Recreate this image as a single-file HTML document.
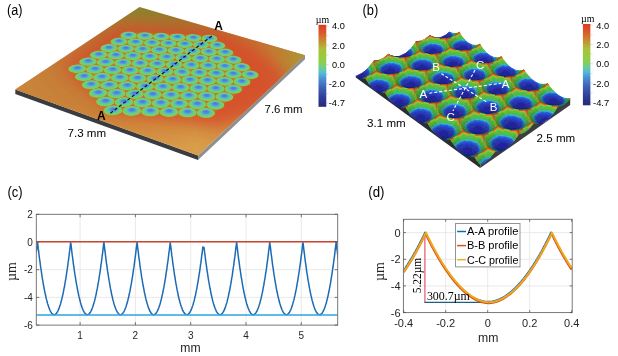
<!DOCTYPE html>
<html><head><meta charset="utf-8"><title>Figure</title>
<style>html,body{margin:0;padding:0;background:#fff;overflow:hidden}svg{display:block}</style></head>
<body><svg width="618" height="356" viewBox="0 0 618 356">
<rect width="618" height="356" fill="#fff"/>
<defs>
<radialGradient id="lensA" cx="0.5" cy="0.5" r="0.5" fx="0.5" fy="0.66">
<stop offset="0" stop-color="#4876dc"/><stop offset="0.3" stop-color="#528ee0"/><stop offset="0.5" stop-color="#5abcc4"/>
<stop offset="0.66" stop-color="#68ce80"/><stop offset="0.9" stop-color="#7ad05e"/><stop offset="0.97" stop-color="#98c44a"/><stop offset="1" stop-color="#b0a040"/>
</radialGradient>
<linearGradient id="plateA" gradientUnits="userSpaceOnUse" x1="139" y1="7" x2="150" y2="150">
<stop offset="0" stop-color="#7f862c"/><stop offset="0.12" stop-color="#a6742e"/><stop offset="0.3" stop-color="#c0622e"/>
<stop offset="0.7" stop-color="#ca7e36"/><stop offset="1" stop-color="#d99e4a"/>
</linearGradient>
<linearGradient id="plateA2" gradientUnits="userSpaceOnUse" x1="15" y1="90" x2="305" y2="60">
<stop offset="0" stop-color="#c98a3c" stop-opacity="0.9"/><stop offset="0.25" stop-color="#c98a3c" stop-opacity="0.3"/>
<stop offset="0.6" stop-color="#d0602c" stop-opacity="0"/><stop offset="0.85" stop-color="#c98436" stop-opacity="0.5"/><stop offset="1" stop-color="#a89a34" stop-opacity="0.9"/>
</linearGradient>
<filter id="blurA" x="-20%" y="-20%" width="140%" height="140%"><feGaussianBlur stdDeviation="7"/></filter>
<filter id="blurS2" x="-20%" y="-20%" width="140%" height="140%"><feGaussianBlur stdDeviation="1"/></filter>
<filter id="blurS" x="-20%" y="-20%" width="140%" height="140%"><feGaussianBlur stdDeviation="0.45"/></filter>
<clipPath id="clipA"><polygon points="15.3,89.4 139.5,7.0 305.0,55.2 198.0,155.5"/></clipPath>
</defs>
<polygon points="15.3,89.4 198.0,155.5 198.0,160.1 15.3,94.0" fill="#3a3d40"/>
<polygon points="198.0,155.5 305.0,55.2 305.0,59.2 198.0,160.1" fill="#8d8f92"/>
<polygon points="15.3,89.4 139.5,7.0 305.0,55.2 198.0,155.5" fill="url(#plateA)"/>
<polygon points="15.3,89.4 139.5,7.0 305.0,55.2 198.0,155.5" fill="url(#plateA2)"/>
<g clip-path="url(#clipA)"><polygon points="288.8,76.0 256.8,49.4 216.9,33.0 119.8,26.5 64.7,68.3 111.8,111.2 218.4,125.6 270.1,106.8" fill="#d84a2c" opacity="0.8" filter="url(#blurA)"/></g>
<polygon points="257.0,74.9 212.8,36.1 125.9,32.6 70.1,68.5 108.4,113.8 209.4,116.6" fill="#b87832" filter="url(#blurS2)"/>
<g filter="url(#blurS)">
<circle r="0.5" fill="url(#lensA)" transform="matrix(16.381 0.651 1.572 -7.547 128.57 35.32)"/>
<circle r="0.5" fill="url(#lensA)" transform="matrix(16.301 0.647 1.325 -7.538 144.91 35.97)"/>
<circle r="0.5" fill="url(#lensA)" transform="matrix(16.221 0.644 1.080 -7.529 161.17 36.61)"/>
<circle r="0.5" fill="url(#lensA)" transform="matrix(16.141 0.641 0.838 -7.521 177.35 37.26)"/>
<circle r="0.5" fill="url(#lensA)" transform="matrix(16.063 0.638 0.597 -7.512 193.46 37.89)"/>
<circle r="0.5" fill="url(#lensA)" transform="matrix(15.985 0.635 0.360 -7.503 209.48 38.53)"/>
<circle r="0.5" fill="url(#lensA)" transform="matrix(16.641 0.644 1.742 -7.751 118.88 41.62)"/>
<circle r="0.5" fill="url(#lensA)" transform="matrix(16.558 0.641 1.487 -7.742 135.48 42.26)"/>
<circle r="0.5" fill="url(#lensA)" transform="matrix(16.476 0.638 1.234 -7.732 152.00 42.90)"/>
<circle r="0.5" fill="url(#lensA)" transform="matrix(16.394 0.635 0.984 -7.722 168.43 43.54)"/>
<circle r="0.5" fill="url(#lensA)" transform="matrix(16.313 0.631 0.736 -7.713 184.79 44.17)"/>
<circle r="0.5" fill="url(#lensA)" transform="matrix(16.232 0.628 0.491 -7.703 201.06 44.80)"/>
<circle r="0.5" fill="url(#lensA)" transform="matrix(16.152 0.625 0.248 -7.693 217.25 45.43)"/>
<circle r="0.5" fill="url(#lensA)" transform="matrix(16.909 0.637 1.920 -7.964 108.91 48.10)"/>
<circle r="0.5" fill="url(#lensA)" transform="matrix(16.823 0.634 1.657 -7.953 125.78 48.74)"/>
<circle r="0.5" fill="url(#lensA)" transform="matrix(16.738 0.631 1.396 -7.943 142.56 49.37)"/>
<circle r="0.5" fill="url(#lensA)" transform="matrix(16.654 0.628 1.138 -7.933 159.25 50.00)"/>
<circle r="0.5" fill="url(#lensA)" transform="matrix(16.571 0.624 0.882 -7.922 175.87 50.62)"/>
<circle r="0.5" fill="url(#lensA)" transform="matrix(16.488 0.621 0.629 -7.912 192.39 51.25)"/>
<circle r="0.5" fill="url(#lensA)" transform="matrix(16.405 0.618 0.379 -7.901 208.84 51.87)"/>
<circle r="0.5" fill="url(#lensA)" transform="matrix(16.324 0.615 0.131 -7.891 225.21 52.48)"/>
<circle r="0.5" fill="url(#lensA)" transform="matrix(17.185 0.629 2.109 -8.186 98.64 54.78)"/>
<circle r="0.5" fill="url(#lensA)" transform="matrix(17.097 0.626 1.837 -8.175 115.78 55.41)"/>
<circle r="0.5" fill="url(#lensA)" transform="matrix(17.010 0.623 1.568 -8.163 132.84 56.03)"/>
<circle r="0.5" fill="url(#lensA)" transform="matrix(16.923 0.620 1.301 -8.152 149.80 56.65)"/>
<circle r="0.5" fill="url(#lensA)" transform="matrix(16.837 0.617 1.037 -8.141 166.68 57.27)"/>
<circle r="0.5" fill="url(#lensA)" transform="matrix(16.751 0.613 0.776 -8.130 183.48 57.88)"/>
<circle r="0.5" fill="url(#lensA)" transform="matrix(16.666 0.610 0.517 -8.118 200.19 58.50)"/>
<circle r="0.5" fill="url(#lensA)" transform="matrix(16.582 0.607 0.261 -8.107 216.81 59.10)"/>
<circle r="0.5" fill="url(#lensA)" transform="matrix(16.499 0.604 0.008 -8.096 233.35 59.71)"/>
<circle r="0.5" fill="url(#lensA)" transform="matrix(17.471 0.621 2.308 -8.418 88.07 61.65)"/>
<circle r="0.5" fill="url(#lensA)" transform="matrix(17.380 0.618 2.027 -8.405 105.49 62.27)"/>
<circle r="0.5" fill="url(#lensA)" transform="matrix(17.290 0.614 1.749 -8.393 122.83 62.89)"/>
<circle r="0.5" fill="url(#lensA)" transform="matrix(17.200 0.611 1.473 -8.381 140.07 63.50)"/>
<circle r="0.5" fill="url(#lensA)" transform="matrix(17.111 0.608 1.201 -8.369 157.23 64.11)"/>
<circle r="0.5" fill="url(#lensA)" transform="matrix(17.023 0.605 0.931 -8.357 174.30 64.72)"/>
<circle r="0.5" fill="url(#lensA)" transform="matrix(16.936 0.602 0.664 -8.345 191.28 65.32)"/>
<circle r="0.5" fill="url(#lensA)" transform="matrix(16.849 0.599 0.399 -8.333 208.17 65.92)"/>
<circle r="0.5" fill="url(#lensA)" transform="matrix(16.763 0.596 0.138 -8.321 224.97 66.52)"/>
<circle r="0.5" fill="url(#lensA)" transform="matrix(16.677 0.593 -0.121 -8.309 241.69 67.11)"/>
<circle r="0.5" fill="url(#lensA)" transform="matrix(17.766 0.612 2.519 -8.660 77.17 68.74)"/>
<circle r="0.5" fill="url(#lensA)" transform="matrix(17.672 0.608 2.228 -8.647 94.89 69.35)"/>
<circle r="0.5" fill="url(#lensA)" transform="matrix(17.579 0.605 1.940 -8.634 112.51 69.96)"/>
<circle r="0.5" fill="url(#lensA)" transform="matrix(17.487 0.602 1.655 -8.621 130.05 70.56)"/>
<circle r="0.5" fill="url(#lensA)" transform="matrix(17.395 0.599 1.374 -8.607 147.49 71.16)"/>
<circle r="0.5" fill="url(#lensA)" transform="matrix(17.304 0.596 1.095 -8.594 164.84 71.76)"/>
<circle r="0.5" fill="url(#lensA)" transform="matrix(17.214 0.592 0.819 -8.581 182.10 72.35)"/>
<circle r="0.5" fill="url(#lensA)" transform="matrix(17.124 0.589 0.546 -8.568 199.27 72.94)"/>
<circle r="0.5" fill="url(#lensA)" transform="matrix(17.036 0.586 0.276 -8.555 216.35 73.53)"/>
<circle r="0.5" fill="url(#lensA)" transform="matrix(16.947 0.583 0.008 -8.542 233.34 74.11)"/>
<circle r="0.5" fill="url(#lensA)" transform="matrix(16.860 0.580 -0.257 -8.529 250.24 74.70)"/>
<circle r="0.5" fill="url(#lensA)" transform="matrix(17.975 0.598 2.440 -8.899 83.96 76.64)"/>
<circle r="0.5" fill="url(#lensA)" transform="matrix(17.878 0.595 2.143 -8.885 101.88 77.24)"/>
<circle r="0.5" fill="url(#lensA)" transform="matrix(17.783 0.592 1.848 -8.871 119.71 77.83)"/>
<circle r="0.5" fill="url(#lensA)" transform="matrix(17.688 0.589 1.557 -8.857 137.45 78.42)"/>
<circle r="0.5" fill="url(#lensA)" transform="matrix(17.594 0.585 1.269 -8.843 155.09 79.01)"/>
<circle r="0.5" fill="url(#lensA)" transform="matrix(17.501 0.582 0.983 -8.828 172.64 79.60)"/>
<circle r="0.5" fill="url(#lensA)" transform="matrix(17.409 0.579 0.701 -8.814 190.09 80.18)"/>
<circle r="0.5" fill="url(#lensA)" transform="matrix(17.317 0.576 0.422 -8.800 207.46 80.75)"/>
<circle r="0.5" fill="url(#lensA)" transform="matrix(17.226 0.573 0.145 -8.786 224.73 81.33)"/>
<circle r="0.5" fill="url(#lensA)" transform="matrix(17.136 0.570 -0.128 -8.772 241.91 81.90)"/>
<circle r="0.5" fill="url(#lensA)" transform="matrix(18.188 0.584 2.357 -9.148 90.92 84.75)"/>
<circle r="0.5" fill="url(#lensA)" transform="matrix(18.089 0.581 2.052 -9.132 109.06 85.34)"/>
<circle r="0.5" fill="url(#lensA)" transform="matrix(17.992 0.577 1.751 -9.117 127.10 85.91)"/>
<circle r="0.5" fill="url(#lensA)" transform="matrix(17.895 0.574 1.453 -9.102 145.04 86.49)"/>
<circle r="0.5" fill="url(#lensA)" transform="matrix(17.798 0.571 1.158 -9.087 162.89 87.06)"/>
<circle r="0.5" fill="url(#lensA)" transform="matrix(17.703 0.568 0.866 -9.072 180.64 87.63)"/>
<circle r="0.5" fill="url(#lensA)" transform="matrix(17.608 0.565 0.577 -9.057 198.29 88.20)"/>
<circle r="0.5" fill="url(#lensA)" transform="matrix(17.514 0.562 0.291 -9.042 215.86 88.76)"/>
<circle r="0.5" fill="url(#lensA)" transform="matrix(17.421 0.559 0.008 -9.027 233.32 89.32)"/>
<circle r="0.5" fill="url(#lensA)" transform="matrix(18.406 0.568 2.268 -9.406 98.06 93.08)"/>
<circle r="0.5" fill="url(#lensA)" transform="matrix(18.305 0.565 1.956 -9.390 116.42 93.64)"/>
<circle r="0.5" fill="url(#lensA)" transform="matrix(18.205 0.562 1.648 -9.374 134.68 94.21)"/>
<circle r="0.5" fill="url(#lensA)" transform="matrix(18.106 0.559 1.342 -9.357 152.83 94.77)"/>
<circle r="0.5" fill="url(#lensA)" transform="matrix(18.007 0.556 1.040 -9.341 170.89 95.32)"/>
<circle r="0.5" fill="url(#lensA)" transform="matrix(17.909 0.553 0.742 -9.325 188.84 95.88)"/>
<circle r="0.5" fill="url(#lensA)" transform="matrix(17.812 0.550 0.446 -9.309 206.71 96.43)"/>
<circle r="0.5" fill="url(#lensA)" transform="matrix(17.716 0.547 0.154 -9.292 224.47 96.98)"/>
<circle r="0.5" fill="url(#lensA)" transform="matrix(18.630 0.552 2.174 -9.676 105.40 101.62)"/>
<circle r="0.5" fill="url(#lensA)" transform="matrix(18.526 0.549 1.855 -9.658 123.98 102.17)"/>
<circle r="0.5" fill="url(#lensA)" transform="matrix(18.423 0.546 1.539 -9.641 142.45 102.72)"/>
<circle r="0.5" fill="url(#lensA)" transform="matrix(18.322 0.543 1.226 -9.623 160.82 103.26)"/>
<circle r="0.5" fill="url(#lensA)" transform="matrix(18.220 0.540 0.917 -9.605 179.10 103.80)"/>
<circle r="0.5" fill="url(#lensA)" transform="matrix(18.120 0.537 0.611 -9.588 197.27 104.34)"/>
<circle r="0.5" fill="url(#lensA)" transform="matrix(18.021 0.534 0.308 -9.571 215.34 104.88)"/>
<circle r="0.5" fill="url(#lensA)" transform="matrix(18.859 0.535 2.074 -9.956 112.93 110.39)"/>
<circle r="0.5" fill="url(#lensA)" transform="matrix(18.753 0.532 1.747 -9.937 131.74 110.92)"/>
<circle r="0.5" fill="url(#lensA)" transform="matrix(18.647 0.529 1.423 -9.918 150.44 111.45)"/>
<circle r="0.5" fill="url(#lensA)" transform="matrix(18.543 0.526 1.103 -9.900 169.03 111.98)"/>
<circle r="0.5" fill="url(#lensA)" transform="matrix(18.439 0.523 0.786 -9.881 187.52 112.50)"/>
<circle r="0.5" fill="url(#lensA)" transform="matrix(18.336 0.520 0.473 -9.862 205.91 113.03)"/>
</g>
<line x1="110.4" y1="113.2" x2="212.6" y2="35.3" stroke="#111" stroke-width="1.2" stroke-dasharray="3.2 2.2"/>
<text x="97.0" y="120.3" font-size="12" font-family='"Liberation Sans", sans-serif' fill="#000" font-weight="bold">A</text>
<text x="214.3" y="30.1" font-size="12" font-family='"Liberation Sans", sans-serif' fill="#000" font-weight="bold">A</text>
<text x="67.5" y="137.1" font-size="11" font-family='"Liberation Sans", sans-serif' fill="#000" textLength="38.6" lengthAdjust="spacingAndGlyphs">7.3 mm</text>
<text x="264.6" y="112.8" font-size="11" font-family='"Liberation Sans", sans-serif' fill="#000" textLength="38" lengthAdjust="spacingAndGlyphs">7.6 mm</text>
<polygon fill="#2c2e31" points="355.8,76.2 357.0,77.0 358.2,77.6 359.4,78.0 360.6,78.3 361.8,78.3 363.0,78.2 364.2,77.9 365.5,77.9 366.7,80.1 367.9,82.1 369.1,83.9 370.4,85.5 371.6,87.0 372.8,88.3 374.1,89.4 375.3,90.3 376.6,91.1 377.8,91.7 379.1,92.1 380.4,92.3 381.6,92.4 382.9,92.3 384.2,92.0 385.5,92.8 386.7,94.9 388.0,96.9 389.3,98.7 390.6,100.4 391.9,101.8 393.2,103.1 394.5,104.2 395.8,105.2 397.2,105.9 398.5,106.5 399.8,106.9 401.1,107.2 402.5,107.2 403.8,107.1 405.2,106.8 406.5,108.4 407.9,110.6 409.2,112.5 410.6,114.3 412.0,116.0 413.3,117.4 414.7,118.7 416.1,119.8 417.5,120.8 418.9,121.5 420.3,122.1 421.7,122.5 423.1,122.8 424.5,122.8 425.9,122.7 427.3,122.5 428.7,124.8 430.1,127.0 431.6,129.0 433.0,130.8 434.5,132.4 435.9,133.9 437.4,135.2 438.8,136.3 440.3,137.2 441.7,138.0 443.2,138.6 444.7,139.0 446.2,139.2 447.7,139.3 449.2,139.2 450.7,139.8 452.2,142.1 453.7,144.3 455.2,146.3 456.7,148.1 458.2,149.7 459.8,151.2 461.3,152.5 462.8,153.6 464.4,154.6 465.9,155.3 467.5,155.9 469.1,156.4 470.6,156.6 472.2,156.7 473.8,156.6 475.4,158.0 477.0,160.4 478.6,162.6 480.2,164.6 480.2,168.1 355.8,77.5"/>
<polygon fill="#3b3d40" points="480.2,164.6 481.3,164.1 482.4,163.6 483.5,162.9 484.6,162.2 485.7,161.4 486.8,160.6 487.9,159.6 489.0,158.6 490.0,157.4 491.1,156.2 492.2,154.9 493.3,153.5 494.4,152.1 495.4,151.1 496.5,151.2 497.6,151.3 498.7,151.2 499.7,151.1 500.8,150.9 501.8,150.6 502.9,150.2 504.0,149.7 505.0,149.2 506.1,148.5 507.1,147.8 508.1,147.0 509.2,146.1 510.2,145.1 511.3,144.1 512.3,142.9 513.3,141.7 514.4,140.4 515.4,139.0 516.4,137.5 517.4,136.0 518.5,134.3 519.5,134.0 520.5,133.7 521.5,133.4 522.5,133.1 523.5,132.6 524.5,132.0 525.5,131.4 526.5,130.7 527.5,129.9 528.5,129.0 529.5,128.0 530.5,126.9 531.5,125.8 532.5,124.6 533.5,123.3 534.5,123.2 535.5,123.5 536.4,123.7 537.4,123.8 538.4,123.8 539.4,123.8 540.3,123.6 541.3,123.4 542.3,123.1 543.2,122.7 544.2,122.2 545.1,121.6 546.1,121.0 547.0,120.2 548.0,119.4 549.0,118.5 549.9,117.5 550.8,116.4 551.8,115.3 552.7,114.1 553.7,112.7 554.6,111.3 555.5,109.8 556.5,108.2 557.4,106.6 558.3,106.1 559.3,106.1 560.2,105.9 561.1,105.6 562.0,105.3 562.9,104.9 563.9,104.4 564.8,103.8 565.7,103.1 566.6,102.4 567.5,101.5 568.4,100.6 569.3,99.6 570.2,98.5 570.2,105.1 480.2,168.1"/>
<filter id="blurB" x="-5%" y="-5%" width="110%" height="110%"><feGaussianBlur stdDeviation="0.5"/></filter>
<g fill="currentColor" stroke="currentColor" stroke-width="0.7" stroke-linejoin="round" filter="url(#blurB)">
<path d="M449.2 32.3l.2-.3z" color="#26d"/>
<path d="M447.9 33.5l1.3-1.2z" color="#24b"/>
<path d="M449.2 32.3l1.3 1.4l1-.7l-2.1-1z" color="#25c"/>
<path d="M449 34.6l1.5-.9l-1.3-1.4l-1.3 1.2z" color="#24b"/>
<path d="M446.2 34.8l1.7-1.3z" color="#23b"/>
<path d="M447 35.5l2-.9l-1.1-1.1l-1.7 1.3z" color="#23a"/>
<path d="M450.5 33.7l.6 1.4l1.4-.6l-.6-1.4l-.4-.1z" color="#25b"/>
<path d="M449.4 35.7l1.7-.6l-.6-1.4l-1.5 .9z" color="#23a"/>
<path d="M452.5 34.5l1.2-.6l-.2-.5l-1.6-.3z" color="#39b"/>
<path d="M447.3 36.3l2.1-.6l-.4-1.1l-2 .9z" color="#23a"/>
<path d="M453.7 33.9l.6-.4l-.8-.1z" color="#3a5"/>
<path d="M447.1 37.1l2.1-.2l.2-1.2l-2.1 .6z" color="#239"/>
<path d="M449.2 36.9l1.7-.4l.2-1.4l-1.7 .6z" color="#23a"/>
<path d="M450.9 36.5l1.4-.4l.2-1.6l-1.4 .6z" color="#24a"/>
<path d="M453.7 33.9l0 1.7l1.2-.6l-.1-1.5l-.5 0z" color="#395"/>
<path d="M452.3 36.1l1.4-.5l0-1.7l-1.2 .6z" color="#27b"/>
<path d="M446.2 34.8l-6.7 3.1l1.2 .5l1.5 .3l1.5 0l1.5-.3l1.2-.6l.7-.7l.2-.8l-.3-.8z" color="#229"/>
<path d="M454.9 35l1.2-.6l-.3-1l-1 .1z" color="#493"/>
<path d="M446.4 37.8l1.6 .1l1.2-1l-2.1 .2z" color="#229"/>
<path d="M456.1 34.4l1-.6l-.3-.5l-1 .1z" color="#493"/>
<path d="M448 37.9l1.3 0l1.6-1.4l-1.7 .4z" color="#229"/>
<path d="M439.5 37.9l-1.7 .2l1.7-.2z" color="#228"/>
<path d="M457.1 33.8l.8-.5l-.2-.3l-.9 .3z" color="#593"/>
<path d="M445.2 38.4l1.1 .3l1.7-.8l-1.6-.1z" color="#228"/>
<path d="M449.3 37.9l1.1-.2l1.9-1.6l-1.4 .4z" color="#239"/>
<path d="M439.5 37.9l-1.7 .2l1.9 .7l1-.4z" color="#128"/>
<path d="M457.9 33.3l.8-.5l-.2-.1l-.8 .3z" color="#7a3"/>
<path d="M450.4 37.7l.9-.2l2.4-1.9l-1.4 .5z" color="#25a"/>
<path d="M437.8 38.1l-1.3-.1l1.3 .1z" color="#228"/>
<path d="M458.7 32.8l.6-.4l-.1 0l-.7 .3z" color="#a82"/>
<path d="M443.7 38.7l.4 .5l2.2-.5l-1.1-.3z" color="#128"/>
<path d="M440.7 38.4l-1 .4l2.1 .4l.4-.5z" color="#128"/>
<path d="M459.2 32.4l.1 0l.1 .1z" color="#582"/>
<path d="M451.3 37.5l.9-.2l2.7-2.3l-1.2 .6z" color="#289"/>
<path d="M459.3 32.4l.2 .2l-.1-.1z" color="#472"/>
<path d="M446.3 38.7l.8 .2l2.2-1l-1.3 0z" color="#228"/>
<path d="M442.2 38.7l-.4 .5l2.3 0l-.4-.5z" color="#128"/>
<path d="M437.8 38.1l-1.3-.1l2.3 1l.9-.2z" color="#128"/>
<path d="M460.2 33.6l-.7-1l-.2-.2l.1 .8z" color="#d42"/>
<path d="M452.2 37.3l.7-.3l3.2-2.6l-1.2 .6z" color="#384"/>
<path d="M436.5 38l-1.2-.1l1.2 .1z" color="#239"/>
<path d="M452.9 37l.6-.3l3.6-2.9l-1 .6z" color="#383"/>
<path d="M447.1 38.9l.8 0l2.5-1.2l-1.1 .2z" color="#238"/>
<path d="M461 35l-.8-1.4l-.8-.4l.2 1.1z" color="#d72"/>
<path d="M453.5 36.7l.5-.2l3.9-3.2l-.8 .5z" color="#483"/>
<path d="M444.1 39.2l.4 .2l2.6-.5l-.8-.2z" color="#128"/>
<path d="M439.7 38.8l-.9 .2l2.8 .5l.2-.3z" color="#127"/>
<path d="M436.5 38l-1.2-.1l2.9 1.1l.6 0z" color="#138"/>
<path d="M454 36.5l.5-.2l4.2-3.5l-.8 .5z" color="#482"/>
<path d="M435.3 37.9l-1.1-.3l1.1 .3z" color="#259"/>
<path d="M454.5 36.3l.3-.2l4.5-3.7l-.6 .4z" color="#582"/>
<path d="M441.8 39.2l-.2 .3l2.9-.1l-.4-.2z" color="#127"/>
<path d="M461.9 36.2l-.9-1.2l-1.4-.7l.1 1.1z" color="#9c3"/>
<path d="M447.9 38.9l.6-.1l2.8-1.3l-.9 .2z" color="#239"/>
<path d="M459.4 33.2l-.1-.8l-4.5 3.7l.2 .5z" color="#d42"/>
<path d="M434.2 37.6l-1-.3l1 .3z" color="#277"/>
<path d="M435.3 37.9l-1.1-.3l3.4 1.4l.6 0z" color="#238"/>
<path d="M459.6 34.3l-.2-1.1l-4.4 3.4l.3 .7z" color="#d72"/>
<path d="M444.5 39.4l.3 .1l3.1-.6l-.8 0z" color="#128"/>
<path d="M438.8 39l-.6 0l3.2 .6l.2-.1z" color="#127"/>
<path d="M448.5 38.8l.6-.1l3.1-1.4l-.9 .2z" color="#249"/>
<path d="M462.9 37.6l-1-1.4l-2.2-.8l.3 1.3z" color="#6b3"/>
<path d="M433.2 37.3l-.9-.3l.9 .3z" color="#373"/>
<path d="M459.7 35.4l-.1-1.1l-4.3 3l.3 .7z" color="#8c3"/>
<path d="M441.6 39.5l-.2 .1l3.4-.1l-.3-.1z" color="#127"/>
<path d="M434.2 37.6l-1-.3l3.8 1.6l.6 .1z" color="#258"/>
<path d="M449.1 38.7l.4-.1l3.4-1.6l-.7 .3z" color="#278"/>
<path d="M438.2 39l-.6 0l3.6 .6l.2 0z" color="#138"/>
<path d="M444.8 39.5l.3 0l3.4-.7l-.6 .1z" color="#238"/>
<path d="M432.3 37l-.8-.4l.8 .4z" color="#372"/>
<path d="M464 38.9l-1.1-1.3l-2.9-.9l.2 1.4z" color="#5b4"/>
<path d="M460 36.7l-.3-1.3l-4.1 2.6l.4 .8z" color="#6b3"/>
<path d="M449.5 38.6l.5-.2l3.5-1.7l-.6 .3z" color="#275"/>
<path d="M433.2 37.3l-.9-.3l4.3 1.7l.4 .2z" color="#275"/>
<path d="M431.5 36.6l-.7-.4l.7 .4z" color="#372"/>
<path d="M450 38.4l.3-.1l3.7-1.8l-.5 .2z" color="#273"/>
<path d="M441.4 39.6l-.2 0l3.9-.1l-.3 0z" color="#138"/>
<path d="M460.2 38.1l-.2-1.4l-4 2.1l.5 1z" color="#5b4"/>
<path d="M432.3 37l-.8-.4l4.7 2l.4 .1z" color="#273"/>
<path d="M437.6 39l-.6-.1l4 .7l.2 0z" color="#238"/>
<path d="M450.3 38.3l.3-.2l3.9-1.8l-.5 .2z" color="#373"/>
<path d="M445.1 39.5l.2-.1l3.8-.7l-.6 .1z" color="#248"/>
<path d="M430.8 36.2l-.6-.3l.6 .3z" color="#472"/>
<path d="M464.4 40.1l.1-.7l-.5-.5l-3.8-.8l.3 1.5z" color="#4b4"/>
<path d="M450.6 38.1l.2-.1l4-1.9l-.3 .2z" color="#372"/>
<path d="M431.5 36.6l-.7-.4l5.1 2.3l.3 .1z" color="#372"/>
<path d="M430.2 35.9l-.5-.3l.5 .3z" color="#582"/>
<path d="M455 36.6l-.2-.5l-4 1.9l.3 .4z" color="#ab3"/>
<path d="M429.7 35.6z" color="#a82"/>
<path d="M441.2 39.6l-.2 0l4.3-.2l-.2 .1z" color="#238"/>
<path d="M464.4 40.1l.9 .2l-.8-.9z" color="#4b5"/>
<path d="M437 38.9l-.4-.2l4.2 .8l.2 .1z" color="#258"/>
<path d="M460.5 39.6l-.3-1.5l-3.7 1.7l.6 1.1z" color="#4b4"/>
<path d="M455.3 37.3l-.3-.7l-3.9 1.8l.4 .6z" color="#8b3"/>
<path d="M430.8 36.2l-.6-.3l5.4 2.4l.3 .2z" color="#372"/>
<path d="M445.3 39.4l.3-.1l3.9-.7l-.4 .1z" color="#268"/>
<path d="M464.2 41.3l.2-1.2l-3.9-.5l.3 1.4z" color="#3bb"/>
<path d="M455.6 38l-.3-.7l-3.8 1.7l.5 .6z" color="#6b3"/>
<path d="M430.2 35.9l-.5-.3l5.7 2.6l.2 .1z" color="#472"/>
<path d="M436.6 38.7l-.4-.1l4.5 .8l.1 .1z" color="#277"/>
<path d="M467 41.9l-1.7-1.6l-.9-.2l-.2 1.2z" color="#3ad"/>
<path d="M456 38.8l-.4-.8l-3.6 1.6l.7 .8z" color="#5a3"/>
<path d="M441 39.6l-.2-.1l4.8-.2l-.3 .1z" color="#258"/>
<path d="M435.4 38.7l0-.5l-5.7-2.6l.1 .8z" color="#d42"/>
<path d="M445.6 39.3l.2-.2l4.2-.7l-.5 .2z" color="#275"/>
<path d="M460.8 41l-.3-1.4l-3.4 1.3l.6 1.1z" color="#3ab"/>
<path d="M436.2 38.6l-.3-.1l4.7 .8l.1 .1z" color="#274"/>
<path d="M435.3 39.4l.1-.7l-5.6-2.3l.2 1z" color="#d72"/>
<path d="M456.5 39.8l-.5-1l-3.3 1.6l.7 .9z" color="#4a3"/>
<path d="M464.1 42.7l.1-1.4l-3.4-.3l.3 1.5z" color="#26d"/>
<path d="M425.1 39.3l4.6-3.7z" color="#582"/>
<path d="M445.8 39.1l.2-.2l4.3-.6l-.3 .1z" color="#273"/>
<path d="M435.9 38.5l-.3-.2l4.9 .9l.1 .1z" color="#273"/>
<path d="M440.8 39.5l-.1-.1l5.1-.3l-.2 .2z" color="#276"/>
<path d="M429.8 36.4l-.1-.8l-4.6 3.7l.2 .5z" color="#d42"/>
<path d="M435.2 40.2l.1-.8l-5.3-2l.1 1.2z" color="#9c3"/>
<path d="M457.1 40.9l-.6-1.1l-3.1 1.5l.9 .9z" color="#3a5"/>
<path d="M435.6 38.3l-.2-.1l5.1 .9l0 .1z" color="#372"/>
<path d="M466.8 43.1l.5-.9l-.3-.3l-2.8-.6l-.1 1.4z" color="#25d"/>
<path d="M461.1 42.5l-.3-1.5l-3.1 1l.8 1.3z" color="#25d"/>
<path d="M446 38.9l.1-.3l4.5-.5l-.3 .2z" color="#372"/>
<path d="M430 37.4l-.2-1l-4.5 3.4l.2 .7z" color="#d72"/>
<path d="M440.3 39.6l.2-.5l-5.1-.9l0 .5z" color="#bc3"/>
<path d="M440.7 39.4l-.1-.1l5.4-.4l-.2 .2z" color="#274"/>
<path d="M446.1 38.6l.1-.1l4.6-.5l-.2 .1z" color="#372"/>
<path d="M435 41.1l.2-.9l-5.1-1.6l.2 1.3z" color="#6b3"/>
<path d="M440 40.2l.3-.6l-4.9-.9l-.1 .7z" color="#8c3"/>
<path d="M457.7 42l-.6-1.1l-2.8 1.3l.9 1z" color="#39c"/>
<path d="M430.1 38.6l-.1-1.2l-4.5 3.1l.4 .7z" color="#8c3"/>
<path d="M463.8 44.1l.3-1.4l-3-.2l.4 1.6z" color="#24c"/>
<path d="M451.1 38.4l-.3-.4l-4.6 .5l.6 .6z" color="#b31"/>
<path d="M440.6 39.3l-.1-.1l5.6-.6l-.1 .3z" color="#372"/>
<path d="M451.5 39l-.4-.6l-4.3 .7l.8 .7z" color="#b62"/>
<path d="M439.7 41l.3-.8l-4.7-.8l-.1 .8z" color="#6b3"/>
<path d="M466.1 44.5l.7-1.4l-2.7-.4l-.3 1.4z" color="#24c"/>
<path d="M461.5 44.1l-.4-1.6l-2.6 .8l.9 1.3z" color="#24b"/>
<path d="M452 39.6l-.5-.6l-3.9 .8l.8 .9z" color="#7a3"/>
<path d="M466.8 43.1l2.5 .8l.2-.2l-2.2-1.5z" color="#26d"/>
<path d="M430.3 39.9l-.2-1.3l-4.2 2.6l.4 .8z" color="#6b3"/>
<path d="M440.5 39.2l0-.1l5.7-.6l-.1 .1z" color="#372"/>
<path d="M434.9 42.1l.1-1l-4.7-1.2l.2 1.4z" color="#5b4"/>
<path d="M458.5 43.3l-.8-1.3l-2.5 1.2l1.1 1.1z" color="#25c"/>
<path d="M452.7 40.4l-.7-.8l-3.6 1.1l1.1 .9z" color="#5a3"/>
<path d="M439.3 41.8l.4-.8l-4.5-.8l-.2 .9z" color="#5b4"/>
<path d="M445.8 39.2l.4-.7l-5.7 .6l-.2 .5z" color="#d42"/>
<path d="M453.4 41.3l-.7-.9l-3.2 1.2l1.1 1z" color="#4a3"/>
<path d="M430.5 41.3l-.2-1.4l-4 2.1l.4 1z" color="#5b4"/>
<path d="M468 45.2l1.3-1.3l-2.5-.8l-.7 1.4z" color="#24b"/>
<path d="M445.2 40.1l.6-.9l-5.5 .4l-.3 .6z" color="#d72"/>
<path d="M438.8 42.8l.5-1l-4.3-.7l-.1 1z" color="#5b4"/>
<path d="M434.7 43.3l.2-1.2l-4.4-.8l.3 1.5z" color="#4b4"/>
<path d="M463.6 45.8l.2-1.7l-2.3 0l.5 1.7z" color="#23b"/>
<path d="M459.4 44.6l-.9-1.3l-2.2 1l1.3 1.1z" color="#23b"/>
<path d="M454.3 42.2l-.9-.9l-2.8 1.3l1.3 1z" color="#393"/>
<path d="M444.5 41.1l.7-1l-5.2 .1l-.3 .8z" color="#9c3"/>
<path d="M465.1 46.1l1-1.6l-2.3-.4l-.2 1.7z" color="#23b"/>
<path d="M420.9 41.2l4.2-1.9z" color="#372"/>
<path d="M462 45.8l-.5-1.7l-2.1 .5l1.1 1.5z" color="#23a"/>
<path d="M425.3 39.8l-.2-.5l-4.2 1.9l.4 .4z" color="#ab3"/>
<path d="M455.2 43.2l-.9-1l-2.4 1.4l1.4 1z" color="#39a"/>
<path d="M430.8 42.8l-.3-1.5l-3.8 1.7l.6 1.1z" color="#4b4"/>
<path d="M425.5 40.5l-.2-.7l-4 1.8l.4 .6z" color="#8b3"/>
<path d="M438.3 43.9l.5-1.1l-3.9-.7l-.2 1.2z" color="#4b5"/>
<path d="M443.7 42.2l.8-1.1l-4.8-.1l-.4 .8z" color="#6b3"/>
<path d="M469.3 43.9l1.4 1.5l1-.7l-2.2-1z" color="#25c"/>
<path d="M466.3 46.6l1.7-1.4l-1.9-.7l-1 1.6z" color="#23b"/>
<path d="M434.5 44.6l.2-1.3l-3.9-.5l.2 1.5z" color="#3bb"/>
<path d="M425.9 41.2l-.4-.7l-3.8 1.7l.5 .6z" color="#6b3"/>
<path d="M456.3 44.3l-1.1-1.1l-1.9 1.4l1.5 .9z" color="#25b"/>
<path d="M460.5 46.1l-1.1-1.5l-1.8 .8l1.7 1.3z" color="#23a"/>
<path d="M469.1 46.3l1.6-.9l-1.4-1.5l-1.3 1.3z" color="#24b"/>
<path d="M442.7 43.4l1-1.2l-4.4-.4l-.5 1z" color="#5b4"/>
<path d="M426.3 42l-.4-.8l-3.7 1.6l.6 .8z" color="#5a3"/>
<path d="M431 44.3l-.2-1.5l-3.5 1.3l.6 1.2z" color="#3ab"/>
<path d="M437.7 45.1l.6-1.2l-3.6-.6l-.2 1.3z" color="#3ad"/>
<path d="M457.6 45.4l-1.3-1.1l-1.5 1.2l1.7 1z" color="#23a"/>
<path d="M426.7 43l-.4-1l-3.5 1.6l.7 .9z" color="#4a3"/>
<path d="M441.7 44.7l1-1.3l-3.9-.6l-.5 1.1z" color="#4b4"/>
<path d="M434.3 45.9l.2-1.3l-3.5-.3l.3 1.4z" color="#26d"/>
<path d="M467.2 47.3l1.9-1l-1.1-1.1l-1.7 1.4z" color="#23a"/>
<path d="M459.3 46.7l-1.7-1.3l-1.1 1.1l2.1 .9z" color="#23a"/>
<path d="M446.8 39.1l-.6-.6l1.2 4.8l.4 .3z" color="#a31"/>
<path d="M447 43.6l.4-.3l-1.2-4.8l-.4 .7z" color="#c32"/>
<path d="M447.6 39.8l-.8-.7l1 4.5l.6 .3z" color="#a62"/>
<path d="M427.3 44.1l-.6-1.1l-3.2 1.5l.8 .9z" color="#3a5"/>
<path d="M437 46.4l.7-1.3l-3.2-.5l-.2 1.3z" color="#25d"/>
<path d="M431.3 45.7l-.3-1.4l-3.1 1l.7 1.2z" color="#25d"/>
<path d="M448.4 40.7l-.8-.9l.8 4.1l.6 .5z" color="#793"/>
<path d="M449.5 41.6l-1.1-.9l.6 3.7l.8 .5z" color="#593"/>
<path d="M446.5 44.2l.5-.6l-1.2-4.4l-.6 .9z" color="#c72"/>
<path d="M440.6 45.9l1.1-1.2l-3.4-.8l-.6 1.2z" color="#3bb"/>
<path d="M470.7 45.4l.6 1.5l1.4-.6l-.6-1.5l-.4-.1z" color="#25b"/>
<path d="M450.6 42.6l-1.1-1l.3 3.3l1 .5z" color="#493"/>
<path d="M451.9 43.6l-1.3-1l.2 2.8l1.1 .6z" color="#393"/>
<path d="M445.9 44.7l.6-.5l-1.3-4.1l-.7 1z" color="#8b3"/>
<path d="M453.3 44.6l-1.4-1l0 2.4l1.2 .6z" color="#299"/>
<path d="M427.9 45.3l-.6-1.2l-3 1.3l1 1.1z" color="#39c"/>
<path d="M469.7 47.5l1.6-.6l-.6-1.5l-1.6 .9z" color="#23a"/>
<path d="M416.2 41.7l4.7-.5z" color="#372"/>
<path d="M434 47.4l.3-1.5l-3-.2l.3 1.6z" color="#24c"/>
<path d="M454.8 45.5l-1.5-.9l-.2 2l1.4 .6z" color="#25b"/>
<path d="M421.3 41.6l-.4-.4l-4.7 .5l.6 .6z" color="#b31"/>
<path d="M445.2 45.4l.7-.7l-1.4-3.6l-.8 1.1z" color="#6b3"/>
<path d="M472.7 46.3l1.3-.6l-.2-.5l-1.7-.4z" color="#39b"/>
<path d="M467.5 48.1l2.2-.6l-.6-1.2l-1.9 1z" color="#23a"/>
<path d="M456.5 46.5l-1.7-1l-.3 1.7l1.7 .5z" color="#23a"/>
<path d="M421.7 42.2l-.4-.6l-4.5 .7l.8 .8z" color="#b62"/>
<path d="M439.4 47.2l1.2-1.3l-2.9-.8l-.7 1.3z" color="#26d"/>
<path d="M436.2 47.8l.8-1.4l-2.7-.5l-.3 1.5z" color="#24c"/>
<path d="M431.6 47.3l-.3-1.6l-2.7 .8l.9 1.4z" color="#24b"/>
<path d="M458.6 47.4l-2.1-.9l-.3 1.2l2.2 .6z" color="#239"/>
<path d="M422.2 42.8l-.5-.6l-4.1 .9l.8 .8z" color="#7a3"/>
<path d="M444.3 46.1l.9-.7l-1.5-3.2l-1 1.2z" color="#5a3"/>
<path d="M474 45.7l.6-.4l-.8-.1z" color="#3a5"/>
<path d="M428.6 46.5l-.7-1.2l-2.6 1.2l1.1 1z" color="#25c"/>
<path d="M422.8 43.6l-.6-.8l-3.8 1.1l1 .9z" color="#5a3"/>
<path d="M443.3 46.9l1-.8l-1.6-2.7l-1 1.3z" color="#4a4"/>
<path d="M466.3 46.6l-1.2-.5l-1.5-.3l-1.6 0l-1.5 .3l-1.2 .6l-.7 .7l-.2 .9l.3 .8l.8 .7l1.3 .5l1.5 .3l1.6 0l1.5-.3l1.2-.6l.7-.7l.2-.9l-.3-.8z" color="#229"/>
<path d="M423.5 44.5l-.7-.9l-3.4 1.2l1.2 1z" color="#4a3"/>
<path d="M438.1 48.5l1.3-1.3l-2.4-.8l-.8 1.4z" color="#24b"/>
<path d="M433.6 49.1l.4-1.7l-2.4-.1l.4 1.8z" color="#23b"/>
<path d="M429.5 47.9l-.9-1.4l-2.2 1l1.3 1.2z" color="#23b"/>
<path d="M416.2 41.7z" color="#372"/>
<path d="M424.3 45.4l-.8-.9l-2.9 1.3l1.3 1z" color="#393"/>
<path d="M442.1 47.8l1.2-.9l-1.6-2.2l-1.1 1.2z" color="#3ab"/>
<path d="M415.8 42.4l.4-.7z" color="#d42"/>
<path d="M467.3 49l2.1-.3l.3-1.2l-2.2 .6z" color="#239"/>
<path d="M435.1 49.3l1.1-1.5l-2.2-.4l-.4 1.7z" color="#23b"/>
<path d="M432 49.1l-.4-1.8l-2.1 .6l1 1.5z" color="#23a"/>
<path d="M469.4 48.7l1.8-.3l.1-1.5l-1.6 .6z" color="#23a"/>
<path d="M458.4 48.3l-2.2-.6l.5 1.3l2 .1z" color="#229"/>
<path d="M425.3 46.5l-1-1.1l-2.4 1.4l1.4 1z" color="#39a"/>
<path d="M415.1 43.3l.7-.9z" color="#d72"/>
<path d="M440.8 48.7l1.3-.9l-1.5-1.9l-1.2 1.3z" color="#25c"/>
<path d="M471.2 48.4l1.5-.4l0-1.7l-1.4 .6z" color="#24a"/>
<path d="M474 45.7l.1 1.8l1.3-.6l-.3-1.6l-.5 0z" color="#395"/>
<path d="M456.2 47.7l-1.7-.5l.6 1.5l1.6 .3z" color="#239"/>
<path d="M472.7 48l1.4-.5l-.1-1.8l-1.3 .6z" color="#27b"/>
<path d="M436.4 49.8l1.7-1.3l-1.9-.7l-1.1 1.5z" color="#23b"/>
<path d="M454.5 47.2l-1.4-.6l.7 1.8l1.3 .3z" color="#24a"/>
<path d="M426.4 47.5l-1.1-1l-2 1.3l1.4 1z" color="#25b"/>
<path d="M414.4 44.3l.7-1z" color="#9c3"/>
<path d="M430.5 49.4l-1-1.5l-1.8 .8l1.6 1.3z" color="#23a"/>
<path d="M453.1 46.6l-1.2-.6l.8 2l1.1 .4z" color="#26a"/>
<path d="M439.2 49.6l1.6-.9l-1.4-1.5l-1.3 1.3z" color="#24b"/>
<path d="M451.9 46l-1.1-.6l.8 2.2l1.1 .4z" color="#385"/>
<path d="M413.6 45.5l.8-1.2z" color="#6b3"/>
<path d="M450.8 45.4l-1-.5l.9 2.3l.9 .4z" color="#383"/>
<path d="M475.4 46.9l1.1-.6l-.3-1l-1.1 0z" color="#493"/>
<path d="M427.7 48.7l-1.3-1.2l-1.7 1.3l1.7 .9z" color="#23a"/>
<path d="M466.6 49.7l1.7 .2l1.1-1.2l-2.1 .3z" color="#229"/>
<path d="M449.8 44.9l-.8-.5l1 2.5l.7 .3z" color="#483"/>
<path d="M449 44.4l-.6-.5l1 2.7l.6 .3z" color="#482"/>
<path d="M458.7 49.1l-2-.1l1.2 1l1.6-.2z" color="#228"/>
<path d="M448.4 43.9l-.6-.3l1.1 2.7l.5 .3z" color="#582"/>
<path d="M447.8 43.6l-.4-.3l1.1 2.8l.4 .2z" color="#682"/>
<path d="M448.1 46.4l.4-.3l-1.1-2.8l-.4 .3z" color="#9a3"/>
<path d="M447.5 46.8l.6-.4l-1.1-2.8l-.5 .6z" color="#7a3"/>
<path d="M437.2 50.6l2-1l-1.1-1.1l-1.7 1.3z" color="#23a"/>
<path d="M412.6 46.7l1-1.2z" color="#5b4"/>
<path d="M476.5 46.3l1.1-.5l-.4-.7l-1 .2z" color="#493"/>
<path d="M446.9 47.2l.6-.4l-1-2.6l-.6 .5z" color="#5a3"/>
<path d="M446.1 47.7l.8-.5l-1-2.5l-.7 .7z" color="#5a3"/>
<path d="M429.3 50l-1.6-1.3l-1.3 1l2.1 1z" color="#23a"/>
<path d="M468.3 49.9l1.3-.1l1.6-1.4l-1.8 .3z" color="#229"/>
<path d="M416.8 42.3l-.6-.6l1 4.9l.5 .2z" color="#a31"/>
<path d="M445.1 48.3l1-.6l-.9-2.3l-.9 .7z" color="#4a3"/>
<path d="M416.9 46.9l.3-.3l-1-4.9l-.4 .7z" color="#c32"/>
<path d="M417.6 43.1l-.8-.8l.9 4.5l.5 .4z" color="#a62"/>
<path d="M444 48.9l1.1-.6l-.8-2.2l-1 .8z" color="#3a5"/>
<path d="M418.4 43.9l-.8-.8l.6 4.1l.7 .4z" color="#793"/>
<path d="M456.7 49l-1.6-.3l1.4 1.3l1.4 0z" color="#228"/>
<path d="M419.4 44.8l-1-.9l.5 3.7l.8 .5z" color="#593"/>
<path d="M477.6 45.8l.8-.5l-.2-.4l-1 .2z" color="#593"/>
<path d="M416.3 47.4l.6-.5l-1.1-4.5l-.7 .9z" color="#c72"/>
<path d="M442.8 49.6l1.2-.7l-.7-2l-1.2 .9z" color="#39b"/>
<path d="M411.6 48l1-1.3z" color="#4b4"/>
<path d="M465.4 50.3l1.1 .4l1.8-.8l-1.7-.2z" color="#228"/>
<path d="M420.6 45.8l-1.2-1l.3 3.3l.9 .6z" color="#493"/>
<path d="M469.6 49.8l1.1-.1l2-1.7l-1.5 .4z" color="#239"/>
<path d="M441.4 50.2l1.4-.6l-.7-1.8l-1.3 .9z" color="#25b"/>
<path d="M421.9 46.8l-1.3-1l0 2.9l1.1 .6z" color="#393"/>
<path d="M459.5 49.8l-1.6 .2l1.9 .8l1-.5z" color="#128"/>
<path d="M415.7 48l.6-.6l-1.2-4.1l-.7 1z" color="#8b3"/>
<path d="M423.3 47.8l-1.4-1l-.2 2.5l1.3 .6z" color="#299"/>
<path d="M478.4 45.3l.8-.6l-.1-.1l-.9 .3z" color="#7a3"/>
<path d="M439.7 50.8l1.7-.6l-.6-1.5l-1.6 .9z" color="#23a"/>
<path d="M424.7 48.8l-1.4-1l-.3 2.1l1.4 .5z" color="#25b"/>
<path d="M455.1 48.7l-1.3-.3l1.6 1.5l1.1 .1z" color="#239"/>
<path d="M415 48.7l.7-.7l-1.3-3.7l-.8 1.2z" color="#6b3"/>
<path d="M470.7 49.7l1-.2l2.4-2l-1.4 .5z" color="#25a"/>
<path d="M437.5 51.4l2.2-.6l-.5-1.2l-2 1z" color="#23a"/>
<path d="M426.4 49.7l-1.7-.9l-.3 1.6l1.7 .6z" color="#23a"/>
<path d="M410.4 49.2l1.2-1.2z" color="#3bb"/>
<path d="M479.2 44.7l.6-.3l0-.1l-.7 .3z" color="#a82"/>
<path d="M463.9 50.6l.5 .6l2.1-.5l-1.1-.4z" color="#128"/>
<path d="M460.8 50.3l-1 .5l2.2 .4l.3-.6z" color="#128"/>
<path d="M428.5 50.7l-2.1-1l-.3 1.3l2.2 .6z" color="#239"/>
<path d="M479.8 44.3l0 .1l.1 0z" color="#582"/>
<path d="M414.1 49.4l.9-.7l-1.4-3.2l-1 1.2z" color="#5a3"/>
<path d="M453.8 48.4l-1.1-.4l1.6 1.6l1.1 .3z" color="#259"/>
<path d="M471.7 49.5l.9-.2l2.8-2.4l-1.3 .6z" color="#289"/>
<path d="M479.8 44.4l.3 .1l-.2-.1z" color="#472"/>
<path d="M466.5 50.7l1 .2l2.1-1.1l-1.3 .1z" color="#228"/>
<path d="M462.3 50.6l-.3 .6l2.4 0l-.5-.6z" color="#128"/>
<path d="M457.9 50l-1.4 0l2.5 1l.8-.2z" color="#128"/>
<path d="M480.8 45.6l-.7-1.1l-.3-.1l.2 .8z" color="#d42"/>
<path d="M409.2 50.5l1.2-1.3z" color="#26d"/>
<path d="M472.6 49.3l.8-.3l3.1-2.7l-1.1 .6z" color="#384"/>
<path d="M413 50.2l1.1-.8l-1.5-2.7l-1 1.3z" color="#4a4"/>
<path d="M436.4 49.8l-1.3-.5l-1.5-.2l-1.6 0l-1.5 .3l-1.2 .6l-.8 .7l-.2 .9l.2 .8l.8 .7l1.3 .6l1.5 .2l1.6 0l1.5-.3l1.3-.6l.8-.7l.2-.9l-.3-.8z" color="#229"/>
<path d="M452.7 48l-1.1-.4l1.6 1.7l1.1 .3z" color="#277"/>
<path d="M473.4 49l.6-.2l3.6-3l-1.1 .5z" color="#383"/>
<path d="M467.5 50.9l.7 0l2.5-1.2l-1.1 .1z" color="#238"/>
<path d="M481.7 47l-.9-1.4l-.8-.4l.2 1z" color="#d72"/>
<path d="M411.8 51.1l1.2-.9l-1.4-2.2l-1.2 1.2z" color="#3ab"/>
<path d="M451.6 47.6l-.9-.4l1.6 1.8l.9 .3z" color="#373"/>
<path d="M474 48.8l.5-.2l3.9-3.3l-.8 .5z" color="#483"/>
<path d="M437.3 52.3l2.1-.3l.3-1.2l-2.2 .6z" color="#239"/>
<path d="M464.4 51.2l.4 .3l2.7-.6l-1-.2z" color="#128"/>
<path d="M459.8 50.8l-.8 .2l2.8 .5l.2-.3z" color="#127"/>
<path d="M456.5 50l-1.1-.1l2.9 1.1l.7 0z" color="#138"/>
<path d="M407.8 51.8l1.4-1.3z" color="#24b"/>
<path d="M474.5 48.6l.5-.2l4.2-3.7l-.8 .6z" color="#482"/>
<path d="M439.4 52l1.7-.3l.3-1.5l-1.7 .6z" color="#23a"/>
<path d="M428.3 51.6l-2.2-.6l.4 1.2l2 .2z" color="#229"/>
<path d="M450.7 47.2l-.7-.3l1.5 1.7l.8 .4z" color="#372"/>
<path d="M475 48.4l.3-.2l4.5-3.8l-.6 .3z" color="#582"/>
<path d="M441.1 51.7l1.5-.4l.2-1.7l-1.4 .6z" color="#24a"/>
<path d="M410.5 52l1.3-.9l-1.4-1.9l-1.2 1.3z" color="#25c"/>
<path d="M462 51.2l-.2 .3l3 0l-.4-.3z" color="#127"/>
<path d="M482.6 48.3l-.9-1.3l-1.5-.8l.2 1.2z" color="#9c3"/>
<path d="M426.1 51l-1.7-.6l.5 1.6l1.6 .2z" color="#239"/>
<path d="M468.2 50.9l.7 0l2.8-1.4l-1 .2z" color="#239"/>
<path d="M442.6 51.3l1.4-.5l0-1.9l-1.2 .7z" color="#27b"/>
<path d="M480 45.2l-.2-.8l-4.5 3.8l.2 .5z" color="#d42"/>
<path d="M450 46.9l-.6-.3l1.4 1.7l.7 .3z" color="#372"/>
<path d="M444 50.8l1.3-.6l-.2-1.9l-1.1 .6z" color="#395"/>
<path d="M424.4 50.4l-1.4-.5l.6 1.8l1.3 .3z" color="#24a"/>
<path d="M445.3 50.2l1.1-.6l-.3-1.9l-1 .6z" color="#493"/>
<path d="M455.4 49.9l-1.1-.3l3.4 1.4l.6 0z" color="#238"/>
<path d="M423 49.9l-1.3-.6l.7 2l1.2 .4z" color="#26a"/>
<path d="M449.4 46.6l-.5-.3l1.3 1.6l.6 .4z" color="#472"/>
<path d="M446.4 49.6l1.1-.5l-.6-1.9l-.8 .5z" color="#493"/>
<path d="M408.9 52.9l1.6-.9l-1.3-1.5l-1.4 1.3z" color="#24b"/>
<path d="M480.2 46.2l-.2-1l-4.5 3.5l.3 .6z" color="#d72"/>
<path d="M447.5 49.1l.8-.5l-.8-1.8l-.6 .4z" color="#593"/>
<path d="M421.7 49.3l-1.1-.6l.8 2.2l1 .4z" color="#385"/>
<path d="M464.8 51.5l.3 .1l3.1-.7l-.7 0z" color="#128"/>
<path d="M406.1 53.1l1.7-1.3z" color="#23b"/>
<path d="M459 51l-.7 0l3.3 .6l.2-.1z" color="#127"/>
<path d="M468.9 50.9l.6-.1l3.1-1.5l-.9 .2z" color="#249"/>
<path d="M448.3 48.6l.8-.5l-1-1.7l-.6 .4z" color="#7a3"/>
<path d="M448.9 46.3l-.4-.2l1.2 1.6l.5 .2z" color="#582"/>
<path d="M420.6 48.7l-.9-.6l.8 2.4l.9 .4z" color="#383"/>
<path d="M483.7 49.6l-1.1-1.3l-2.2-.9l.2 1.3z" color="#6b3"/>
<path d="M449.1 48.1l.6-.4l-1.2-1.6l-.4 .3z" color="#a82"/>
<path d="M436.5 53l1.6 .2l1.3-1.2l-2.1 .3z" color="#229"/>
<path d="M419.7 48.1l-.8-.5l.8 2.6l.8 .3z" color="#483"/>
<path d="M418.9 47.6l-.7-.4l.9 2.7l.6 .3z" color="#482"/>
<path d="M480.4 47.4l-.2-1.2l-4.4 3.1l.4 .7z" color="#8c3"/>
<path d="M428.5 52.4l-2-.2l1.1 1.1l1.7-.2z" color="#228"/>
<path d="M418.2 47.2l-.5-.4l.8 2.8l.6 .3z" color="#582"/>
<path d="M461.8 51.5l-.2 .1l3.5 0l-.3-.1z" color="#127"/>
<path d="M417.7 46.8l-.5-.2l1 2.8l.3 .2z" color="#682"/>
<path d="M454.3 49.6l-1.1-.3l4 1.7l.5 0z" color="#258"/>
<path d="M417.7 49.7l.5-.3l-1-2.8l-.3 .3z" color="#9a3"/>
<path d="M469.5 50.8l.5-.2l3.4-1.6l-.8 .3z" color="#278"/>
<path d="M417.2 50.1l.5-.4l-.8-2.8l-.6 .5z" color="#7a3"/>
<path d="M406.8 53.9l2.1-1l-1.1-1.1l-1.7 1.3z" color="#23a"/>
<path d="M416.5 50.5l.7-.4l-.9-2.7l-.6 .6z" color="#5a3"/>
<path d="M415.7 51.1l.8-.6l-.8-2.5l-.7 .7z" color="#5a3"/>
<path d="M438.1 53.2l1.4-.1l1.6-1.4l-1.7 .3z" color="#229"/>
<path d="M458.3 51l-.6 0l3.7 .7l.2-.1z" color="#138"/>
<path d="M465.1 51.6l.3 0l3.5-.7l-.7 0z" color="#238"/>
<path d="M414.8 51.6l.9-.5l-.7-2.4l-.9 .7z" color="#4a3"/>
<path d="M484.8 51l-1.1-1.4l-3.1-.9l.3 1.4z" color="#5b4"/>
<path d="M480.6 48.7l-.2-1.3l-4.2 2.6l.4 .9z" color="#6b3"/>
<path d="M470 50.6l.4-.1l3.6-1.7l-.6 .2z" color="#275"/>
<path d="M413.6 52.3l1.2-.7l-.7-2.2l-1.1 .8z" color="#3a5"/>
<path d="M453.2 49.3l-.9-.3l4.5 1.8l.4 .2z" color="#275"/>
<path d="M426.5 52.2l-1.6-.2l1.3 1.3l1.4 0z" color="#228"/>
<path d="M412.4 52.9l1.2-.6l-.6-2.1l-1.2 .9z" color="#39b"/>
<path d="M435.2 53.6l1.1 .4l1.8-.8l-1.6-.2z" color="#228"/>
<path d="M439.5 53.1l1.1-.1l2-1.7l-1.5 .4z" color="#239"/>
<path d="M470.4 50.5l.4-.1l3.7-1.8l-.5 .2z" color="#273"/>
<path d="M411 53.5l1.4-.6l-.6-1.8l-1.3 .9z" color="#25b"/>
<path d="M461.6 51.6l-.2 .1l4-.1l-.3 0z" color="#138"/>
<path d="M429.3 53.1l-1.7 .2l1.9 .8l1.1-.4z" color="#128"/>
<path d="M480.9 50.1l-.3-1.4l-4 2.2l.6 1z" color="#5b4"/>
<path d="M409.3 54.1l1.7-.6l-.5-1.5l-1.6 .9z" color="#23a"/>
<path d="M452.3 49l-.8-.4l4.9 2.1l.4 .1z" color="#273"/>
<path d="M457.7 51l-.5 0l4.1 .7l.1 0z" color="#238"/>
<path d="M470.8 50.4l.3-.2l3.9-1.8l-.5 .2z" color="#373"/>
<path d="M424.9 52l-1.3-.3l1.4 1.5l1.2 .1z" color="#239"/>
<path d="M465.4 51.6l.3 0l3.8-.8l-.6 .1z" color="#248"/>
<path d="M485.2 52.2l.1-.7l-.5-.5l-3.9-.9l.3 1.5z" color="#4b4"/>
<path d="M440.6 53l.9-.2l2.5-2l-1.4 .5z" color="#25a"/>
<path d="M407.1 54.7l2.2-.6l-.4-1.2l-2.1 1z" color="#23a"/>
<path d="M471.1 50.2l.2-.1l4-1.9l-.3 .2z" color="#372"/>
<path d="M433.7 53.9l.4 .6l2.2-.5l-1.1-.4z" color="#128"/>
<path d="M430.6 53.7l-1.1 .4l2.3 .4l.3-.6z" color="#128"/>
<path d="M451.5 48.6l-.7-.3l5.3 2.3l.3 .1z" color="#372"/>
<path d="M475.5 48.7l-.2-.5l-4 1.9l.3 .5z" color="#ab3"/>
<path d="M423.6 51.7l-1.2-.4l1.5 1.7l1.1 .2z" color="#259"/>
<path d="M441.5 52.8l.9-.2l2.9-2.4l-1.3 .6z" color="#289"/>
<path d="M436.3 54l.9 .2l2.3-1.1l-1.4 .1z" color="#228"/>
<path d="M432.1 53.9l-.3 .6l2.3 0l-.4-.6z" color="#128"/>
<path d="M461.4 51.7l-.1 0l4.4-.1l-.3 0z" color="#238"/>
<path d="M485.2 52.2l.9 .2l-.8-.9z" color="#4b5"/>
<path d="M457.2 51l-.4-.2l4.3 .8l.2 .1z" color="#258"/>
<path d="M481.2 51.6l-.3-1.5l-3.7 1.8l.6 1.1z" color="#4b4"/>
<path d="M475.8 49.3l-.3-.6l-3.9 1.9l.5 .5z" color="#8b3"/>
<path d="M450.8 48.3l-.6-.4l5.6 2.6l.3 .1z" color="#372"/>
<path d="M465.7 51.6l.3-.2l4-.8l-.5 .2z" color="#268"/>
<path d="M427.6 53.3l-1.4 0l2.5 1l.8-.2z" color="#128"/>
<path d="M442.4 52.6l.7-.3l3.3-2.7l-1.1 .6z" color="#384"/>
<path d="M485.1 53.5l.1-1.3l-4-.6l.3 1.6z" color="#3bb"/>
<path d="M476.2 50l-.4-.7l-3.7 1.8l.5 .7z" color="#6b3"/>
<path d="M422.4 51.3l-1-.4l1.4 1.8l1.1 .3z" color="#277"/>
<path d="M450.2 47.9l-.5-.2l5.9 2.7l.2 .1z" color="#472"/>
<path d="M456.8 50.8l-.4-.1l4.6 .8l.1 .1z" color="#277"/>
<path d="M443.1 52.3l.7-.2l3.7-3l-1.1 .5z" color="#383"/>
<path d="M487.9 54l-1.8-1.6l-.9-.2l-.1 1.3z" color="#3ad"/>
<path d="M437.2 54.2l.7 0l2.7-1.2l-1.1 .1z" color="#238"/>
<path d="M476.6 50.9l-.4-.9l-3.6 1.8l.7 .8z" color="#5a3"/>
<path d="M461.3 51.7l-.2-.1l4.9-.2l-.3 .2z" color="#258"/>
<path d="M455.5 50.9l.1-.5l-5.9-2.7l.1 .8z" color="#d42"/>
<path d="M466 51.4l.2-.1l4.2-.8l-.4 .1z" color="#275"/>
<path d="M421.4 50.9l-.9-.4l1.4 1.8l.9 .4z" color="#373"/>
<path d="M481.5 53.2l-.3-1.6l-3.4 1.4l.7 1.2z" color="#3ab"/>
<path d="M443.8 52.1l.5-.2l4-3.3l-.8 .5z" color="#483"/>
<path d="M406.8 55.6l2.1-.2l.4-1.3l-2.2 .6z" color="#239"/>
<path d="M434.1 54.5l.4 .3l2.7-.6l-.9-.2z" color="#128"/>
<path d="M429.5 54.1l-.8 .2l2.8 .5l.3-.3z" color="#127"/>
<path d="M426.2 53.3l-1.2-.1l3 1.2l.7-.1z" color="#138"/>
<path d="M456.4 50.7l-.3-.1l4.8 .9l.1 0z" color="#274"/>
<path d="M444.3 51.9l.4-.2l4.4-3.6l-.8 .5z" color="#482"/>
<path d="M408.9 55.4l1.7-.4l.4-1.5l-1.7 .6z" color="#23a"/>
<path d="M455.5 51.6l0-.7l-5.7-2.4l.2 1.1z" color="#d72"/>
<path d="M477.2 51.9l-.6-1l-3.3 1.7l.7 .8z" color="#4a3"/>
<path d="M420.5 50.5l-.8-.3l1.3 1.8l.9 .3z" color="#372"/>
<path d="M444.7 51.7l.3-.2l4.7-3.8l-.6 .4z" color="#582"/>
<path d="M410.6 55l1.5-.4l.3-1.7l-1.4 .6z" color="#24a"/>
<path d="M431.8 54.5l-.3 .3l3 0l-.4-.3z" color="#127"/>
<path d="M484.9 54.8l.2-1.3l-3.6-.3l.4 1.5z" color="#26d"/>
<path d="M466.2 51.3l.2-.2l4.4-.7l-.4 .1z" color="#273"/>
<path d="M437.9 54.2l.7 0l2.9-1.4l-.9 .2z" color="#239"/>
<path d="M456.1 50.6l-.3-.1l5.1 .9l0 .1z" color="#273"/>
<path d="M412.1 54.6l1.4-.5l.1-1.8l-1.2 .6z" color="#27b"/>
<path d="M461.1 51.6l-.1-.1l5.2-.2l-.2 .1z" color="#276"/>
<path d="M406.1 53.1l-7.3 3.4l1.2 .5l1.5 .3l1.6 0l1.6-.4l1.2-.5l.9-.8l.3-.9l-.3-.8z" color="#229"/>
<path d="M449.8 48.5l-.1-.8l-4.7 3.8l.3 .5z" color="#d42"/>
<path d="M419.7 50.2l-.6-.3l1.2 1.7l.7 .4z" color="#372"/>
<path d="M413.5 54.1l1.3-.5l0-2l-1.2 .7z" color="#395"/>
<path d="M455.4 52.4l.1-.8l-5.5-2l.2 1.1z" color="#9c3"/>
<path d="M414.8 53.6l1.1-.6l-.2-1.9l-.9 .5z" color="#493"/>
<path d="M477.8 53l-.6-1.1l-3.2 1.5l.9 1z" color="#3a5"/>
<path d="M455.8 50.5l-.2-.1l5.2 .9l.1 .1z" color="#372"/>
<path d="M487.8 55.3l.5-1l-.4-.3l-2.8-.5l-.2 1.3z" color="#25d"/>
<path d="M481.9 54.7l-.4-1.5l-3 1l.7 1.3z" color="#25d"/>
<path d="M425 53.2l-1.1-.2l3.4 1.4l.7 0z" color="#238"/>
<path d="M419.1 49.9l-.6-.3l1.2 1.7l.6 .3z" color="#472"/>
<path d="M415.9 53l1.1-.6l-.5-1.9l-.8 .6z" color="#493"/>
<path d="M466.4 51.1l.2-.2l4.5-.7l-.3 .2z" color="#372"/>
<path d="M450 49.6l-.2-1.1l-4.5 3.5l.3 .7z" color="#d72"/>
<path d="M417 52.4l.8-.5l-.6-1.8l-.7 .4z" color="#593"/>
<path d="M434.5 54.8l.3 .1l3.1-.7l-.7 0z" color="#128"/>
<path d="M428.7 54.3l-.7 .1l3.2 .6l.3-.2z" color="#127"/>
<path d="M460.6 51.8l.2-.5l-5.2-.9l-.1 .5z" color="#bc3"/>
<path d="M438.6 54.2l.6-.1l3.2-1.5l-.9 .2z" color="#249"/>
<path d="M417.8 51.9l.8-.5l-.9-1.7l-.5 .4z" color="#7a3"/>
<path d="M418.5 49.6l-.3-.2l1 1.6l.5 .3z" color="#582"/>
<path d="M461 51.5l-.1 0l5.5-.4l-.2 .2z" color="#274"/>
<path d="M418.6 51.4l.6-.4l-1-1.6l-.5 .3z" color="#a82"/>
<path d="M405.9 56.4l1.7 .1l1.3-1.1l-2.1 .2z" color="#229"/>
<path d="M466.6 50.9l.1-.2l4.6-.6l-.2 .1z" color="#372"/>
<path d="M455.3 53.3l.1-.9l-5.2-1.7l.2 1.3z" color="#6b3"/>
<path d="M460.3 52.4l.3-.6l-5.1-.9l0 .7z" color="#8c3"/>
<path d="M478.5 54.2l-.7-1.2l-2.9 1.4l1 1.1z" color="#39c"/>
<path d="M450.2 50.7l-.2-1.1l-4.4 3.1l.3 .7z" color="#8c3"/>
<path d="M431.5 54.8l-.3 .2l3.6-.1l-.3-.1z" color="#127"/>
<path d="M484.7 56.3l.2-1.5l-3-.1l.4 1.6z" color="#24c"/>
<path d="M471.6 50.6l-.3-.5l-4.6 .6l.6 .6z" color="#b31"/>
<path d="M423.9 53l-1.1-.3l4 1.6l.5 .1z" color="#258"/>
<path d="M439.2 54.1l.5-.1l3.4-1.7l-.7 .3z" color="#278"/>
<path d="M460.9 51.5l0-.1l5.7-.5l-.2 .2z" color="#372"/>
<path d="M472.1 51.1l-.5-.5l-4.3 .7l.8 .8z" color="#b62"/>
<path d="M460 53.2l.3-.8l-4.8-.8l-.1 .8z" color="#6b3"/>
<path d="M487 56.7l.8-1.4l-2.9-.5l-.2 1.5z" color="#24c"/>
<path d="M482.3 56.3l-.4-1.6l-2.7 .8l1 1.3z" color="#24b"/>
<path d="M407.6 56.5l1.3 0l1.7-1.5l-1.7 .4z" color="#229"/>
<path d="M428 54.4l-.7 0l3.7 .6l.2 0z" color="#138"/>
<path d="M472.6 51.8l-.5-.7l-4 1l.9 .8z" color="#7a3"/>
<path d="M434.8 54.9l.2 .1l3.6-.8l-.7 0z" color="#238"/>
<path d="M487.8 55.3l2.5 .9l.3-.3l-2.3-1.6z" color="#26d"/>
<path d="M450.4 52l-.2-1.3l-4.3 2.7l.4 .9z" color="#6b3"/>
<path d="M460.9 51.4l-.1-.1l5.9-.6l-.1 .2z" color="#372"/>
<path d="M455.1 54.4l.2-1.1l-4.9-1.3l.3 1.5z" color="#5b4"/>
<path d="M439.7 54l.4-.1l3.7-1.8l-.7 .2z" color="#275"/>
<path d="M398.8 56.5l-1.8 .2l1.8-.2z" color="#228"/>
<path d="M479.2 55.5l-.7-1.3l-2.6 1.3l1.2 1z" color="#25c"/>
<path d="M422.8 52.7l-.9-.4l4.4 1.9l.5 .1z" color="#275"/>
<path d="M473.3 52.6l-.7-.8l-3.6 1.1l1.1 .9z" color="#5a3"/>
<path d="M459.7 54.1l.3-.9l-4.6-.8l-.1 .9z" color="#5b4"/>
<path d="M404.7 56.9l1 .5l1.9-.9l-1.7-.1z" color="#228"/>
<path d="M466.3 51.4l.4-.7l-5.9 .6l-.2 .5z" color="#d42"/>
<path d="M408.9 56.5l1.1-.1l2.1-1.8l-1.5 .4z" color="#239"/>
<path d="M440.1 53.9l.3-.2l3.9-1.8l-.5 .2z" color="#273"/>
<path d="M431.2 55l-.2 0l4 0l-.2-.1z" color="#138"/>
<path d="M398.8 56.5l-1.8 .2l1.9 .8l1.1-.5z" color="#128"/>
<path d="M474 53.4l-.7-.8l-3.2 1.2l1.2 1z" color="#4a3"/>
<path d="M489 57.5l1.3-1.3l-2.5-.9l-.8 1.4z" color="#24b"/>
<path d="M465.7 52.4l.6-1l-5.7 .4l-.3 .6z" color="#d72"/>
<path d="M450.7 53.5l-.3-1.5l-4.1 2.3l.5 1z" color="#5b4"/>
<path d="M421.9 52.3l-.9-.3l4.9 2.1l.4 .1z" color="#273"/>
<path d="M427.3 54.4l-.5-.1l4 .7l.2 0z" color="#238"/>
<path d="M440.4 53.7l.3-.1l4-1.9l-.4 .2z" color="#373"/>
<path d="M435 55l.3-.1l3.9-.8l-.6 .1z" color="#248"/>
<path d="M459.2 55.1l.5-1l-4.4-.8l-.2 1.1z" color="#5b4"/>
<path d="M455 55.6l.1-1.2l-4.4-.9l.2 1.5z" color="#4b4"/>
<path d="M484.5 58.1l.2-1.8l-2.4 0l.6 1.8z" color="#23b"/>
<path d="M480.2 56.8l-1-1.3l-2.1 1l1.3 1.2z" color="#23b"/>
<path d="M410 56.4l.9-.2l2.6-2.1l-1.4 .5z" color="#25a"/>
<path d="M474.9 54.4l-.9-1l-2.7 1.4l1.3 1.1z" color="#393"/>
<path d="M440.7 53.6l.2-.1l4.1-2l-.3 .2z" color="#372"/>
<path d="M397 56.7l-1.4 0l1.4 0z" color="#228"/>
<path d="M465 53.4l.7-1l-5.4 0l-.3 .8z" color="#9c3"/>
<path d="M403.1 57.3l.4 .6l2.2-.5l-1-.5z" color="#128"/>
<path d="M486 58.3l1-1.6l-2.3-.4l-.2 1.8z" color="#23b"/>
<path d="M400 57l-1.1 .5l2.2 .4l.4-.6z" color="#128"/>
<path d="M482.9 58.1l-.6-1.8l-2.1 .5l1.2 1.6z" color="#23a"/>
<path d="M421 52l-.7-.4l5.3 2.4l.3 .1z" color="#372"/>
<path d="M445.3 52l-.3-.5l-4.1 2l.3 .4z" color="#ab3"/>
<path d="M410.9 56.2l.9-.2l3-2.4l-1.3 .5z" color="#289"/>
<path d="M475.9 55.5l-1-1.1l-2.3 1.5l1.4 1z" color="#39a"/>
<path d="M405.7 57.4l.9 .2l2.3-1.1l-1.3 0z" color="#228"/>
<path d="M401.5 57.3l-.4 .6l2.4 0l-.4-.6z" color="#128"/>
<path d="M431 55l-.2 0l4.5-.1l-.3 .1z" color="#238"/>
<path d="M426.8 54.3l-.5-.1l4.4 .8l.1 0z" color="#258"/>
<path d="M450.9 55l-.2-1.5l-3.9 1.8l.6 1.1z" color="#4b4"/>
<path d="M445.6 52.7l-.3-.7l-4.1 1.9l.5 .6z" color="#8b3"/>
<path d="M458.7 56.2l.5-1.1l-4.1-.7l-.1 1.2z" color="#4b5"/>
<path d="M464.2 54.5l.8-1.1l-5-.2l-.3 .9z" color="#6b3"/>
<path d="M435.3 54.9l.2-.1l4.2-.8l-.5 .1z" color="#268"/>
<path d="M420.3 51.6l-.6-.3l5.6 2.5l.3 .2z" color="#372"/>
<path d="M397 56.7l-1.4 0l2.3 1l1-.2z" color="#128"/>
<path d="M490.3 56.2l1.5 1.5l1.1-.7l-2.3-1.1z" color="#25c"/>
<path d="M411.8 56l.7-.3l3.4-2.7l-1.1 .6z" color="#384"/>
<path d="M487.4 58.9l1.6-1.4l-2-.8l-1 1.6z" color="#23b"/>
<path d="M454.8 56.8l.2-1.2l-4.1-.6l.3 1.5z" color="#3bb"/>
<path d="M445.9 53.4l-.3-.7l-3.9 1.8l.5 .7z" color="#6b3"/>
<path d="M477.1 56.5l-1.2-1l-1.9 1.4l1.5 .9z" color="#25b"/>
<path d="M395.6 56.7l-1.3-.1l1.3 .1z" color="#239"/>
<path d="M419.7 51.3l-.5-.3l5.9 2.7l.2 .1z" color="#472"/>
<path d="M481.4 58.4l-1.2-1.6l-1.8 .9l1.8 1.3z" color="#23a"/>
<path d="M426.3 54.2l-.4-.1l4.6 .8l.2 .1z" color="#277"/>
<path d="M412.5 55.7l.6-.2l3.9-3.1l-1.1 .6z" color="#383"/>
<path d="M490.2 58.6l1.6-.9l-1.5-1.5l-1.3 1.3z" color="#24b"/>
<path d="M463.2 55.7l1-1.2l-4.5-.4l-.5 1z" color="#5b4"/>
<path d="M406.6 57.6l.7 0l2.7-1.2l-1.1 .1z" color="#238"/>
<path d="M446.3 54.3l-.4-.9l-3.7 1.8l.6 .7z" color="#5a3"/>
<path d="M430.8 55l-.1 0l4.8-.2l-.2 .1z" color="#258"/>
<path d="M425 54.3l.1-.6l-5.9-2.7l.1 .9z" color="#d42"/>
<path d="M435.5 54.8l.2-.2l4.4-.7l-.4 .1z" color="#275"/>
<path d="M451.2 56.5l-.3-1.5l-3.5 1.4l.7 1.2z" color="#3ab"/>
<path d="M413.1 55.5l.5-.2l4.2-3.4l-.8 .5z" color="#483"/>
<path d="M458.1 57.4l.6-1.2l-3.7-.6l-.2 1.2z" color="#3ad"/>
<path d="M478.4 57.7l-1.3-1.2l-1.6 1.3l1.8 1z" color="#23a"/>
<path d="M403.5 57.9l.3 .3l2.8-.6l-.9-.2z" color="#128"/>
<path d="M398.9 57.5l-1 .2l2.8 .5l.4-.3z" color="#127"/>
<path d="M395.6 56.7l-1.3-.1l2.9 1.2l.7-.1z" color="#138"/>
<path d="M425.9 54.1l-.3-.1l4.8 .8l.1 .1z" color="#274"/>
<path d="M413.6 55.3l.5-.2l4.5-3.7l-.8 .5z" color="#482"/>
<path d="M394.3 56.6l-1.2-.3l1.2 .3z" color="#259"/>
<path d="M424.9 55l.1-.7l-5.7-2.4l.2 1z" color="#d72"/>
<path d="M446.8 55.3l-.5-1l-3.5 1.6l.8 .9z" color="#4a3"/>
<path d="M462.2 57l1-1.3l-4-.6l-.5 1.1z" color="#4b4"/>
<path d="M414.1 55.1l.3-.2l4.8-3.9l-.6 .4z" color="#582"/>
<path d="M401.1 57.9l-.4 .3l3.1 0l-.3-.3z" color="#127"/>
<path d="M454.6 58.2l.2-1.4l-3.6-.3l.3 1.6z" color="#26d"/>
<path d="M488.2 59.6l2-1l-1.2-1.1l-1.6 1.4z" color="#23a"/>
<path d="M435.7 54.6l.2-.1l4.5-.8l-.3 .2z" color="#273"/>
<path d="M407.3 57.6l.6 0l3-1.4l-.9 .2z" color="#239"/>
<path d="M425.6 54l-.3-.2l5 1l.1 0z" color="#273"/>
<path d="M430.7 55l-.2-.1l5.2-.3l-.2 .2z" color="#276"/>
<path d="M419.3 51.9l-.1-.9l-4.8 3.9l.2 .5z" color="#d42"/>
<path d="M480.2 59l-1.8-1.3l-1.1 1.1l2.1 1z" color="#23a"/>
<path d="M467.3 51.3l-.6-.6l1.4 5l.4 .2z" color="#a31"/>
<path d="M424.8 55.7l.1-.7l-5.4-2.1l.1 1.2z" color="#9c3"/>
<path d="M467.7 56l.4-.3l-1.4-5l-.4 .7z" color="#c32"/>
<path d="M468.1 52.1l-.8-.8l1.2 4.6l.6 .4z" color="#a62"/>
<path d="M447.4 56.4l-.6-1.1l-3.2 1.5l.8 1z" color="#3a5"/>
<path d="M425.3 53.8l-.2-.1l5.2 1l0 .1z" color="#372"/>
<path d="M457.4 58.7l.7-1.3l-3.3-.6l-.2 1.4z" color="#25d"/>
<path d="M393.1 56.3l-1.1-.2l1.1 .2z" color="#277"/>
<path d="M451.5 58.1l-.3-1.6l-3.1 1.1l.7 1.2z" color="#25d"/>
<path d="M394.3 56.6l-1.2-.3l3.4 1.5l.7 0z" color="#238"/>
<path d="M469 52.9l-.9-.8l1 4.2l.6 .4z" color="#793"/>
<path d="M435.9 54.5l.2-.2l4.6-.7l-.3 .1z" color="#372"/>
<path d="M470.1 53.8l-1.1-.9l.7 3.8l.8 .5z" color="#593"/>
<path d="M419.5 52.9l-.2-1l-4.7 3.5l.3 .7z" color="#d72"/>
<path d="M467.2 56.5l.5-.5l-1.4-4.6l-.6 1z" color="#c72"/>
<path d="M461.1 58.3l1.1-1.3l-3.5-.8l-.6 1.2z" color="#3bb"/>
<path d="M491.8 57.7l.7 1.6l1.5-.6l-.7-1.6l-.4-.1z" color="#25b"/>
<path d="M403.8 58.2l.2 .1l3.3-.7l-.7 0z" color="#128"/>
<path d="M397.9 57.7l-.7 .1l3.3 .6l.2-.2z" color="#127"/>
<path d="M430.1 55.2l.2-.5l-5.2-1l-.1 .6z" color="#bc3"/>
<path d="M407.9 57.6l.5-.1l3.4-1.5l-.9 .2z" color="#249"/>
<path d="M471.3 54.8l-1.2-1l.4 3.4l1 .6z" color="#493"/>
<path d="M430.5 54.9l-.1-.1l5.5-.3l-.2 .1z" color="#274"/>
<path d="M472.6 55.9l-1.3-1.1l.2 3l1.1 .6z" color="#393"/>
<path d="M466.6 57.1l.6-.6l-1.5-4.1l-.7 1z" color="#8b3"/>
<path d="M436.1 54.3l.1-.2l4.7-.6l-.2 .1z" color="#372"/>
<path d="M424.6 56.7l.2-1l-5.2-1.6l.2 1.3z" color="#6b3"/>
<path d="M474 56.9l-1.4-1l0 2.5l1.3 .6z" color="#299"/>
<path d="M429.8 55.8l.3-.6l-5.1-.9l-.1 .7z" color="#8c3"/>
<path d="M448.1 57.6l-.7-1.2l-3 1.4l1 1z" color="#39c"/>
<path d="M490.8 59.9l1.7-.6l-.7-1.6l-1.6 .9z" color="#23a"/>
<path d="M392 56.1l-1-.4l1 .4z" color="#373"/>
<path d="M419.6 54.1l-.1-1.2l-4.6 3.2l.3 .7z" color="#8c3"/>
<path d="M400.7 58.2l-.2 .2l3.5-.1l-.2-.1z" color="#127"/>
<path d="M454.3 59.7l.3-1.5l-3.1-.1l.4 1.6z" color="#24c"/>
<path d="M475.5 57.8l-1.5-.9l-.1 2.1l1.4 .5z" color="#25b"/>
<path d="M441.2 53.9l-.3-.4l-4.7 .6l.6 .6z" color="#b31"/>
<path d="M393.1 56.3l-1.1-.2l3.9 1.6l.6 .1z" color="#258"/>
<path d="M465.8 57.8l.8-.7l-1.6-3.7l-.8 1.1z" color="#6b3"/>
<path d="M494 58.7l1.2-.7l-.2-.4l-1.7-.5z" color="#39b"/>
<path d="M408.4 57.5l.5-.1l3.6-1.7l-.7 .3z" color="#278"/>
<path d="M430.4 54.8l-.1 0l5.8-.5l-.2 .2z" color="#372"/>
<path d="M488.6 60.5l2.2-.6l-.6-1.3l-2 1z" color="#23a"/>
<path d="M477.3 58.8l-1.8-1l-.2 1.7l1.8 .6z" color="#23a"/>
<path d="M441.7 54.5l-.5-.6l-4.4 .8l.8 .8z" color="#b62"/>
<path d="M429.4 56.6l.4-.8l-4.9-.8l-.1 .7z" color="#6b3"/>
<path d="M459.9 59.6l1.2-1.3l-3-.9l-.7 1.3z" color="#26d"/>
<path d="M456.6 60.1l.8-1.4l-2.8-.5l-.3 1.5z" color="#24c"/>
<path d="M451.9 59.7l-.4-1.6l-2.7 .7l.9 1.4z" color="#24b"/>
<path d="M479.4 59.8l-2.1-1l-.2 1.3l2.2 .5z" color="#239"/>
<path d="M397.2 57.8l-.7 0l3.7 .6l.3 0z" color="#138"/>
<path d="M442.2 55.2l-.5-.7l-4.1 1l.8 .8z" color="#7a3"/>
<path d="M404 58.3l.2 .1l3.7-.8l-.6 0z" color="#238"/>
<path d="M391 55.7l-.8-.3l.8 .3z" color="#372"/>
<path d="M464.9 58.5l.9-.7l-1.6-3.3l-1 1.2z" color="#5a3"/>
<path d="M419.8 55.4l-.2-1.3l-4.4 2.7l.4 .9z" color="#6b3"/>
<path d="M495.2 58l.7-.3l-.9-.1z" color="#3a5"/>
<path d="M430.3 54.8l0-.1l5.9-.6l-.1 .2z" color="#372"/>
<path d="M424.5 57.8l.1-1.1l-4.8-1.3l.2 1.5z" color="#5b4"/>
<path d="M408.9 57.4l.4-.1l3.8-1.8l-.6 .2z" color="#275"/>
<path d="M448.8 58.8l-.7-1.2l-2.7 1.2l1.2 1.1z" color="#25c"/>
<path d="M392 56.1l-1-.4l4.4 1.9l.5 .1z" color="#275"/>
<path d="M442.8 55.9l-.6-.7l-3.8 1.1l1.1 1z" color="#5a3"/>
<path d="M429 57.5l.4-.9l-4.6-.9l-.2 1z" color="#5b4"/>
<path d="M435.7 54.8l.5-.7l-5.9 .6l-.2 .5z" color="#d42"/>
<path d="M463.9 59.4l1-.9l-1.7-2.8l-1 1.3z" color="#4a4"/>
<path d="M390.2 55.4l-.8-.4l.8 .4z" color="#372"/>
<path d="M409.3 57.3l.3-.2l4-1.8l-.5 .2z" color="#273"/>
<path d="M400.5 58.4l-.3 0l4 0l-.2-.1z" color="#138"/>
<path d="M487.4 58.9l-1.4-.6l-1.5-.2l-1.6 0l-1.5 .3l-1.2 .6l-.8 .8l-.1 .8l.3 .9l.9 .8l1.3 .5l1.6 .3l1.6 0l1.5-.4l1.2-.5l.8-.8l.1-.9l-.4-.9z" color="#229"/>
<path d="M443.6 56.8l-.8-.9l-3.3 1.4l1.2 1z" color="#4a3"/>
<path d="M458.5 60.9l1.4-1.3l-2.5-.9l-.8 1.4z" color="#24b"/>
<path d="M435.1 55.8l.6-1l-5.6 .4l-.3 .6z" color="#d72"/>
<path d="M420 56.9l-.2-1.5l-4.2 2.3l.5 1z" color="#5b4"/>
<path d="M391 55.7l-.8-.3l4.8 2.1l.4 .1z" color="#273"/>
<path d="M396.5 57.8l-.6-.1l4.1 .7l.2 0z" color="#238"/>
<path d="M409.6 57.1l.3-.1l4.2-1.9l-.5 .2z" color="#373"/>
<path d="M404.2 58.4l.2-.1l4-.8l-.5 .1z" color="#248"/>
<path d="M428.6 58.5l.4-1l-4.4-.8l-.1 1.1z" color="#5b4"/>
<path d="M389.4 55l-.6-.3l.6 .3z" color="#472"/>
<path d="M424.3 59l.2-1.2l-4.5-.9l.2 1.5z" color="#4b4"/>
<path d="M454 61.5l.3-1.8l-2.4 0l.5 1.8z" color="#23b"/>
<path d="M449.7 60.2l-.9-1.4l-2.2 1.1l1.3 1.2z" color="#23b"/>
<path d="M462.7 60.2l1.2-.8l-1.7-2.4l-1.1 1.3z" color="#3ab"/>
<path d="M444.4 57.8l-.8-1l-2.9 1.5l1.3 1z" color="#393"/>
<path d="M409.9 57l.2-.1l4.3-2l-.3 .2z" color="#372"/>
<path d="M488.5 61.4l2.1-.2l.2-1.3l-2.2 .6z" color="#239"/>
<path d="M434.3 56.8l.8-1l-5.3 0l-.4 .8z" color="#9c3"/>
<path d="M455.6 61.8l1-1.7l-2.3-.4l-.3 1.8z" color="#23b"/>
<path d="M452.4 61.5l-.5-1.8l-2.2 .5l1.2 1.6z" color="#23a"/>
<path d="M390.2 55.4l-.8-.4l5.3 2.4l.3 .1z" color="#372"/>
<path d="M388.8 54.7l-.5-.3l.5 .3z" color="#582"/>
<path d="M414.6 55.4l-.2-.5l-4.3 2l.3 .4z" color="#ab3"/>
<path d="M490.6 61.2l1.8-.4l.1-1.5l-1.7 .6z" color="#23a"/>
<path d="M479.3 60.6l-2.2-.5l.5 1.3l2 .1z" color="#229"/>
<path d="M445.4 58.8l-1-1l-2.4 1.5l1.4 1z" color="#39a"/>
<path d="M388.3 54.4z" color="#a82"/>
<path d="M400.2 58.4l-.2 0l4.4-.1l-.2 .1z" color="#238"/>
<path d="M395.9 57.7l-.5-.1l4.4 .8l.2 0z" color="#258"/>
<path d="M420.2 58.4l-.2-1.5l-3.9 1.8l.5 1.1z" color="#4b4"/>
<path d="M492.4 60.8l1.6-.4l0-1.7l-1.5 .6z" color="#24a"/>
<path d="M461.4 61.1l1.3-.9l-1.6-1.9l-1.2 1.3z" color="#25c"/>
<path d="M414.9 56.1l-.3-.7l-4.2 1.9l.4 .6z" color="#8b3"/>
<path d="M495.2 58l.2 1.9l1.3-.5l-.3-1.7l-.5 0z" color="#395"/>
<path d="M428 59.6l.6-1.1l-4.1-.7l-.2 1.2z" color="#4b5"/>
<path d="M433.5 57.9l.8-1.1l-4.9-.2l-.4 .9z" color="#6b3"/>
<path d="M477.1 60.1l-1.8-.6l.7 1.6l1.6 .3z" color="#239"/>
<path d="M404.4 58.3l.2-.1l4.3-.8l-.5 .1z" color="#268"/>
<path d="M389.4 55l-.6-.3l5.5 2.6l.4 .1z" color="#372"/>
<path d="M494 60.4l1.4-.5l-.2-1.9l-1.2 .7z" color="#27b"/>
<path d="M456.9 62.3l1.6-1.4l-1.9-.8l-1 1.7z" color="#23b"/>
<path d="M475.3 59.5l-1.4-.5l.8 1.8l1.3 .3z" color="#24a"/>
<path d="M424.1 60.3l.2-1.3l-4.1-.6l.3 1.6z" color="#3bb"/>
<path d="M446.6 59.9l-1.2-1.1l-2 1.5l1.5 .9z" color="#25b"/>
<path d="M415.2 56.8l-.3-.7l-4.1 1.8l.5 .7z" color="#6b3"/>
<path d="M388.8 54.7l-.5-.3l5.8 2.8l.2 .1z" color="#472"/>
<path d="M450.9 61.8l-1.2-1.6l-1.8 .9l1.7 1.3z" color="#23a"/>
<path d="M473.9 59l-1.3-.6l.9 2.1l1.2 .3z" color="#26a"/>
<path d="M395.4 57.6l-.4-.1l4.6 .8l.2 .1z" color="#277"/>
<path d="M459.8 62.1l1.6-1l-1.5-1.5l-1.4 1.3z" color="#24b"/>
<path d="M432.5 59.2l1-1.3l-4.5-.4l-.4 1z" color="#5b4"/>
<path d="M472.6 58.4l-1.1-.6l1 2.3l1 .4z" color="#385"/>
<path d="M415.6 57.7l-.4-.9l-3.9 1.8l.7 .8z" color="#5a3"/>
<path d="M400 58.4l-.2 0l4.8-.2l-.2 .1z" color="#258"/>
<path d="M394 57.7l.1-.5l-5.8-2.8l.1 .9z" color="#d42"/>
<path d="M404.6 58.2l.2-.1l4.5-.8l-.4 .1z" color="#275"/>
<path d="M471.5 57.8l-1-.6l1.1 2.5l.9 .4z" color="#383"/>
<path d="M420.5 60l-.3-1.6l-3.6 1.4l.7 1.2z" color="#3ab"/>
<path d="M496.7 59.4l1.3-.6l-.4-1.1l-1.2 0z" color="#493"/>
<path d="M427.4 60.9l.6-1.3l-3.7-.6l-.2 1.3z" color="#3ad"/>
<path d="M447.9 61.1l-1.3-1.2l-1.7 1.3l1.8 1z" color="#23a"/>
<path d="M487.7 62.2l1.8 .1l1.1-1.1l-2.1 .2z" color="#229"/>
<path d="M470.5 57.2l-.8-.5l1.1 2.7l.8 .3z" color="#483"/>
<path d="M395 57.5l-.3-.1l4.8 .9l.1 0z" color="#274"/>
<path d="M469.7 56.7l-.6-.4l1.1 2.8l.6 .3z" color="#482"/>
<path d="M479.6 61.5l-2-.1l1.3 1.1l1.6-.2z" color="#228"/>
<path d="M469.1 56.3l-.6-.4l1.2 2.9l.5 .3z" color="#582"/>
<path d="M393.9 58.4l.1-.7l-5.6-2.4l.1 1.1z" color="#d72"/>
<path d="M416.1 58.7l-.5-1l-3.6 1.7l.7 .9z" color="#4a3"/>
<path d="M468.5 55.9l-.4-.2l1.2 2.9l.4 .2z" color="#682"/>
<path d="M468.9 58.9l.4-.3l-1.2-2.9l-.4 .3z" color="#9a3"/>
<path d="M431.5 60.5l1-1.3l-3.9-.7l-.6 1.1z" color="#4b4"/>
<path d="M423.8 61.6l.3-1.3l-3.6-.3l.3 1.5z" color="#26d"/>
<path d="M468.3 59.3l.6-.4l-1.2-2.9l-.5 .5z" color="#7a3"/>
<path d="M457.7 63.1l2.1-1l-1.3-1.2l-1.6 1.4z" color="#23a"/>
<path d="M383.3 58.4l5-4z" color="#582"/>
<path d="M404.8 58.1l.2-.2l4.6-.8l-.3 .2z" color="#273"/>
<path d="M498 58.8l1-.5l-.4-.7l-1 .1z" color="#493"/>
<path d="M467.6 59.7l.7-.4l-1.1-2.8l-.6 .6z" color="#5a3"/>
<path d="M394.7 57.4l-.4-.1l5.1 .9l.1 .1z" color="#273"/>
<path d="M399.8 58.4l-.2-.1l5.2-.2l-.2 .1z" color="#276"/>
<path d="M388.4 55.3l-.1-.9l-5 4l.2 .4z" color="#d42"/>
<path d="M466.8 60.3l.8-.6l-1-2.6l-.8 .7z" color="#5a3"/>
<path d="M449.6 62.4l-1.7-1.3l-1.2 1.1l2.1 1z" color="#23a"/>
<path d="M489.5 62.3l1.4 0l1.5-1.5l-1.8 .4z" color="#229"/>
<path d="M436.8 54.7l-.6-.6l1.1 5l.5 .3z" color="#a31"/>
<path d="M465.8 60.8l1-.5l-1-2.5l-.9 .7z" color="#4a3"/>
<path d="M393.8 59.2l.1-.8l-5.4-2l.1 1.1z" color="#9c3"/>
<path d="M437 59.5l.3-.4l-1.1-5l-.5 .7z" color="#c32"/>
<path d="M437.6 55.5l-.8-.8l1 4.7l.5 .4z" color="#a62"/>
<path d="M416.6 59.8l-.5-1.1l-3.4 1.6l.9 .9z" color="#3a5"/>
<path d="M394.3 57.3l-.2-.1l5.2 .9l.1 .1z" color="#372"/>
<path d="M426.6 62.1l.8-1.2l-3.3-.6l-.3 1.3z" color="#25d"/>
<path d="M420.8 61.5l-.3-1.5l-3.2 1l.7 1.3z" color="#25d"/>
<path d="M464.7 61.5l1.1-.7l-.9-2.3l-1 .9z" color="#3a5"/>
<path d="M438.4 56.3l-.8-.8l.7 4.3l.7 .4z" color="#793"/>
<path d="M405 57.9l.1-.2l4.8-.7l-.3 .1z" color="#372"/>
<path d="M477.6 61.4l-1.6-.3l1.5 1.4l1.4 0z" color="#228"/>
<path d="M499 58.3l.9-.6l-.3-.3l-1 .2z" color="#593"/>
<path d="M439.5 57.3l-1.1-1l.6 3.9l.8 .5z" color="#593"/>
<path d="M388.5 56.4l-.1-1.1l-4.9 3.5l.2 .7z" color="#d72"/>
<path d="M436.4 60l.6-.5l-1.3-4.7l-.6 1z" color="#c72"/>
<path d="M463.4 62.1l1.3-.6l-.8-2.1l-1.2 .8z" color="#39b"/>
<path d="M430.3 61.7l1.2-1.2l-3.5-.9l-.6 1.3z" color="#3bb"/>
<path d="M486.5 62.7l1.3 .5l1.7-.9l-1.8-.1z" color="#228"/>
<path d="M399.1 58.6l.2-.5l-5.2-.9l-.1 .5z" color="#bc3"/>
<path d="M440.7 58.3l-1.2-1l.3 3.4l1 .5z" color="#493"/>
<path d="M399.6 58.3l-.1 0l5.5-.4l-.2 .2z" color="#274"/>
<path d="M490.9 62.3l1.2-.1l1.9-1.8l-1.6 .4z" color="#239"/>
<path d="M462 62.7l1.4-.6l-.7-1.9l-1.3 .9z" color="#25b"/>
<path d="M480.5 62.3l-1.6 .2l1.9 .8l1-.5z" color="#128"/>
<path d="M442 59.3l-1.3-1l.1 2.9l1.1 .6z" color="#393"/>
<path d="M435.8 60.6l.6-.6l-1.3-4.2l-.8 1z" color="#8b3"/>
<path d="M405.1 57.7l.1-.2l4.9-.6l-.2 .1z" color="#372"/>
<path d="M393.6 60.1l.2-.9l-5.2-1.7l.2 1.4z" color="#6b3"/>
<path d="M443.4 60.3l-1.4-1l-.1 2.5l1.3 .6z" color="#299"/>
<path d="M398.8 59.3l.3-.7l-5.1-.9l-.1 .7z" color="#8c3"/>
<path d="M417.3 61l-.7-1.2l-3 1.4l.9 1.1z" color="#39c"/>
<path d="M499.9 57.7l.8-.5l-.2-.1l-.9 .3z" color="#7a3"/>
<path d="M460.3 63.3l1.7-.6l-.6-1.6l-1.6 1z" color="#23a"/>
<path d="M388.6 57.5l-.1-1.1l-4.8 3.1l.4 .7z" color="#8c3"/>
<path d="M423.5 63.2l.3-1.6l-3-.1l.3 1.6z" color="#24c"/>
<path d="M476 61.1l-1.3-.3l1.6 1.6l1.2 .1z" color="#239"/>
<path d="M444.9 61.2l-1.5-.9l-.2 2.1l1.5 .6z" color="#25b"/>
<path d="M410.4 57.3l-.3-.4l-4.9 .6l.6 .6z" color="#b31"/>
<path d="M435 61.2l.8-.6l-1.5-3.8l-.8 1.1z" color="#6b3"/>
<path d="M492.1 62.2l1-.2l2.3-2.1l-1.4 .5z" color="#25a"/>
<path d="M399.5 58.3l-.1-.1l5.7-.5l-.1 .2z" color="#372"/>
<path d="M458 63.9l2.3-.6l-.5-1.2l-2.1 1z" color="#23a"/>
<path d="M446.7 62.2l-1.8-1l-.2 1.8l1.7 .6z" color="#23a"/>
<path d="M410.8 57.9l-.4-.6l-4.6 .8l.8 .8z" color="#b62"/>
<path d="M500.7 57.2l.6-.3l0-.1l-.8 .3z" color="#a82"/>
<path d="M429.1 63l1.2-1.3l-2.9-.8l-.8 1.2z" color="#26d"/>
<path d="M398.4 60l.4-.7l-4.9-.9l-.1 .8z" color="#6b3"/>
<path d="M485 63.1l.6 .6l2.2-.5l-1.3-.5z" color="#128"/>
<path d="M425.8 63.6l.8-1.5l-2.8-.5l-.3 1.6z" color="#24c"/>
<path d="M481.8 62.8l-1 .5l2.4 .4l.2-.6z" color="#128"/>
<path d="M421.1 63.1l-.3-1.6l-2.8 .8l.8 1.4z" color="#24b"/>
<path d="M448.8 63.2l-2.1-1l-.3 1.4l2.2 .5z" color="#239"/>
<path d="M411.3 58.6l-.5-.7l-4.2 1l.8 .9z" color="#7a3"/>
<path d="M501.3 56.8l0 .1l.1 0z" color="#582"/>
<path d="M434.1 62l.9-.8l-1.5-3.3l-1 1.3z" color="#5a3"/>
<path d="M388.8 58.9l-.2-1.4l-4.5 2.7l.3 .9z" color="#6b3"/>
<path d="M493.1 62l.9-.2l2.7-2.4l-1.3 .5z" color="#289"/>
<path d="M474.7 60.8l-1.2-.3l1.7 1.7l1.1 .2z" color="#259"/>
<path d="M399.4 58.2l-.1-.1l5.9-.6l-.1 .2z" color="#372"/>
<path d="M501.3 56.9l.3 .1l-.2-.1z" color="#472"/>
<path d="M487.8 63.2l.9 .2l2.2-1.1l-1.4 0z" color="#228"/>
<path d="M393.4 61.2l.2-1.1l-4.8-1.2l.1 1.4z" color="#5b4"/>
<path d="M483.4 63.1l-.2 .6l2.4 0l-.6-.6z" color="#128"/>
<path d="M418 62.3l-.7-1.3l-2.8 1.3l1.1 1.1z" color="#25c"/>
<path d="M412 59.4l-.7-.8l-3.9 1.2l1.1 .9z" color="#5a3"/>
<path d="M398 60.9l.4-.9l-4.6-.8l-.2 .9z" color="#5b4"/>
<path d="M478.9 62.5l-1.4 0l2.6 1l.7-.2z" color="#128"/>
<path d="M502.3 58.1l-.7-1.1l-.3-.1l.2 .8z" color="#d42"/>
<path d="M404.7 58.3l.5-.8l-5.9 .6l-.2 .5z" color="#d42"/>
<path d="M494 61.8l.8-.2l3.2-2.8l-1.3 .6z" color="#384"/>
<path d="M433 62.8l1.1-.8l-1.6-2.8l-1 1.3z" color="#4a4"/>
<path d="M456.9 62.3l-1.3-.5l-1.6-.3l-1.6 0l-1.5 .3l-1.3 .6l-.8 .8l-.2 .9l.3 .9l.9 .7l1.3 .6l1.5 .3l1.7 0l1.5-.4l1.2-.6l.8-.8l.2-.9l-.3-.8z" color="#229"/>
<path d="M473.5 60.5l-1-.4l1.7 1.8l1 .3z" color="#277"/>
<path d="M412.7 60.3l-.7-.9l-3.5 1.3l1.2 1z" color="#4a3"/>
<path d="M427.7 64.3l1.4-1.3l-2.5-.9l-.8 1.5z" color="#24b"/>
<path d="M404 59.2l.7-.9l-5.6 .3l-.3 .7z" color="#d72"/>
<path d="M388.9 60.3l-.1-1.4l-4.4 2.2l.5 1z" color="#5b4"/>
<path d="M494.8 61.6l.7-.2l3.5-3.1l-1 .5z" color="#383"/>
<path d="M397.5 62l.5-1.1l-4.4-.8l-.2 1.1z" color="#5b4"/>
<path d="M488.7 63.4l.8 .1l2.6-1.3l-1.2 .1z" color="#238"/>
<path d="M393.2 62.4l.2-1.2l-4.5-.9l.2 1.6z" color="#4b4"/>
<path d="M503.3 59.5l-1-1.4l-.8-.4l.2 1.1z" color="#d72"/>
<path d="M423.1 64.9l.4-1.7l-2.4-.1l.4 1.8z" color="#23b"/>
<path d="M418.8 63.7l-.8-1.4l-2.4 1.1l1.4 1.2z" color="#23b"/>
<path d="M431.8 63.7l1.2-.9l-1.5-2.3l-1.2 1.2z" color="#3ab"/>
<path d="M413.6 61.2l-.9-.9l-3 1.4l1.3 1z" color="#393"/>
<path d="M472.5 60.1l-.9-.4l1.7 1.9l.9 .3z" color="#373"/>
<path d="M495.5 61.4l.5-.2l3.9-3.5l-.9 .6z" color="#483"/>
<path d="M457.8 64.8l2.2-.2l.3-1.3l-2.3 .6z" color="#239"/>
<path d="M403.3 60.2l.7-1l-5.2 .1l-.4 .7z" color="#9c3"/>
<path d="M485.6 63.7l.4 .3l2.7-.6l-.9-.2z" color="#128"/>
<path d="M424.7 65.2l1.1-1.6l-2.3-.4l-.4 1.7z" color="#23b"/>
<path d="M378.9 60.4l4.4-2z" color="#372"/>
<path d="M480.8 63.3l-.7 .2l2.9 .6l.2-.4z" color="#127"/>
<path d="M421.5 64.9l-.4-1.8l-2.3 .6l1.1 1.6z" color="#23a"/>
<path d="M477.5 62.5l-1.2-.1l3.1 1.2l.7-.1z" color="#138"/>
<path d="M496 61.2l.5-.2l4.2-3.8l-.8 .5z" color="#482"/>
<path d="M383.5 58.8l-.2-.4l-4.4 2l.3 .4z" color="#ab3"/>
<path d="M460 64.6l1.8-.3l.2-1.6l-1.7 .6z" color="#23a"/>
<path d="M448.6 64.1l-2.2-.5l.5 1.2l2 .2z" color="#229"/>
<path d="M414.5 62.3l-.9-1.1l-2.6 1.5l1.4 1z" color="#39a"/>
<path d="M471.6 59.7l-.8-.3l1.7 1.9l.8 .3z" color="#372"/>
<path d="M496.5 61l.3-.2l4.5-3.9l-.6 .3z" color="#582"/>
<path d="M461.8 64.3l1.5-.4l.1-1.8l-1.4 .6z" color="#24a"/>
<path d="M389.1 61.9l-.2-1.6l-4 1.8l.5 1.2z" color="#4b4"/>
<path d="M430.5 64.6l1.3-.9l-1.5-2l-1.2 1.3z" color="#25c"/>
<path d="M483.2 63.7l-.2 .4l3-.1l-.4-.3z" color="#127"/>
<path d="M383.7 59.5l-.2-.7l-4.3 2l.4 .6z" color="#8b3"/>
<path d="M396.9 63.1l.6-1.1l-4.1-.8l-.2 1.2z" color="#4b5"/>
<path d="M504.3 60.8l-1-1.3l-1.6-.7l.2 1.2z" color="#9c3"/>
<path d="M402.4 61.4l.9-1.2l-4.9-.2l-.4 .9z" color="#6b3"/>
<path d="M446.4 63.6l-1.7-.6l.5 1.6l1.7 .2z" color="#239"/>
<path d="M489.5 63.5l.7 0l2.9-1.5l-1 .2z" color="#239"/>
<path d="M463.3 63.9l1.4-.5l0-1.9l-1.3 .6z" color="#27b"/>
<path d="M501.5 57.7l-.2-.8l-4.5 3.9l.3 .5z" color="#d42"/>
<path d="M470.8 59.4l-.6-.3l1.6 1.8l.7 .4z" color="#372"/>
<path d="M464.7 63.4l1.4-.5l-.3-2.1l-1.1 .7z" color="#395"/>
<path d="M425.9 65.8l1.8-1.5l-1.9-.7l-1.1 1.6z" color="#23b"/>
<path d="M444.7 63l-1.5-.6l.7 1.9l1.3 .3z" color="#24a"/>
<path d="M392.9 63.7l.3-1.3l-4.1-.5l.2 1.5z" color="#3bb"/>
<path d="M415.6 63.4l-1.1-1.1l-2.1 1.4l1.5 1z" color="#25b"/>
<path d="M384.1 60.2l-.4-.7l-4.1 1.9l.5 .7z" color="#6b3"/>
<path d="M466.1 62.9l1.2-.6l-.5-2l-1 .5z" color="#493"/>
<path d="M419.9 65.3l-1.1-1.6l-1.8 .9l1.7 1.3z" color="#23a"/>
<path d="M476.3 62.4l-1.1-.2l3.6 1.4l.6 0z" color="#238"/>
<path d="M443.2 62.4l-1.3-.6l.8 2.1l1.2 .4z" color="#26a"/>
<path d="M470.2 59.1l-.5-.3l1.4 1.8l.7 .3z" color="#472"/>
<path d="M467.3 62.3l1.1-.6l-.8-2l-.8 .6z" color="#493"/>
<path d="M428.8 65.5l1.7-.9l-1.4-1.6l-1.4 1.3z" color="#24b"/>
<path d="M501.7 58.8l-.2-1.1l-4.4 3.6l.3 .7z" color="#d72"/>
<path d="M401.4 62.6l1-1.2l-4.4-.5l-.5 1.1z" color="#5b4"/>
<path d="M468.4 61.7l.9-.5l-1-1.9l-.7 .4z" color="#593"/>
<path d="M441.9 61.8l-1.1-.6l.8 2.4l1.1 .3z" color="#385"/>
<path d="M486 64l.4 .2l3.1-.7l-.8-.1z" color="#128"/>
<path d="M480.1 63.5l-.7 .1l3.4 .6l.2-.1z" color="#127"/>
<path d="M490.2 63.5l.7-.1l3.1-1.6l-.9 .2z" color="#249"/>
<path d="M384.4 61.1l-.3-.9l-4 1.9l.6 .7z" color="#5a3"/>
<path d="M469.3 61.2l.8-.5l-1.2-1.8l-.6 .4z" color="#7a3"/>
<path d="M469.7 58.8l-.4-.2l1.4 1.7l.4 .3z" color="#582"/>
<path d="M505.4 62.2l-1.1-1.4l-2.4-.8l.3 1.3z" color="#6b3"/>
<path d="M440.8 61.2l-1-.5l.9 2.5l.9 .4z" color="#383"/>
<path d="M470.1 60.7l.6-.4l-1.4-1.7l-.4 .3z" color="#a82"/>
<path d="M389.3 63.4l-.2-1.5l-3.7 1.4l.6 1.2z" color="#3ab"/>
<path d="M396.2 64.3l.7-1.2l-3.7-.7l-.3 1.3z" color="#3ad"/>
<path d="M417 64.6l-1.4-1.2l-1.7 1.3l1.8 1z" color="#23a"/>
<path d="M457 65.6l1.8 .2l1.2-1.2l-2.2 .2z" color="#229"/>
<path d="M439.8 60.7l-.8-.5l.9 2.7l.8 .3z" color="#483"/>
<path d="M439 60.2l-.7-.4l1 2.8l.6 .3z" color="#482"/>
<path d="M501.9 60l-.2-1.2l-4.3 3.2l.4 .7z" color="#8c3"/>
<path d="M448.9 65l-2-.2l1.2 1.2l1.7-.3z" color="#228"/>
<path d="M438.3 59.8l-.5-.4l1 2.9l.5 .3z" color="#582"/>
<path d="M483 64.1l-.2 .1l3.6 0l-.4-.2z" color="#127"/>
<path d="M384.9 62.1l-.5-1l-3.7 1.7l.7 .9z" color="#4a3"/>
<path d="M475.2 62.2l-1-.3l4.1 1.7l.5 0z" color="#258"/>
<path d="M437.8 59.4l-.5-.3l1.1 3l.4 .2z" color="#682"/>
<path d="M438 62.4l.4-.3l-1.1-3l-.3 .4z" color="#9a3"/>
<path d="M400.3 63.9l1.1-1.3l-3.9-.6l-.6 1.1z" color="#4b4"/>
<path d="M490.9 63.4l.5-.1l3.4-1.7l-.8 .2z" color="#278"/>
<path d="M392.6 65.1l.3-1.4l-3.6-.3l.3 1.6z" color="#26d"/>
<path d="M437.4 62.8l.6-.4l-1-2.9l-.6 .5z" color="#7a3"/>
<path d="M426.8 66.5l2-1l-1.1-1.2l-1.8 1.5z" color="#23a"/>
<path d="M436.7 63.2l.7-.4l-1-2.8l-.6 .6z" color="#5a3"/>
<path d="M435.9 63.7l.8-.5l-.9-2.6l-.8 .6z" color="#5a3"/>
<path d="M418.7 65.9l-1.7-1.3l-1.3 1.1l2.1 1z" color="#23a"/>
<path d="M458.8 65.8l1.4 0l1.6-1.5l-1.8 .3z" color="#229"/>
<path d="M479.4 63.6l-.6 0l3.8 .7l.2-.1z" color="#138"/>
<path d="M486.4 64.2l.3 .1l3.5-.8l-.7 0z" color="#238"/>
<path d="M506.5 63.6l-1.1-1.4l-3.2-.9l.3 1.5z" color="#5b4"/>
<path d="M405.8 58.1l-.6-.6l1 5.1l.4 .3z" color="#a31"/>
<path d="M434.9 64.3l1-.6l-.9-2.5l-.9 .8z" color="#4a3"/>
<path d="M502.2 61.3l-.3-1.3l-4.1 2.7l.4 .9z" color="#6b3"/>
<path d="M405.8 63l.4-.4l-1-5.1l-.5 .8z" color="#c32"/>
<path d="M406.6 58.9l-.8-.8l.8 4.8l.6 .4z" color="#a62"/>
<path d="M491.4 63.3l.5-.1l3.6-1.8l-.7 .2z" color="#275"/>
<path d="M385.4 63.3l-.5-1.2l-3.5 1.6l.9 1z" color="#3a5"/>
<path d="M395.5 65.6l.7-1.3l-3.3-.6l-.3 1.4z" color="#25d"/>
<path d="M389.6 65l-.3-1.6l-3.3 1.1l.7 1.3z" color="#25d"/>
<path d="M433.8 64.9l1.1-.6l-.8-2.3l-1.1 .8z" color="#3a5"/>
<path d="M407.4 59.8l-.8-.9l.6 4.4l.6 .4z" color="#793"/>
<path d="M474.2 61.9l-.9-.3l4.6 1.9l.4 .1z" color="#275"/>
<path d="M446.9 64.8l-1.7-.2l1.5 1.4l1.4 0z" color="#228"/>
<path d="M408.5 60.7l-1.1-.9l.4 3.9l.9 .5z" color="#593"/>
<path d="M405.2 63.5l.6-.5l-1.1-4.7l-.7 .9z" color="#c72"/>
<path d="M432.5 65.6l1.3-.7l-.8-2.1l-1.2 .9z" color="#39b"/>
<path d="M399.2 65.2l1.1-1.3l-3.4-.8l-.7 1.2z" color="#3bb"/>
<path d="M455.8 66.2l1.2 .5l1.8-.9l-1.8-.2z" color="#228"/>
<path d="M409.7 61.7l-1.2-1l.2 3.5l1 .5z" color="#493"/>
<path d="M491.9 63.2l.4-.1l3.7-1.9l-.5 .2z" color="#273"/>
<path d="M460.2 65.8l1.1-.1l2-1.8l-1.5 .4z" color="#239"/>
<path d="M482.8 64.2l-.2 .1l4.1 0l-.3-.1z" color="#138"/>
<path d="M431 66.2l1.5-.6l-.7-1.9l-1.3 .9z" color="#25b"/>
<path d="M449.8 65.7l-1.7 .3l1.9 .8l1.1-.5z" color="#128"/>
<path d="M411 62.7l-1.3-1l0 3l1.1 .6z" color="#393"/>
<path d="M404.6 64l.6-.5l-1.2-4.3l-.7 1z" color="#8b3"/>
<path d="M412.4 63.7l-1.4-1l-.2 2.6l1.3 .6z" color="#299"/>
<path d="M502.5 62.8l-.3-1.5l-4 2.3l.6 1z" color="#5b4"/>
<path d="M386 64.5l-.6-1.2l-3.1 1.4l.9 1.1z" color="#39c"/>
<path d="M429.3 66.8l1.7-.6l-.5-1.6l-1.7 .9z" color="#23a"/>
<path d="M473.3 61.6l-.8-.3l5 2.1l.4 .1z" color="#273"/>
<path d="M478.8 63.6l-.5 0l4.2 .8l.1-.1z" color="#238"/>
<path d="M373.8 61l5.1-.6z" color="#372"/>
<path d="M492.3 63.1l.3-.2l3.9-1.9l-.5 .2z" color="#373"/>
<path d="M445.2 64.6l-1.3-.3l1.5 1.6l1.3 .1z" color="#239"/>
<path d="M392.3 66.6l.3-1.5l-3-.1l.2 1.6z" color="#24c"/>
<path d="M486.7 64.3l.4 0l3.8-.9l-.7 .1z" color="#248"/>
<path d="M413.9 64.7l-1.5-1l-.3 2.2l1.4 .6z" color="#25b"/>
<path d="M379.2 60.8l-.3-.4l-5.1 .6l.6 .6z" color="#b31"/>
<path d="M507 64.9l.1-.7l-.6-.6l-4-.8l.4 1.5z" color="#4b4"/>
<path d="M403.8 64.7l.8-.7l-1.3-3.8l-.9 1.2z" color="#6b3"/>
<path d="M461.3 65.7l1-.2l2.4-2.1l-1.4 .5z" color="#25a"/>
<path d="M427 67.4l2.3-.6l-.5-1.3l-2 1z" color="#23a"/>
<path d="M415.7 65.7l-1.8-1l-.4 1.8l1.8 .5z" color="#23a"/>
<path d="M492.6 62.9l.2-.1l4-2l-.3 .2z" color="#372"/>
<path d="M379.6 61.4l-.4-.6l-4.8 .8l.8 .8z" color="#b62"/>
<path d="M397.9 66.5l1.3-1.3l-3-.9l-.7 1.3z" color="#26d"/>
<path d="M454.3 66.6l.5 .6l2.2-.5l-1.2-.5z" color="#128"/>
<path d="M394.5 67.1l1-1.5l-2.9-.5l-.3 1.5z" color="#24c"/>
<path d="M451.1 66.3l-1.1 .5l2.3 .4l.3-.6z" color="#128"/>
<path d="M472.5 61.3l-.7-.4l5.4 2.4l.3 .1z" color="#372"/>
<path d="M389.8 66.6l-.2-1.6l-2.9 .8l.8 1.4z" color="#24b"/>
<path d="M417.8 66.7l-2.1-1l-.4 1.3l2.2 .6z" color="#239"/>
<path d="M497.1 61.3l-.3-.5l-4 2l.4 .5z" color="#ab3"/>
<path d="M380.1 62.1l-.5-.7l-4.4 1l.8 .9z" color="#7a3"/>
<path d="M402.9 65.5l.9-.8l-1.4-3.3l-1 1.2z" color="#5a3"/>
<path d="M462.3 65.5l.9-.2l2.9-2.4l-1.4 .5z" color="#289"/>
<path d="M443.9 64.3l-1.2-.4l1.6 1.8l1.1 .2z" color="#259"/>
<path d="M457 66.7l.9 .2l2.3-1.1l-1.4 0z" color="#228"/>
<path d="M452.6 66.6l-.3 .6l2.5 0l-.5-.6z" color="#128"/>
<path d="M482.6 64.3l-.1 .1l4.6-.1l-.4 0z" color="#238"/>
<path d="M507 64.9l1 .2l-.9-.9z" color="#4b5"/>
<path d="M386.7 65.8l-.7-1.3l-2.8 1.3l1.1 1.1z" color="#25c"/>
<path d="M478.3 63.6l-.4-.1l4.5 .8l.1 .1z" color="#258"/>
<path d="M502.9 64.3l-.4-1.5l-3.7 1.8l.6 1.1z" color="#4b4"/>
<path d="M497.4 62l-.3-.7l-3.9 2l.4 .6z" color="#8b3"/>
<path d="M380.7 62.8l-.6-.7l-4.1 1.2l1.1 .9z" color="#5a3"/>
<path d="M487.1 64.3l.3-.1l4-.9l-.5 .1z" color="#268"/>
<path d="M471.8 60.9l-.7-.3l5.8 2.6l.3 .1z" color="#372"/>
<path d="M448.1 66l-1.4 0l2.5 1l.8-.2z" color="#128"/>
<path d="M463.2 65.3l.8-.2l3.3-2.8l-1.2 .6z" color="#384"/>
<path d="M401.8 66.3l1.1-.8l-1.5-2.9l-1.1 1.3z" color="#4a4"/>
<path d="M506.9 66.2l.1-1.3l-4.1-.6l.4 1.6z" color="#3bb"/>
<path d="M425.9 65.8l-1.2-.6l-1.6-.3l-1.6 0l-1.6 .4l-1.2 .6l-.9 .8l-.3 .9l.3 .9l.8 .7l1.3 .6l1.5 .3l1.7 0l1.6-.4l1.2-.6l.9-.8l.2-.9l-.2-.9z" color="#229"/>
<path d="M497.8 62.7l-.4-.7l-3.8 1.9l.6 .6z" color="#6b3"/>
<path d="M442.7 63.9l-1.1-.3l1.6 1.8l1.1 .3z" color="#277"/>
<path d="M381.4 63.7l-.7-.9l-3.6 1.4l1.2 1z" color="#4a3"/>
<path d="M471.1 60.6l-.4-.3l6 2.8l.2 .1z" color="#472"/>
<path d="M396.4 67.8l1.5-1.3l-2.4-.9l-1 1.5z" color="#24b"/>
<path d="M477.9 63.5l-.4-.1l4.8 .9l.1 0z" color="#277"/>
<path d="M464 65.1l.7-.2l3.7-3.2l-1.1 .6z" color="#383"/>
<path d="M509.8 66.7l-1.8-1.6l-1-.2l-.1 1.3z" color="#3ad"/>
<path d="M457.9 66.9l.8 .1l2.6-1.3l-1.1 .1z" color="#238"/>
<path d="M498.2 63.6l-.4-.9l-3.6 1.8l.6 .8z" color="#5a3"/>
<path d="M391.8 68.4l.5-1.8l-2.5 0l.3 1.8z" color="#23b"/>
<path d="M482.5 64.4l-.1-.1l5-.1l-.3 .1z" color="#258"/>
<path d="M387.5 67.2l-.8-1.4l-2.4 1.1l1.3 1.2z" color="#23b"/>
<path d="M476.7 63.6l0-.5l-6-2.8l.1 .9z" color="#d42"/>
<path d="M373.8 61z" color="#372"/>
<path d="M400.6 67.2l1.2-.9l-1.5-2.4l-1.1 1.3z" color="#3ab"/>
<path d="M382.3 64.7l-.9-1l-3.1 1.5l1.3 1z" color="#393"/>
<path d="M487.4 64.2l.2-.2l4.3-.8l-.5 .1z" color="#275"/>
<path d="M441.6 63.6l-.9-.4l1.6 1.9l.9 .3z" color="#373"/>
<path d="M503.3 65.9l-.4-1.6l-3.5 1.4l.7 1.3z" color="#3ab"/>
<path d="M464.7 64.9l.5-.2l4.1-3.5l-.9 .5z" color="#483"/>
<path d="M373.3 61.8l.5-.8z" color="#d42"/>
<path d="M426.8 68.3l2.1-.2l.4-1.3l-2.3 .6z" color="#239"/>
<path d="M454.8 67.2l.3 .3l2.8-.6l-.9-.2z" color="#128"/>
<path d="M393.4 68.7l1.1-1.6l-2.2-.5l-.5 1.8z" color="#23b"/>
<path d="M450 66.8l-.8 .2l2.9 .6l.2-.4z" color="#127"/>
<path d="M477.5 63.4l-.3-.1l5 .9l.1 .1z" color="#274"/>
<path d="M390.1 68.4l-.3-1.8l-2.3 .6l1.1 1.6z" color="#23a"/>
<path d="M446.7 66l-1.3-.1l3.1 1.2l.7-.1z" color="#138"/>
<path d="M465.2 64.7l.5-.2l4.4-3.8l-.8 .5z" color="#482"/>
<path d="M428.9 68.1l1.8-.3l.3-1.6l-1.7 .6z" color="#23a"/>
<path d="M417.5 67.6l-2.2-.6l.4 1.3l2.1 .2z" color="#229"/>
<path d="M476.6 64.3l.1-.7l-5.9-2.4l.2 1.1z" color="#d72"/>
<path d="M498.8 64.6l-.6-1l-3.4 1.7l.8 .9z" color="#4a3"/>
<path d="M383.2 65.8l-.9-1.1l-2.7 1.5l1.4 1.1z" color="#39a"/>
<path d="M440.7 63.2l-.8-.3l1.5 1.9l.9 .3z" color="#372"/>
<path d="M372.6 62.7l.7-.9z" color="#d72"/>
<path d="M465.7 64.5l.3-.2l4.7-4l-.6 .4z" color="#582"/>
<path d="M430.7 67.8l1.5-.4l.3-1.8l-1.5 .6z" color="#24a"/>
<path d="M452.3 67.2l-.2 .4l3-.1l-.3-.3z" color="#127"/>
<path d="M399.2 68.1l1.4-.9l-1.4-2l-1.3 1.3z" color="#25c"/>
<path d="M506.8 67.6l.1-1.4l-3.6-.3l.4 1.5z" color="#26d"/>
<path d="M487.6 64l.3-.2l4.4-.7l-.4 .1z" color="#273"/>
<path d="M415.3 67l-1.8-.5l.5 1.6l1.7 .2z" color="#239"/>
<path d="M458.7 67l.7 0l2.9-1.5l-1 .2z" color="#239"/>
<path d="M477.2 63.3l-.3-.1l5.3 .9l0 .1z" color="#273"/>
<path d="M432.2 67.4l1.5-.5l.1-2l-1.3 .7z" color="#27b"/>
<path d="M482.4 64.3l-.1 0l5.3-.3l-.2 .2z" color="#276"/>
<path d="M470.8 61.2l-.1-.9l-4.7 4l.2 .5z" color="#d42"/>
<path d="M439.9 62.9l-.6-.3l1.4 1.9l.7 .3z" color="#372"/>
<path d="M433.7 66.9l1.3-.5l-.1-2.1l-1.1 .6z" color="#395"/>
<path d="M394.6 69.3l1.8-1.5l-1.9-.7l-1.1 1.6z" color="#23b"/>
<path d="M413.5 66.5l-1.4-.6l.6 1.9l1.3 .3z" color="#24a"/>
<path d="M384.3 66.9l-1.1-1.1l-2.2 1.5l1.5 .9z" color="#25b"/>
<path d="M371.8 63.7l.8-1z" color="#9c3"/>
<path d="M476.5 65.1l.1-.8l-5.6-2l.2 1.2z" color="#9c3"/>
<path d="M499.4 65.7l-.6-1.1l-3.2 1.6l1 1z" color="#3a5"/>
<path d="M435 66.4l1.2-.6l-.3-2.1l-1 .6z" color="#493"/>
<path d="M509.7 68.1l.5-1l-.4-.4l-2.9-.5l-.1 1.4z" color="#25d"/>
<path d="M476.9 63.2l-.2-.1l5.4 1l.1 0z" color="#372"/>
<path d="M388.6 68.8l-1.1-1.6l-1.9 .9l1.7 1.3z" color="#23a"/>
<path d="M503.7 67.4l-.4-1.5l-3.2 1.1l.9 1.2z" color="#25d"/>
<path d="M445.4 65.9l-1.1-.2l3.6 1.5l.6-.1z" color="#238"/>
<path d="M412.1 65.9l-1.3-.6l.6 2.2l1.3 .3z" color="#26a"/>
<path d="M439.3 62.6l-.5-.3l1.3 1.8l.6 .4z" color="#472"/>
<path d="M487.9 63.8l.2-.1l4.5-.8l-.3 .2z" color="#372"/>
<path d="M436.2 65.8l1.1-.5l-.6-2.1l-.8 .5z" color="#493"/>
<path d="M397.5 69l1.7-.9l-1.3-1.6l-1.5 1.3z" color="#24b"/>
<path d="M471 62.3l-.2-1.1l-4.6 3.6l.3 .7z" color="#d72"/>
<path d="M437.3 65.3l.9-.6l-.8-1.9l-.7 .4z" color="#593"/>
<path d="M410.8 65.3l-1.1-.6l.7 2.4l1 .4z" color="#385"/>
<path d="M455.1 67.5l.4 .2l3.2-.7l-.8-.1z" color="#128"/>
<path d="M481.9 64.6l.2-.5l-5.4-1l0 .5z" color="#bc3"/>
<path d="M449.2 67l-.7 .1l3.3 .7l.3-.2z" color="#127"/>
<path d="M459.4 67l.6-.1l3.2-1.6l-.9 .2z" color="#249"/>
<path d="M438.2 64.7l.8-.4l-1-1.9l-.6 .4z" color="#7a3"/>
<path d="M438.8 62.3l-.4-.2l1.2 1.8l.5 .2z" color="#582"/>
<path d="M482.3 64.3l-.1-.1l5.7-.4l-.3 .2z" color="#274"/>
<path d="M439 64.3l.6-.4l-1.2-1.8l-.4 .3z" color="#a82"/>
<path d="M409.7 64.7l-1-.5l.7 2.5l1 .4z" color="#383"/>
<path d="M370.9 64.9l.9-1.2z" color="#6b3"/>
<path d="M385.6 68.1l-1.3-1.2l-1.8 1.3l1.7 1z" color="#23a"/>
<path d="M425.9 69.1l1.8 .2l1.2-1.2l-2.1 .2z" color="#229"/>
<path d="M488.1 63.7l.1-.2l4.6-.7l-.2 .1z" color="#372"/>
<path d="M408.7 64.2l-.9-.5l.8 2.7l.8 .3z" color="#483"/>
<path d="M476.4 66.1l.1-1l-5.3-1.6l.3 1.3z" color="#6b3"/>
<path d="M481.7 65.2l.2-.6l-5.2-1l-.1 .7z" color="#8c3"/>
<path d="M500.1 67l-.7-1.3l-2.8 1.5l1 1z" color="#39c"/>
<path d="M407.8 63.7l-.6-.4l.8 2.8l.6 .3z" color="#482"/>
<path d="M471.2 63.5l-.2-1.2l-4.5 3.2l.4 .7z" color="#8c3"/>
<path d="M417.8 68.5l-2.1-.2l1.1 1.2l1.8-.3z" color="#228"/>
<path d="M452.1 67.6l-.3 .2l3.7-.1l-.4-.2z" color="#127"/>
<path d="M407.2 63.3l-.6-.4l.8 2.9l.6 .3z" color="#582"/>
<path d="M506.6 69.1l.2-1.5l-3.1-.2l.5 1.7z" color="#24c"/>
<path d="M493.2 63.3l-.4-.5l-4.6 .7l.6 .6z" color="#b31"/>
<path d="M444.3 65.7l-1.1-.3l4.1 1.7l.6 .1z" color="#258"/>
<path d="M406.6 62.9l-.4-.3l.8 3l.4 .2z" color="#682"/>
<path d="M406.6 65.9l.4-.3l-.8-3l-.4 .4z" color="#9a3"/>
<path d="M460 66.9l.5-.1l3.5-1.7l-.8 .2z" color="#278"/>
<path d="M482.2 64.2l0-.1l5.9-.4l-.2 .1z" color="#372"/>
<path d="M406 66.3l.6-.4l-.8-2.9l-.6 .5z" color="#7a3"/>
<path d="M395.4 70.1l2.1-1.1l-1.1-1.2l-1.8 1.5z" color="#23a"/>
<path d="M493.6 63.9l-.4-.6l-4.4 .8l.9 .8z" color="#b62"/>
<path d="M369.9 66.1l1-1.2z" color="#5b4"/>
<path d="M405.4 66.8l.6-.5l-.8-2.8l-.6 .5z" color="#5a3"/>
<path d="M481.4 66l.3-.8l-5.1-.9l-.1 .8z" color="#6b3"/>
<path d="M509 69.5l.7-1.4l-2.9-.5l-.2 1.5z" color="#24c"/>
<path d="M404.5 67.3l.9-.5l-.8-2.8l-.8 .7z" color="#5a3"/>
<path d="M504.2 69.1l-.5-1.7l-2.7 .8l1 1.5z" color="#24b"/>
<path d="M387.3 69.4l-1.7-1.3l-1.4 1.1l2.2 1z" color="#23a"/>
<path d="M427.7 69.3l1.3 0l1.7-1.5l-1.8 .3z" color="#229"/>
<path d="M448.5 67.1l-.6 .1l3.8 .7l.1-.1z" color="#138"/>
<path d="M494.2 64.5l-.6-.6l-3.9 1l.9 .8z" color="#7a3"/>
<path d="M455.5 67.7l.3 .1l3.6-.8l-.7 0z" color="#238"/>
<path d="M509.7 68.1l2.6 .9l.3-.3l-2.4-1.6z" color="#26d"/>
<path d="M403.5 67.9l1-.6l-.7-2.6l-.9 .8z" color="#4a3"/>
<path d="M374.4 61.6l-.6-.6l.8 5.1l.4 .3z" color="#a31"/>
<path d="M471.5 64.8l-.3-1.3l-4.3 2.7l.4 .9z" color="#6b3"/>
<path d="M482.2 64.1l-.1 0l6.1-.6l-.1 .2z" color="#372"/>
<path d="M374.2 66.5l.4-.4l-.8-5.1l-.5 .8z" color="#c32"/>
<path d="M476.3 67.2l.1-1.1l-4.9-1.3l.2 1.5z" color="#5b4"/>
<path d="M375.2 62.4l-.8-.8l.6 4.8l.6 .4z" color="#a62"/>
<path d="M460.5 66.8l.4-.1l3.8-1.8l-.7 .2z" color="#275"/>
<path d="M501 68.2l-.9-1.2l-2.5 1.2l1.2 1.1z" color="#25c"/>
<path d="M402.4 68.5l1.1-.6l-.6-2.4l-1.1 .8z" color="#3a5"/>
<path d="M376 63.3l-.8-.9l.4 4.4l.7 .4z" color="#793"/>
<path d="M443.2 65.4l-.9-.3l4.5 1.9l.5 .1z" color="#275"/>
<path d="M415.7 68.3l-1.7-.2l1.4 1.4l1.4 0z" color="#228"/>
<path d="M494.8 65.3l-.6-.8l-3.6 1.2l1 1z" color="#5a3"/>
<path d="M377.1 64.2l-1.1-.9l.3 3.9l.8 .5z" color="#593"/>
<path d="M481 66.9l.4-.9l-4.9-.9l-.1 1z" color="#5b4"/>
<path d="M373.6 67l.6-.5l-.9-4.7l-.7 .9z" color="#c72"/>
<path d="M401.1 69.1l1.3-.6l-.6-2.2l-1.2 .9z" color="#39b"/>
<path d="M368.8 67.4l1.1-1.3z" color="#4b4"/>
<path d="M424.7 69.7l1.1 .5l1.9-.9l-1.8-.2z" color="#228"/>
<path d="M487.8 64.2l.4-.7l-6.1 .6l-.2 .5z" color="#d42"/>
<path d="M378.3 65.2l-1.2-1l0 3.5l1 .6z" color="#493"/>
<path d="M460.9 66.7l.4-.1l3.9-1.9l-.5 .2z" color="#273"/>
<path d="M429 69.3l1.1-.1l2.1-1.8l-1.5 .4z" color="#239"/>
<path d="M451.8 67.8l-.1 .1l4.1-.1l-.3-.1z" color="#138"/>
<path d="M399.6 69.7l1.5-.6l-.5-1.9l-1.4 .9z" color="#25b"/>
<path d="M418.6 69.2l-1.8 .3l2 .8l1.1-.5z" color="#128"/>
<path d="M379.6 66.2l-1.3-1l-.2 3.1l1.1 .5z" color="#393"/>
<path d="M495.6 66.2l-.8-.9l-3.2 1.4l1.3 1z" color="#4a3"/>
<path d="M373 67.6l.6-.6l-1-4.3l-.8 1z" color="#8b3"/>
<path d="M511 70.3l1.3-1.3l-2.6-.9l-.7 1.4z" color="#24b"/>
<path d="M381 67.3l-1.4-1.1l-.4 2.6l1.3 .6z" color="#299"/>
<path d="M487.1 65.2l.7-1l-5.9 .4l-.2 .6z" color="#d72"/>
<path d="M471.7 66.3l-.2-1.5l-4.2 2.3l.6 1z" color="#5b4"/>
<path d="M397.9 70.4l1.7-.7l-.4-1.6l-1.7 .9z" color="#23a"/>
<path d="M442.3 65.1l-.9-.3l5 2.1l.4 .1z" color="#273"/>
<path d="M447.9 67.2l-.6-.1l4.2 .8l.2 0z" color="#238"/>
<path d="M461.3 66.6l.3-.1l4.1-2l-.5 .2z" color="#373"/>
<path d="M455.8 67.8l.3 0l3.9-.9l-.6 .1z" color="#248"/>
<path d="M414 68.1l-1.3-.3l1.4 1.6l1.3 .1z" color="#239"/>
<path d="M382.5 68.2l-1.5-.9l-.5 2.1l1.5 .6z" color="#25b"/>
<path d="M480.5 67.9l.5-1l-4.6-.8l-.1 1.1z" color="#5b4"/>
<path d="M476.2 68.4l.1-1.2l-4.6-.9l.3 1.5z" color="#4b4"/>
<path d="M506.4 70.9l.2-1.8l-2.4 0l.5 1.8z" color="#23b"/>
<path d="M502 69.7l-1-1.5l-2.2 1.1l1.4 1.3z" color="#23b"/>
<path d="M372.2 68.3l.8-.7l-1.2-3.9l-.9 1.2z" color="#6b3"/>
<path d="M496.6 67.2l-1-1l-2.7 1.5l1.3 1z" color="#393"/>
<path d="M430.1 69.2l1-.1l2.6-2.2l-1.5 .5z" color="#25a"/>
<path d="M395.6 71l2.3-.6l-.4-1.4l-2.1 1.1z" color="#23a"/>
<path d="M384.2 69.2l-1.7-1l-.5 1.8l1.8 .6z" color="#23a"/>
<path d="M367.5 68.8l1.3-1.4z" color="#3bb"/>
<path d="M461.6 66.5l.2-.1l4.2-2.1l-.3 .2z" color="#372"/>
<path d="M486.5 66.2l.6-1l-5.4 0l-.3 .8z" color="#9c3"/>
<path d="M423.1 70.1l.4 .6l2.3-.5l-1.1-.5z" color="#128"/>
<path d="M508 71.2l1-1.7l-2.4-.4l-.2 1.8z" color="#23b"/>
<path d="M419.9 69.8l-1.1 .5l2.3 .4l.3-.6z" color="#128"/>
<path d="M504.7 70.9l-.5-1.8l-2.2 .6l1.2 1.6z" color="#23a"/>
<path d="M441.4 64.8l-.7-.3l5.4 2.3l.3 .1z" color="#372"/>
<path d="M386.4 70.2l-2.2-1l-.4 1.4l2.2 .5z" color="#239"/>
<path d="M466.2 64.8l-.2-.5l-4.2 2.1l.4 .4z" color="#ab3"/>
<path d="M371.2 69l1-.7l-1.3-3.4l-1 1.2z" color="#5a3"/>
<path d="M497.6 68.2l-1-1l-2.4 1.5l1.5 1z" color="#39a"/>
<path d="M431.1 69.1l.9-.2l3-2.5l-1.3 .5z" color="#289"/>
<path d="M412.7 67.8l-1.3-.3l1.5 1.8l1.2 .1z" color="#259"/>
<path d="M425.8 70.2l.9 .2l2.3-1.1l-1.3 0z" color="#228"/>
<path d="M421.4 70.1l-.3 .6l2.4 0l-.4-.6z" color="#128"/>
<path d="M451.7 67.9l-.2 0l4.6-.1l-.3 0z" color="#238"/>
<path d="M447.3 67.1l-.5-.1l4.5 .9l.2 0z" color="#258"/>
<path d="M472 67.8l-.3-1.5l-3.8 1.8l.6 1.2z" color="#4b4"/>
<path d="M466.5 65.5l-.3-.7l-4 2l.4 .6z" color="#8b3"/>
<path d="M480 69.1l.5-1.2l-4.2-.7l-.1 1.2z" color="#4b5"/>
<path d="M485.6 67.4l.9-1.2l-5.1-.2l-.4 .9z" color="#6b3"/>
<path d="M456.1 67.8l.2-.1l4.2-.9l-.5 .1z" color="#268"/>
<path d="M440.7 64.5l-.6-.4l5.7 2.6l.3 .1z" color="#372"/>
<path d="M416.8 69.5l-1.4 0l2.5 1.1l.9-.3z" color="#128"/>
<path d="M512.3 69l1.7 1.6l1-.7l-2.4-1.2z" color="#25c"/>
<path d="M432 68.9l.8-.3l3.4-2.8l-1.2 .6z" color="#384"/>
<path d="M366.2 70l1.3-1.2z" color="#26d"/>
<path d="M370.1 69.9l1.1-.9l-1.3-2.9l-1.1 1.3z" color="#4a4"/>
<path d="M509.4 71.8l1.6-1.5l-2-.8l-1 1.7z" color="#23b"/>
<path d="M476 69.7l.2-1.3l-4.2-.6l.4 1.6z" color="#3bb"/>
<path d="M394.6 69.3l-1.2-.6l-1.6-.3l-1.7 0l-1.5 .4l-1.3 .6l-.9 .8l-.4 .9l.2 .9l.8 .8l1.3 .6l1.5 .3l1.7-.1l1.6-.3l1.3-.6l.9-.8l.3-.9l-.2-.9z" color="#229"/>
<path d="M498.8 69.3l-1.2-1.1l-1.9 1.5l1.6 1z" color="#25b"/>
<path d="M466.9 66.2l-.4-.7l-3.9 1.9l.6 .7z" color="#6b3"/>
<path d="M411.4 67.5l-1-.4l1.4 1.9l1.1 .3z" color="#277"/>
<path d="M440.1 64.1l-.5-.2l6 2.7l.2 .1z" color="#472"/>
<path d="M503.2 71.3l-1.2-1.6l-1.8 .9l1.8 1.3z" color="#23a"/>
<path d="M446.8 67l-.4-.1l4.8 .9l.1 .1z" color="#277"/>
<path d="M432.8 68.6l.6-.2l3.9-3.1l-1.1 .5z" color="#383"/>
<path d="M512.3 71.5l1.7-.9l-1.7-1.6l-1.3 1.3z" color="#24b"/>
<path d="M484.7 68.6l.9-1.2l-4.6-.5l-.5 1z" color="#5b4"/>
<path d="M426.7 70.4l.7 .1l2.7-1.3l-1.1 .1z" color="#238"/>
<path d="M467.3 67.1l-.4-.9l-3.7 1.9l.6 .8z" color="#5a3"/>
<path d="M451.5 67.9l-.2 0l5-.2l-.2 .1z" color="#258"/>
<path d="M445.6 67.2l0-.6l-6-2.7l.1 .8z" color="#d42"/>
<path d="M368.8 70.7l1.3-.8l-1.3-2.5l-1.3 1.4z" color="#3ab"/>
<path d="M456.3 67.7l.3-.1l4.3-.9l-.4 .1z" color="#275"/>
<path d="M410.4 67.1l-1-.4l1.4 2l1 .3z" color="#373"/>
<path d="M472.4 69.4l-.4-1.6l-3.5 1.5l.7 1.2z" color="#3ab"/>
<path d="M433.4 68.4l.5-.2l4.3-3.5l-.9 .6z" color="#483"/>
<path d="M479.4 70.3l.6-1.2l-3.8-.7l-.2 1.3z" color="#3ad"/>
<path d="M500.2 70.6l-1.4-1.3l-1.5 1.4l1.8 1z" color="#23a"/>
<path d="M395.3 71.9l2.2-.2l.4-1.3l-2.3 .6z" color="#239"/>
<path d="M423.5 70.7l.3 .4l2.9-.7l-.9-.2z" color="#128"/>
<path d="M418.8 70.3l-.9 .3l2.8 .5l.4-.4z" color="#127"/>
<path d="M446.4 66.9l-.3-.1l5 .9l.1 .1z" color="#274"/>
<path d="M415.4 69.5l-1.3-.1l3 1.3l.8-.1z" color="#138"/>
<path d="M364.7 71.4l1.5-1.4z" color="#24b"/>
<path d="M433.9 68.2l.5-.2l4.6-3.7l-.8 .4z" color="#482"/>
<path d="M397.5 71.7l1.7-.3l.4-1.7l-1.7 .7z" color="#23a"/>
<path d="M386 71.1l-2.2-.5l.3 1.3l2.1 .1z" color="#229"/>
<path d="M445.5 67.9l.1-.7l-5.9-2.5l.2 1.1z" color="#d72"/>
<path d="M467.9 68.1l-.6-1l-3.5 1.8l.8 .9z" color="#4a3"/>
<path d="M409.4 66.7l-.8-.3l1.4 1.9l.8 .4z" color="#372"/>
<path d="M483.7 69.9l1-1.3l-4.2-.7l-.5 1.2z" color="#4b4"/>
<path d="M434.4 68l.3-.1l4.9-4l-.6 .4z" color="#582"/>
<path d="M399.2 71.4l1.5-.4l.4-1.9l-1.5 .6z" color="#24a"/>
<path d="M421.1 70.7l-.4 .4l3.1 0l-.3-.4z" color="#127"/>
<path d="M367.4 71.6l1.4-.9l-1.3-1.9l-1.3 1.2z" color="#25c"/>
<path d="M475.8 71.1l.2-1.4l-3.6-.3l.3 1.6z" color="#26d"/>
<path d="M510.3 72.6l2-1.1l-1.3-1.2l-1.6 1.5z" color="#23a"/>
<path d="M456.6 67.6l.2-.2l4.5-.8l-.4 .1z" color="#273"/>
<path d="M383.8 70.6l-1.8-.6l.4 1.7l1.7 .2z" color="#239"/>
<path d="M427.4 70.5l.7 0l3-1.4l-1 .1z" color="#239"/>
<path d="M446.1 66.8l-.3-.1l5.2 1l.1 0z" color="#273"/>
<path d="M400.7 71l1.5-.5l.2-2l-1.3 .6z" color="#27b"/>
<path d="M451.3 67.9l-.1-.1l5.4-.2l-.3 .1z" color="#276"/>
<path d="M439.7 64.7l-.1-.8l-4.9 4l.2 .5z" color="#d42"/>
<path d="M502 71.9l-1.8-1.3l-1.1 1.1l2.2 1z" color="#23a"/>
<path d="M408.6 66.4l-.6-.3l1.2 1.9l.8 .3z" color="#372"/>
<path d="M402.2 70.5l1.3-.6l0-2l-1.1 .6z" color="#395"/>
<path d="M488.8 64.1l-.6-.6l1.5 5.1l.5 .3z" color="#a31"/>
<path d="M382 70l-1.5-.6l.5 2l1.4 .3z" color="#24a"/>
<path d="M489.3 69l.4-.4l-1.5-5.1l-.4 .7z" color="#c32"/>
<path d="M445.4 68.7l.1-.8l-5.6-2.1l.1 1.2z" color="#9c3"/>
<path d="M489.7 64.9l-.9-.8l1.4 4.8l.6 .4z" color="#a62"/>
<path d="M468.5 69.3l-.6-1.2l-3.3 1.7l.9 1z" color="#3a5"/>
<path d="M403.5 69.9l1.2-.5l-.2-2.1l-1 .6z" color="#493"/>
<path d="M478.8 71.6l.6-1.3l-3.4-.6l-.2 1.4z" color="#25d"/>
<path d="M445.8 66.7l-.2-.1l5.4 1l0 .1z" color="#372"/>
<path d="M472.7 71l-.3-1.6l-3.2 1.1l.8 1.3z" color="#25d"/>
<path d="M490.6 65.7l-.9-.8l1.1 4.4l.6 .4z" color="#793"/>
<path d="M414.1 69.4l-1.2-.1l3.6 1.4l.6 0z" color="#238"/>
<path d="M380.5 69.4l-1.3-.6l.6 2.2l1.2 .4z" color="#26a"/>
<path d="M408 66.1l-.6-.3l1.2 1.9l.6 .3z" color="#472"/>
<path d="M456.8 67.4l.1-.2l4.7-.7l-.3 .1z" color="#372"/>
<path d="M404.7 69.4l1.1-.6l-.4-2l-.9 .5z" color="#493"/>
<path d="M491.6 66.7l-1-1l.8 4l.9 .5z" color="#593"/>
<path d="M365.7 72.6l1.7-1l-1.2-1.6l-1.5 1.4z" color="#24b"/>
<path d="M439.9 65.8l-.2-1.1l-4.8 3.7l.3 .6z" color="#d72"/>
<path d="M488.8 69.5l.5-.5l-1.5-4.8l-.7 1z" color="#c72"/>
<path d="M482.6 71.3l1.1-1.4l-3.7-.8l-.6 1.2z" color="#3bb"/>
<path d="M405.8 68.8l.8-.5l-.6-2l-.6 .5z" color="#593"/>
<path d="M514 70.6l.8 1.6l1.4-.6l-.8-1.6l-.4-.1z" color="#25b"/>
<path d="M379.2 68.8l-1.1-.5l.6 2.4l1.1 .3z" color="#385"/>
<path d="M423.8 71.1l.3 .2l3.3-.8l-.7-.1z" color="#128"/>
<path d="M450.8 68.1l.2-.5l-5.4-1l0 .6z" color="#bc3"/>
<path d="M417.9 70.6l-.8 .1l3.4 .6l.2-.2z" color="#127"/>
<path d="M492.9 67.7l-1.3-1l.7 3.5l.9 .6z" color="#493"/>
<path d="M428.1 70.5l.5 0l3.4-1.6l-.9 .2z" color="#249"/>
<path d="M362.8 72.8l1.9-1.4z" color="#23b"/>
<path d="M406.6 68.3l.9-.5l-.9-1.9l-.6 .4z" color="#7a3"/>
<path d="M451.2 67.8l-.1-.1l5.7-.3l-.2 .2z" color="#274"/>
<path d="M407.4 65.8l-.4-.2l1.1 1.8l.5 .3z" color="#582"/>
<path d="M407.5 67.8l.6-.4l-1.1-1.8l-.4 .3z" color="#a82"/>
<path d="M378.1 68.3l-1-.6l.6 2.6l1 .4z" color="#383"/>
<path d="M494.2 68.7l-1.3-1l.3 3.1l1.2 .5z" color="#393"/>
<path d="M488.2 70.1l.6-.6l-1.7-4.3l-.6 1z" color="#8b3"/>
<path d="M394.4 72.7l1.7 .2l1.4-1.2l-2.2 .2z" color="#229"/>
<path d="M456.9 67.2l.2-.1l4.7-.7l-.2 .1z" color="#372"/>
<path d="M377.1 67.7l-.8-.5l.6 2.8l.8 .3z" color="#483"/>
<path d="M445.3 69.6l.1-.9l-5.4-1.7l.3 1.4z" color="#6b3"/>
<path d="M495.7 69.7l-1.5-1l.2 2.6l1.3 .6z" color="#299"/>
<path d="M450.5 68.8l.3-.7l-5.2-.9l-.1 .7z" color="#8c3"/>
<path d="M469.2 70.5l-.7-1.2l-3 1.5l1.1 1z" color="#39c"/>
<path d="M513 72.9l1.8-.7l-.8-1.6l-1.7 .9z" color="#23a"/>
<path d="M376.3 67.2l-.7-.4l.7 2.9l.6 .3z" color="#482"/>
<path d="M440 67l-.1-1.2l-4.7 3.2l.4 .8z" color="#8c3"/>
<path d="M386.2 72l-2.1-.1l1.1 1.2l1.8-.3z" color="#228"/>
<path d="M420.7 71.1l-.2 .2l3.6 0l-.3-.2z" color="#127"/>
<path d="M375.6 66.8l-.6-.4l.7 3l.6 .3z" color="#582"/>
<path d="M475.6 72.7l.2-1.6l-3.1-.1l.5 1.7z" color="#24c"/>
<path d="M497.3 70.7l-1.6-1l0 2.2l1.5 .6z" color="#25b"/>
<path d="M462.2 66.8l-.4-.4l-4.7 .7l.6 .6z" color="#b31"/>
<path d="M412.9 69.3l-1.1-.3l4.1 1.7l.6 0z" color="#258"/>
<path d="M375 66.4l-.4-.3l.7 3.1l.4 .2z" color="#682"/>
<path d="M516.2 71.6l1.3-.6l-.3-.5l-1.8-.5z" color="#39b"/>
<path d="M487.4 70.8l.8-.7l-1.7-3.9l-.9 1.2z" color="#6b3"/>
<path d="M374.8 69.5l.5-.3l-.7-3.1l-.4 .4z" color="#9a3"/>
<path d="M428.6 70.5l.5-.1l3.7-1.8l-.8 .3z" color="#278"/>
<path d="M451.1 67.7l-.1 0l5.9-.5l-.1 .2z" color="#372"/>
<path d="M510.7 73.5l2.3-.6l-.7-1.4l-2 1.1z" color="#23a"/>
<path d="M499.1 71.7l-1.8-1l-.1 1.8l1.7 .6z" color="#23a"/>
<path d="M374.3 69.9l.5-.4l-.6-3l-.6 .5z" color="#7a3"/>
<path d="M363.6 73.6l2.1-1l-1-1.2l-1.9 1.4z" color="#23a"/>
<path d="M462.6 67.4l-.4-.6l-4.5 .9l.8 .8z" color="#b62"/>
<path d="M373.6 70.3l.7-.4l-.7-2.9l-.6 .6z" color="#5a3"/>
<path d="M481.4 72.5l1.2-1.2l-3.2-1l-.6 1.3z" color="#26d"/>
<path d="M450.2 69.6l.3-.8l-5-.9l-.1 .8z" color="#6b3"/>
<path d="M478 73.1l.8-1.5l-3-.5l-.2 1.6z" color="#24c"/>
<path d="M372.7 70.9l.9-.6l-.6-2.7l-.8 .7z" color="#5a3"/>
<path d="M473.2 72.7l-.5-1.7l-2.7 .8l.9 1.4z" color="#24b"/>
<path d="M501.3 72.7l-2.2-1l-.2 1.4l2.3 .5z" color="#239"/>
<path d="M396.1 72.9l1.3 0l1.8-1.5l-1.7 .3z" color="#229"/>
<path d="M417.1 70.7l-.6 0l3.7 .7l.3-.1z" color="#138"/>
<path d="M463.2 68.1l-.6-.7l-4.1 1.1l.9 .8z" color="#7a3"/>
<path d="M424.1 71.3l.3 .1l3.7-.9l-.7 0z" color="#238"/>
<path d="M486.5 71.5l.9-.7l-1.8-3.4l-.9 1.2z" color="#5a3"/>
<path d="M371.7 71.4l1-.5l-.5-2.6l-1 .7z" color="#4a3"/>
<path d="M440.3 68.4l-.3-1.4l-4.4 2.8l.4 .9z" color="#6b3"/>
<path d="M517.5 71l.7-.4l-1-.1z" color="#3a5"/>
<path d="M451 67.7l0-.1l6.1-.5l-.2 .1z" color="#372"/>
<path d="M445.1 70.7l.2-1.1l-5-1.2l.2 1.4z" color="#5b4"/>
<path d="M429.1 70.4l.5-.1l3.8-1.9l-.6 .2z" color="#275"/>
<path d="M470 71.8l-.8-1.3l-2.6 1.3l1.1 1.1z" color="#25c"/>
<path d="M370.6 72.1l1.1-.7l-.5-2.4l-1.1 .9z" color="#3a5"/>
<path d="M411.8 69l-1-.3l4.6 1.9l.5 .1z" color="#275"/>
<path d="M384.1 71.9l-1.7-.2l1.3 1.4l1.5 0z" color="#228"/>
<path d="M463.8 68.9l-.6-.8l-3.8 1.2l1.1 1z" color="#5a3"/>
<path d="M449.8 70.5l.4-.9l-4.8-.9l-.1 .9z" color="#5b4"/>
<path d="M369.3 72.7l1.3-.6l-.5-2.2l-1.3 .8z" color="#39b"/>
<path d="M456.6 67.8l.5-.7l-6.1 .5l-.2 .5z" color="#d42"/>
<path d="M393.1 73.3l1.1 .5l1.9-.9l-1.7-.2z" color="#228"/>
<path d="M485.5 72.4l1-.9l-1.8-2.9l-1 1.3z" color="#4a4"/>
<path d="M429.6 70.3l.3-.1l4-2l-.5 .2z" color="#273"/>
<path d="M397.4 72.9l1.1-.1l2.2-1.8l-1.5 .4z" color="#239"/>
<path d="M509.4 71.8l-1.4-.6l-1.6-.3l-1.7 0l-1.5 .4l-1.2 .6l-.7 .8l-.1 .9l.4 .9l.9 .8l1.4 .6l1.6 .3l1.7 0l1.5-.4l1.2-.6l.7-.8l.1-.9l-.4-.9z" color="#229"/>
<path d="M420.5 71.3l-.3 .1l4.2 0l-.3-.1z" color="#138"/>
<path d="M367.8 73.3l1.5-.6l-.5-2l-1.4 .9z" color="#25b"/>
<path d="M387 72.8l-1.8 .3l1.9 .8l1.2-.5z" color="#128"/>
<path d="M464.6 69.8l-.8-.9l-3.3 1.4l1.2 1z" color="#4a3"/>
<path d="M480 73.9l1.4-1.4l-2.6-.9l-.8 1.5z" color="#24b"/>
<path d="M455.9 68.8l.7-1l-5.8 .3l-.3 .7z" color="#d72"/>
<path d="M440.5 69.8l-.2-1.4l-4.3 2.3l.5 1z" color="#5b4"/>
<path d="M366 73.9l1.8-.6l-.4-1.7l-1.7 1z" color="#23a"/>
<path d="M410.8 68.7l-.8-.4l5 2.2l.4 .1z" color="#273"/>
<path d="M416.5 70.7l-.6 0l4.1 .8l.2-.1z" color="#238"/>
<path d="M429.9 70.2l.3-.1l4.2-2.1l-.5 .2z" color="#373"/>
<path d="M424.4 71.4l.2 0l4-.9l-.5 0z" color="#248"/>
<path d="M382.4 71.7l-1.4-.3l1.4 1.6l1.3 .1z" color="#239"/>
<path d="M449.3 71.5l.5-1l-4.5-.9l-.2 1.1z" color="#5b4"/>
<path d="M444.9 72l.2-1.3l-4.6-.9l.3 1.6z" color="#4b4"/>
<path d="M475.4 74.5l.2-1.8l-2.4 0l.5 1.8z" color="#23b"/>
<path d="M470.9 73.2l-.9-1.4l-2.3 1.1l1.4 1.2z" color="#23b"/>
<path d="M484.3 73.3l1.2-.9l-1.8-2.5l-1.1 1.4z" color="#3ab"/>
<path d="M465.5 70.8l-.9-1l-2.9 1.5l1.4 1z" color="#393"/>
<path d="M398.5 72.8l1-.2l2.7-2.1l-1.5 .5z" color="#25a"/>
<path d="M363.8 74.5l2.2-.6l-.3-1.3l-2.1 1z" color="#23a"/>
<path d="M430.2 70.1l.2-.1l4.3-2.1l-.3 .1z" color="#372"/>
<path d="M510.6 74.4l2.3-.2l.1-1.3l-2.3 .6z" color="#239"/>
<path d="M455.2 69.8l.7-1l-5.4 0l-.3 .8z" color="#9c3"/>
<path d="M477 74.8l1-1.7l-2.4-.4l-.2 1.8z" color="#23b"/>
<path d="M391.5 73.6l.3 .7l2.4-.5l-1.1-.5z" color="#128"/>
<path d="M473.7 74.5l-.5-1.8l-2.3 .5l1.2 1.7z" color="#23a"/>
<path d="M388.3 73.4l-1.2 .5l2.3 .4l.4-.6z" color="#128"/>
<path d="M410 68.3l-.8-.3l5.4 2.4l.4 .1z" color="#372"/>
<path d="M434.9 68.4l-.2-.5l-4.3 2.1l.4 .4z" color="#ab3"/>
<path d="M512.9 74.2l1.8-.3l.1-1.7l-1.8 .7z" color="#23a"/>
<path d="M501.2 73.6l-2.3-.5l.6 1.3l2.1 .1z" color="#229"/>
<path d="M466.6 71.8l-1.1-1l-2.4 1.5l1.4 1z" color="#39a"/>
<path d="M399.5 72.6l.9-.2l3.1-2.5l-1.3 .6z" color="#289"/>
<path d="M381 71.4l-1.2-.4l1.3 1.8l1.3 .2z" color="#259"/>
<path d="M394.2 73.8l.8 .2l2.4-1.1l-1.3 0z" color="#228"/>
<path d="M389.8 73.7l-.4 .6l2.4 0l-.3-.7z" color="#128"/>
<path d="M420.2 71.4l-.2 .1l4.6-.1l-.2 0z" color="#238"/>
<path d="M415.9 70.7l-.5-.1l4.5 .8l.1 .1z" color="#258"/>
<path d="M514.7 73.9l1.6-.4l-.1-1.9l-1.4 .6z" color="#24a"/>
<path d="M482.9 74.2l1.4-.9l-1.7-2l-1.2 1.2z" color="#25c"/>
<path d="M440.8 71.4l-.3-1.6l-4 1.9l.6 1.2z" color="#4b4"/>
<path d="M435.2 69l-.3-.6l-4.1 2l.4 .6z" color="#8b3"/>
<path d="M517.5 71l.3 2l1.3-.5l-.4-1.8l-.5-.1z" color="#395"/>
<path d="M448.7 72.7l.6-1.2l-4.2-.8l-.2 1.3z" color="#4b5"/>
<path d="M454.4 71l.8-1.2l-5-.2l-.4 .9z" color="#6b3"/>
<path d="M498.9 73.1l-1.7-.6l.7 1.7l1.6 .2z" color="#239"/>
<path d="M424.6 71.4l.3-.1l4.2-.9l-.5 .1z" color="#268"/>
<path d="M409.2 68l-.6-.3l5.7 2.6l.3 .1z" color="#372"/>
<path d="M516.3 73.5l1.5-.5l-.3-2l-1.3 .6z" color="#27b"/>
<path d="M385.2 73.1l-1.5 0l2.4 1.1l1-.3z" color="#128"/>
<path d="M400.4 72.4l.7-.2l3.6-2.8l-1.2 .5z" color="#384"/>
<path d="M478.3 75.3l1.7-1.4l-2-.8l-1 1.7z" color="#23b"/>
<path d="M497.2 72.5l-1.5-.6l.9 2l1.3 .3z" color="#24a"/>
<path d="M444.7 73.3l.2-1.3l-4.1-.6l.3 1.6z" color="#3bb"/>
<path d="M467.7 72.9l-1.1-1.1l-2.1 1.5l1.6 1z" color="#25b"/>
<path d="M435.6 69.8l-.4-.8l-4 2l.5 .7z" color="#6b3"/>
<path d="M379.8 71l-1.1-.3l1.3 1.9l1.1 .2z" color="#277"/>
<path d="M472.1 74.9l-1.2-1.7l-1.8 .9l1.8 1.4z" color="#23a"/>
<path d="M408.6 67.7l-.5-.3l6 2.8l.2 .1z" color="#472"/>
<path d="M495.7 71.9l-1.3-.6l1 2.2l1.2 .4z" color="#26a"/>
<path d="M415.4 70.6l-.4-.1l4.7 .9l.2 0z" color="#277"/>
<path d="M401.1 72.2l.7-.2l4-3.2l-1.1 .6z" color="#383"/>
<path d="M481.3 75.1l1.6-.9l-1.5-1.7l-1.4 1.4z" color="#24b"/>
<path d="M453.4 72.2l1-1.2l-4.6-.5l-.5 1z" color="#5b4"/>
<path d="M494.4 71.3l-1.2-.5l1.1 2.4l1.1 .3z" color="#385"/>
<path d="M395 74l.7 .1l2.8-1.3l-1.1 .1z" color="#238"/>
<path d="M436 70.7l-.4-.9l-3.9 1.9l.7 .8z" color="#5a3"/>
<path d="M420 71.5l-.1-.1l5-.1l-.3 .1z" color="#258"/>
<path d="M414 70.8l.1-.6l-6-2.8l.1 .9z" color="#d42"/>
<path d="M424.9 71.3l.2-.1l4.5-.9l-.5 .1z" color="#275"/>
<path d="M493.2 70.8l-.9-.6l1.1 2.6l.9 .4z" color="#383"/>
<path d="M378.7 70.7l-1-.4l1.3 2l1 .3z" color="#373"/>
<path d="M519.1 72.5l1.3-.6l-.5-1.2l-1.2 0z" color="#493"/>
<path d="M441.1 73l-.3-1.6l-3.7 1.5l.7 1.2z" color="#3ab"/>
<path d="M401.8 72l.5-.2l4.3-3.5l-.8 .5z" color="#483"/>
<path d="M448.1 73.9l.6-1.2l-3.8-.7l-.2 1.3z" color="#3ad"/>
<path d="M469.1 74.1l-1.4-1.2l-1.6 1.4l1.8 1z" color="#23a"/>
<path d="M509.9 75.2l1.8 .2l1.2-1.2l-2.3 .2z" color="#229"/>
<path d="M363.4 75.5l2.1-.2l.5-1.4l-2.2 .6z" color="#239"/>
<path d="M492.3 70.2l-.9-.5l1.2 2.8l.8 .3z" color="#483"/>
<path d="M391.8 74.3l.3 .4l2.9-.7l-.8-.2z" color="#128"/>
<path d="M387.1 73.9l-1 .3l2.9 .5l.4-.4z" color="#127"/>
<path d="M415 70.5l-.4-.1l5 .9l.1 .1z" color="#274"/>
<path d="M383.7 73.1l-1.3-.1l2.9 1.3l.8-.1z" color="#138"/>
<path d="M491.4 69.7l-.6-.4l1.2 2.9l.6 .3z" color="#482"/>
<path d="M402.3 71.8l.4-.2l4.8-3.8l-.9 .5z" color="#482"/>
<path d="M501.6 74.5l-2.1-.1l1.4 1.2l1.6-.3z" color="#228"/>
<path d="M490.8 69.3l-.6-.4l1.3 3l.5 .3z" color="#582"/>
<path d="M365.5 75.3l1.8-.3l.5-1.7l-1.8 .6z" color="#23a"/>
<path d="M413.9 71.5l.1-.7l-5.8-2.5l.1 1.1z" color="#d72"/>
<path d="M490.2 68.9l-.5-.3l1.4 3.1l.4 .2z" color="#682"/>
<path d="M436.5 71.7l-.5-1l-3.6 1.8l.7 .9z" color="#4a3"/>
<path d="M377.7 70.3l-.8-.3l1.2 2l.9 .3z" color="#372"/>
<path d="M490.7 72l.4-.3l-1.4-3.1l-.4 .4z" color="#9a3"/>
<path d="M452.4 73.5l1-1.3l-4.1-.7l-.6 1.2z" color="#4b4"/>
<path d="M402.7 71.6l.3-.1l5.1-4.1l-.6 .4z" color="#582"/>
<path d="M367.3 75l1.5-.4l.5-1.9l-1.5 .6z" color="#24a"/>
<path d="M389.4 74.3l-.4 .4l3.1 0l-.3-.4z" color="#127"/>
<path d="M490.1 72.4l.6-.4l-1.4-3l-.5 .5z" color="#7a3"/>
<path d="M444.5 74.7l.2-1.4l-3.6-.3l.3 1.6z" color="#26d"/>
<path d="M479.2 76.2l2.1-1.1l-1.3-1.2l-1.7 1.4z" color="#23a"/>
<path d="M425.1 71.2l.1-.2l4.7-.8l-.3 .1z" color="#273"/>
<path d="M520.4 71.9l1.1-.6l-.4-.7l-1.2 .1z" color="#493"/>
<path d="M362.8 72.8l-7 3.4l1.7 1l.3 .1l1.6 0l1.7-.4l1.3-.6l1-.8l.4-1l-.2-.9z" color="#229"/>
<path d="M489.4 72.9l.7-.5l-1.3-2.9l-.6 .6z" color="#5a3"/>
<path d="M395.7 74.1l.6 0l3.2-1.5l-1 .2z" color="#239"/>
<path d="M414.6 70.4l-.3-.1l5.2 1l.1 0z" color="#273"/>
<path d="M419.9 71.4l-.2 0l5.4-.2l-.2 .1z" color="#276"/>
<path d="M368.8 74.6l1.4-.5l.4-2l-1.3 .6z" color="#27b"/>
<path d="M488.6 73.4l.8-.5l-1.2-2.8l-.8 .7z" color="#5a3"/>
<path d="M408.2 68.3l-.1-.9l-5.1 4.1l.2 .5z" color="#d42"/>
<path d="M470.9 75.5l-1.8-1.4l-1.2 1.2l2.2 1z" color="#23a"/>
<path d="M376.9 70l-.6-.3l1 1.9l.8 .4z" color="#372"/>
<path d="M511.7 75.4l1.5 0l1.5-1.5l-1.8 .3z" color="#229"/>
<path d="M370.2 74.1l1.3-.5l.2-2.2l-1.1 .7z" color="#395"/>
<path d="M487.6 74l1-.6l-1.2-2.6l-.9 .7z" color="#4a3"/>
<path d="M457.7 67.7l-.6-.6l1.3 5.2l.4 .2z" color="#a31"/>
<path d="M458 72.6l.4-.3l-1.3-5.2l-.5 .7z" color="#c32"/>
<path d="M413.8 72.3l.1-.8l-5.6-2.1l.1 1.2z" color="#9c3"/>
<path d="M458.5 68.5l-.8-.8l1.1 4.8l.6 .4z" color="#a62"/>
<path d="M437.1 72.9l-.6-1.2l-3.4 1.7l.9 1z" color="#3a5"/>
<path d="M371.5 73.6l1.2-.6l0-2.1l-1 .5z" color="#493"/>
<path d="M447.4 75.2l.7-1.3l-3.4-.6l-.2 1.4z" color="#25d"/>
<path d="M414.3 70.3l-.2-.1l5.3 1l.1 .1z" color="#372"/>
<path d="M441.4 74.6l-.3-1.6l-3.3 1.1l.7 1.3z" color="#25d"/>
<path d="M486.4 74.6l1.2-.6l-1.1-2.5l-1 .9z" color="#3a5"/>
<path d="M459.4 69.3l-.9-.8l.9 4.4l.7 .4z" color="#793"/>
<path d="M382.4 73l-1.3-.2l3.5 1.5l.7 0z" color="#238"/>
<path d="M376.3 69.7l-.6-.3l.9 1.9l.7 .3z" color="#472"/>
<path d="M499.5 74.4l-1.6-.2l1.6 1.4l1.4 0z" color="#228"/>
<path d="M425.2 71l.2-.2l4.8-.7l-.3 .1z" color="#372"/>
<path d="M372.7 73l1.1-.6l-.2-2.1l-.9 .6z" color="#493"/>
<path d="M521.5 71.3l.9-.5l-.3-.4l-1 .2z" color="#593"/>
<path d="M460.5 70.3l-1.1-1l.7 4l.8 .5z" color="#593"/>
<path d="M408.3 69.4l-.1-1.1l-5 3.7l.3 .7z" color="#d72"/>
<path d="M457.5 73.2l.5-.6l-1.4-4.8l-.7 1z" color="#c72"/>
<path d="M485.1 75.2l1.3-.6l-.9-2.2l-1.2 .9z" color="#39b"/>
<path d="M451.2 74.9l1.2-1.4l-3.7-.8l-.6 1.2z" color="#3bb"/>
<path d="M373.8 72.4l.9-.5l-.4-2l-.7 .4z" color="#593"/>
<path d="M508.7 75.8l1.3 .5l1.7-.9l-1.8-.2z" color="#228"/>
<path d="M392.1 74.7l.2 .2l3.4-.8l-.7-.1z" color="#128"/>
<path d="M419.2 71.7l.2-.5l-5.3-1l-.1 .6z" color="#bc3"/>
<path d="M386.1 74.2l-.8 .1l3.4 .6l.3-.2z" color="#127"/>
<path d="M461.7 71.3l-1.2-1l.4 3.5l1 .6z" color="#493"/>
<path d="M396.3 74.1l.6 0l3.5-1.7l-.9 .2z" color="#249"/>
<path d="M374.7 71.9l.8-.4l-.7-2l-.5 .4z" color="#7a3"/>
<path d="M419.7 71.4l-.1-.1l5.6-.3l-.1 .2z" color="#274"/>
<path d="M375.7 69.4l-.4-.2l.8 1.9l.5 .2z" color="#582"/>
<path d="M513.2 75.4l1.2-.1l1.9-1.8l-1.6 .4z" color="#239"/>
<path d="M483.6 75.8l1.5-.6l-.8-1.9l-1.4 .9z" color="#25b"/>
<path d="M375.5 71.5l.6-.4l-.8-1.9l-.5 .3z" color="#a82"/>
<path d="M502.5 75.3l-1.6 .3l2 .8l1-.5z" color="#128"/>
<path d="M463.1 72.3l-1.4-1l.2 3.1l1.2 .6z" color="#393"/>
<path d="M456.8 73.7l.7-.5l-1.6-4.4l-.7 1z" color="#8b3"/>
<path d="M362.4 76.3l1.7 .2l1.4-1.2l-2.1 .2z" color="#229"/>
<path d="M425.4 70.8l.1-.1l4.9-.7l-.2 .1z" color="#372"/>
<path d="M464.5 73.3l-1.4-1l0 2.7l1.3 .5z" color="#299"/>
<path d="M413.6 73.2l.2-.9l-5.4-1.7l.2 1.4z" color="#6b3"/>
<path d="M522.4 70.8l.9-.4l-.2-.2l-1 .2z" color="#7a3"/>
<path d="M418.9 72.4l.3-.7l-5.2-.9l-.1 .7z" color="#8c3"/>
<path d="M437.8 74.1l-.7-1.2l-3.1 1.5l1.1 1z" color="#39c"/>
<path d="M481.8 76.5l1.8-.7l-.7-1.6l-1.6 .9z" color="#23a"/>
<path d="M408.4 70.6l-.1-1.2l-4.8 3.3l.3 .7z" color="#8c3"/>
<path d="M389 74.7l-.3 .2l3.6 0l-.2-.2z" color="#127"/>
<path d="M497.9 74.2l-1.3-.3l1.7 1.7l1.2 0z" color="#239"/>
<path d="M444.2 76.3l.3-1.6l-3.1-.1l.3 1.7z" color="#24c"/>
<path d="M466.1 74.3l-1.6-1l-.1 2.2l1.5 .6z" color="#25b"/>
<path d="M430.8 70.4l-.4-.4l-4.9 .7l.6 .6z" color="#b31"/>
<path d="M381.1 72.8l-1.1-.2l4 1.7l.6 0z" color="#258"/>
<path d="M456 74.4l.8-.7l-1.6-3.9l-.8 1.2z" color="#6b3"/>
<path d="M514.4 75.3l1.1-.1l2.3-2.2l-1.5 .5z" color="#25a"/>
<path d="M396.9 74.1l.5-.1l3.7-1.8l-.7 .2z" color="#278"/>
<path d="M419.6 71.3l-.1 0l5.9-.5l-.2 .2z" color="#372"/>
<path d="M479.6 77.1l2.2-.6l-.5-1.4l-2.1 1.1z" color="#23a"/>
<path d="M467.9 75.3l-1.8-1l-.2 1.8l1.8 .6z" color="#23a"/>
<path d="M431.2 71l-.4-.6l-4.7 .9l.8 .8z" color="#b62"/>
<path d="M523.3 70.4l.6-.4l-.1-.1l-.7 .3z" color="#a82"/>
<path d="M507.2 76.2l.6 .6l2.2-.5l-1.3-.5z" color="#128"/>
<path d="M450 76.2l1.2-1.3l-3.1-1l-.7 1.3z" color="#26d"/>
<path d="M418.6 73.2l.3-.8l-5-.9l-.1 .8z" color="#6b3"/>
<path d="M446.6 76.7l.8-1.5l-2.9-.5l-.3 1.6z" color="#24c"/>
<path d="M503.9 75.9l-1 .5l2.4 .5l.2-.7z" color="#128"/>
<path d="M441.7 76.3l-.3-1.7l-2.9 .8l1 1.4z" color="#24b"/>
<path d="M470.1 76.3l-2.2-1l-.2 1.4l2.2 .5z" color="#239"/>
<path d="M364.1 76.5l1.3 0l1.9-1.5l-1.8 .3z" color="#229"/>
<path d="M523.8 69.9l.1 .1l.1 0z" color="#582"/>
<path d="M385.3 74.3l-.7 0l3.8 .7l.3-.1z" color="#138"/>
<path d="M431.7 71.7l-.5-.7l-4.3 1.1l.9 .8z" color="#7a3"/>
<path d="M392.3 74.9l.3 .1l3.7-.9l-.6 0z" color="#238"/>
<path d="M455.1 75.2l.9-.8l-1.6-3.4l-1 1.2z" color="#5a3"/>
<path d="M515.5 75.2l.9-.2l2.7-2.5l-1.3 .5z" color="#289"/>
<path d="M408.6 72l-.2-1.4l-4.6 2.8l.5 .9z" color="#6b3"/>
<path d="M496.6 73.9l-1.2-.4l1.8 1.9l1.1 .2z" color="#259"/>
<path d="M523.9 70l.3 .1l-.2-.1z" color="#472"/>
<path d="M510 76.3l1 .3l2.2-1.2l-1.5 0z" color="#228"/>
<path d="M419.5 71.3l-.1-.1l6.1-.5l-.1 .1z" color="#372"/>
<path d="M505.5 76.2l-.2 .7l2.5-.1l-.6-.6z" color="#128"/>
<path d="M413.4 74.4l.2-1.2l-5-1.2l.2 1.5z" color="#5b4"/>
<path d="M397.4 74l.4-.1l4-1.9l-.7 .2z" color="#275"/>
<path d="M438.5 75.4l-.7-1.3l-2.7 1.3l1.1 1.1z" color="#25c"/>
<path d="M380 72.6l-1-.3l4.5 1.9l.5 .1z" color="#275"/>
<path d="M432.4 72.5l-.7-.8l-3.9 1.2l1.1 1z" color="#5a3"/>
<path d="M418.1 74.1l.5-.9l-4.8-.9l-.2 .9z" color="#5b4"/>
<path d="M500.9 75.6l-1.4 0l2.7 1.1l.7-.3z" color="#128"/>
<path d="M524.9 71.3l-.7-1.2l-.3-.1l.2 .8z" color="#d42"/>
<path d="M425 71.4l.5-.7l-6.1 .5l-.2 .5z" color="#d42"/>
<path d="M361.1 76.9l1 .5l2-.9l-1.7-.2z" color="#228"/>
<path d="M516.4 75l.9-.2l3.1-2.9l-1.3 .6z" color="#384"/>
<path d="M454 76l1.1-.8l-1.7-3l-1 1.3z" color="#4a4"/>
<path d="M397.8 73.9l.3-.1l4.2-2l-.5 .2z" color="#273"/>
<path d="M365.4 76.5l1.1-.1l2.3-1.8l-1.5 .4z" color="#239"/>
<path d="M478.3 75.3l-1.3-.5l-1.6-.3l-1.7 0l-1.6 .4l-1.2 .6l-.8 .8l-.2 .9l.4 .9l.9 .9l1.3 .5l1.7 .3l1.6 0l1.6-.3l1.2-.7l.8-.8l.2-.9l-.4-.9z" color="#229"/>
<path d="M388.7 74.9l-.3 .1l4.2 0l-.3-.1z" color="#138"/>
<path d="M495.4 73.5l-1.1-.3l1.9 1.9l1 .3z" color="#277"/>
<path d="M433.1 73.4l-.7-.9l-3.5 1.4l1.2 1z" color="#4a3"/>
<path d="M357.7 77.4l.1-.1l-.3-.1z" color="#128"/>
<path d="M448.5 77.5l1.5-1.3l-2.6-1l-.8 1.5z" color="#24b"/>
<path d="M424.3 72.4l.7-1l-5.8 .3l-.3 .7z" color="#d72"/>
<path d="M408.8 73.5l-.2-1.5l-4.3 2.3l.4 1z" color="#5b4"/>
<path d="M517.3 74.8l.7-.2l3.5-3.3l-1.1 .6z" color="#383"/>
<path d="M379 72.3l-.9-.3l4.9 2.1l.5 .1z" color="#273"/>
<path d="M384.6 74.3l-.6 0l4.2 .8l.2-.1z" color="#238"/>
<path d="M398.1 73.8l.3-.1l4.3-2.1l-.4 .2z" color="#373"/>
<path d="M392.6 75l.2 0l4.1-.9l-.6 0z" color="#248"/>
<path d="M417.6 75.1l.5-1l-4.5-.9l-.2 1.2z" color="#5b4"/>
<path d="M511 76.6l.9 .1l2.5-1.4l-1.2 .1z" color="#238"/>
<path d="M525.9 72.7l-1-1.4l-.8-.5l.2 1.1z" color="#d72"/>
<path d="M413.2 75.6l.2-1.2l-4.6-.9l.3 1.5z" color="#4b4"/>
<path d="M443.9 78.1l.3-1.8l-2.5 0l.5 1.8z" color="#23b"/>
<path d="M439.5 76.8l-1-1.4l-2.3 1.1l1.4 1.3z" color="#23b"/>
<path d="M452.8 76.9l1.2-.9l-1.6-2.5l-1.2 1.4z" color="#3ab"/>
<path d="M434 74.4l-.9-1l-3 1.5l1.4 1z" color="#393"/>
<path d="M366.5 76.4l.9-.1l2.8-2.2l-1.4 .5z" color="#25a"/>
<path d="M494.3 73.2l-.9-.4l1.9 2l.9 .3z" color="#373"/>
<path d="M518 74.6l.5-.2l3.9-3.6l-.9 .5z" color="#483"/>
<path d="M398.4 73.7l.2-.1l4.4-2.1l-.3 .1z" color="#372"/>
<path d="M479.4 78l2.2-.2l.2-1.3l-2.2 .6z" color="#239"/>
<path d="M507.8 76.8l.5 .4l2.7-.6l-1-.3z" color="#128"/>
<path d="M423.6 73.4l.7-1l-5.4 0l-.3 .8z" color="#9c3"/>
<path d="M445.5 78.4l1.1-1.7l-2.4-.4l-.3 1.8z" color="#23b"/>
<path d="M359.4 77.3l.3 .7l2.4-.6l-1-.5z" color="#128"/>
<path d="M502.9 76.4l-.7 .3l2.9 .6l.2-.4z" color="#127"/>
<path d="M499.5 75.6l-1.2 0l3.2 1.2l.7-.1z" color="#138"/>
<path d="M442.2 78.1l-.5-1.8l-2.2 .5l1.1 1.7z" color="#23a"/>
<path d="M378.1 72l-.8-.4l5.4 2.4l.3 .1z" color="#372"/>
<path d="M518.5 74.4l.5-.2l4.3-3.8l-.9 .4z" color="#482"/>
<path d="M403.2 72l-.2-.5l-4.4 2.1l.3 .4z" color="#ab3"/>
<path d="M481.6 77.8l1.9-.3l.1-1.7l-1.8 .7z" color="#23a"/>
<path d="M359.4 77.3l-1.6 0l-.1 .1l1.6 .6l.4 0z" color="#128"/>
<path d="M469.9 77.2l-2.2-.5l.5 1.3l2.1 .1z" color="#229"/>
<path d="M435.1 75.4l-1.1-1l-2.5 1.5l1.4 1.1z" color="#39a"/>
<path d="M493.4 72.8l-.8-.3l1.8 2l.9 .3z" color="#372"/>
<path d="M367.4 76.3l.9-.2l3.2-2.5l-1.3 .5z" color="#289"/>
<path d="M362.1 77.4l.8 .3l2.5-1.2l-1.3 0z" color="#228"/>
<path d="M388.4 75l-.2 .1l4.6-.1l-.2 0z" color="#238"/>
<path d="M519 74.2l.4-.2l4.5-4l-.6 .4z" color="#582"/>
<path d="M384 74.3l-.5-.1l4.4 .9l.3 0z" color="#258"/>
<path d="M483.5 77.5l1.6-.4l0-1.9l-1.5 .6z" color="#24a"/>
<path d="M505.3 76.9l-.2 .4l3.2-.1l-.5-.4z" color="#127"/>
<path d="M451.4 77.8l1.4-.9l-1.6-2l-1.2 1.3z" color="#25c"/>
<path d="M409.1 75l-.3-1.5l-4.1 1.8l.6 1.2z" color="#4b4"/>
<path d="M403.5 72.7l-.3-.7l-4.3 2l.4 .6z" color="#8b3"/>
<path d="M526.9 74l-1-1.3l-1.6-.8l.3 1.2z" color="#9c3"/>
<path d="M417 76.3l.6-1.2l-4.2-.7l-.2 1.2z" color="#4b5"/>
<path d="M422.7 74.6l.9-1.2l-5-.2l-.5 .9z" color="#6b3"/>
<path d="M511.9 76.7l.7 0l2.9-1.5l-1.1 .1z" color="#239"/>
<path d="M467.7 76.7l-1.8-.6l.6 1.7l1.7 .2z" color="#239"/>
<path d="M392.8 75l.1-.1l4.5-.9l-.5 .1z" color="#268"/>
<path d="M485.1 77.1l1.4-.5l-.1-2l-1.3 .6z" color="#27b"/>
<path d="M377.3 71.6l-.7-.3l5.7 2.6l.4 .1z" color="#372"/>
<path d="M524.1 70.8l-.2-.8l-4.5 4l.2 .5z" color="#d42"/>
<path d="M492.6 72.5l-.6-.3l1.7 2l.7 .3z" color="#372"/>
<path d="M368.3 76.1l.7-.2l3.7-2.9l-1.2 .6z" color="#384"/>
<path d="M486.5 76.6l1.4-.5l-.3-2.1l-1.2 .6z" color="#395"/>
<path d="M446.8 79l1.7-1.5l-1.9-.8l-1.1 1.7z" color="#23b"/>
<path d="M465.9 76.1l-1.5-.6l.8 2l1.3 .3z" color="#24a"/>
<path d="M413 76.9l.2-1.3l-4.1-.6l.2 1.6z" color="#3bb"/>
<path d="M436.2 76.5l-1.1-1.1l-2.2 1.6l1.6 .9z" color="#25b"/>
<path d="M403.8 73.4l-.3-.7l-4.2 1.9l.6 .7z" color="#6b3"/>
<path d="M487.9 76.1l1.3-.6l-.6-2.1l-1 .6z" color="#493"/>
<path d="M440.6 78.5l-1.1-1.7l-1.9 1l1.7 1.3z" color="#23a"/>
<path d="M376.6 71.3l-.5-.2l6 2.8l.2 0z" color="#472"/>
<path d="M498.3 75.6l-1.1-.2l3.8 1.5l.5-.1z" color="#238"/>
<path d="M464.4 75.5l-1.3-.5l.9 2.2l1.2 .3z" color="#26a"/>
<path d="M492 72.2l-.5-.3l1.6 2l.6 .3z" color="#472"/>
<path d="M489.2 75.5l1.1-.5l-.9-2.1l-.8 .5z" color="#493"/>
<path d="M383.5 74.2l-.5-.1l4.8 .9l.1 .1z" color="#277"/>
<path d="M524.3 71.9l-.2-1.1l-4.5 3.7l.4 .7z" color="#d72"/>
<path d="M369 75.9l.6-.2l4.2-3.3l-1.1 .6z" color="#383"/>
<path d="M449.8 78.8l1.6-1l-1.4-1.6l-1.5 1.3z" color="#24b"/>
<path d="M421.7 75.9l1-1.3l-4.6-.5l-.5 1z" color="#5b4"/>
<path d="M490.3 75l.9-.5l-1.1-2.1l-.7 .5z" color="#593"/>
<path d="M508.3 77.2l.4 .3l3.2-.8l-.9-.1z" color="#128"/>
<path d="M463.1 75l-1.2-.6l1 2.4l1.1 .4z" color="#385"/>
<path d="M502.2 76.7l-.7 .1l3.5 .7l.1-.2z" color="#127"/>
<path d="M512.6 76.7l.7-.1l3.1-1.6l-.9 .2z" color="#249"/>
<path d="M491.2 74.5l.8-.5l-1.3-2l-.6 .4z" color="#7a3"/>
<path d="M362.9 77.7l.6 .1l3-1.4l-1.1 .1z" color="#238"/>
<path d="M404.3 74.3l-.5-.9l-3.9 1.9l.6 .8z" color="#5a3"/>
<path d="M491.5 71.9l-.4-.2l1.5 1.9l.5 .3z" color="#582"/>
<path d="M388.2 75.1l-.3 0l5-.2l-.1 .1z" color="#258"/>
<path d="M382 74.4l.1-.5l-6-2.8l.1 .8z" color="#d42"/>
<path d="M528.1 75.4l-1.2-1.4l-2.3-.9l.3 1.4z" color="#6b3"/>
<path d="M392.9 74.9l.2-.1l4.7-.9l-.4 .1z" color="#275"/>
<path d="M492 74l.6-.4l-1.5-1.9l-.4 .3z" color="#a82"/>
<path d="M461.9 74.4l-1-.6l1.1 2.7l.9 .3z" color="#383"/>
<path d="M359.8 78.1l-.1-.1l-.4 0z" color="#127"/>
<path d="M409.3 76.6l-.2-1.6l-3.8 1.5l.6 1.2z" color="#3ab"/>
<path d="M369.6 75.7l.5-.2l4.6-3.6l-.9 .5z" color="#483"/>
<path d="M416.4 77.6l.6-1.3l-3.8-.7l-.2 1.3z" color="#3ad"/>
<path d="M437.6 77.8l-1.4-1.3l-1.7 1.4l1.8 1z" color="#23a"/>
<path d="M478.6 78.8l1.8 .2l1.2-1.2l-2.2 .2z" color="#229"/>
<path d="M460.9 73.8l-.8-.5l1.1 2.8l.8 .4z" color="#483"/>
<path d="M362.1 77.4l-2.4 .6l.1 .1l.7 .1l2.4-.5z" color="#128"/>
<path d="M383 74.1l-.3-.1l4.9 1l.2 0z" color="#274"/>
<path d="M460.1 73.3l-.7-.4l1.1 3l.7 .2z" color="#482"/>
<path d="M524.6 73.1l-.3-1.2l-4.3 3.3l.4 .8z" color="#8c3"/>
<path d="M370.1 75.5l.5-.2l4.9-3.8l-.8 .4z" color="#482"/>
<path d="M505.1 77.3l-.1 .2l3.7 0l-.4-.3z" color="#127"/>
<path d="M470.3 78.1l-2.1-.1l1.3 1.2l1.7-.2z" color="#228"/>
<path d="M459.4 72.9l-.6-.4l1.2 3.1l.5 .3z" color="#582"/>
<path d="M497.2 75.4l-1-.3l4.2 1.8l.6 0z" color="#258"/>
<path d="M458.8 72.5l-.4-.2l1.2 3.1l.4 .2z" color="#682"/>
<path d="M381.9 75.1l.1-.7l-5.8-2.5l.1 1.1z" color="#d72"/>
<path d="M404.7 75.3l-.4-1l-3.8 1.8l.7 .9z" color="#4a3"/>
<path d="M513.3 76.6l.6 0l3.4-1.8l-.9 .2z" color="#278"/>
<path d="M459.2 75.7l.4-.3l-1.2-3.1l-.4 .3z" color="#9a3"/>
<path d="M420.6 77.2l1.1-1.3l-4.1-.8l-.6 1.2z" color="#4b4"/>
<path d="M370.6 75.3l.3-.2l5.2-4l-.6 .4z" color="#582"/>
<path d="M458.6 76.1l.6-.4l-1.2-3.1l-.5 .6z" color="#7a3"/>
<path d="M447.7 79.8l2.1-1l-1.3-1.3l-1.7 1.5z" color="#23a"/>
<path d="M412.7 78.4l.3-1.5l-3.7-.3l.3 1.6z" color="#26d"/>
<path d="M393.1 74.8l.1-.1l4.9-.9l-.3 .1z" color="#273"/>
<path d="M457.9 76.5l.7-.4l-1.1-2.9l-.7 .5z" color="#5a3"/>
<path d="M363.5 77.8l.6 0l3.3-1.5l-.9 .1z" color="#239"/>
<path d="M382.7 74l-.4-.1l5.2 1l.1 .1z" color="#273"/>
<path d="M387.9 75.1l-.1-.1l5.3-.2l-.2 .1z" color="#276"/>
<path d="M457 77l.9-.5l-1.1-2.8l-.8 .7z" color="#5a3"/>
<path d="M376.2 71.9l-.1-.8l-5.2 4l.2 .5z" color="#d42"/>
<path d="M439.3 79.1l-1.7-1.3l-1.3 1.1l2.2 1z" color="#23a"/>
<path d="M480.4 79l1.5 .1l1.6-1.6l-1.9 .3z" color="#229"/>
<path d="M501.5 76.8l-.5 .1l3.9 .7l.1-.1z" color="#138"/>
<path d="M508.7 77.5l.4 .1l3.5-.9l-.7 0z" color="#238"/>
<path d="M529.3 76.8l-1.2-1.4l-3.2-.9l.3 1.5z" color="#5b4"/>
<path d="M456 77.6l1-.6l-1-2.6l-.9 .8z" color="#4a3"/>
<path d="M426.1 71.3l-.6-.6l1.1 5.2l.5 .3z" color="#a31"/>
<path d="M524.9 74.5l-.3-1.4l-4.2 2.9l.4 .9z" color="#6b3"/>
<path d="M513.9 76.6l.5-.1l3.6-1.9l-.7 .2z" color="#275"/>
<path d="M426.2 76.3l.4-.4l-1.1-5.2l-.5 .7z" color="#c32"/>
<path d="M381.7 75.9l.2-.8l-5.6-2.1l.1 1.2z" color="#9c3"/>
<path d="M426.9 72.1l-.8-.8l1 4.9l.6 .4z" color="#a62"/>
<path d="M405.3 76.5l-.6-1.2l-3.5 1.7l.9 1z" color="#3a5"/>
<path d="M415.6 78.9l.8-1.3l-3.4-.7l-.3 1.5z" color="#25d"/>
<path d="M382.3 73.9l-.2 0l5.3 1l.1 0z" color="#372"/>
<path d="M454.9 78.2l1.1-.6l-.9-2.4l-1.1 .8z" color="#3a5"/>
<path d="M409.6 78.2l-.3-1.6l-3.4 1.1l.8 1.3z" color="#25d"/>
<path d="M427.8 72.9l-.9-.8l.8 4.5l.6 .4z" color="#793"/>
<path d="M496.2 75.1l-.9-.3l4.7 2l.4 .1z" color="#275"/>
<path d="M360.5 78.2l1 .1l2-.5l-.6-.1z" color="#128"/>
<path d="M468.2 78l-1.7-.2l1.6 1.5l1.4-.1z" color="#228"/>
<path d="M393.2 74.7l.2-.2l5-.8l-.3 .1z" color="#372"/>
<path d="M428.9 73.9l-1.1-1l.5 4.1l.9 .5z" color="#593"/>
<path d="M376.3 73l-.1-1.1l-5.1 3.7l.3 .7z" color="#d72"/>
<path d="M425.7 76.8l.5-.5l-1.2-4.9l-.7 1z" color="#c72"/>
<path d="M453.5 78.9l1.4-.7l-.9-2.2l-1.2 .9z" color="#39b"/>
<path d="M419.4 78.5l1.2-1.3l-3.6-.9l-.6 1.3z" color="#3bb"/>
<path d="M477.4 79.5l1.2 .5l1.8-1l-1.8-.2z" color="#228"/>
<path d="M387.2 75.4l.2-.5l-5.3-1l-.1 .5z" color="#bc3"/>
<path d="M430.1 74.9l-1.2-1l.3 3.6l1 .5z" color="#493"/>
<path d="M364.1 77.8l.6 0l3.6-1.7l-.9 .2z" color="#249"/>
<path d="M387.8 75l-.2 0l5.6-.3l-.1 .1z" color="#274"/>
<path d="M514.4 76.5l.4-.1l3.7-2l-.5 .2z" color="#273"/>
<path d="M481.9 79.1l1.2-.1l2-1.9l-1.6 .4z" color="#239"/>
<path d="M505 77.5l-.1 .1l4.2 0l-.4-.1z" color="#138"/>
<path d="M452.1 79.5l1.4-.6l-.7-2l-1.4 .9z" color="#25b"/>
<path d="M471.2 79l-1.7 .2l2 .9l1-.6z" color="#128"/>
<path d="M431.5 75.9l-1.4-1l.1 3.1l1.2 .6z" color="#393"/>
<path d="M425 77.4l.7-.6l-1.4-4.4l-.7 1z" color="#8b3"/>
<path d="M393.4 74.5l.1-.1l5.1-.8l-.2 .1z" color="#372"/>
<path d="M432.9 77l-1.4-1.1l-.1 2.7l1.3 .6z" color="#299"/>
<path d="M525.2 76l-.3-1.5l-4.1 2.4l.6 1z" color="#5b4"/>
<path d="M381.5 76.9l.2-1l-5.3-1.7l.1 1.4z" color="#6b3"/>
<path d="M386.9 76.1l.3-.7l-5.2-1l-.1 .7z" color="#8c3"/>
<path d="M450.3 80.1l1.8-.6l-.7-1.7l-1.6 1z" color="#23a"/>
<path d="M405.9 77.7l-.6-1.2l-3.2 1.5l1 1.1z" color="#39c"/>
<path d="M495.3 74.8l-.9-.3l5.2 2.2l.4 .1z" color="#273"/>
<path d="M501 76.9l-.6 0l4.4 .7l.1 0z" color="#238"/>
<path d="M514.8 76.4l.3-.2l3.9-2l-.5 .2z" color="#373"/>
<path d="M376.4 74.2l-.1-1.2l-4.9 3.3l.3 .8z" color="#8c3"/>
<path d="M509.1 77.6l.4 0l3.8-1l-.7 .1z" color="#248"/>
<path d="M466.5 77.8l-1.3-.3l1.6 1.7l1.3 .1z" color="#239"/>
<path d="M412.4 80l.3-1.6l-3.1-.2l.3 1.7z" color="#24c"/>
<path d="M434.5 77.9l-1.6-.9l-.2 2.2l1.5 .6z" color="#25b"/>
<path d="M398.9 74l-.3-.4l-5.1 .8l.6 .6z" color="#b31"/>
<path d="M529.9 78.2l0-.7l-.6-.7l-4.1-.8l.4 1.6z" color="#4b4"/>
<path d="M424.2 78.1l.8-.7l-1.4-4l-.9 1.2z" color="#6b3"/>
<path d="M483.1 79l1-.2l2.4-2.2l-1.4 .5z" color="#25a"/>
<path d="M364.7 77.8l.4-.1l3.9-1.8l-.7 .2z" color="#278"/>
<path d="M387.6 75l-.1-.1l5.9-.4l-.2 .2z" color="#372"/>
<path d="M448 80.7l2.3-.6l-.5-1.3l-2.1 1z" color="#23a"/>
<path d="M361.5 78.3l.8 0l1.8-.5l-.6 0z" color="#238"/>
<path d="M436.3 78.9l-1.8-1l-.3 1.9l1.8 .6z" color="#23a"/>
<path d="M515.1 76.2l.2 0l4.1-2.2l-.4 .2z" color="#372"/>
<path d="M399.3 74.6l-.4-.6l-4.8 1l.8 .8z" color="#b62"/>
<path d="M475.8 79.8l.6 .7l2.2-.5l-1.2-.5z" color="#128"/>
<path d="M418.1 79.8l1.3-1.3l-3-.9l-.8 1.3z" color="#26d"/>
<path d="M386.5 76.8l.4-.7l-5-1l-.2 .8z" color="#6b3"/>
<path d="M414.7 80.4l.9-1.5l-2.9-.5l-.3 1.6z" color="#24c"/>
<path d="M472.5 79.5l-1 .6l2.4 .4l.3-.7z" color="#128"/>
<path d="M494.4 74.5l-.7-.3l5.7 2.4l.2 .1z" color="#372"/>
<path d="M409.9 79.9l-.3-1.7l-2.9 .8l.8 1.5z" color="#24b"/>
<path d="M438.5 79.9l-2.2-1l-.3 1.5l2.2 .5z" color="#239"/>
<path d="M519.6 74.5l-.2-.5l-4.1 2.2l.4 .4z" color="#ab3"/>
<path d="M399.9 75.3l-.6-.7l-4.4 1.2l.9 .8z" color="#7a3"/>
<path d="M423.3 78.8l.9-.7l-1.5-3.5l-1 1.3z" color="#5a3"/>
<path d="M484.1 78.8l1-.1l2.8-2.6l-1.4 .5z" color="#289"/>
<path d="M465.2 77.5l-1.2-.3l1.7 1.9l1.1 .1z" color="#259"/>
<path d="M376.5 75.6l-.1-1.4l-4.7 2.9l.3 .9z" color="#6b3"/>
<path d="M478.6 80l1 .2l2.3-1.1l-1.5-.1z" color="#228"/>
<path d="M387.5 74.9l-.1 0l6.1-.5l-.1 .1z" color="#372"/>
<path d="M474.2 79.8l-.3 .7l2.5 0l-.6-.7z" color="#128"/>
<path d="M504.9 77.6l-.1 0l4.7 0l-.4 0z" color="#238"/>
<path d="M529.9 78.2l.9 .2l-.9-.9z" color="#4b5"/>
<path d="M381.3 78l.2-1.1l-5-1.3l.2 1.5z" color="#5b4"/>
<path d="M500.4 76.9l-.4-.1l4.7 .8l.1 0z" color="#258"/>
<path d="M365.1 77.7l.4-.1l4.1-1.9l-.6 .2z" color="#275"/>
<path d="M406.7 79l-.8-1.3l-2.8 1.4l1.1 1.1z" color="#25c"/>
<path d="M525.6 77.6l-.4-1.6l-3.8 1.9l.7 1.2z" color="#4b4"/>
<path d="M520 75.2l-.4-.7l-3.9 2.1l.5 .6z" color="#8b3"/>
<path d="M400.5 76.1l-.6-.8l-4.1 1.3l1.1 1z" color="#5a3"/>
<path d="M509.5 77.6l.3-.1l4.1-.9l-.6 0z" color="#268"/>
<path d="M493.7 74.2l-.6-.3l6 2.6l.3 .1z" color="#372"/>
<path d="M469.5 79.2l-1.4 .1l2.6 1.1l.8-.3z" color="#128"/>
<path d="M386 77.8l.5-1l-4.8-.9l-.2 1z" color="#5b4"/>
<path d="M392.9 75.1l.6-.7l-6.1 .5l-.2 .5z" color="#d42"/>
<path d="M362.3 78.3l.7-.1l1.7-.4l-.6 0z" color="#248"/>
<path d="M485.1 78.7l.8-.3l3.3-2.9l-1.3 .6z" color="#384"/>
<path d="M422.2 79.7l1.1-.9l-1.6-2.9l-1.1 1.3z" color="#4a4"/>
<path d="M529.8 79.5l.1-1.3l-4.3-.6l.5 1.6z" color="#3bb"/>
<path d="M365.5 77.6l.3-.1l4.3-2l-.5 .2z" color="#273"/>
<path d="M446.8 79l-1.3-.6l-1.6-.3l-1.7 0l-1.6 .4l-1.3 .6l-.8 .8l-.3 1l.4 .9l.8 .8l1.4 .6l1.6 .3l1.7 0l1.5-.3l1.3-.7l.9-.8l.2-1l-.3-.9z" color="#229"/>
<path d="M520.4 76l-.4-.8l-3.8 2l.6 .7z" color="#6b3"/>
<path d="M464 77.2l-1.1-.4l1.7 2l1.1 .3z" color="#277"/>
<path d="M401.2 77l-.7-.9l-3.6 1.5l1.2 1z" color="#4a3"/>
<path d="M493.1 73.9l-.5-.3l6.3 2.8l.2 .1z" color="#472"/>
<path d="M500 76.8l-.4-.1l5 .9l.1 0z" color="#277"/>
<path d="M416.7 81.2l1.4-1.4l-2.5-.9l-.9 1.5z" color="#24b"/>
<path d="M392.3 76.1l.6-1l-5.7 .3l-.3 .7z" color="#d72"/>
<path d="M376.7 77.1l-.2-1.5l-4.5 2.4l.5 1z" color="#5b4"/>
<path d="M485.9 78.4l.7-.2l3.7-3.2l-1.1 .5z" color="#383"/>
<path d="M365.8 77.5l.3-.1l4.5-2.1l-.5 .2z" color="#373"/>
<path d="M532.7 80.1l-1.9-1.7l-.9-.2l-.1 1.3z" color="#3ad"/>
<path d="M479.6 80.2l.8 .1l2.7-1.3l-1.2 .1z" color="#238"/>
<path d="M520.8 76.9l-.4-.9l-3.6 1.9l.7 .8z" color="#5a3"/>
<path d="M385.5 78.8l.5-1l-4.5-.9l-.2 1.1z" color="#5b4"/>
<path d="M504.8 77.6l-.1 0l5.1-.1l-.3 .1z" color="#258"/>
<path d="M381.1 79.3l.2-1.3l-4.6-.9l.2 1.6z" color="#4b4"/>
<path d="M411.9 81.8l.5-1.8l-2.5-.1l.3 1.9z" color="#23b"/>
<path d="M498.9 77l0-.6l-6.3-2.8l.2 .9z" color="#d42"/>
<path d="M407.5 80.5l-.8-1.5l-2.5 1.2l1.4 1.2z" color="#23b"/>
<path d="M509.8 77.5l.3-.1l4.3-.9l-.5 .1z" color="#275"/>
<path d="M420.9 80.6l1.3-.9l-1.6-2.5l-1.2 1.3z" color="#3ab"/>
<path d="M402.1 78l-.9-1l-3.1 1.6l1.3 1z" color="#393"/>
<path d="M462.9 76.8l-.9-.3l1.7 2l.9 .3z" color="#373"/>
<path d="M526.1 79.2l-.5-1.6l-3.5 1.5l.8 1.2z" color="#3ab"/>
<path d="M486.6 78.2l.5-.2l4.1-3.5l-.9 .5z" color="#483"/>
<path d="M363 78.2l.7-.1l1.4-.4l-.4 .1z" color="#268"/>
<path d="M366.1 77.4l.2-.1l4.6-2.2l-.3 .2z" color="#372"/>
<path d="M447.8 81.7l2.2-.2l.3-1.4l-2.3 .6z" color="#239"/>
<path d="M476.4 80.5l.4 .4l2.8-.7l-1-.2z" color="#128"/>
<path d="M391.5 77.1l.8-1l-5.4 0l-.4 .7z" color="#9c3"/>
<path d="M413.5 82.1l1.2-1.7l-2.3-.4l-.5 1.8z" color="#23b"/>
<path d="M471.5 80.1l-.8 .3l3 .5l.2-.4z" color="#127"/>
<path d="M499.6 76.7l-.2-.1l5.1 1l.1 0z" color="#274"/>
<path d="M468.1 79.3l-1.3-.1l3.2 1.3l.7-.1z" color="#138"/>
<path d="M410.2 81.8l-.3-1.9l-2.4 .6l1.1 1.7z" color="#23a"/>
<path d="M487.1 78l.5-.1l4.4-3.9l-.8 .5z" color="#482"/>
<path d="M371.1 75.6l-.2-.5l-4.6 2.2l.3 .4z" color="#ab3"/>
<path d="M450 81.5l1.8-.3l.3-1.7l-1.8 .6z" color="#23a"/>
<path d="M438.2 80.9l-2.2-.5l.4 1.3l2.2 .1z" color="#229"/>
<path d="M498.8 77.7l.1-.7l-6.1-2.5l.2 1.1z" color="#d72"/>
<path d="M521.4 77.9l-.6-1l-3.3 1.8l.8 .9z" color="#4a3"/>
<path d="M462 76.5l-.8-.4l1.6 2.1l.9 .3z" color="#372"/>
<path d="M403.1 79.1l-1-1.1l-2.7 1.6l1.5 1.1z" color="#39a"/>
<path d="M487.6 77.9l.3-.2l4.7-4.1l-.6 .4z" color="#582"/>
<path d="M451.8 81.2l1.6-.4l.1-1.9l-1.4 .6z" color="#24a"/>
<path d="M473.9 80.5l-.2 .4l3.1 0l-.4-.4z" color="#127"/>
<path d="M529.7 80.9l.1-1.4l-3.7-.3l.4 1.6z" color="#26d"/>
<path d="M419.5 81.5l1.4-.9l-1.5-2.1l-1.3 1.3z" color="#25c"/>
<path d="M376.9 78.7l-.2-1.6l-4.2 1.9l.5 1.2z" color="#4b4"/>
<path d="M510.1 77.4l.2-.2l4.5-.8l-.4 .1z" color="#273"/>
<path d="M371.4 76.3l-.3-.7l-4.5 2.1l.4 .6z" color="#8b3"/>
<path d="M363.7 78.1l.5-.1l1.3-.4l-.4 .1z" color="#275"/>
<path d="M384.9 80l.6-1.2l-4.2-.8l-.2 1.3z" color="#4b5"/>
<path d="M390.6 78.3l.9-1.2l-5-.3l-.5 1z" color="#6b3"/>
<path d="M480.4 80.3l.8 .1l2.9-1.6l-1 .2z" color="#239"/>
<path d="M499.4 76.6l-.3-.1l5.4 1l0 .1z" color="#273"/>
<path d="M436 80.4l-1.8-.6l.5 1.7l1.7 .2z" color="#239"/>
<path d="M504.7 77.6l-.1 0l5.5-.2l-.3 .1z" color="#276"/>
<path d="M453.4 80.8l1.5-.5l0-2.1l-1.4 .7z" color="#27b"/>
<path d="M492.8 74.5l-.2-.9l-4.7 4.1l.3 .5z" color="#d42"/>
<path d="M461.2 76.1l-.7-.2l1.6 2l.7 .3z" color="#372"/>
<path d="M454.9 80.3l1.3-.5l-.2-2.2l-1.1 .6z" color="#395"/>
<path d="M414.8 82.7l1.9-1.5l-2-.8l-1.2 1.7z" color="#23b"/>
<path d="M434.2 79.8l-1.5-.6l.6 2l1.4 .3z" color="#24a"/>
<path d="M380.8 80.6l.3-1.3l-4.2-.6l.2 1.6z" color="#3bb"/>
<path d="M404.2 80.2l-1.1-1.1l-2.2 1.6l1.5 .9z" color="#25b"/>
<path d="M371.7 77.1l-.3-.8l-4.4 2l.5 .7z" color="#6b3"/>
<path d="M498.7 78.5l.1-.8l-5.8-2.1l.2 1.2z" color="#9c3"/>
<path d="M522.1 79.1l-.7-1.2l-3.1 1.7l.9 1z" color="#3a5"/>
<path d="M532.7 81.5l.5-1.1l-.5-.3l-2.9-.6l-.1 1.4z" color="#25d"/>
<path d="M456.2 79.8l1.3-.6l-.5-2.2l-1 .6z" color="#493"/>
<path d="M499.1 76.5l-.2-.1l5.5 1l.1 .1z" color="#372"/>
<path d="M526.5 80.8l-.4-1.6l-3.2 1.1l.9 1.3z" color="#25d"/>
<path d="M408.6 82.2l-1.1-1.7l-1.9 .9l1.7 1.4z" color="#23a"/>
<path d="M466.8 79.2l-1.1-.1l3.7 1.5l.6-.1z" color="#238"/>
<path d="M364.2 78l.4-.2l1.2-.3l-.3 .1z" color="#273"/>
<path d="M432.7 79.2l-1.3-.6l.7 2.3l1.2 .3z" color="#26a"/>
<path d="M460.5 75.9l-.5-.3l1.4 2l.7 .3z" color="#472"/>
<path d="M510.3 77.2l.3-.1l4.5-.9l-.3 .2z" color="#372"/>
<path d="M457.5 79.2l1.1-.5l-.7-2.2l-.9 .5z" color="#493"/>
<path d="M493 75.6l-.2-1.1l-4.6 3.7l.3 .7z" color="#d72"/>
<path d="M417.8 82.5l1.7-1l-1.4-1.7l-1.4 1.4z" color="#24b"/>
<path d="M458.6 78.7l.9-.5l-.9-2.1l-.7 .4z" color="#593"/>
<path d="M389.5 79.6l1.1-1.3l-4.6-.5l-.5 1z" color="#5b4"/>
<path d="M476.8 80.9l.4 .2l3.2-.8l-.8-.1z" color="#128"/>
<path d="M431.4 78.6l-1.2-.6l.8 2.5l1.1 .4z" color="#385"/>
<path d="M504.2 78l.2-.6l-5.5-1l0 .6z" color="#bc3"/>
<path d="M470.7 80.4l-.7 .1l3.5 .7l.2-.3z" color="#127"/>
<path d="M481.2 80.4l.6-.1l3.3-1.6l-1 .1z" color="#249"/>
<path d="M504.6 77.6l-.1 0l5.8-.4l-.2 .2z" color="#274"/>
<path d="M459.5 78.2l.8-.5l-1.1-2l-.6 .4z" color="#7a3"/>
<path d="M460 75.6l-.4-.2l1.4 1.9l.4 .3z" color="#582"/>
<path d="M372 78l-.3-.9l-4.2 1.9l.6 .8z" color="#5a3"/>
<path d="M460.3 77.7l.7-.4l-1.4-1.9l-.4 .3z" color="#a82"/>
<path d="M430.2 78l-1-.5l.9 2.7l.9 .3z" color="#383"/>
<path d="M364.6 77.8l.4-.1l1.1-.3l-.3 .1z" color="#372"/>
<path d="M377.1 80.3l-.2-1.6l-3.9 1.5l.6 1.2z" color="#3ab"/>
<path d="M384.2 81.3l.7-1.3l-3.8-.7l-.3 1.3z" color="#3ad"/>
<path d="M405.6 81.4l-1.4-1.2l-1.8 1.4l1.8 1z" color="#23a"/>
<path d="M510.6 77.1l.1-.1l4.6-.8l-.2 0z" color="#372"/>
<path d="M446.9 82.5l1.8 .2l1.3-1.2l-2.2 .2z" color="#229"/>
<path d="M429.2 77.5l-.9-.5l1 2.8l.8 .4z" color="#483"/>
<path d="M498.7 79.5l0-1l-5.5-1.7l.3 1.4z" color="#6b3"/>
<path d="M504 78.6l.2-.6l-5.3-1l-.1 .7z" color="#8c3"/>
<path d="M522.9 80.3l-.8-1.2l-2.9 1.5l1.1 1.1z" color="#39c"/>
<path d="M428.3 77l-.6-.4l.9 3l.7 .2z" color="#482"/>
<path d="M493.2 76.8l-.2-1.2l-4.5 3.3l.4 .8z" color="#8c3"/>
<path d="M473.7 80.9l-.2 .3l3.7-.1l-.4-.2z" color="#127"/>
<path d="M438.6 81.8l-2.2-.1l1.2 1.2l1.8-.3z" color="#228"/>
<path d="M529.5 82.5l.2-1.6l-3.2-.1l.5 1.7z" color="#24c"/>
<path d="M365 77.7l.3-.1l1-.3l-.2 .1z" color="#372"/>
<path d="M427.7 76.6l-.6-.4l.9 3.1l.6 .3z" color="#582"/>
<path d="M515.7 76.6l-.4-.4l-4.6 .8l.7 .6z" color="#b31"/>
<path d="M465.7 79.1l-1.1-.3l4.2 1.7l.6 .1z" color="#258"/>
<path d="M427.1 76.2l-.5-.3l1 3.2l.4 .2z" color="#682"/>
<path d="M372.5 79l-.5-1l-3.9 1.8l.8 .9z" color="#4a3"/>
<path d="M504.5 77.6l0-.1l6.1-.4l-.3 .1z" color="#372"/>
<path d="M481.8 80.3l.6 0l3.5-1.9l-.8 .3z" color="#278"/>
<path d="M427.2 79.4l.4-.3l-1-3.2l-.4 .4z" color="#9a3"/>
<path d="M388.4 80.9l1.1-1.3l-4-.8l-.6 1.2z" color="#4b4"/>
<path d="M426.6 79.8l.6-.4l-1-3.1l-.5 .5z" color="#7a3"/>
<path d="M415.7 83.5l2.1-1l-1.1-1.3l-1.9 1.5z" color="#23a"/>
<path d="M380.5 82.1l.3-1.5l-3.7-.3l.2 1.6z" color="#26d"/>
<path d="M366.6 77.7l-.3-.4l-1 .3l.2 .5z" color="#b31"/>
<path d="M516.2 77.2l-.5-.6l-4.3 1l.8 .8z" color="#b62"/>
<path d="M425.9 80.2l.7-.4l-.9-3l-.7 .6z" color="#5a3"/>
<path d="M503.7 79.4l.3-.8l-5.2-.9l-.1 .8z" color="#6b3"/>
<path d="M532 83l.7-1.5l-3-.6l-.2 1.6z" color="#24c"/>
<path d="M527 82.5l-.5-1.7l-2.7 .8l1 1.5z" color="#24b"/>
<path d="M425.1 80.8l.8-.6l-.9-2.8l-.8 .7z" color="#5a3"/>
<path d="M407.3 82.8l-1.7-1.4l-1.4 1.2l2.2 1z" color="#23a"/>
<path d="M448.7 82.7l1.4 .1l1.7-1.6l-1.8 .3z" color="#229"/>
<path d="M516.8 77.9l-.6-.7l-4 1.2l1 .8z" color="#7a3"/>
<path d="M470 80.5l-.6 .1l3.9 .7l.2-.1z" color="#138"/>
<path d="M532.7 81.5l2.7 .9l.3-.3l-2.5-1.7z" color="#26d"/>
<path d="M367 78.3l-.4-.6l-1.1 .4l.4 .6z" color="#b62"/>
<path d="M477.2 81.1l.3 .2l3.7-.9l-.8-.1z" color="#238"/>
<path d="M424.1 81.3l1-.5l-.9-2.7l-.9 .7z" color="#4a3"/>
<path d="M493.5 78.2l-.3-1.4l-4.3 2.9l.5 .9z" color="#6b3"/>
<path d="M394.1 75l-.6-.6l.9 5.2l.4 .3z" color="#a31"/>
<path d="M504.5 77.5l-.1-.1l6.3-.4l-.1 .1z" color="#372"/>
<path d="M498.6 80.6l.1-1.1l-5.2-1.3l.3 1.5z" color="#5b4"/>
<path d="M482.4 80.3l.4-.1l3.8-2l-.7 .2z" color="#275"/>
<path d="M523.8 81.6l-.9-1.3l-2.6 1.4l1.3 1.1z" color="#25c"/>
<path d="M394 80l.4-.4l-.9-5.2l-.6 .7z" color="#c32"/>
<path d="M394.9 75.8l-.8-.8l.7 4.9l.6 .4z" color="#a62"/>
<path d="M373 80.2l-.5-1.2l-3.6 1.7l.8 1z" color="#3a5"/>
<path d="M383.4 82.6l.8-1.3l-3.4-.7l-.3 1.5z" color="#25d"/>
<path d="M422.9 82l1.2-.7l-.8-2.5l-1.1 .9z" color="#3a5"/>
<path d="M377.3 81.9l-.2-1.6l-3.5 1.1l.7 1.4z" color="#25d"/>
<path d="M464.6 78.8l-.9-.3l4.7 2l.4 0z" color="#275"/>
<path d="M395.8 76.6l-.9-.8l.5 4.5l.7 .4z" color="#793"/>
<path d="M517.5 78.7l-.7-.8l-3.6 1.3l1.1 1z" color="#5a3"/>
<path d="M436.4 81.7l-1.7-.2l1.5 1.5l1.4-.1z" color="#228"/>
<path d="M503.3 80.3l.4-.9l-5-.9l0 1z" color="#5b4"/>
<path d="M367.5 79l-.5-.7l-1.1 .4l.4 .8z" color="#7a3"/>
<path d="M396.9 77.6l-1.1-1l.3 4.1l.9 .5z" color="#593"/>
<path d="M393.4 80.5l.6-.5l-1.1-4.9l-.6 1z" color="#c72"/>
<path d="M421.5 82.6l1.4-.6l-.7-2.3l-1.3 .9z" color="#39b"/>
<path d="M387.2 82.2l1.2-1.3l-3.5-.9l-.7 1.3z" color="#3bb"/>
<path d="M510.3 77.7l.4-.7l-6.3 .4l-.2 .6z" color="#d42"/>
<path d="M445.6 83.2l1.2 .5l1.9-1l-1.8-.2z" color="#228"/>
<path d="M398.1 78.6l-1.2-1l.1 3.6l1 .6z" color="#493"/>
<path d="M482.8 80.2l.4-.1l3.9-2.1l-.5 .2z" color="#273"/>
<path d="M450.1 82.8l1.2-.1l2.1-1.9l-1.6 .4z" color="#239"/>
<path d="M473.5 81.2l-.2 .1l4.2 0l-.3-.2z" color="#138"/>
<path d="M420.1 83.2l1.4-.6l-.6-2l-1.4 .9z" color="#25b"/>
<path d="M439.4 82.6l-1.8 .3l2 .9l1.2-.6z" color="#128"/>
<path d="M399.4 79.6l-1.3-1l-.1 3.2l1.2 .5z" color="#393"/>
<path d="M518.3 79.6l-.8-.9l-3.2 1.5l1.2 1z" color="#4a3"/>
<path d="M392.8 81.1l.6-.6l-1.1-4.4l-.8 1z" color="#8b3"/>
<path d="M368.1 79.8l-.6-.8l-1.2 .5l.6 .9z" color="#5a3"/>
<path d="M534.1 83.8l1.3-1.4l-2.7-.9l-.7 1.5z" color="#24b"/>
<path d="M509.7 78.7l.6-1l-6.1 .3l-.2 .6z" color="#d72"/>
<path d="M493.8 79.7l-.3-1.5l-4.1 2.4l.5 1z" color="#5b4"/>
<path d="M400.9 80.7l-1.5-1.1l-.2 2.7l1.3 .6z" color="#299"/>
<path d="M418.2 83.8l1.9-.6l-.6-1.7l-1.7 1z" color="#23a"/>
<path d="M463.7 78.5l-.9-.3l5.2 2.2l.4 .1z" color="#273"/>
<path d="M373.6 81.4l-.6-1.2l-3.3 1.5l1 1.1z" color="#39c"/>
<path d="M469.4 80.6l-.6-.1l4.4 .9l.1-.1z" color="#238"/>
<path d="M483.2 80.1l.3-.1l4.1-2.1l-.5 .1z" color="#373"/>
<path d="M477.5 81.3l.4 0l3.9-1l-.6 .1z" color="#248"/>
<path d="M434.7 81.5l-1.4-.3l1.6 1.7l1.3 .1z" color="#239"/>
<path d="M380.1 83.7l.4-1.6l-3.2-.2l.2 1.7z" color="#24c"/>
<path d="M402.4 81.6l-1.5-.9l-.4 2.2l1.5 .6z" color="#25b"/>
<path d="M502.9 81.4l.4-1.1l-4.6-.8l-.1 1.1z" color="#5b4"/>
<path d="M498.4 81.9l.2-1.3l-4.8-.9l.4 1.6z" color="#4b4"/>
<path d="M529.4 84.4l.1-1.9l-2.5 0l.7 1.9z" color="#23b"/>
<path d="M524.8 83.1l-1-1.5l-2.2 1.2l1.5 1.2z" color="#23b"/>
<path d="M519.2 80.6l-.9-1l-2.8 1.6l1.4 1z" color="#393"/>
<path d="M451.3 82.7l1-.1l2.6-2.3l-1.5 .5z" color="#25a"/>
<path d="M391.9 81.8l.9-.7l-1.3-4l-.9 1.2z" color="#6b3"/>
<path d="M415.9 84.4l2.3-.6l-.4-1.3l-2.1 1z" color="#23a"/>
<path d="M404.2 82.6l-1.8-1l-.4 1.9l1.8 .6z" color="#23a"/>
<path d="M483.5 80l.3-.1l4.1-2.2l-.3 .2z" color="#372"/>
<path d="M509 79.7l.7-1l-5.7-.1l-.3 .8z" color="#9c3"/>
<path d="M368.9 80.7l-.8-.9l-1.2 .6l.6 1.1z" color="#4a3"/>
<path d="M531 84.7l1-1.7l-2.5-.5l-.1 1.9z" color="#23b"/>
<path d="M444.1 83.5l.4 .7l2.3-.5l-1.2-.5z" color="#128"/>
<path d="M385.8 83.5l1.4-1.3l-3-.9l-.8 1.3z" color="#26d"/>
<path d="M527.7 84.4l-.7-1.9l-2.2 .6l1.4 1.7z" color="#23a"/>
<path d="M382.4 84.1l1-1.5l-2.9-.5l-.4 1.6z" color="#24c"/>
<path d="M440.8 83.2l-1.2 .6l2.4 .4l.4-.7z" color="#128"/>
<path d="M462.8 78.2l-.7-.3l5.6 2.4l.3 .1z" color="#372"/>
<path d="M377.5 83.6l-.2-1.7l-3 .9l.9 1.4z" color="#24b"/>
<path d="M406.4 83.6l-2.2-1l-.4 1.5l2.3 .5z" color="#239"/>
<path d="M488.2 78.2l-.3-.5l-4.1 2.2l.3 .4z" color="#ab3"/>
<path d="M391 82.6l.9-.8l-1.3-3.5l-1.1 1.3z" color="#5a3"/>
<path d="M520.3 81.7l-1.1-1.1l-2.3 1.6l1.6 1z" color="#39a"/>
<path d="M452.3 82.6l1-.2l2.9-2.6l-1.3 .5z" color="#289"/>
<path d="M433.3 81.2l-1.2-.3l1.6 1.9l1.2 .1z" color="#259"/>
<path d="M446.8 83.7l1 .3l2.3-1.2l-1.4-.1z" color="#228"/>
<path d="M442.4 83.5l-.4 .7l2.5 0l-.4-.7z" color="#128"/>
<path d="M473.3 81.3l-.1 .1l4.7-.1l-.4 0z" color="#238"/>
<path d="M468.8 80.5l-.4 0l4.6 .9l.2 0z" color="#258"/>
<path d="M374.3 82.8l-.7-1.4l-2.9 1.4l1.1 1.1z" color="#25c"/>
<path d="M494.2 81.3l-.4-1.6l-3.9 1.9l.7 1.2z" color="#4b4"/>
<path d="M488.5 78.9l-.3-.7l-4.1 2.1l.5 .6z" color="#8b3"/>
<path d="M502.4 82.6l.5-1.2l-4.3-.8l-.2 1.3z" color="#4b5"/>
<path d="M508.2 80.9l.8-1.2l-5.3-.3l-.4 .9z" color="#6b3"/>
<path d="M477.9 81.3l.3-.1l4.2-.9l-.6 0z" color="#268"/>
<path d="M462.1 77.9l-.7-.3l6 2.6l.3 .1z" color="#372"/>
<path d="M535.4 82.4l1.8 1.7l1-.7l-2.5-1.3z" color="#25c"/>
<path d="M437.6 82.9l-1.4 .1l2.6 1.1l.8-.3z" color="#128"/>
<path d="M369.7 81.7l-.8-1l-1.4 .8l.8 1.2z" color="#393"/>
<path d="M453.3 82.4l.8-.2l3.4-3l-1.3 .6z" color="#384"/>
<path d="M532.5 85.3l1.6-1.5l-2.1-.8l-1 1.7z" color="#23b"/>
<path d="M389.9 83.4l1.1-.8l-1.5-3l-1.1 1.3z" color="#4a4"/>
<path d="M498.3 83.2l.1-1.3l-4.2-.6l.4 1.6z" color="#3bb"/>
<path d="M521.6 82.8l-1.3-1.1l-1.8 1.5l1.6 1z" color="#25b"/>
<path d="M414.8 82.7l-1.3-.6l-1.6-.3l-1.7 0l-1.6 .4l-1.3 .6l-.9 .8l-.3 1l.3 1l.8 .8l1.3 .6l1.6 .3l1.7 0l1.6-.4l1.4-.6l.9-.9l.2-1l-.2-.9z" color="#229"/>
<path d="M488.9 79.7l-.4-.8l-3.9 2l.6 .7z" color="#6b3"/>
<path d="M432.1 80.9l-1.1-.4l1.6 2l1.1 .3z" color="#277"/>
<path d="M526.2 84.8l-1.4-1.7l-1.7 .9l1.9 1.4z" color="#23a"/>
<path d="M461.4 77.6l-.4-.3l6.2 2.9l.2 0z" color="#472"/>
<path d="M468.4 80.5l-.4-.1l4.9 .9l.1 .1z" color="#277"/>
<path d="M384.3 84.9l1.5-1.4l-2.4-.9l-1 1.5z" color="#24b"/>
<path d="M535.5 85l1.7-.9l-1.8-1.7l-1.3 1.4z" color="#24b"/>
<path d="M454.1 82.2l.6-.2l3.9-3.3l-1.1 .5z" color="#383"/>
<path d="M507.2 82.2l1-1.3l-4.9-.6l-.4 1.1z" color="#5b4"/>
<path d="M447.8 84l.8 .1l2.7-1.4l-1.2 .1z" color="#238"/>
<path d="M489.4 80.6l-.5-.9l-3.7 1.9l.6 .8z" color="#5a3"/>
<path d="M473.2 81.4l-.2 0l5.2-.2l-.3 .1z" color="#258"/>
<path d="M467.1 80.7l.1-.5l-6.2-2.9l.1 .9z" color="#d42"/>
<path d="M379.6 85.5l.5-1.8l-2.6-.1l.4 1.9z" color="#23b"/>
<path d="M370.7 82.8l-1-1.1l-1.4 1l.9 1.2z" color="#39a"/>
<path d="M375.2 84.2l-.9-1.4l-2.5 1.1l1.4 1.3z" color="#23b"/>
<path d="M478.2 81.2l.2-.1l4.4-.9l-.4 .1z" color="#275"/>
<path d="M388.6 84.3l1.3-.9l-1.5-2.5l-1.2 1.3z" color="#3ab"/>
<path d="M431 80.5l-.9-.3l1.5 2.1l1 .2z" color="#373"/>
<path d="M494.6 82.9l-.4-1.6l-3.6 1.5l.7 1.2z" color="#3ab"/>
<path d="M501.8 83.9l.6-1.3l-4-.7l-.1 1.3z" color="#3ad"/>
<path d="M454.7 82l.6-.2l4.2-3.6l-.9 .5z" color="#483"/>
<path d="M523.1 84l-1.5-1.2l-1.5 1.4l1.9 1z" color="#23a"/>
<path d="M415.7 85.4l2.2-.2l.3-1.4l-2.3 .6z" color="#239"/>
<path d="M444.5 84.2l.4 .4l2.9-.6l-1-.3z" color="#128"/>
<path d="M381.1 85.8l1.3-1.7l-2.3-.4l-.5 1.8z" color="#23b"/>
<path d="M439.6 83.8l-.8 .3l2.9 .6l.3-.5z" color="#127"/>
<path d="M468 80.4l-.3-.1l5.1 1l.1 0z" color="#274"/>
<path d="M436.2 83l-1.3-.1l3.1 1.4l.8-.2z" color="#138"/>
<path d="M377.9 85.5l-.4-1.9l-2.3 .6l1 1.7z" color="#23a"/>
<path d="M455.3 81.8l.4-.2l4.6-3.9l-.8 .5z" color="#482"/>
<path d="M417.9 85.2l1.8-.3l.4-1.7l-1.9 .6z" color="#23a"/>
<path d="M406.1 84.6l-2.3-.5l.4 1.4l2.2 .1z" color="#229"/>
<path d="M489.9 81.6l-.5-1l-3.6 1.8l.9 .9z" color="#4a3"/>
<path d="M467.1 81.4l0-.7l-6-2.5l.2 1.1z" color="#d72"/>
<path d="M430.1 80.2l-.8-.4l1.4 2.2l.9 .3z" color="#372"/>
<path d="M506.2 83.5l1-1.3l-4.3-.8l-.5 1.2z" color="#4b4"/>
<path d="M455.7 81.6l.4-.1l4.9-4.2l-.7 .4z" color="#582"/>
<path d="M419.7 84.9l1.6-.4l.2-1.9l-1.4 .6z" color="#24a"/>
<path d="M533.5 86.1l2-1.1l-1.4-1.2l-1.6 1.5z" color="#23a"/>
<path d="M442 84.2l-.3 .5l3.2-.1l-.4-.4z" color="#127"/>
<path d="M498.2 84.6l.1-1.4l-3.7-.3l.4 1.6z" color="#26d"/>
<path d="M387.2 85.2l1.4-.9l-1.4-2.1l-1.4 1.3z" color="#25c"/>
<path d="M478.4 81.1l.2-.1l4.6-.9l-.4 .1z" color="#273"/>
<path d="M448.6 84.1l.7 0l3-1.5l-1 .1z" color="#239"/>
<path d="M467.7 80.3l-.3-.1l5.4 1l0 .1z" color="#273"/>
<path d="M403.8 84.1l-1.8-.6l.5 1.7l1.7 .3z" color="#239"/>
<path d="M473 81.4l-.1-.1l5.5-.2l-.2 .1z" color="#276"/>
<path d="M371.8 83.9l-1.1-1.1l-1.5 1.1l.9 1.3z" color="#25b"/>
<path d="M421.3 84.5l1.4-.4l.2-2.1l-1.4 .6z" color="#27b"/>
<path d="M525 85.4l-1.9-1.4l-1.1 1.2l2.2 1z" color="#23a"/>
<path d="M461.1 78.2l-.1-.9l-4.9 4.2l.2 .5z" color="#d42"/>
<path d="M429.3 79.8l-.7-.2l1.4 2l.7 .4z" color="#372"/>
<path d="M422.7 84.1l1.4-.6l0-2.2l-1.2 .7z" color="#395"/>
<path d="M511.4 77.6l-.7-.6l1.7 5.3l.5 .2z" color="#a31"/>
<path d="M382.4 86.4l1.9-1.5l-1.9-.8l-1.3 1.7z" color="#23b"/>
<path d="M402 83.5l-1.5-.6l.6 2.1l1.4 .2z" color="#24a"/>
<path d="M512.1 82.6l.3-.3l-1.7-5.3l-.4 .7z" color="#c32"/>
<path d="M512.2 78.4l-.8-.8l1.5 4.9l.6 .4z" color="#a62"/>
<path d="M467 82.2l.1-.8l-5.8-2.1l.2 1.2z" color="#9c3"/>
<path d="M490.6 82.8l-.7-1.2l-3.2 1.7l.9 1z" color="#3a5"/>
<path d="M501.2 85.2l.6-1.3l-3.5-.7l-.1 1.4z" color="#25d"/>
<path d="M467.4 80.2l-.2 0l5.5 1l.1 0z" color="#372"/>
<path d="M424.1 83.5l1.2-.5l-.2-2.2l-1 .5z" color="#493"/>
<path d="M495 84.5l-.4-1.6l-3.3 1.1l.9 1.4z" color="#25d"/>
<path d="M513.2 79.2l-1-.8l1.3 4.5l.7 .4z" color="#793"/>
<path d="M376.2 85.9l-1-1.7l-2 1l1.6 1.4z" color="#23a"/>
<path d="M434.9 82.9l-1.2-.1l3.7 1.5l.6 0z" color="#238"/>
<path d="M400.5 82.9l-1.3-.6l.6 2.3l1.3 .4z" color="#26a"/>
<path d="M428.6 79.6l-.6-.3l1.3 2l.7 .3z" color="#472"/>
<path d="M478.6 81l.2-.2l4.7-.8l-.3 .1z" color="#372"/>
<path d="M425.3 83l1.1-.5l-.5-2.3l-.8 .6z" color="#493"/>
<path d="M514.3 80.2l-1.1-1l1 4.1l.8 .5z" color="#593"/>
<path d="M461.3 79.3l-.2-1.1l-4.8 3.8l.3 .6z" color="#d72"/>
<path d="M511.5 83.2l.6-.6l-1.8-4.9l-.6 1z" color="#c72"/>
<path d="M385.4 86.2l1.8-1l-1.4-1.7l-1.5 1.4z" color="#24b"/>
<path d="M537.2 84.1l.8 1.7l1.5-.6l-.8-1.7l-.5-.1z" color="#25b"/>
<path d="M505.1 84.8l1.1-1.3l-3.8-.9l-.6 1.3z" color="#3bb"/>
<path d="M426.4 82.5l1-.5l-.8-2.2l-.7 .4z" color="#593"/>
<path d="M444.9 84.6l.3 .3l3.4-.8l-.8-.1z" color="#128"/>
<path d="M399.2 82.3l-1.2-.5l.7 2.5l1.1 .3z" color="#385"/>
<path d="M515.5 81.2l-1.2-1l.7 3.6l1 .6z" color="#493"/>
<path d="M472.5 81.7l.2-.5l-5.5-1l-.1 .5z" color="#bc3"/>
<path d="M438.8 84.1l-.8 .2l3.5 .6l.2-.2z" color="#127"/>
<path d="M449.3 84.1l.6 0l3.4-1.7l-1 .2z" color="#249"/>
<path d="M472.9 81.3l-.1 0l5.8-.3l-.2 .1z" color="#274"/>
<path d="M427.4 82l.8-.5l-1-2.1l-.6 .4z" color="#7a3"/>
<path d="M428 79.3l-.4-.2l1.2 2l.5 .2z" color="#582"/>
<path d="M428.2 81.5l.6-.4l-1.2-2l-.4 .3z" color="#a82"/>
<path d="M398 81.8l-1-.6l.7 2.7l1 .4z" color="#383"/>
<path d="M516.9 82.2l-1.4-1l.5 3.2l1.2 .5z" color="#393"/>
<path d="M510.9 83.7l.6-.5l-1.8-4.5l-.7 1z" color="#8b3"/>
<path d="M478.8 80.8l.2-.1l4.8-.8l-.3 .1z" color="#372"/>
<path d="M414.8 86.3l1.7 .2l1.4-1.3l-2.2 .2z" color="#229"/>
<path d="M397 81.2l-.9-.5l.8 2.9l.8 .3z" color="#483"/>
<path d="M518.5 83.2l-1.6-1l.3 2.7l1.3 .6z" color="#299"/>
<path d="M466.9 83.2l.1-1l-5.5-1.7l.2 1.4z" color="#6b3"/>
<path d="M371.7 86.4l1.5-1.2l-1.4-1.3l-1.7 1.3l.5 .6z" color="#23a"/>
<path d="M536.2 86.4l1.8-.6l-.8-1.7l-1.7 .9z" color="#23a"/>
<path d="M472.2 82.4l.3-.7l-5.4-1l0 .7z" color="#8c3"/>
<path d="M491.3 84l-.7-1.2l-3 1.5l1.1 1.1z" color="#39c"/>
<path d="M396.1 80.7l-.7-.4l.8 3l.7 .3z" color="#482"/>
<path d="M461.5 80.5l-.2-1.2l-4.7 3.3l.4 .8z" color="#8c3"/>
<path d="M441.7 84.7l-.2 .2l3.7 0l-.3-.3z" color="#127"/>
<path d="M498 86.3l.2-1.7l-3.2-.1l.4 1.7z" color="#24c"/>
<path d="M520.1 84.2l-1.6-1l0 2.3l1.5 .6z" color="#25b"/>
<path d="M406.4 85.6l-2.2-.1l1.2 1.2l1.8-.3z" color="#228"/>
<path d="M395.4 80.3l-.6-.4l.9 3.2l.5 .2z" color="#582"/>
<path d="M484.1 80.3l-.3-.4l-4.8 .8l.6 .6z" color="#b31"/>
<path d="M433.7 82.8l-1.1-.3l4.2 1.8l.6 0z" color="#258"/>
<path d="M539.5 85.2l1.4-.6l-.3-.5l-1.9-.6z" color="#39b"/>
<path d="M394.8 79.9l-.4-.3l.8 3.3l.5 .2z" color="#682"/>
<path d="M510.1 84.4l.8-.7l-1.9-4l-.8 1.2z" color="#6b3"/>
<path d="M472.8 81.3l0-.1l6-.4l-.2 .2z" color="#372"/>
<path d="M449.9 84.1l.5-.1l3.7-1.8l-.8 .2z" color="#278"/>
<path d="M394.8 83.2l.4-.3l-.8-3.3l-.4 .4z" color="#9a3"/>
<path d="M533.9 87.1l2.3-.7l-.7-1.4l-2 1.1z" color="#23a"/>
<path d="M522 85.2l-1.9-1l-.1 1.9l1.8 .6z" color="#23a"/>
<path d="M394.2 83.6l.6-.4l-.8-3.2l-.6 .5z" color="#7a3"/>
<path d="M383.2 87.3l2.2-1.1l-1.1-1.3l-1.9 1.5z" color="#23a"/>
<path d="M484.6 80.9l-.5-.6l-4.5 1l.9 .8z" color="#b62"/>
<path d="M503.9 86.2l1.2-1.4l-3.3-.9l-.6 1.3z" color="#26d"/>
<path d="M471.9 83.2l.3-.8l-5.1-1l-.1 .8z" color="#6b3"/>
<path d="M393.5 84l.7-.4l-.8-3.1l-.6 .6z" color="#5a3"/>
<path d="M500.4 86.7l.8-1.5l-3-.6l-.2 1.7z" color="#24c"/>
<path d="M495.4 86.2l-.4-1.7l-2.8 .9l1 1.4z" color="#24b"/>
<path d="M524.2 86.2l-2.2-1l-.2 1.5l2.3 .5z" color="#239"/>
<path d="M392.6 84.5l.9-.5l-.7-2.9l-.9 .7z" color="#5a3"/>
<path d="M374.8 86.6l-1.6-1.4l-1.5 1.2l2.2 1z" color="#23a"/>
<path d="M416.5 86.5l1.4 0l1.8-1.6l-1.8 .3z" color="#229"/>
<path d="M485.2 81.6l-.6-.7l-4.1 1.2l.9 .9z" color="#7a3"/>
<path d="M438 84.3l-.6 0l3.9 .7l.2-.1z" color="#138"/>
<path d="M445.2 84.9l.3 .1l3.8-.9l-.7 0z" color="#238"/>
<path d="M509.2 85.2l.9-.8l-1.9-3.5l-1 1.3z" color="#5a3"/>
<path d="M540.9 84.6l.6-.4l-.9-.1z" color="#3a5"/>
<path d="M391.6 85.1l1-.6l-.7-2.7l-.9 .8z" color="#4a3"/>
<path d="M461.7 81.9l-.2-1.4l-4.5 2.9l.4 .9z" color="#6b3"/>
<path d="M472.8 81.2l-.1 0l6.3-.5l-.2 .1z" color="#372"/>
<path d="M466.7 84.4l.2-1.2l-5.2-1.3l.3 1.5z" color="#5b4"/>
<path d="M492.2 85.4l-.9-1.4l-2.6 1.4l1.2 1.1z" color="#25c"/>
<path d="M450.4 84l.4-.1l3.9-1.9l-.6 .2z" color="#275"/>
<path d="M390.4 85.7l1.2-.6l-.6-2.5l-1.1 .8z" color="#3a5"/>
<path d="M432.6 82.5l-1-.2l4.7 1.9l.5 .1z" color="#275"/>
<path d="M485.8 82.4l-.6-.8l-3.8 1.4l1.1 .9z" color="#5a3"/>
<path d="M404.2 85.5l-1.7-.3l1.3 1.6l1.6-.1z" color="#228"/>
<path d="M471.5 84.1l.4-.9l-4.9-1l-.1 1z" color="#5b4"/>
<path d="M389.1 86.3l1.3-.6l-.5-2.3l-1.3 .9z" color="#39b"/>
<path d="M478.5 81.4l.5-.7l-6.3 .5l-.2 .5z" color="#d42"/>
<path d="M413.4 86.9l1.2 .5l1.9-.9l-1.7-.2z" color="#228"/>
<path d="M370.6 85.8l.9 1.1l.2-.5z" color="#23a"/>
<path d="M508.1 86l1.1-.8l-2-3l-1 1.3z" color="#4a4"/>
<path d="M532.5 85.3l-1.5-.6l-1.6-.3l-1.7 0l-1.5 .4l-1.2 .6l-.8 .8l-.1 1l.5 1l1 .8l1.4 .6l1.7 .3l1.7 0l1.6-.4l1.1-.6l.8-.9l0-.9l-.4-1z" color="#229"/>
<path d="M450.8 83.9l.4-.1l4.1-2l-.6 .2z" color="#273"/>
<path d="M417.9 86.5l1.2 0l2.2-2l-1.6 .4z" color="#239"/>
<path d="M441.5 84.9l-.2 .1l4.2 0l-.3-.1z" color="#138"/>
<path d="M387.6 87l1.5-.7l-.5-2l-1.4 .9z" color="#25b"/>
<path d="M407.2 86.4l-1.8 .3l1.9 .9l1.2-.6z" color="#128"/>
<path d="M486.7 83.3l-.9-.9l-3.3 1.5l1.3 1z" color="#4a3"/>
<path d="M502.5 87.5l1.4-1.3l-2.7-1l-.8 1.5z" color="#24b"/>
<path d="M477.9 82.4l.6-1l-6 .3l-.3 .7z" color="#d72"/>
<path d="M462 83.4l-.3-1.5l-4.3 2.4l.6 1.1z" color="#5b4"/>
<path d="M431.6 82.3l-.9-.3l5.2 2.2l.4 0z" color="#273"/>
<path d="M385.8 87.6l1.8-.6l-.4-1.8l-1.8 1z" color="#23a"/>
<path d="M437.4 84.3l-.6 0l4.3 .8l.2-.1z" color="#238"/>
<path d="M451.2 83.8l.3-.1l4.2-2.1l-.4 .2z" color="#373"/>
<path d="M445.5 85l.3 0l4.1-.9l-.6 0z" color="#248"/>
<path d="M402.5 85.2l-1.4-.2l1.4 1.7l1.3 .1z" color="#239"/>
<path d="M471.1 85.2l.4-1.1l-4.6-.9l-.2 1.2z" color="#5b4"/>
<path d="M497.7 88.1l.3-1.8l-2.6-.1l.6 2z" color="#23b"/>
<path d="M466.6 85.6l.1-1.2l-4.7-1l.3 1.6z" color="#4b4"/>
<path d="M493.2 86.8l-1-1.4l-2.3 1.1l1.5 1.3z" color="#23b"/>
<path d="M506.9 86.9l1.2-.9l-1.9-2.5l-1.1 1.3z" color="#3ab"/>
<path d="M487.6 84.3l-.9-1l-2.9 1.6l1.4 1.1z" color="#393"/>
<path d="M419.1 86.5l1-.2l2.6-2.2l-1.4 .4z" color="#25a"/>
<path d="M383.4 88.2l2.4-.6l-.4-1.4l-2.2 1.1z" color="#23a"/>
<path d="M451.5 83.7l.3 0l4.3-2.2l-.4 .1z" color="#372"/>
<path d="M533.9 88l2.3-.2l0-1.4l-2.3 .7z" color="#239"/>
<path d="M477.2 83.5l.7-1.1l-5.7 0l-.3 .8z" color="#9c3"/>
<path d="M499.4 88.4l1-1.7l-2.4-.4l-.3 1.8z" color="#23b"/>
<path d="M411.8 87.3l.4 .7l2.4-.6l-1.2-.5z" color="#128"/>
<path d="M373.5 88.4l.4-1l-2.2-1l-.2 .5l1.3 1.3z" color="#239"/>
<path d="M496 88.2l-.6-2l-2.2 .6l1.3 1.7z" color="#23a"/>
<path d="M408.5 87l-1.2 .6l2.4 .4l.4-.7z" color="#128"/>
<path d="M430.7 82l-.7-.4l5.5 2.5l.4 .1z" color="#372"/>
<path d="M456.3 82l-.2-.5l-4.3 2.2l.3 .4z" color="#ab3"/>
<path d="M536.2 87.8l1.9-.3l-.1-1.7l-1.8 .6z" color="#23a"/>
<path d="M524.1 87.2l-2.3-.5l.7 1.4l2.1 .1z" color="#229"/>
<path d="M488.7 85.4l-1.1-1.1l-2.4 1.7l1.5 1z" color="#39a"/>
<path d="M420.1 86.3l.9-.1l3.1-2.7l-1.4 .6z" color="#289"/>
<path d="M401.1 85l-1.3-.4l1.5 2l1.2 .1z" color="#259"/>
<path d="M414.6 87.4l.9 .3l2.4-1.2l-1.4 0z" color="#228"/>
<path d="M441.3 85l-.2 .1l4.7-.1l-.3 0z" color="#238"/>
<path d="M410.1 87.3l-.4 .7l2.5 0l-.4-.7z" color="#128"/>
<path d="M538.1 87.5l1.6-.3l-.2-2l-1.5 .6z" color="#24a"/>
<path d="M436.8 84.3l-.5-.1l4.6 .9l.2 0z" color="#258"/>
<path d="M505.5 87.8l1.4-.9l-1.8-2.1l-1.2 1.4z" color="#25c"/>
<path d="M462.3 85l-.3-1.6l-4 2l.6 1.2z" color="#4b4"/>
<path d="M456.6 82.6l-.3-.6l-4.2 2.1l.5 .6z" color="#8b3"/>
<path d="M540.9 84.6l.3 2.1l1.5-.5l-.6-1.9l-.6-.1z" color="#395"/>
<path d="M470.5 86.4l.6-1.2l-4.4-.8l-.1 1.2z" color="#4b5"/>
<path d="M521.8 86.7l-1.8-.6l.9 1.8l1.6 .2z" color="#239"/>
<path d="M476.3 84.7l.9-1.2l-5.3-.3l-.4 .9z" color="#6b3"/>
<path d="M539.7 87.2l1.5-.5l-.3-2.1l-1.4 .6z" color="#27b"/>
<path d="M445.8 85l.3 0l4.3-1l-.5 .1z" color="#268"/>
<path d="M430 81.6l-.7-.3l5.9 2.7l.3 .1z" color="#372"/>
<path d="M405.4 86.7l-1.6 .1l2.6 1.1l.9-.3z" color="#128"/>
<path d="M382.4 86.4l-1.3-.6l-1.5-.3l-1.7 0l-1.7 .4l-1.4 .7l-.9 .8l-.4 1l.2 .6l2.5 1.9l1.2 .2l1.7 0l1.7-.4l1.3-.7l1-.8l.3-1l-.2-.9z" color="#229"/>
<path d="M421 86.2l.8-.2l3.5-3l-1.2 .5z" color="#384"/>
<path d="M500.8 89l1.7-1.5l-2.1-.8l-1 1.7z" color="#23b"/>
<path d="M520 86.1l-1.5-.6l1 2.1l1.4 .3z" color="#24a"/>
<path d="M466.4 87l.2-1.4l-4.3-.6l.3 1.7z" color="#3bb"/>
<path d="M489.9 86.5l-1.2-1.1l-2 1.6l1.6 1z" color="#25b"/>
<path d="M457 83.4l-.4-.8l-4 2.1l.5 .7z" color="#6b3"/>
<path d="M399.8 84.6l-1.1-.3l1.4 2l1.2 .3z" color="#277"/>
<path d="M494.5 88.5l-1.3-1.7l-1.8 1l1.8 1.4z" color="#23a"/>
<path d="M429.3 81.3l-.5-.2l6.2 2.8l.2 .1z" color="#472"/>
<path d="M518.5 85.5l-1.3-.6l1.1 2.4l1.2 .3z" color="#26a"/>
<path d="M436.3 84.2l-.4 0l4.9 .9l.1 0z" color="#277"/>
<path d="M503.9 88.8l1.6-1l-1.6-1.6l-1.4 1.3z" color="#24b"/>
<path d="M421.8 86l.6-.2l4-3.3l-1.1 .5z" color="#383"/>
<path d="M475.3 85.9l1-1.2l-4.8-.6l-.4 1.1z" color="#5b4"/>
<path d="M517.2 84.9l-1.2-.5l1.2 2.5l1.1 .4z" color="#385"/>
<path d="M372.8 88.2l.9 .8l-.2-.6z" color="#229"/>
<path d="M457.4 84.3l-.4-.9l-3.9 2l.7 .8z" color="#5a3"/>
<path d="M415.5 87.7l.7 .2l2.9-1.4l-1.2 0z" color="#238"/>
<path d="M441.1 85.1l-.2 0l5.2-.1l-.3 0z" color="#258"/>
<path d="M435 84.5l0-.6l-6.2-2.8l.1 .9z" color="#d42"/>
<path d="M446.1 85l.2-.1l4.5-1l-.4 .1z" color="#275"/>
<path d="M516 84.4l-1-.6l1.3 2.8l.9 .3z" color="#383"/>
<path d="M542.7 86.2l1.3-.6l-.6-1.3l-1.3 0z" color="#493"/>
<path d="M398.7 84.3l-1-.4l1.4 2.2l1 .2z" color="#373"/>
<path d="M462.6 86.7l-.3-1.7l-3.7 1.6l.7 1.2z" color="#3ab"/>
<path d="M469.9 87.6l.6-1.2l-3.9-.8l-.2 1.4z" color="#3ad"/>
<path d="M422.4 85.8l.5-.2l4.5-3.6l-1 .5z" color="#483"/>
<path d="M491.4 87.8l-1.5-1.3l-1.6 1.5l1.9 1z" color="#23a"/>
<path d="M533.1 88.9l2 .2l1.1-1.3l-2.3 .2z" color="#229"/>
<path d="M515 83.8l-.8-.5l1.3 2.9l.8 .4z" color="#483"/>
<path d="M383.1 89.2l2.2-.2l.5-1.4l-2.4 .6z" color="#239"/>
<path d="M412.2 88l.3 .4l3-.7l-.9-.3z" color="#128"/>
<path d="M407.3 87.6l-.9 .3l2.9 .5l.4-.4z" color="#127"/>
<path d="M514.2 83.3l-.7-.4l1.4 3.1l.6 .2z" color="#482"/>
<path d="M435.9 84.2l-.4-.1l5.2 1l.1 0z" color="#274"/>
<path d="M403.8 86.8l-1.3-.1l3.1 1.3l.8-.1z" color="#138"/>
<path d="M422.9 85.6l.5-.2l4.8-3.9l-.8 .5z" color="#482"/>
<path d="M524.6 88.2l-2.1-.1l1.4 1.2l1.7-.3z" color="#228"/>
<path d="M513.5 82.9l-.6-.4l1.5 3.2l.5 .3z" color="#582"/>
<path d="M385.3 89l1.8-.3l.5-1.7l-1.8 .6z" color="#23a"/>
<path d="M512.9 82.5l-.5-.2l1.6 3.2l.4 .2z" color="#682"/>
<path d="M458 85.4l-.6-1.1l-3.6 1.9l.8 .9z" color="#4a3"/>
<path d="M434.9 85.2l.1-.7l-6.1-2.5l.2 1.1z" color="#d72"/>
<path d="M397.7 83.9l-.8-.3l1.3 2.2l.9 .3z" color="#372"/>
<path d="M513.5 85.8l.5-.3l-1.6-3.2l-.3 .3z" color="#9a3"/>
<path d="M474.3 87.3l1-1.4l-4.2-.7l-.6 1.2z" color="#4b4"/>
<path d="M423.4 85.4l.4-.1l5-4.2l-.6 .4z" color="#582"/>
<path d="M512.9 86.2l.6-.4l-1.4-3.2l-.6 .6z" color="#7a3"/>
<path d="M501.8 89.9l2.1-1.1l-1.4-1.3l-1.7 1.5z" color="#23a"/>
<path d="M387.1 88.7l1.6-.4l.4-2l-1.5 .7z" color="#24a"/>
<path d="M409.7 88l-.4 .4l3.2 0l-.3-.4z" color="#127"/>
<path d="M466.2 88.4l.2-1.4l-3.8-.3l.4 1.6z" color="#26d"/>
<path d="M446.3 84.9l.2-.1l4.7-1l-.4 .1z" color="#273"/>
<path d="M544 85.6l1.1-.5l-.5-.8l-1.2 0z" color="#493"/>
<path d="M512.2 86.6l.7-.4l-1.4-3l-.6 .5z" color="#5a3"/>
<path d="M435.5 84.1l-.3-.1l5.4 1l.1 .1z" color="#273"/>
<path d="M416.2 87.9l.7 0l3.2-1.6l-1 .2z" color="#239"/>
<path d="M440.9 85.1l-.1 0l5.5-.2l-.2 .1z" color="#276"/>
<path d="M388.7 88.3l1.4-.4l.3-2.2l-1.3 .6z" color="#27b"/>
<path d="M511.4 87.2l.8-.6l-1.3-2.9l-.8 .7z" color="#5a3"/>
<path d="M493.2 89.2l-1.8-1.4l-1.2 1.2l2.3 1z" color="#23a"/>
<path d="M428.9 82l-.1-.9l-5 4.2l.2 .5z" color="#d42"/>
<path d="M535.1 89.1l1.5 .1l1.5-1.7l-1.9 .3z" color="#229"/>
<path d="M396.9 83.6l-.7-.3l1.2 2.2l.8 .3z" color="#372"/>
<path d="M510.4 87.7l1-.5l-1.3-2.8l-.9 .8z" color="#4a3"/>
<path d="M390.1 87.9l1.4-.6l.1-2.2l-1.2 .6z" color="#395"/>
<path d="M479.6 81.3l-.6-.6l1.5 5.4l.4 .2z" color="#a31"/>
<path d="M480.1 86.4l.4-.3l-1.5-5.4l-.5 .7z" color="#c32"/>
<path d="M480.5 82.1l-.9-.8l1.3 5l.6 .4z" color="#a62"/>
<path d="M434.7 86l.2-.8l-5.8-2.1l.2 1.2z" color="#9c3"/>
<path d="M458.6 86.6l-.6-1.2l-3.4 1.7l.9 1z" color="#3a5"/>
<path d="M469.2 89l.7-1.4l-3.5-.6l-.2 1.4z" color="#25d"/>
<path d="M435.2 84l-.2-.1l5.5 1.1l.1 0z" color="#372"/>
<path d="M391.5 87.3l1.2-.5l-.1-2.3l-1 .6z" color="#493"/>
<path d="M509.2 88.3l1.2-.6l-1.2-2.5l-1.1 .8z" color="#3a5"/>
<path d="M463 88.3l-.4-1.6l-3.3 1.1l.8 1.3z" color="#25d"/>
<path d="M481.4 83l-.9-.9l1 4.6l.7 .4z" color="#793"/>
<path d="M402.5 86.7l-1.2-.1l3.6 1.5l.7-.1z" color="#238"/>
<path d="M522.5 88.1l-1.6-.2l1.7 1.5l1.3-.1z" color="#228"/>
<path d="M396.2 83.3l-.5-.2l1 2.1l.7 .3z" color="#472"/>
<path d="M446.5 84.8l.2-.2l4.8-.9l-.3 .1z" color="#372"/>
<path d="M545.1 85.1l.9-.5l-.4-.5l-1 .2z" color="#593"/>
<path d="M392.7 86.8l1.1-.5l-.3-2.3l-.9 .5z" color="#493"/>
<path d="M482.5 83.9l-1.1-.9l.8 4.1l.9 .5z" color="#593"/>
<path d="M429.1 83.1l-.2-1.1l-4.9 3.8l.3 .6z" color="#d72"/>
<path d="M479.5 87l.6-.6l-1.6-5l-.6 1z" color="#c72"/>
<path d="M507.8 89l1.4-.7l-1.1-2.3l-1.2 .9z" color="#39b"/>
<path d="M473.1 88.6l1.2-1.3l-3.8-.9l-.6 1.2z" color="#3bb"/>
<path d="M532 89.5l1.3 .6l1.8-1l-2-.2z" color="#228"/>
<path d="M393.8 86.3l1-.5l-.6-2.2l-.7 .4z" color="#593"/>
<path d="M412.5 88.4l.3 .3l3.4-.8l-.7-.2z" color="#128"/>
<path d="M483.8 84.9l-1.3-1l.6 3.7l1 .6z" color="#493"/>
<path d="M440.3 85.5l.2-.5l-5.5-1.1l0 .6z" color="#bc3"/>
<path d="M406.4 87.9l-.8 .1l3.4 .7l.3-.3z" color="#127"/>
<path d="M416.9 87.9l.6 0l3.5-1.7l-.9 .1z" color="#249"/>
<path d="M440.8 85.1l-.1 0l5.8-.3l-.2 .1z" color="#274"/>
<path d="M394.8 85.8l.8-.5l-.8-2.1l-.6 .4z" color="#7a3"/>
<path d="M536.6 89.2l1.3-.1l1.8-1.9l-1.6 .3z" color="#239"/>
<path d="M395.7 83.1l-.5-.2l1 2l.5 .3z" color="#582"/>
<path d="M506.3 89.6l1.5-.6l-.9-2.1l-1.4 .9z" color="#25b"/>
<path d="M525.6 89l-1.7 .3l2.2 .9l.9-.6z" color="#128"/>
<path d="M395.6 85.3l.6-.4l-1-2l-.4 .3z" color="#a82"/>
<path d="M485.2 86l-1.4-1.1l.3 3.3l1.2 .5z" color="#393"/>
<path d="M478.9 87.5l.6-.5l-1.6-4.6l-.7 1.1z" color="#8b3"/>
<path d="M446.7 84.6l.1-.1l5-.8l-.3 0z" color="#372"/>
<path d="M382.1 90l1.8 .3l1.4-1.3l-2.2 .2z" color="#229"/>
<path d="M486.7 87l-1.5-1l.1 2.7l1.4 .6z" color="#299"/>
<path d="M546 84.6l.9-.5l-.2-.2l-1.1 .2z" color="#7a3"/>
<path d="M434.6 87l.1-1l-5.4-1.7l.2 1.4z" color="#6b3"/>
<path d="M504.5 90.2l1.8-.6l-.8-1.8l-1.6 1z" color="#23a"/>
<path d="M459.3 87.8l-.7-1.2l-3.1 1.5l1.1 1.1z" color="#39c"/>
<path d="M440 86.2l.3-.7l-5.3-1l-.1 .7z" color="#8c3"/>
<path d="M429.3 84.3l-.2-1.2l-4.8 3.3l.3 .8z" color="#8c3"/>
<path d="M520.9 87.9l-1.4-.3l1.9 1.8l1.2 0z" color="#239"/>
<path d="M409.3 88.4l-.3 .3l3.8 0l-.3-.3z" color="#127"/>
<path d="M488.3 88l-1.6-1l0 2.3l1.5 .6z" color="#25b"/>
<path d="M466 90.1l.2-1.7l-3.2-.1l.4 1.7z" color="#24c"/>
<path d="M452.1 84.1l-.3-.4l-5 .8l.6 .6z" color="#b31"/>
<path d="M401.3 86.6l-1.2-.3l4.2 1.8l.6 0z" color="#258"/>
<path d="M537.9 89.1l1.1-.1l2.2-2.3l-1.5 .5z" color="#25a"/>
<path d="M478.1 88.2l.8-.7l-1.7-4l-.9 1.2z" color="#6b3"/>
<path d="M440.7 85.1l-.1-.1l6.1-.4l-.2 .2z" color="#372"/>
<path d="M417.5 87.9l.5-.1l3.8-1.8l-.8 .2z" color="#278"/>
<path d="M502.2 90.8l2.3-.6l-.6-1.4l-2.1 1.1z" color="#23a"/>
<path d="M490.2 89l-1.9-1l-.1 1.9l1.8 .6z" color="#23a"/>
<path d="M452.6 84.7l-.5-.6l-4.7 1l.9 .8z" color="#b62"/>
<path d="M546.9 84.1l.7-.4l-.1 0l-.8 .2z" color="#a82"/>
<path d="M530.4 89.9l.7 .7l2.2-.5l-1.3-.6z" color="#128"/>
<path d="M471.9 90l1.2-1.4l-3.2-1l-.7 1.4z" color="#26d"/>
<path d="M439.7 87l.3-.8l-5.1-1l-.2 .8z" color="#6b3"/>
<path d="M468.4 90.5l.8-1.5l-3-.6l-.2 1.7z" color="#24c"/>
<path d="M527 89.6l-.9 .6l2.4 .5l.2-.8z" color="#128"/>
<path d="M463.4 90l-.4-1.7l-2.9 .8l1 1.5z" color="#24b"/>
<path d="M492.5 90l-2.3-1l-.2 1.5l2.3 .5z" color="#239"/>
<path d="M547.5 83.7l.1 0l.1 .1z" color="#582"/>
<path d="M383.9 90.3l1.3 0l1.9-1.6l-1.8 .3z" color="#229"/>
<path d="M453.1 85.4l-.5-.7l-4.3 1.2l.9 .9z" color="#7a3"/>
<path d="M405.6 88l-.7 .1l3.9 .8l.2-.2z" color="#138"/>
<path d="M412.8 88.7l.3 .1l3.8-.9l-.7 0z" color="#238"/>
<path d="M477.2 89l.9-.8l-1.8-3.5l-1 1.2z" color="#5a3"/>
<path d="M539 89l1-.2l2.7-2.6l-1.5 .5z" color="#289"/>
<path d="M547.6 83.7l.2 .2l-.1-.1z" color="#472"/>
<path d="M519.5 87.6l-1.2-.3l2 1.9l1.1 .2z" color="#259"/>
<path d="M533.3 90.1l1.1 .3l2.2-1.2l-1.5-.1z" color="#228"/>
<path d="M429.5 85.7l-.2-1.4l-4.7 2.9l.5 .9z" color="#6b3"/>
<path d="M528.7 89.9l-.2 .8l2.6-.1l-.7-.7z" color="#128"/>
<path d="M440.6 85l-.1 0l6.3-.5l-.1 .1z" color="#372"/>
<path d="M434.4 88.2l.2-1.2l-5.1-1.3l.2 1.5z" color="#5b4"/>
<path d="M460.1 89.1l-.8-1.3l-2.7 1.4l1.2 1.2z" color="#25c"/>
<path d="M418 87.8l.4-.1l4-1.9l-.6 .2z" color="#275"/>
<path d="M400.1 86.3l-1-.2l4.7 2l.5 0z" color="#275"/>
<path d="M453.8 86.2l-.7-.8l-3.9 1.4l1.1 .9z" color="#5a3"/>
<path d="M523.9 89.3l-1.3 .1l2.7 1.1l.8-.3z" color="#128"/>
<path d="M439.3 87.9l.4-.9l-5-1l-.1 1z" color="#5b4"/>
<path d="M548.6 85l-.8-1.1l-.2-.2l.2 .9z" color="#d42"/>
<path d="M446.3 85.3l.5-.8l-6.3 .5l-.2 .5z" color="#d42"/>
<path d="M540 88.8l.8-.2l3.2-3l-1.3 .6z" color="#384"/>
<path d="M380.8 90.7l1.1 .6l2-1l-1.8-.3z" color="#228"/>
<path d="M476.1 89.9l1.1-.9l-1.9-3.1l-1 1.4z" color="#4a4"/>
<path d="M500.8 89l-1.4-.6l-1.7-.3l-1.7 .1l-1.5 .3l-1.3 .7l-.7 .8l-.2 1l.4 1l1 .8l1.4 .6l1.6 .4l1.8-.1l1.5-.3l1.3-.7l.7-.9l.2-1l-.4-.9z" color="#229"/>
<path d="M418.4 87.7l.3-.1l4.2-2l-.5 .2z" color="#273"/>
<path d="M385.2 90.3l1.1 0l2.4-2l-1.6 .4z" color="#239"/>
<path d="M409 88.7l-.2 .2l4.3-.1l-.3-.1z" color="#138"/>
<path d="M518.3 87.3l-1.1-.4l2.1 2.1l1 .2z" color="#277"/>
<path d="M454.6 87.1l-.8-.9l-3.5 1.5l1.3 1.1z" color="#4a3"/>
<path d="M470.4 91.4l1.5-1.4l-2.7-1l-.8 1.5z" color="#24b"/>
<path d="M445.6 86.2l.7-.9l-6 .2l-.3 .7z" color="#d72"/>
<path d="M540.8 88.6l.8-.2l3.5-3.3l-1.1 .5z" color="#383"/>
<path d="M429.7 87.2l-.2-1.5l-4.4 2.4l.5 1.1z" color="#5b4"/>
<path d="M399.1 86.1l-.9-.3l5.1 2.2l.5 .1z" color="#273"/>
<path d="M404.9 88.1l-.6 0l4.3 .8l.2 0z" color="#238"/>
<path d="M377.2 91.4l.2-.3l-1.2-.2z" color="#128"/>
<path d="M418.7 87.6l.3 0l4.4-2.2l-.5 .2z" color="#373"/>
<path d="M413.1 88.8l.2 .1l4.2-1l-.6 0z" color="#248"/>
<path d="M534.4 90.4l.9 .1l2.6-1.4l-1.3 .1z" color="#238"/>
<path d="M549.7 86.5l-1.1-1.5l-.8-.4l.2 1.1z" color="#d72"/>
<path d="M438.8 89l.5-1.1l-4.7-.9l-.2 1.2z" color="#5b4"/>
<path d="M465.6 92l.4-1.9l-2.6-.1l.5 2z" color="#23b"/>
<path d="M434.2 89.4l.2-1.2l-4.7-1l.3 1.6z" color="#4b4"/>
<path d="M461.1 90.6l-1-1.5l-2.3 1.3l1.4 1.2z" color="#23b"/>
<path d="M474.8 90.7l1.3-.8l-1.8-2.6l-1.2 1.3z" color="#3ab"/>
<path d="M455.5 88.1l-.9-1l-3 1.7l1.4 1z" color="#393"/>
<path d="M517.2 86.9l-.9-.3l2 2.1l1 .3z" color="#373"/>
<path d="M386.3 90.3l1.1-.1l2.7-2.3l-1.4 .4z" color="#25a"/>
<path d="M541.6 88.4l.5-.2l3.9-3.6l-.9 .5z" color="#483"/>
<path d="M419 87.6l.3-.1l4.5-2.2l-.4 .1z" color="#372"/>
<path d="M502 91.8l2.3-.1l.2-1.5l-2.3 .6z" color="#239"/>
<path d="M531.1 90.6l.5 .5l2.8-.7l-1.1-.3z" color="#128"/>
<path d="M444.9 87.3l.7-1.1l-5.6 0l-.3 .8z" color="#9c3"/>
<path d="M467.3 92.3l1.1-1.8l-2.4-.4l-.4 1.9z" color="#23b"/>
<path d="M526.1 90.2l-.8 .3l3.1 .6l.1-.4z" color="#127"/>
<path d="M379.1 91.1l.3 .7l2.5-.5l-1.1-.6z" color="#128"/>
<path d="M522.6 89.4l-1.2 0l3.3 1.3l.6-.2z" color="#138"/>
<path d="M463.9 92l-.5-2l-2.3 .6l1.2 1.7z" color="#23a"/>
<path d="M542.1 88.2l.6-.2l4.2-3.9l-.9 .5z" color="#482"/>
<path d="M398.2 85.8l-.8-.3l5.5 2.4l.4 .1z" color="#372"/>
<path d="M504.3 91.7l1.9-.3l.1-1.8l-1.8 .6z" color="#23a"/>
<path d="M424 85.8l-.2-.5l-4.5 2.2l.3 .4z" color="#ab3"/>
<path d="M492.3 91l-2.3-.5l.6 1.4l2.1 .1z" color="#229"/>
<path d="M516.3 86.6l-.8-.4l2 2.2l.8 .3z" color="#372"/>
<path d="M456.6 89.2l-1.1-1.1l-2.5 1.7l1.5 1z" color="#39a"/>
<path d="M387.4 90.2l.8-.2l3.3-2.7l-1.4 .6z" color="#289"/>
<path d="M379.1 91.1l-1.7 0l-.2 .3l1.1 .5l1.1-.1z" color="#128"/>
<path d="M542.7 88l.3-.1l4.6-4.2l-.7 .4z" color="#582"/>
<path d="M381.9 91.3l.8 .3l2.5-1.3l-1.3 0z" color="#228"/>
<path d="M408.8 88.9l-.2 0l4.7 0l-.2-.1z" color="#238"/>
<path d="M528.5 90.7l-.1 .4l3.2 0l-.5-.5z" color="#127"/>
<path d="M506.2 91.4l1.7-.4l-.1-2l-1.5 .6z" color="#24a"/>
<path d="M404.3 88.1l-.5 0l4.6 .9l.2-.1z" color="#258"/>
<path d="M473.4 91.7l1.4-1l-1.7-2.1l-1.2 1.4z" color="#25c"/>
<path d="M430 88.8l-.3-1.6l-4.1 2l.6 1.2z" color="#4b4"/>
<path d="M550.8 87.9l-1.1-1.4l-1.7-.8l.3 1.3z" color="#9c3"/>
<path d="M424.3 86.4l-.3-.6l-4.4 2.1l.5 .6z" color="#8b3"/>
<path d="M535.3 90.5l.8 .1l2.9-1.6l-1.1 .1z" color="#239"/>
<path d="M490 90.5l-1.8-.6l.7 1.8l1.7 .2z" color="#239"/>
<path d="M438.2 90.2l.6-1.2l-4.4-.8l-.2 1.2z" color="#4b5"/>
<path d="M444 88.5l.9-1.2l-5.2-.3l-.4 .9z" color="#6b3"/>
<path d="M507.9 91l1.5-.5l-.2-2.2l-1.4 .7z" color="#27b"/>
<path d="M413.3 88.9l.2-.1l4.5-1l-.5 .1z" color="#268"/>
<path d="M397.4 85.5l-.7-.3l5.9 2.6l.3 .1z" color="#372"/>
<path d="M547.8 84.6l-.2-.9l-4.6 4.2l.3 .5z" color="#d42"/>
<path d="M515.5 86.2l-.6-.2l1.9 2.1l.7 .3z" color="#372"/>
<path d="M509.4 90.5l1.4-.5l-.4-2.3l-1.2 .6z" color="#395"/>
<path d="M388.2 90l.8-.2l3.7-3l-1.2 .5z" color="#384"/>
<path d="M468.7 92.9l1.7-1.5l-2-.9l-1.1 1.8z" color="#23b"/>
<path d="M488.2 89.9l-1.5-.6l.8 2.1l1.4 .3z" color="#24a"/>
<path d="M434 90.8l.2-1.4l-4.2-.6l.3 1.7z" color="#3bb"/>
<path d="M457.8 90.4l-1.2-1.2l-2.1 1.6l1.6 1z" color="#25b"/>
<path d="M424.6 87.2l-.3-.8l-4.2 2.1l.5 .7z" color="#6b3"/>
<path d="M510.8 90l1.3-.5l-.7-2.3l-1 .5z" color="#493"/>
<path d="M462.3 92.3l-1.2-1.7l-1.9 1l1.8 1.4z" color="#23a"/>
<path d="M521.4 89.4l-1.1-.2l3.9 1.6l.5-.1z" color="#238"/>
<path d="M396.7 85.2l-.5-.3l6.2 2.9l.2 0z" color="#472"/>
<path d="M514.9 86l-.5-.3l1.8 2.1l.6 .3z" color="#472"/>
<path d="M486.7 89.3l-1.4-.6l1 2.4l1.2 .3z" color="#26a"/>
<path d="M512.1 89.5l1.1-.6l-1-2.3l-.8 .6z" color="#493"/>
<path d="M403.8 88.1l-.5-.1l4.9 .9l.2 .1z" color="#277"/>
<path d="M548 85.7l-.2-1.1l-4.5 3.8l.4 .7z" color="#d72"/>
<path d="M471.7 92.7l1.7-1l-1.5-1.7l-1.5 1.4z" color="#24b"/>
<path d="M389 89.8l.7-.2l4.1-3.3l-1.1 .5z" color="#383"/>
<path d="M513.2 88.9l1-.5l-1.3-2.2l-.7 .4z" color="#593"/>
<path d="M443 89.8l1-1.3l-4.7-.6l-.5 1.1z" color="#5b4"/>
<path d="M531.6 91.1l.5 .2l3.2-.8l-.9-.1z" color="#128"/>
<path d="M485.3 88.7l-1.2-.5l1.1 2.5l1.1 .4z" color="#385"/>
<path d="M525.3 90.5l-.6 .2l3.6 .7l.1-.3z" color="#127"/>
<path d="M536.1 90.6l.7-.1l3.2-1.7l-1 .2z" color="#249"/>
<path d="M514.2 88.4l.9-.5l-1.6-2.1l-.6 .4z" color="#7a3"/>
<path d="M514.4 85.7l-.4-.2l1.7 2.1l.5 .2z" color="#582"/>
<path d="M425.1 88.1l-.5-.9l-4 2l.7 .8z" color="#5a3"/>
<path d="M382.7 91.6l.7 .1l2.9-1.4l-1.1 0z" color="#238"/>
<path d="M408.6 88.9l-.2 .1l5.1-.2l-.2 .1z" color="#258"/>
<path d="M552 89.3l-1.2-1.4l-2.5-.9l.4 1.4z" color="#6b3"/>
<path d="M402.3 88.3l.1-.5l-6.2-2.9l.1 .9z" color="#d42"/>
<path d="M515.1 87.9l.6-.3l-1.7-2.1l-.5 .3z" color="#a82"/>
<path d="M484.1 88.2l-1-.6l1.1 2.8l1 .3z" color="#383"/>
<path d="M413.5 88.8l.2-.1l4.7-1l-.4 .1z" color="#275"/>
<path d="M430.3 90.5l-.3-1.7l-3.8 1.6l.6 1.3z" color="#3ab"/>
<path d="M437.5 91.5l.7-1.3l-4-.8l-.2 1.4z" color="#3ad"/>
<path d="M389.7 89.6l.5-.2l4.6-3.6l-1 .5z" color="#483"/>
<path d="M459.2 91.6l-1.4-1.2l-1.7 1.4l1.8 1z" color="#23a"/>
<path d="M501.3 92.7l1.9 .3l1.1-1.3l-2.3 .1z" color="#229"/>
<path d="M483.1 87.6l-.9-.5l1.3 3l.7 .3z" color="#483"/>
<path d="M482.2 87.1l-.7-.4l1.3 3.1l.7 .3z" color="#482"/>
<path d="M403.3 88l-.4-.1l5.2 1l.1 0z" color="#274"/>
<path d="M548.3 87l-.3-1.3l-4.3 3.4l.4 .8z" color="#8c3"/>
<path d="M379.7 92.2l-.3-.4l-1.1 .1z" color="#127"/>
<path d="M528.4 91.1l-.1 .3l3.8-.1l-.5-.2z" color="#127"/>
<path d="M390.2 89.4l.4-.2l5-3.9l-.8 .5z" color="#482"/>
<path d="M492.7 92l-2.1-.1l1.3 1.3l1.8-.4z" color="#228"/>
<path d="M481.5 86.7l-.6-.4l1.3 3.2l.6 .3z" color="#582"/>
<path d="M381.9 91.3l-2.5 .5l.3 .4l.1 .1l2.9-.7z" color="#128"/>
<path d="M520.3 89.2l-1-.2l4.4 1.8l.5 0z" color="#258"/>
<path d="M480.9 86.3l-.4-.2l1.3 3.2l.4 .2z" color="#682"/>
<path d="M425.6 89.2l-.5-1.1l-3.8 1.9l.7 1z" color="#4a3"/>
<path d="M402.2 89l.1-.7l-6-2.5l.1 1.1z" color="#d72"/>
<path d="M536.8 90.5l.6 0l3.4-1.9l-.8 .2z" color="#278"/>
<path d="M481.4 89.6l.4-.3l-1.3-3.2l-.4 .3z" color="#9a3"/>
<path d="M441.9 91.1l1.1-1.3l-4.2-.8l-.6 1.2z" color="#4b4"/>
<path d="M390.6 89.2l.4-.1l5.2-4.2l-.6 .4z" color="#582"/>
<path d="M480.8 90l.6-.4l-1.3-3.2l-.6 .6z" color="#7a3"/>
<path d="M469.6 93.7l2.1-1l-1.3-1.3l-1.7 1.5z" color="#23a"/>
<path d="M433.8 92.3l.2-1.5l-3.7-.3l.3 1.6z" color="#26d"/>
<path d="M413.7 88.7l.2-.1l4.8-1l-.3 .1z" color="#273"/>
<path d="M480.1 90.5l.7-.5l-1.3-3l-.6 .5z" color="#5a3"/>
<path d="M402.9 87.9l-.3-.1l5.4 1.1l.1 0z" color="#273"/>
<path d="M383.4 91.7l.6 .1l3.4-1.6l-1.1 .1z" color="#239"/>
<path d="M408.4 89l-.2-.1l5.5-.2l-.2 .1z" color="#276"/>
<path d="M479.2 91l.9-.5l-1.2-3l-.8 .7z" color="#5a3"/>
<path d="M461 93l-1.8-1.4l-1.3 1.2l2.3 1.1z" color="#23a"/>
<path d="M396.3 85.8l-.1-.9l-5.2 4.2l.2 .5z" color="#d42"/>
<path d="M503.2 93l1.5 0l1.5-1.6l-1.9 .3z" color="#229"/>
<path d="M524.7 90.7l-.5 .1l4 .7l.1-.1z" color="#138"/>
<path d="M532.1 91.3l.4 .2l3.6-.9l-.8-.1z" color="#238"/>
<path d="M553.3 90.7l-1.3-1.4l-3.3-.9l.4 1.5z" color="#5b4"/>
<path d="M548.7 88.4l-.4-1.4l-4.2 2.9l.5 .9z" color="#6b3"/>
<path d="M478.2 91.6l1-.6l-1.1-2.8l-.9 .8z" color="#4a3"/>
<path d="M447.4 85.1l-.6-.6l1.3 5.4l.4 .3z" color="#a31"/>
<path d="M537.4 90.5l.6-.1l3.6-2l-.8 .2z" color="#275"/>
<path d="M447.7 90.3l.4-.4l-1.3-5.4l-.5 .8z" color="#c32"/>
<path d="M448.3 85.9l-.9-.8l1.1 5.1l.7 .4z" color="#a62"/>
<path d="M402.1 89.9l.1-.9l-5.8-2.1l.2 1.2z" color="#9c3"/>
<path d="M426.2 90.4l-.6-1.2l-3.6 1.8l1 1z" color="#3a5"/>
<path d="M436.8 92.8l.7-1.3l-3.5-.7l-.2 1.5z" color="#25d"/>
<path d="M402.6 87.8l-.2 0l5.5 1l.1 .1z" color="#372"/>
<path d="M477 92.2l1.2-.6l-1-2.6l-1.1 .9z" color="#3a5"/>
<path d="M430.6 92.1l-.3-1.6l-3.5 1.2l.8 1.3z" color="#25d"/>
<path d="M519.3 89l-1-.3l4.9 2l.5 .1z" color="#275"/>
<path d="M449.2 86.8l-.9-.9l.9 4.7l.7 .4z" color="#793"/>
<path d="M490.6 91.9l-1.7-.2l1.6 1.5l1.4 0z" color="#228"/>
<path d="M413.9 88.6l.1-.1l5-.9l-.3 0z" color="#372"/>
<path d="M450.3 87.7l-1.1-.9l.7 4.2l.8 .5z" color="#593"/>
<path d="M379.8 92.3l1 .1l2.6-.7l-.7-.1z" color="#128"/>
<path d="M475.7 92.8l1.3-.6l-.9-2.3l-1.3 .8z" color="#39b"/>
<path d="M447.1 90.8l.6-.5l-1.4-5l-.7 .9z" color="#c72"/>
<path d="M396.4 86.9l-.1-1.1l-5.1 3.8l.3 .7z" color="#d72"/>
<path d="M440.7 92.5l1.2-1.4l-3.7-.9l-.7 1.3z" color="#3bb"/>
<path d="M500 93.4l1.4 .5l1.8-.9l-1.9-.3z" color="#228"/>
<path d="M451.6 88.8l-1.3-1.1l.4 3.8l1 .5z" color="#493"/>
<path d="M407.6 89.3l.3-.5l-5.5-1l-.1 .5z" color="#bc3"/>
<path d="M384 91.8l.6-.1l3.6-1.7l-.8 .2z" color="#249"/>
<path d="M538 90.4l.4-.1l3.7-2.1l-.5 .2z" color="#273"/>
<path d="M408.2 88.9l-.1 0l5.8-.3l-.2 .1z" color="#274"/>
<path d="M504.7 93l1.2 0l2-2l-1.7 .4z" color="#239"/>
<path d="M528.3 91.4l-.1 .1l4.3 0l-.4-.2z" color="#138"/>
<path d="M474.1 93.5l1.6-.7l-.9-2.1l-1.4 1z" color="#25b"/>
<path d="M493.7 92.8l-1.8 .4l2.2 .8l1-.6z" color="#128"/>
<path d="M453 89.8l-1.4-1l.1 3.2l1.2 .6z" color="#393"/>
<path d="M446.5 91.4l.6-.6l-1.5-4.6l-.7 1.1z" color="#8b3"/>
<path d="M414 88.5l.1-.1l5.2-.9l-.3 .1z" color="#372"/>
<path d="M549.1 89.9l-.4-1.5l-4.1 2.4l.6 1.1z" color="#5b4"/>
<path d="M454.5 90.8l-1.5-1l-.1 2.8l1.4 .6z" color="#299"/>
<path d="M401.9 90.9l.2-1l-5.5-1.8l.1 1.5z" color="#6b3"/>
<path d="M518.3 88.7l-.8-.3l5.4 2.3l.3 0z" color="#273"/>
<path d="M524.2 90.8l-.5 0l4.4 .8l.1-.1z" color="#238"/>
<path d="M472.3 94.1l1.8-.6l-.7-1.8l-1.7 1z" color="#23a"/>
<path d="M426.8 91.7l-.6-1.3l-3.2 1.6l1 1.1z" color="#39c"/>
<path d="M407.3 90l.3-.7l-5.3-1l-.1 .7z" color="#8c3"/>
<path d="M538.4 90.3l.3-.1l4-2.2l-.6 .2z" color="#373"/>
<path d="M532.5 91.5l.5 0l3.8-1l-.7 .1z" color="#248"/>
<path d="M396.6 88.1l-.2-1.2l-4.9 3.4l.3 .8z" color="#8c3"/>
<path d="M488.9 91.7l-1.4-.3l1.8 1.8l1.2 0z" color="#239"/>
<path d="M456.1 91.8l-1.6-1l-.2 2.4l1.5 .6z" color="#25b"/>
<path d="M433.5 93.9l.3-1.6l-3.2-.2l.3 1.8z" color="#24c"/>
<path d="M553.8 92.1l.1-.7l-.6-.7l-4.2-.8l.4 1.6z" color="#4b4"/>
<path d="M419.6 87.9l-.3-.4l-5.2 .9l.6 .6z" color="#b31"/>
<path d="M505.9 93l1.1-.2l2.4-2.3l-1.5 .5z" color="#25a"/>
<path d="M445.7 92.1l.8-.7l-1.6-4.1l-.9 1.2z" color="#6b3"/>
<path d="M408.1 88.9l-.1 0l6-.4l-.1 .1z" color="#372"/>
<path d="M384.6 91.7l.5 0l3.9-1.9l-.8 .2z" color="#278"/>
<path d="M470 94.7l2.3-.6l-.6-1.4l-2.1 1z" color="#23a"/>
<path d="M538.7 90.2l.3-.1l4-2.2l-.3 .1z" color="#372"/>
<path d="M457.9 92.8l-1.8-1l-.3 2l1.9 .5z" color="#23a"/>
<path d="M420.1 88.5l-.5-.6l-4.9 1.1l.9 .8z" color="#b62"/>
<path d="M498.5 93.7l.6 .8l2.3-.6l-1.4-.5z" color="#128"/>
<path d="M380.8 92.4l.9 0l2.3-.6l-.6-.1z" color="#238"/>
<path d="M439.4 93.8l1.3-1.3l-3.2-1l-.7 1.3z" color="#26d"/>
<path d="M407 90.8l.3-.8l-5.1-1l-.1 .9z" color="#6b3"/>
<path d="M435.9 94.4l.9-1.6l-3-.5l-.3 1.6z" color="#24c"/>
<path d="M495.1 93.4l-1 .6l2.4 .5l.2-.7z" color="#128"/>
<path d="M517.5 88.4l-.7-.3l5.8 2.5l.3 .1z" color="#372"/>
<path d="M430.9 93.9l-.3-1.8l-3 .9l.9 1.5z" color="#24b"/>
<path d="M460.2 93.9l-2.3-1.1l-.2 1.5l2.3 .6z" color="#239"/>
<path d="M543.3 88.4l-.3-.5l-4 2.2l.4 .5z" color="#ab3"/>
<path d="M420.6 89.2l-.5-.7l-4.5 1.3l.9 .8z" color="#7a3"/>
<path d="M444.7 92.9l1-.8l-1.7-3.6l-1 1.3z" color="#5a3"/>
<path d="M507 92.8l1-.1l2.8-2.7l-1.4 .5z" color="#289"/>
<path d="M487.5 91.4l-1.2-.3l1.8 2l1.2 .1z" color="#259"/>
<path d="M501.4 93.9l1 .3l2.3-1.2l-1.5 0z" color="#228"/>
<path d="M396.7 89.6l-.1-1.5l-4.8 3l.4 .9z" color="#6b3"/>
<path d="M553.8 92.1l1 .2l-.9-.9z" color="#4b5"/>
<path d="M528.2 91.5l-.1 .1l4.9-.1l-.5 0z" color="#238"/>
<path d="M496.7 93.8l-.2 .7l2.6 0l-.6-.8z" color="#128"/>
<path d="M408 88.9l-.1-.1l6.2-.4l-.1 .1z" color="#372"/>
<path d="M523.7 90.8l-.5-.1l4.9 .9z" color="#258"/>
<path d="M401.7 92l.2-1.1l-5.2-1.3l.2 1.5z" color="#5b4"/>
<path d="M427.6 93l-.8-1.3l-2.8 1.4l1.2 1.1z" color="#25c"/>
<path d="M549.5 91.5l-.4-1.6l-3.9 2l.7 1.2z" color="#4b4"/>
<path d="M385.1 91.7l.4-.1l4.2-2l-.7 .2z" color="#275"/>
<path d="M543.7 89.1l-.4-.7l-3.9 2.2l.5 .6z" color="#8b3"/>
<path d="M533 91.5l.3 0l4.1-1l-.6 0z" color="#268"/>
<path d="M421.3 90l-.7-.8l-4.1 1.4l1.1 1z" color="#5a3"/>
<path d="M516.8 88.1l-.6-.3l6.2 2.7l.2 .1z" color="#372"/>
<path d="M491.9 93.2l-1.4 0l2.7 1.2l.9-.4z" color="#128"/>
<path d="M406.5 91.8l.5-1l-4.9-.9l-.2 1z" color="#5b4"/>
<path d="M413.6 89.1l.5-.7l-6.2 .4l-.3 .5z" color="#d42"/>
<path d="M508 92.7l.8-.2l3.3-3l-1.3 .5z" color="#384"/>
<path d="M553.8 93.5l0-1.4l-4.3-.6l.5 1.7z" color="#3bb"/>
<path d="M443.6 93.7l1.1-.8l-1.7-3.1l-1.1 1.3z" color="#4a4"/>
<path d="M544.1 89.9l-.4-.8l-3.8 2.1l.6 .7z" color="#6b3"/>
<path d="M468.7 92.9l-1.4-.6l-1.7-.3l-1.7 0l-1.6 .3l-1.3 .7l-.8 .9l-.2 1l.4 .9l.9 .9l1.4 .6l1.6 .3l1.8 0l1.6-.4l1.2-.6l.9-.9l.2-1l-.4-1z" color="#229"/>
<path d="M385.5 91.6l.3-.1l4.4-2.1l-.5 .2z" color="#273"/>
<path d="M381.7 92.4l.8-.1l2.1-.6l-.6 .1z" color="#248"/>
<path d="M486.3 91.1l-1.1-.4l1.9 2.2l1 .2z" color="#277"/>
<path d="M422 91l-.7-1l-3.7 1.6l1.3 1z" color="#4a3"/>
<path d="M516.2 87.8l-.5-.2l6.5 2.8l.2 .1z" color="#472"/>
<path d="M523.2 90.7l-.3 0l5.1 .9l.1 0z" color="#277"/>
<path d="M437.9 95.2l1.5-1.4l-2.6-1l-.9 1.6z" color="#24b"/>
<path d="M412.9 90.1l.7-1l-6 .2l-.3 .7z" color="#d72"/>
<path d="M508.8 92.5l.8-.2l3.6-3.4l-1.1 .6z" color="#383"/>
<path d="M396.9 91.1l-.2-1.5l-4.5 2.4l.5 1.1z" color="#5b4"/>
<path d="M556.8 94.1l-2-1.8l-1-.2l0 1.4z" color="#3ad"/>
<path d="M385.8 91.5l.3-.1l4.5-2.2l-.4 .2z" color="#373"/>
<path d="M544.6 90.8l-.5-.9l-3.6 2l.7 .8z" color="#5a3"/>
<path d="M502.4 94.2l.9 .2l2.6-1.4l-1.2 0z" color="#238"/>
<path d="M528.1 91.6l5.2-.1l-.3 0z" color="#258"/>
<path d="M406 92.9l.5-1.1l-4.6-.9l-.2 1.1z" color="#5b4"/>
<path d="M522.1 91l.1-.6l-6.5-2.8l.2 .8z" color="#d42"/>
<path d="M433.1 95.8l.4-1.9l-2.6 0l.4 1.9z" color="#23b"/>
<path d="M401.4 93.3l.3-1.3l-4.8-.9l.3 1.6z" color="#4b4"/>
<path d="M533.3 91.5l.4-.1l4.3-1l-.6 .1z" color="#275"/>
<path d="M428.5 94.5l-.9-1.5l-2.4 1.2l1.4 1.3z" color="#23b"/>
<path d="M442.3 94.6l1.3-.9l-1.7-2.6l-1.2 1.4z" color="#3ab"/>
<path d="M423 92l-1-1l-3.1 1.6l1.4 1.1z" color="#393"/>
<path d="M550 93.2l-.5-1.7l-3.6 1.6l.9 1.2z" color="#3ab"/>
<path d="M485.2 90.7l-1-.3l1.9 2.2l1 .3z" color="#373"/>
<path d="M509.6 92.3l.5-.2l4.1-3.7l-1 .5z" color="#483"/>
<path d="M386.1 91.4l.2 0l4.7-2.3l-.4 .1z" color="#372"/>
<path d="M469.8 95.7l2.3-.2l.2-1.4l-2.3 .6z" color="#239"/>
<path d="M499.1 94.5l.5 .5l2.8-.8l-1-.3z" color="#128"/>
<path d="M412.1 91.2l.8-1.1l-5.6-.1l-.3 .8z" color="#9c3"/>
<path d="M382.5 92.3l.7-.1l1.9-.5l-.5 0z" color="#268"/>
<path d="M434.7 96.1l1.2-1.7l-2.4-.5l-.4 1.9z" color="#23b"/>
<path d="M494.1 94l-.9 .4l3.1 .6l.2-.5z" color="#127"/>
<path d="M522.9 90.7l-.3-.1l5.4 1z" color="#274"/>
<path d="M490.5 93.2l-1.2 0l3.3 1.4l.6-.2z" color="#138"/>
<path d="M431.3 95.8l-.4-1.9l-2.4 .6l1.2 1.7z" color="#23a"/>
<path d="M510.1 92.1l.5-.2l4.5-4l-.9 .5z" color="#482"/>
<path d="M472.1 95.5l1.9-.3l.1-1.7l-1.8 .6z" color="#23a"/>
<path d="M391.2 89.6l-.2-.5l-4.7 2.3l.3 .4z" color="#ab3"/>
<path d="M460 94.9l-2.3-.6l.5 1.5l2.2 0z" color="#229"/>
<path d="M545.2 91.9l-.6-1.1l-3.4 1.9l.9 .9z" color="#4a3"/>
<path d="M522.1 91.7l0-.7l-6.2-2.6l.2 1.2z" color="#d72"/>
<path d="M484.2 90.4l-.7-.3l1.8 2.2l.8 .3z" color="#372"/>
<path d="M424 93.1l-1-1.1l-2.7 1.7l1.5 1z" color="#39a"/>
<path d="M510.6 91.9l.4-.1l4.7-4.2l-.6 .3z" color="#582"/>
<path d="M553.7 94.9l.1-1.4l-3.8-.3l.5 1.6z" color="#26d"/>
<path d="M496.5 94.5l-.2 .5l3.3 0l-.5-.5z" color="#127"/>
<path d="M474 95.2l1.6-.3l.1-2.1l-1.6 .7z" color="#24a"/>
<path d="M440.9 95.5l1.4-.9l-1.6-2.1l-1.3 1.3z" color="#25c"/>
<path d="M533.7 91.4l.2-.1l4.5-1l-.4 .1z" color="#273"/>
<path d="M397.2 92.7l-.3-1.6l-4.2 2l.6 1.2z" color="#4b4"/>
<path d="M391.5 90.3l-.3-.7l-4.6 2.2l.5 .6z" color="#8b3"/>
<path d="M522.6 90.6l-.2-.1l5.5 1l.1 .1z" color="#273"/>
<path d="M503.3 94.4l.7 0l3-1.6l-1.1 .2z" color="#239"/>
<path d="M457.7 94.3l-1.9-.5l.7 1.8l1.7 .2z" color="#239"/>
<path d="M405.4 94.1l.6-1.2l-4.3-.9l-.3 1.3z" color="#4b5"/>
<path d="M411.2 92.4l.9-1.2l-5.1-.4l-.5 1z" color="#6b3"/>
<path d="M528.1 91.6l-.1 0l5.7-.2l-.4 .1z" color="#276"/>
<path d="M475.6 94.9l1.5-.5l-.1-2.2l-1.3 .6z" color="#27b"/>
<path d="M383.2 92.2l.5-.1l1.8-.5l-.4 .1z" color="#275"/>
<path d="M515.9 88.4l-.2-.8l-4.7 4.2l.2 .5z" color="#d42"/>
<path d="M483.5 90.1l-.7-.3l1.7 2.2l.8 .3z" color="#372"/>
<path d="M477.1 94.4l1.4-.5l-.3-2.3l-1.2 .6z" color="#395"/>
<path d="M436.1 96.7l1.8-1.5l-2-.8l-1.2 1.7z" color="#23b"/>
<path d="M455.8 93.8l-1.5-.6l.8 2.1l1.4 .3z" color="#24a"/>
<path d="M401.2 94.7l.2-1.4l-4.2-.6l.2 1.7z" color="#3bb"/>
<path d="M522 92.5l.1-.8l-6-2.1l.3 1.2z" color="#9c3"/>
<path d="M425.2 94.2l-1.2-1.1l-2.2 1.6l1.6 1z" color="#25b"/>
<path d="M545.9 93.1l-.7-1.2l-3.1 1.7l1 1.1z" color="#3a5"/>
<path d="M391.8 91.1l-.3-.8l-4.4 2.1l.5 .7z" color="#6b3"/>
<path d="M556.8 95.5l.5-1.1l-.5-.3l-3-.6l-.1 1.4z" color="#25d"/>
<path d="M522.4 90.5l-.2-.1l5.7 1.1z" color="#372"/>
<path d="M478.5 93.9l1.3-.6l-.6-2.3l-1 .6z" color="#493"/>
<path d="M550.5 94.8l-.5-1.6l-3.2 1.1l.9 1.4z" color="#25d"/>
<path d="M429.7 96.2l-1.2-1.7l-1.9 1l1.8 1.4z" color="#23a"/>
<path d="M489.3 93.2l-1.2-.1l3.9 1.5l.6 0z" color="#238"/>
<path d="M533.9 91.3l.3-.1l4.5-1l-.3 .1z" color="#372"/>
<path d="M482.8 89.8l-.6-.3l1.7 2.2l.6 .3z" color="#472"/>
<path d="M454.3 93.2l-1.4-.6l.9 2.4l1.3 .3z" color="#26a"/>
<path d="M479.8 93.3l1.1-.5l-.8-2.3l-.9 .5z" color="#493"/>
<path d="M516.1 89.6l-.2-1.2l-4.7 3.9l.4 .7z" color="#d72"/>
<path d="M383.7 92.1l.5-.1l1.6-.5l-.3 .1z" color="#273"/>
<path d="M439.2 96.5l1.7-1l-1.5-1.7l-1.5 1.4z" color="#24b"/>
<path d="M480.9 92.8l1-.5l-1.1-2.3l-.7 .5z" color="#593"/>
<path d="M410.2 93.7l1-1.3l-4.7-.6l-.5 1.1z" color="#5b4"/>
<path d="M499.6 95l.4 .2l3.3-.8l-.9-.2z" color="#128"/>
<path d="M452.9 92.6l-1.2-.6l1 2.6l1.1 .4z" color="#385"/>
<path d="M527.7 92l.2-.5l-5.7-1.1l-.1 .6z" color="#bc3"/>
<path d="M493.2 94.4l-.6 .2l3.6 .6l.1-.2z" color="#127"/>
<path d="M504 94.4l.7 0l3.3-1.7l-1 .1z" color="#249"/>
<path d="M528 91.6l5.9-.3l-.2 .1z" color="#274"/>
<path d="M481.9 92.3l.9-.5l-1.4-2.2l-.6 .4z" color="#7a3"/>
<path d="M482.2 89.5l-.4-.2l1.6 2.2l.5 .2z" color="#582"/>
<path d="M392.2 92l-.4-.9l-4.2 2l.7 .8z" color="#5a3"/>
<path d="M482.8 91.8l.6-.3l-1.6-2.2l-.4 .3z" color="#a82"/>
<path d="M451.7 92l-1-.5l1 2.8l1 .3z" color="#383"/>
<path d="M397.4 94.4l-.2-1.7l-3.9 1.6l.6 1.2z" color="#3ab"/>
<path d="M404.7 95.4l.7-1.3l-4-.8l-.2 1.4z" color="#3ad"/>
<path d="M426.6 95.5l-1.4-1.3l-1.8 1.5l1.8 1z" color="#23a"/>
<path d="M534.2 91.2l.2-.1l4.6-1l-.3 .1z" color="#372"/>
<path d="M468.9 96.6l1.9 .2l1.3-1.3l-2.3 .2z" color="#229"/>
<path d="M450.7 91.5l-.8-.5l1 3l.8 .3z" color="#483"/>
<path d="M522 93.5l0-1l-5.6-1.7l.3 1.4z" color="#6b3"/>
<path d="M384.2 92l.4-.1l1.5-.5l-.3 .1z" color="#372"/>
<path d="M546.8 94.3l-.9-1.2l-2.8 1.6l1.1 1.1z" color="#39c"/>
<path d="M527.4 92.7l.3-.7l-5.6-1l0 .7z" color="#8c3"/>
<path d="M449.9 91l-.7-.4l1 3.1l.7 .3z" color="#482"/>
<path d="M516.4 90.8l-.3-1.2l-4.5 3.4l.4 .8z" color="#8c3"/>
<path d="M553.6 96.6l.1-1.7l-3.2-.1l.6 1.8z" color="#24c"/>
<path d="M496.3 95l-.1 .2l3.8 0l-.4-.2z" color="#127"/>
<path d="M460.4 95.8l-2.2 0l1.3 1.2l1.8-.3z" color="#228"/>
<path d="M449.2 90.6l-.7-.4l1.2 3.2l.5 .3z" color="#582"/>
<path d="M539.4 90.6l-.4-.5l-4.6 1l.6 .6z" color="#b31"/>
<path d="M488.1 93.1l-1-.2l4.4 1.8l.5-.1z" color="#258"/>
<path d="M448.5 90.2l-.4-.3l1.2 3.3l.4 .2z" color="#682"/>
<path d="M392.7 93.1l-.5-1.1l-3.9 1.9l.7 1z" color="#4a3"/>
<path d="M528 91.6l-.1-.1l6.3-.3l-.3 .1z" color="#372"/>
<path d="M504.7 94.4l.6 0l3.5-1.9l-.8 .2z" color="#278"/>
<path d="M384.6 91.9l.3-.1l1.4-.4l-.2 0z" color="#372"/>
<path d="M448.8 93.5l.5-.3l-1.2-3.3l-.4 .4z" color="#9a3"/>
<path d="M409 95l1.2-1.3l-4.2-.8l-.6 1.2z" color="#4b4"/>
<path d="M448.2 93.9l.6-.4l-1.1-3.2l-.6 .5z" color="#7a3"/>
<path d="M539.9 91.2l-.5-.6l-4.4 1.1l.9 .8z" color="#b62"/>
<path d="M437 97.6l2.2-1.1l-1.3-1.3l-1.8 1.5z" color="#23a"/>
<path d="M400.9 96.2l.3-1.5l-3.8-.3l.2 1.6z" color="#26d"/>
<path d="M527.2 93.5l.2-.8l-5.3-1l-.1 .8z" color="#6b3"/>
<path d="M447.5 94.4l.7-.5l-1.1-3.1l-.6 .6z" color="#5a3"/>
<path d="M556.1 97.1l.7-1.6l-3.1-.6l-.1 1.7z" color="#24c"/>
<path d="M551.1 96.6l-.6-1.8l-2.8 .9l1.1 1.5z" color="#24b"/>
<path d="M386.6 91.8l-.3-.4l-1.4 .4l.3 .5z" color="#b31"/>
<path d="M446.6 94.9l.9-.5l-1-3l-.8 .7z" color="#5a3"/>
<path d="M428.4 96.9l-1.8-1.4l-1.4 1.2l2.3 1.1z" color="#23a"/>
<path d="M540.5 91.9l-.6-.7l-4 1.3l1 .8z" color="#7a3"/>
<path d="M470.8 96.8l1.5 .1l1.7-1.7l-1.9 .3z" color="#229"/>
<path d="M492.6 94.6l-.6 0l4 .8l.2-.2z" color="#138"/>
<path d="M556.8 95.5l2.9 1l.2-.3l-2.6-1.8z" color="#26d"/>
<path d="M500 95.2l.4 .2l3.6-1l-.7 0z" color="#238"/>
<path d="M516.7 92.2l-.3-1.4l-4.4 3l.5 .9z" color="#6b3"/>
<path d="M445.6 95.5l1-.6l-.9-2.8l-1 .8z" color="#4a3"/>
<path d="M414.7 89l-.6-.6l1.1 5.4l.5 .3z" color="#a31"/>
<path d="M527.9 91.5l6.5-.4l-.2 .1z" color="#372"/>
<path d="M521.9 94.7l.1-1.2l-5.3-1.3l.3 1.6z" color="#5b4"/>
<path d="M547.7 95.7l-.9-1.4l-2.6 1.5l1.3 1.1z" color="#25c"/>
<path d="M505.3 94.4l.5-.1l3.8-2l-.8 .2z" color="#275"/>
<path d="M414.8 94.2l.4-.4l-1.1-5.4l-.5 .7z" color="#c32"/>
<path d="M387.1 92.4l-.5-.6l-1.4 .5l.4 .7z" color="#b62"/>
<path d="M415.6 89.8l-.9-.8l1 5.1l.6 .4z" color="#a62"/>
<path d="M393.3 94.3l-.6-1.2l-3.7 1.8l.9 1z" color="#3a5"/>
<path d="M403.9 96.7l.8-1.3l-3.5-.7l-.3 1.5z" color="#25d"/>
<path d="M444.4 96.1l1.2-.6l-.9-2.6l-1.1 .8z" color="#3a5"/>
<path d="M397.6 96l-.2-1.6l-3.5 1.1l.7 1.4z" color="#25d"/>
<path d="M487.1 92.9l-1-.3l4.9 2l.5 .1z" color="#275"/>
<path d="M416.5 90.6l-.9-.8l.7 4.7l.7 .4z" color="#793"/>
<path d="M541.2 92.7l-.7-.8l-3.6 1.4l1.1 1z" color="#5a3"/>
<path d="M458.2 95.8l-1.7-.2l1.5 1.6l1.5-.2z" color="#228"/>
<path d="M526.8 94.5l.4-1l-5.2-1l0 1z" color="#5b4"/>
<path d="M417.6 91.6l-1.1-1l.5 4.3l.9 .5z" color="#593"/>
<path d="M443 96.7l1.4-.6l-.8-2.4l-1.3 .9z" color="#39b"/>
<path d="M414.2 94.7l.6-.5l-1.2-5.1l-.7 1z" color="#c72"/>
<path d="M533.9 91.8l.5-.7l-6.5 .4l-.2 .5z" color="#d42"/>
<path d="M407.8 96.4l1.2-1.4l-3.6-.9l-.7 1.3z" color="#3bb"/>
<path d="M467.7 97.2l1.2 .6l1.9-1l-1.9-.2z" color="#228"/>
<path d="M387.6 93.1l-.5-.7l-1.5 .6l.4 .8z" color="#7a3"/>
<path d="M418.9 92.6l-1.3-1l.3 3.8l1 .5z" color="#493"/>
<path d="M505.8 94.3l.4-.1l3.9-2.1l-.5 .2z" color="#273"/>
<path d="M472.3 96.9l1.2 0l2.1-2l-1.6 .3z" color="#239"/>
<path d="M496.2 95.2l-.2 .2l4.4 0l-.4-.2z" color="#138"/>
<path d="M441.5 97.4l1.5-.7l-.7-2.1l-1.4 .9z" color="#25b"/>
<path d="M461.3 96.7l-1.8 .3l2.1 1l1.1-.7z" color="#128"/>
<path d="M542.1 93.6l-.9-.9l-3.2 1.6l1.4 1z" color="#4a3"/>
<path d="M420.3 93.7l-1.4-1.1l0 3.3l1.2 .6z" color="#393"/>
<path d="M413.6 95.3l.6-.6l-1.3-4.6l-.8 1.1z" color="#8b3"/>
<path d="M558.4 97.9l1.3-1.4l-2.9-1l-.7 1.6z" color="#24b"/>
<path d="M533.3 92.8l.6-1l-6.2 .2l-.3 .7z" color="#d72"/>
<path d="M517 93.8l-.3-1.6l-4.2 2.5l.6 1.1z" color="#5b4"/>
<path d="M421.8 94.7l-1.5-1l-.2 2.8l1.4 .6z" color="#299"/>
<path d="M486.1 92.6l-.8-.3l5.3 2.3l.4 0z" color="#273"/>
<path d="M492 94.6l-.5 .1l4.4 .8l.1-.1z" color="#238"/>
<path d="M439.6 98l1.9-.6l-.6-1.9l-1.7 1z" color="#23a"/>
<path d="M393.9 95.5l-.6-1.2l-3.4 1.6l1.1 1.1z" color="#39c"/>
<path d="M506.2 94.2l.4-.1l4-2.2l-.5 .2z" color="#373"/>
<path d="M388.3 93.9l-.7-.8l-1.6 .7l.6 1z" color="#5a3"/>
<path d="M500.4 95.4l.3 0l4-1l-.7 0z" color="#248"/>
<path d="M456.5 95.6l-1.4-.3l1.6 1.8l1.3 .1z" color="#239"/>
<path d="M526.4 95.5l.4-1l-4.8-1l-.1 1.2z" color="#5b4"/>
<path d="M423.4 95.7l-1.6-1l-.3 2.4l1.5 .6z" color="#25b"/>
<path d="M400.5 97.8l.4-1.6l-3.3-.2l.3 1.8z" color="#24c"/>
<path d="M553.5 98.5l.1-1.9l-2.5 0l.7 1.9z" color="#23b"/>
<path d="M521.8 96l.1-1.3l-4.9-.9l.4 1.6z" color="#4b4"/>
<path d="M548.8 97.2l-1.1-1.5l-2.2 1.2l1.6 1.3z" color="#23b"/>
<path d="M543.1 94.7l-1-1.1l-2.7 1.7l1.4 1.1z" color="#393"/>
<path d="M473.5 96.9l1.1-.2l2.5-2.3l-1.5 .5z" color="#25a"/>
<path d="M412.7 96l.9-.7l-1.5-4.1l-.9 1.2z" color="#6b3"/>
<path d="M437.3 98.6l2.3-.6l-.4-1.5l-2.2 1.1z" color="#23a"/>
<path d="M506.6 94.1l.2 0l4.2-2.3l-.4 .1z" color="#372"/>
<path d="M425.2 96.7l-1.8-1l-.4 2l1.9 .5z" color="#23a"/>
<path d="M532.6 93.9l.7-1.1l-5.9-.1l-.2 .8z" color="#9c3"/>
<path d="M555.2 98.8l.9-1.7l-2.5-.5l-.1 1.9z" color="#23b"/>
<path d="M466.1 97.6l.5 .8l2.3-.6l-1.2-.6z" color="#128"/>
<path d="M406.5 97.7l1.3-1.3l-3.1-1l-.8 1.3z" color="#26d"/>
<path d="M551.8 98.5l-.7-1.9l-2.3 .6l1.4 1.7z" color="#23a"/>
<path d="M462.7 97.3l-1.1 .7l2.4 .4l.3-.8z" color="#128"/>
<path d="M402.9 98.3l1-1.6l-3-.5l-.4 1.6z" color="#24c"/>
<path d="M485.3 92.3l-.8-.3l5.8 2.5l.3 .1z" color="#372"/>
<path d="M511.2 92.3l-.2-.5l-4.2 2.3l.4 .4z" color="#ab3"/>
<path d="M427.5 97.8l-2.3-1.1l-.3 1.5l2.3 .6z" color="#239"/>
<path d="M397.9 97.8l-.3-1.8l-3 .9l.9 1.5z" color="#24b"/>
<path d="M389 94.9l-.7-1l-1.7 .9l.7 1.1z" color="#4a3"/>
<path d="M544.2 95.8l-1.1-1.1l-2.3 1.7l1.6 1z" color="#39a"/>
<path d="M411.7 96.8l1-.8l-1.5-3.6l-1 1.3z" color="#5a3"/>
<path d="M474.6 96.7l1-.1l2.9-2.7l-1.4 .5z" color="#289"/>
<path d="M455.1 95.3l-1.3-.3l1.7 2l1.2 .1z" color="#259"/>
<path d="M468.9 97.8l1 .3l2.4-1.2l-1.5-.1z" color="#228"/>
<path d="M496 95.4l-.1 .1l4.8-.1l-.3 0z" color="#238"/>
<path d="M464.3 97.6l-.3 .8l2.6 0l-.5-.8z" color="#128"/>
<path d="M491.5 94.7l-.5-.1l4.8 .9l.1 0z" color="#258"/>
<path d="M517.4 95.4l-.4-1.6l-3.9 2l.7 1.2z" color="#4b4"/>
<path d="M394.6 96.9l-.7-1.4l-2.9 1.5l1.1 1.1z" color="#25c"/>
<path d="M511.6 93l-.4-.7l-4 2.2l.5 .6z" color="#8b3"/>
<path d="M525.9 96.8l.5-1.3l-4.5-.8l-.1 1.3z" color="#4b5"/>
<path d="M531.8 95.1l.8-1.2l-5.4-.4l-.4 1z" color="#6b3"/>
<path d="M500.7 95.4l.4 0l4.2-1l-.6 0z" color="#268"/>
<path d="M559.7 96.5l1.8 1.7l1.1-.7l-2.7-1.3z" color="#25c"/>
<path d="M484.5 92l-.6-.3l6.1 2.7l.3 .1z" color="#372"/>
<path d="M459.5 97l-1.5 .2l2.7 1.1l.9-.3z" color="#128"/>
<path d="M556.7 99.4l1.7-1.5l-2.3-.8l-.9 1.7z" color="#23b"/>
<path d="M475.6 96.6l.8-.2l3.4-3.1l-1.3 .6z" color="#384"/>
<path d="M521.7 97.4l.1-1.4l-4.4-.6l.5 1.7z" color="#3bb"/>
<path d="M389.9 95.9l-.9-1l-1.7 1l.8 1.2z" color="#393"/>
<path d="M410.6 97.7l1.1-.9l-1.5-3.1l-1.2 1.3z" color="#4a4"/>
<path d="M545.5 96.9l-1.3-1.1l-1.8 1.6l1.6 1z" color="#25b"/>
<path d="M512 93.8l-.4-.8l-3.9 2.1l.6 .7z" color="#6b3"/>
<path d="M436.1 96.7l-1.4-.6l-1.6-.3l-1.8 0l-1.6 .4l-1.3 .7l-.9 .9l-.3 1l.3 1l.9 .8l1.4 .7l1.6 .3l1.8 0l1.6-.4l1.3-.7l.9-.9l.3-1l-.3-1z" color="#229"/>
<path d="M453.8 95l-1.1-.4l1.7 2.2l1.1 .2z" color="#277"/>
<path d="M550.2 98.9l-1.4-1.7l-1.7 1l1.9 1.4z" color="#23a"/>
<path d="M483.9 91.7l-.5-.2l6.4 2.9l.2 0z" color="#472"/>
<path d="M491 94.6l-.4 0l5.1 .9l.1 0z" color="#277"/>
<path d="M559.9 99.2l1.6-1l-1.8-1.7l-1.3 1.4z" color="#24b"/>
<path d="M404.9 99.2l1.6-1.5l-2.6-1l-1 1.6z" color="#24b"/>
<path d="M476.4 96.4l.7-.2l3.8-3.4l-1.1 .5z" color="#383"/>
<path d="M530.9 96.4l.9-1.3l-5-.6l-.4 1z" color="#5b4"/>
<path d="M512.5 94.7l-.5-.9l-3.7 2l.7 .8z" color="#5a3"/>
<path d="M469.9 98.1l.9 .2l2.7-1.4l-1.2 0z" color="#238"/>
<path d="M495.9 95.5l-.1 0l5.3-.1l-.4 0z" color="#258"/>
<path d="M489.8 94.9l0-.5l-6.4-2.9l.1 .8z" color="#d42"/>
<path d="M400 99.7l.5-1.9l-2.6 0l.4 2z" color="#23b"/>
<path d="M501.1 95.4l.3 0l4.4-1.1l-.5 .1z" color="#275"/>
<path d="M395.5 98.4l-.9-1.5l-2.5 1.2l1.4 1.3z" color="#23b"/>
<path d="M409.3 98.6l1.3-.9l-1.6-2.7l-1.2 1.4z" color="#3ab"/>
<path d="M517.9 97.1l-.5-1.7l-3.6 1.6l.8 1.3z" color="#3ab"/>
<path d="M452.7 94.6l-1-.3l1.7 2.2l1 .3z" color="#373"/>
<path d="M525.3 98.1l.6-1.3l-4.1-.8l-.1 1.4z" color="#3ad"/>
<path d="M547.1 98.2l-1.6-1.3l-1.5 1.5l2 1z" color="#23a"/>
<path d="M477.1 96.2l.5-.2l4.3-3.7l-1 .5z" color="#483"/>
<path d="M391 97l-1.1-1.1l-1.8 1.2l1 1.3z" color="#39a"/>
<path d="M466.6 98.4l.4 .5l2.9-.8l-1-.3z" color="#128"/>
<path d="M437 99.6l2.3-.1l.3-1.5l-2.3 .6z" color="#239"/>
<path d="M461.6 98l-.9 .3l3.1 .6l.2-.5z" color="#127"/>
<path d="M401.7 100.1l1.2-1.8l-2.4-.5l-.5 1.9z" color="#23b"/>
<path d="M490.6 94.6l-.3-.1l5.3 1l.1 0z" color="#274"/>
<path d="M458 97.2l-1.3-.1l3.3 1.4l.7-.2z" color="#138"/>
<path d="M398.3 99.8l-.4-2l-2.4 .6l1.1 1.8z" color="#23a"/>
<path d="M477.6 96l.5-.1l4.7-4.1l-.9 .5z" color="#482"/>
<path d="M439.3 99.5l1.9-.3l.3-1.8l-1.9 .6z" color="#23a"/>
<path d="M427.2 98.8l-2.3-.6l.4 1.5l2.2 .1z" color="#229"/>
<path d="M513.1 95.8l-.6-1.1l-3.5 1.9l.8 1z" color="#4a3"/>
<path d="M489.7 95.6l.1-.7l-6.3-2.6l.3 1.2z" color="#d72"/>
<path d="M451.7 94.3l-.8-.3l1.6 2.2l.9 .3z" color="#372"/>
<path d="M529.8 97.7l1.1-1.3l-4.5-.9l-.5 1.3z" color="#4b4"/>
<path d="M478.1 95.9l.4-.2l4.9-4.2l-.6 .3z" color="#582"/>
<path d="M557.8 100.3l2.1-1.1l-1.5-1.3l-1.7 1.5z" color="#23a"/>
<path d="M521.6 98.9l.1-1.5l-3.8-.3l.4 1.6z" color="#26d"/>
<path d="M464 98.4l-.2 .5l3.2 0l-.4-.5z" color="#127"/>
<path d="M441.2 99.2l1.6-.4l.2-2.1l-1.5 .7z" color="#24a"/>
<path d="M407.9 99.5l1.4-.9l-1.5-2.2l-1.3 1.3z" color="#25c"/>
<path d="M501.4 95.4l.2-.2l4.6-1l-.4 .1z" color="#273"/>
<path d="M490.3 94.5l-.3-.1l5.6 1.1z" color="#273"/>
<path d="M470.8 98.3l.7 .1l3.1-1.7l-1.1 .2z" color="#239"/>
<path d="M424.9 98.2l-1.9-.5l.6 1.8l1.7 .2z" color="#239"/>
<path d="M495.8 95.5l-.1 0l5.7-.1l-.3 0z" color="#276"/>
<path d="M442.8 98.8l1.5-.5l.1-2.2l-1.4 .6z" color="#27b"/>
<path d="M549 99.6l-1.9-1.4l-1.1 1.2l2.3 1.1z" color="#23a"/>
<path d="M483.5 92.3l-.1-.8l-4.9 4.2l.2 .5z" color="#d42"/>
<path d="M450.9 94l-.7-.3l1.6 2.3l.7 .2z" color="#372"/>
<path d="M535 91.7l-.6-.6l1.9 5.4l.4 .3z" color="#a31"/>
<path d="M444.3 98.3l1.4-.5l-.1-2.3l-1.2 .6z" color="#395"/>
<path d="M403 100.7l1.9-1.5l-2-.9l-1.2 1.8z" color="#23b"/>
<path d="M423 97.7l-1.5-.6l.6 2.1l1.5 .3z" color="#24a"/>
<path d="M535.9 96.9l.4-.4l-1.9-5.4l-.5 .7z" color="#c32"/>
<path d="M535.9 92.5l-.9-.8l1.7 5.1l.7 .4z" color="#a62"/>
<path d="M489.6 96.5l.1-.9l-5.9-2.1l.2 1.2z" color="#9c3"/>
<path d="M513.8 97l-.7-1.2l-3.3 1.8l1 1z" color="#3a5"/>
<path d="M524.7 99.4l.6-1.3l-3.6-.7l-.1 1.5z" color="#25d"/>
<path d="M490 94.4l-.2 0l5.7 1l.1 .1z" color="#372"/>
<path d="M445.7 97.8l1.3-.5l-.4-2.4l-1 .6z" color="#493"/>
<path d="M518.3 98.7l-.4-1.6l-3.3 1.2l.9 1.3z" color="#25d"/>
<path d="M536.9 93.3l-1-.8l1.5 4.7l.7 .4z" color="#793"/>
<path d="M396.6 100.2l-1.1-1.8l-2 1l1.8 1.4z" color="#23a"/>
<path d="M456.7 97.1l-1.2-.1l3.8 1.6l.7-.1z" color="#238"/>
<path d="M501.6 95.2l.2-.1l4.8-1l-.4 .1z" color="#372"/>
<path d="M390.2 99.7l1.9-1.6l-1.1-1.1l-1.9 1.4l.8 1.1z" color="#25b"/>
<path d="M450.2 93.7l-.5-.3l1.4 2.3l.7 .3z" color="#472"/>
<path d="M421.5 97.1l-1.4-.6l.7 2.4l1.3 .3z" color="#26a"/>
<path d="M447 97.3l1.2-.5l-.7-2.4l-.9 .5z" color="#493"/>
<path d="M538 94.3l-1.1-1l1.2 4.3l.8 .5z" color="#593"/>
<path d="M535.3 97.5l.6-.6l-2-5.1l-.6 1z" color="#c72"/>
<path d="M483.8 93.5l-.3-1.2l-4.8 3.9l.4 .7z" color="#d72"/>
<path d="M561.5 98.2l1 1.9l1.5-.6l-.9-1.8l-.5-.2z" color="#25b"/>
<path d="M528.7 99.1l1.1-1.4l-3.9-.9l-.6 1.3z" color="#3bb"/>
<path d="M406.1 100.5l1.8-1l-1.4-1.8l-1.6 1.5z" color="#24b"/>
<path d="M448.2 96.8l.9-.5l-.9-2.4l-.7 .5z" color="#593"/>
<path d="M467 98.9l.4 .3l3.4-.9l-.9-.2z" color="#128"/>
<path d="M539.4 95.3l-1.4-1l.9 3.8l1.1 .6z" color="#493"/>
<path d="M495.3 96l.2-.6l-5.7-1l0 .5z" color="#bc3"/>
<path d="M420.1 96.5l-1.2-.6l.8 2.7l1.1 .3z" color="#385"/>
<path d="M460.7 98.3l-.7 .2l3.5 .7l.3-.3z" color="#127"/>
<path d="M471.5 98.4l.6 0l3.5-1.8l-1 .1z" color="#249"/>
<path d="M495.7 95.5l-.1 0l6-.3l-.2 .2z" color="#274"/>
<path d="M449.1 96.3l.9-.5l-1.2-2.3l-.6 .4z" color="#7a3"/>
<path d="M449.7 93.4l-.4-.2l1.3 2.2l.5 .3z" color="#582"/>
<path d="M540.8 96.4l-1.4-1.1l.6 3.4l1.2 .5z" color="#393"/>
<path d="M450 95.8l.6-.4l-1.3-2.2l-.5 .3z" color="#a82"/>
<path d="M418.9 95.9l-1-.5l.8 2.9l1 .3z" color="#383"/>
<path d="M534.7 98l.6-.5l-2-4.7l-.7 1.1z" color="#8b3"/>
<path d="M501.8 95.1l.2-.1l4.8-.9l-.2 0z" color="#372"/>
<path d="M393.5 99.4l-1.4-1.3l-1.9 1.6l1.8 1z" color="#23a"/>
<path d="M436.1 100.5l1.9 .3l1.3-1.3l-2.3 .1z" color="#229"/>
<path d="M542.4 97.4l-1.6-1l.4 2.8l1.3 .6z" color="#299"/>
<path d="M417.9 95.4l-.9-.5l.9 3l.8 .4z" color="#483"/>
<path d="M489.5 97.5l.1-1l-5.6-1.8l.3 1.5z" color="#6b3"/>
<path d="M560.7 100.7l1.8-.6l-1-1.9l-1.6 1z" color="#23a"/>
<path d="M514.6 98.3l-.8-1.3l-3 1.6l1.1 1.1z" color="#39c"/>
<path d="M495.1 96.7l.2-.7l-5.5-1.1l-.1 .7z" color="#8c3"/>
<path d="M417 94.9l-.7-.4l.9 3.2l.7 .2z" color="#482"/>
<path d="M484 94.7l-.2-1.2l-4.7 3.4l.4 .8z" color="#8c3"/>
<path d="M544 98.4l-1.6-1l.1 2.4l1.6 .6z" color="#25b"/>
<path d="M521.4 100.5l.2-1.6l-3.3-.2l.6 1.8z" color="#24c"/>
<path d="M463.8 98.9l-.3 .3l3.9 0l-.4-.3z" color="#127"/>
<path d="M427.5 99.8l-2.2-.1l1.2 1.3l1.9-.4z" color="#228"/>
<path d="M416.3 94.5l-.6-.4l.9 3.3l.6 .3z" color="#582"/>
<path d="M507.2 94.5l-.4-.4l-4.8 .9l.7 .6z" color="#b31"/>
<path d="M564 99.5l1.4-.7l-.3-.5l-2-.6z" color="#39b"/>
<path d="M455.5 97l-1.1-.2l4.4 1.8l.5 0z" color="#258"/>
<path d="M533.9 98.7l.8-.7l-2.1-4.1l-.8 1.2z" color="#6b3"/>
<path d="M415.7 94.1l-.5-.3l1 3.4l.4 .2z" color="#682"/>
<path d="M495.6 95.5l6.2-.4l-.2 .1z" color="#372"/>
<path d="M472.1 98.4l.6-.1l3.7-1.9l-.8 .2z" color="#278"/>
<path d="M558.3 101.3l2.4-.6l-.8-1.5l-2.1 1.1z" color="#23a"/>
<path d="M415.8 97.5l.4-.3l-1-3.4l-.4 .4z" color="#9a3"/>
<path d="M546 99.4l-2-1l.1 2l1.8 .6z" color="#23a"/>
<path d="M507.7 95.1l-.5-.6l-4.5 1.1l.8 .8z" color="#b62"/>
<path d="M415.1 97.9l.7-.4l-1-3.3l-.6 .5z" color="#7a3"/>
<path d="M403.8 101.6l2.3-1.1l-1.2-1.3l-1.9 1.5z" color="#23a"/>
<path d="M527.5 100.5l1.2-1.4l-3.4-1l-.6 1.3z" color="#26d"/>
<path d="M494.8 97.5l.3-.8l-5.4-1.1l-.1 .9z" color="#6b3"/>
<path d="M414.4 98.3l.7-.4l-.9-3.2l-.6 .6z" color="#5a3"/>
<path d="M523.9 101l.8-1.6l-3.1-.5l-.2 1.6z" color="#24c"/>
<path d="M548.3 100.5l-2.3-1.1l-.1 1.6l2.4 .5z" color="#239"/>
<path d="M518.9 100.5l-.6-1.8l-2.8 .9l1 1.5z" color="#24b"/>
<path d="M413.5 98.9l.9-.6l-.8-3l-.9 .7z" color="#5a3"/>
<path d="M389.9 99.5l.3 .3l0-.1z" color="#25b"/>
<path d="M395.3 100.8l-1.8-1.4l-1.5 1.3l2.3 1z" color="#23a"/>
<path d="M508.3 95.8l-.6-.7l-4.2 1.3l1 .9z" color="#7a3"/>
<path d="M438 100.8l1.4 .1l1.8-1.7l-1.9 .3z" color="#229"/>
<path d="M460 98.5l-.7 .1l4.1 .8l.1-.2z" color="#138"/>
<path d="M533 99.5l.9-.8l-2.1-3.6l-.9 1.3z" color="#5a3"/>
<path d="M467.4 99.2l.3 .1l3.8-.9l-.7-.1z" color="#238"/>
<path d="M565.4 98.8l.7-.3l-1-.2z" color="#3a5"/>
<path d="M484.3 96.2l-.3-1.5l-4.5 3l.4 1z" color="#6b3"/>
<path d="M412.5 99.4l1-.5l-.8-2.9l-1 .8z" color="#4a3"/>
<path d="M495.6 95.5l-.1-.1l6.5-.4l-.2 .1z" color="#372"/>
<path d="M489.4 98.7l.1-1.2l-5.2-1.3l.3 1.5z" color="#5b4"/>
<path d="M515.5 99.6l-.9-1.3l-2.7 1.4l1.3 1.2z" color="#25c"/>
<path d="M472.7 98.3l.5 0l3.9-2.1l-.7 .2z" color="#275"/>
<path d="M411.3 100.1l1.2-.7l-.8-2.6l-1.1 .9z" color="#3a5"/>
<path d="M454.4 96.8l-1-.3l4.9 2.1l.5 0z" color="#275"/>
<path d="M509 96.6l-.7-.8l-3.8 1.5l1.2 1z" color="#5a3"/>
<path d="M425.3 99.7l-1.7-.2l1.4 1.6l1.5-.1z" color="#228"/>
<path d="M494.4 98.4l.4-.9l-5.2-1l-.1 1z" color="#5b4"/>
<path d="M409.9 100.7l1.4-.6l-.7-2.4l-1.3 .9z" color="#39b"/>
<path d="M501.5 95.8l.5-.8l-6.5 .4l-.2 .6z" color="#d42"/>
<path d="M434.8 101.2l1.2 .6l2-1l-1.9-.3z" color="#228"/>
<path d="M392 100.7l-1.8-1l0 .1l1.6 1.9z" color="#23a"/>
<path d="M531.9 100.4l1.1-.9l-2.1-3.1l-1.1 1.3z" color="#4a4"/>
<path d="M556.7 99.4l-1.5-.6l-1.7-.3l-1.7 0l-1.6 .4l-1.2 .7l-.7 .9l0 1l.5 1l1 .9l1.5 .6l1.8 .3l1.7 0l1.6-.4l1.2-.7l.7-.9l0-1l-.5-1z" color="#229"/>
<path d="M473.2 98.3l.4-.1l4-2.2l-.5 .2z" color="#273"/>
<path d="M439.4 100.9l1.2-.1l2.2-2l-1.6 .4z" color="#239"/>
<path d="M463.5 99.2l-.1 .2l4.3-.1l-.3-.1z" color="#138"/>
<path d="M408.4 101.3l1.5-.6l-.6-2.1l-1.4 .9z" color="#25b"/>
<path d="M509.8 97.6l-.8-1l-3.3 1.7l1.3 1z" color="#4a3"/>
<path d="M428.4 100.6l-1.9 .4l2.1 .9l1.2-.6z" color="#128"/>
<path d="M526.1 101.9l1.4-1.4l-2.8-1.1l-.8 1.6z" color="#24b"/>
<path d="M500.9 96.8l.6-1l-6.2 .2l-.2 .7z" color="#d72"/>
<path d="M484.6 97.7l-.3-1.5l-4.4 2.5l.6 1z" color="#5b4"/>
<path d="M453.4 96.5l-.9-.3l5.4 2.3l.4 .1z" color="#273"/>
<path d="M459.3 98.6l-.5 0l4.4 .9l.2-.1z" color="#238"/>
<path d="M406.5 102l1.9-.7l-.5-1.8l-1.8 1z" color="#23a"/>
<path d="M473.6 98.2l.3-.1l4.2-2.2l-.5 .1z" color="#373"/>
<path d="M467.7 99.3l.4 .1l4-1l-.6 0z" color="#248"/>
<path d="M423.6 99.5l-1.5-.3l1.6 1.9l1.3 0z" color="#239"/>
<path d="M493.9 99.5l.5-1.1l-4.9-.9l-.1 1.2z" color="#5b4"/>
<path d="M521.3 102.5l.1-2l-2.5 0l.6 2z" color="#23b"/>
<path d="M489.3 99.9l.1-1.2l-4.8-1l.3 1.7z" color="#4b4"/>
<path d="M516.5 101.1l-1-1.5l-2.3 1.3l1.5 1.2z" color="#23b"/>
<path d="M530.7 101.3l1.2-.9l-2.1-2.7l-1.1 1.4z" color="#3ab"/>
<path d="M510.8 98.6l-1-1l-2.8 1.7l1.4 1.1z" color="#393"/>
<path d="M440.6 100.8l1.1-.1l2.6-2.4l-1.5 .5z" color="#25a"/>
<path d="M558.3 102.3l2.3-.1l.1-1.5l-2.4 .6z" color="#239"/>
<path d="M404.1 102.6l2.4-.6l-.4-1.5l-2.3 1.1z" color="#23a"/>
<path d="M473.9 98.1l.3-.1l4.3-2.3l-.4 .2z" color="#372"/>
<path d="M500.2 97.8l.7-1l-5.8-.1l-.3 .8z" color="#9c3"/>
<path d="M523 102.8l.9-1.8l-2.5-.5l-.1 2z" color="#23b"/>
<path d="M433.2 101.6l.4 .8l2.4-.6l-1.2-.6z" color="#128"/>
<path d="M519.5 102.5l-.6-2l-2.4 .6l1.4 1.8z" color="#23a"/>
<path d="M429.8 101.3l-1.2 .6l2.4 .5l.4-.8z" color="#128"/>
<path d="M452.5 96.2l-.7-.2l5.7 2.5l.4 0z" color="#372"/>
<path d="M560.6 102.2l2-.3l-.1-1.8l-1.8 .6z" color="#23a"/>
<path d="M478.7 96.2l-.2-.5l-4.3 2.3l.3 .5z" color="#ab3"/>
<path d="M548.3 101.5l-2.4-.5l.8 1.4l2.1 .1z" color="#229"/>
<path d="M394 102.7l.3-1l-2.3-1l-.2 1l.7 .8z" color="#239"/>
<path d="M511.9 99.7l-1.1-1.1l-2.4 1.8l1.6 1z" color="#39a"/>
<path d="M441.7 100.7l.9-.1l3.1-2.8l-1.4 .5z" color="#289"/>
<path d="M422.1 99.2l-1.3-.3l1.7 2.1l1.2 .1z" color="#259"/>
<path d="M436 101.8l1 .3l2.4-1.2l-1.4-.1z" color="#228"/>
<path d="M463.4 99.4l-.2 .1l4.9-.1l-.4-.1z" color="#238"/>
<path d="M562.6 101.9l1.7-.4l-.3-2l-1.5 .6z" color="#24a"/>
<path d="M431.4 101.6l-.4 .8l2.6 0l-.4-.8z" color="#128"/>
<path d="M458.8 98.6l-.5 0l4.8 .9l.1 0z" color="#258"/>
<path d="M529.3 102.2l1.4-.9l-2-2.2l-1.2 1.4z" color="#25c"/>
<path d="M484.9 99.4l-.3-1.7l-4.1 2l.7 1.2z" color="#4b4"/>
<path d="M565.4 98.8l.5 2.3l1.5-.5l-.7-2l-.6-.1z" color="#395"/>
<path d="M479.1 96.9l-.4-.7l-4.2 2.3l.5 .6z" color="#8b3"/>
<path d="M545.9 101l-1.8-.6l.9 1.8l1.7 .2z" color="#239"/>
<path d="M493.4 100.7l.5-1.2l-4.5-.8l-.1 1.2z" color="#4b5"/>
<path d="M499.3 99l.9-1.2l-5.4-.3l-.4 .9z" color="#6b3"/>
<path d="M564.3 101.5l1.6-.4l-.5-2.3l-1.4 .7z" color="#27b"/>
<path d="M468.1 99.4l.2 0l4.4-1.1l-.6 .1z" color="#268"/>
<path d="M451.8 96l-.7-.3l6.1 2.7l.3 .1z" color="#372"/>
<path d="M426.5 101l-1.5 .1l2.7 1.2l.9-.4z" color="#128"/>
<path d="M524.4 103.4l1.7-1.5l-2.2-.9l-.9 1.8z" color="#23b"/>
<path d="M442.6 100.6l.8-.2l3.6-3.1l-1.3 .5z" color="#384"/>
<path d="M544.1 100.4l-1.6-.6l1.1 2.2l1.4 .2z" color="#24a"/>
<path d="M489.2 101.4l.1-1.5l-4.4-.5l.4 1.6z" color="#3bb"/>
<path d="M513.2 100.9l-1.3-1.2l-1.9 1.7l1.6 1z" color="#25b"/>
<path d="M479.5 97.7l-.4-.8l-4.1 2.2l.6 .7z" color="#6b3"/>
<path d="M420.8 98.9l-1.1-.3l1.6 2.2l1.2 .2z" color="#277"/>
<path d="M517.9 102.9l-1.4-1.8l-1.8 1l2 1.5z" color="#23a"/>
<path d="M451.1 95.7l-.5-.3l6.4 2.9l.2 .1z" color="#472"/>
<path d="M542.5 99.8l-1.3-.6l1.2 2.5l1.2 .3z" color="#26a"/>
<path d="M403 100.7l-1.3-.6l-1.7-.4l-1.7 .1l-1.7 .4l-1.3 .6l-1 .9l-.3 1l.2 1.1l.7 .7l.3 .2l1.2 .6l1.6 .3l1.8 0l1.7-.4l1.4-.7l.9-.9l.3-1l-.3-1z" color="#229"/>
<path d="M458.3 98.6l-.4-.1l5 1l.2 0z" color="#277"/>
<path d="M527.6 103.2l1.7-1l-1.8-1.7l-1.4 1.4z" color="#24b"/>
<path d="M443.4 100.4l.7-.2l4.1-3.4l-1.2 .5z" color="#383"/>
<path d="M498.3 100.4l1-1.4l-4.9-.6l-.5 1.1z" color="#5b4"/>
<path d="M541.2 99.2l-1.2-.5l1.3 2.6l1.1 .4z" color="#385"/>
<path d="M479.9 98.7l-.4-1l-3.9 2.1l.7 .8z" color="#5a3"/>
<path d="M437 102.1l.8 .2l2.8-1.5l-1.2 .1z" color="#238"/>
<path d="M463.2 99.5l-.1 0l5.2-.1l-.2 0z" color="#258"/>
<path d="M457 98.9l0-.6l-6.4-2.9l.1 .9z" color="#d42"/>
<path d="M540 98.7l-1.1-.6l1.5 2.9l.9 .3z" color="#383"/>
<path d="M468.3 99.4l.3-.1l4.6-1l-.5 0z" color="#275"/>
<path d="M567.4 100.6l1.3-.6l-.7-1.4l-1.3 0z" color="#493"/>
<path d="M485.3 101l-.4-1.6l-3.7 1.5l.7 1.3z" color="#3ab"/>
<path d="M419.7 98.6l-1-.3l1.6 2.2l1 .3z" color="#373"/>
<path d="M492.8 102l.6-1.3l-4.1-.8l-.1 1.5z" color="#3ad"/>
<path d="M514.7 102.1l-1.5-1.2l-1.6 1.5l2 1z" color="#23a"/>
<path d="M444.1 100.2l.6-.2l4.4-3.7l-.9 .5z" color="#483"/>
<path d="M557.6 103.2l2 .3l1-1.3l-2.3 .1z" color="#229"/>
<path d="M538.9 98.1l-.8-.5l1.5 3.1l.8 .3z" color="#483"/>
<path d="M433.6 102.4l.4 .5l3-.8l-1-.3z" color="#128"/>
<path d="M403.8 103.6l2.3-.2l.4-1.4l-2.4 .6z" color="#239"/>
<path d="M538.1 97.6l-.7-.4l1.5 3.2l.7 .3z" color="#482"/>
<path d="M428.6 101.9l-.9 .4l3 .6l.3-.5z" color="#127"/>
<path d="M457.9 98.5l-.4 0l5.3 1l.1 0z" color="#274"/>
<path d="M394 102.7l-1.5-.2l1.5 1.3l.2 0z" color="#229"/>
<path d="M425 101.1l-1.3 0l3.2 1.4l.8-.2z" color="#138"/>
<path d="M548.8 102.5l-2.1-.1l1.5 1.3l1.6-.3z" color="#228"/>
<path d="M537.4 97.2l-.7-.4l1.7 3.3l.5 .3z" color="#582"/>
<path d="M444.7 100l.5-.2l4.8-4l-.9 .5z" color="#482"/>
<path d="M406.1 103.4l1.8-.2l.5-1.9l-1.9 .7z" color="#23a"/>
<path d="M536.7 96.8l-.4-.3l1.7 3.5l.4 .1z" color="#682"/>
<path d="M480.5 99.7l-.6-1l-3.6 1.9l.8 1z" color="#4a3"/>
<path d="M456.9 99.6l.1-.7l-6.3-2.6l.2 1.2z" color="#d72"/>
<path d="M537.5 100.2l.5-.2l-1.7-3.5l-.4 .4z" color="#9a3"/>
<path d="M418.7 98.3l-.8-.4l1.4 2.3l1 .3z" color="#372"/>
<path d="M497.3 101.7l1-1.3l-4.4-.9l-.5 1.2z" color="#4b4"/>
<path d="M445.2 99.8l.3-.1l5.1-4.3l-.6 .4z" color="#582"/>
<path d="M536.9 100.7l.6-.5l-1.6-3.3l-.6 .6z" color="#7a3"/>
<path d="M525.4 104.3l2.2-1.1l-1.5-1.3l-1.7 1.5z" color="#23a"/>
<path d="M489 102.8l.2-1.4l-3.9-.4l.4 1.7z" color="#26d"/>
<path d="M431 102.4l-.3 .5l3.3 0l-.4-.5z" color="#127"/>
<path d="M407.9 103.2l1.7-.4l.3-2.1l-1.5 .6z" color="#24a"/>
<path d="M569.7 99.2l.5-.7l-.9 .1z" color="#593"/>
<path d="M468.6 99.3l.2-.1l4.8-1l-.4 .1z" color="#273"/>
<path d="M536.2 101.1l.7-.4l-1.6-3.2l-.6 .5z" color="#5a3"/>
<path d="M568 98.6l.7 1.4l.4-.2l.6-.6l-.4-.6z" color="#493"/>
<path d="M457.5 98.5l-.3-.1l5.6 1.1z" color="#273"/>
<path d="M437.8 102.3l.7 .1l3.2-1.7l-1.1 .1z" color="#239"/>
<path d="M463.1 99.5l-.2 0l5.7-.2l-.3 .1z" color="#276"/>
<path d="M535.3 101.6l.9-.5l-1.5-3.1l-.8 .7z" color="#5a3"/>
<path d="M409.6 102.8l1.5-.5l.2-2.2l-1.4 .6z" color="#27b"/>
<path d="M516.7 103.6l-2-1.5l-1.1 1.3l2.3 1.1z" color="#23a"/>
<path d="M559.6 103.5l1.6 .1l1.4-1.7l-2 .3z" color="#229"/>
<path d="M450.7 96.3l-.1-.9l-5.1 4.3l.3 .5z" color="#d42"/>
<path d="M417.9 97.9l-.7-.2l1.4 2.3l.7 .2z" color="#372"/>
<path d="M534.3 102.2l1-.6l-1.4-2.9l-.9 .8z" color="#4a3"/>
<path d="M502.7 95.6l-.7-.6l1.7 5.5l.5 .3z" color="#a31"/>
<path d="M411.1 102.3l1.4-.5l0-2.4l-1.2 .7z" color="#395"/>
<path d="M503.3 100.9l.4-.4l-1.7-5.5l-.5 .8z" color="#c32"/>
<path d="M503.5 96.4l-.8-.8l1.5 5.2l.6 .4z" color="#a62"/>
<path d="M456.8 100.5l.1-.9l-6-2.1l.2 1.2z" color="#9c3"/>
<path d="M481.2 100.9l-.7-1.2l-3.4 1.9l1 1z" color="#3a5"/>
<path d="M492.1 103.4l.7-1.4l-3.6-.6l-.2 1.4z" color="#25d"/>
<path d="M533.1 102.8l1.2-.6l-1.3-2.7l-1.1 .9z" color="#3a5"/>
<path d="M457.2 98.4l-.2-.1l5.7 1.1l.1 .1z" color="#372"/>
<path d="M412.5 101.8l1.3-.5l-.3-2.4l-1 .5z" color="#493"/>
<path d="M485.7 102.7l-.4-1.7l-3.4 1.2l.9 1.4z" color="#25d"/>
<path d="M504.5 97.3l-1-.9l1.3 4.8l.7 .4z" color="#793"/>
<path d="M546.7 102.4l-1.7-.2l1.8 1.7l1.4-.2z" color="#228"/>
<path d="M423.7 101.1l-1.2-.1l3.7 1.6l.7-.1z" color="#238"/>
<path d="M468.8 99.2l.2-.1l4.9-1l-.3 .1z" color="#372"/>
<path d="M417.2 97.7l-.6-.3l1.3 2.3l.7 .3z" color="#472"/>
<path d="M394 103.8l.9 .7l-.7-.7z" color="#228"/>
<path d="M413.8 101.3l1.1-.5l-.5-2.5l-.9 .6z" color="#493"/>
<path d="M505.7 98.3l-1.2-1l1 4.3l.9 .5z" color="#593"/>
<path d="M531.7 103.4l1.4-.6l-1.2-2.4l-1.2 .9z" color="#39b"/>
<path d="M502.7 101.5l.6-.6l-1.8-5.1l-.6 1z" color="#c72"/>
<path d="M450.9 97.5l-.2-1.2l-4.9 3.9l.3 .7z" color="#d72"/>
<path d="M556.4 103.9l1.4 .6l1.8-1l-2-.3z" color="#228"/>
<path d="M496.1 103.1l1.2-1.4l-3.9-1l-.6 1.3z" color="#3bb"/>
<path d="M414.9 100.8l.9-.5l-.7-2.4l-.7 .4z" color="#593"/>
<path d="M434 102.9l.3 .3l3.5-.9l-.8-.2z" color="#128"/>
<path d="M507 99.3l-1.3-1l.7 3.8l1 .6z" color="#493"/>
<path d="M462.5 99.9l.2-.5l-5.7-1.1l0 .6z" color="#bc3"/>
<path d="M427.7 102.3l-.8 .2l3.5 .7l.3-.3z" color="#127"/>
<path d="M438.5 102.4l.6 0l3.5-1.8l-.9 .1z" color="#249"/>
<path d="M561.2 103.6l1.3 0l1.8-2.1l-1.7 .4z" color="#239"/>
<path d="M462.9 99.5l-.1 0l6-.3l-.2 .1z" color="#274"/>
<path d="M415.8 100.3l.9-.5l-.9-2.3l-.7 .4z" color="#7a3"/>
<path d="M416.6 97.4l-.4-.2l1.1 2.2l.6 .3z" color="#582"/>
<path d="M530.2 104.1l1.5-.7l-1-2.1l-1.4 .9z" color="#25b"/>
<path d="M549.8 103.4l-1.6 .3l2.2 1l.9-.7z" color="#128"/>
<path d="M508.4 100.4l-1.4-1.1l.4 3.4l1.2 .5z" color="#393"/>
<path d="M416.7 99.8l.6-.4l-1.1-2.2l-.4 .3z" color="#a82"/>
<path d="M502.1 102l.6-.5l-1.8-4.7l-.7 1z" color="#8b3"/>
<path d="M469 99.1l.2-.1l5-1l-.3 .1z" color="#372"/>
<path d="M402.9 104.5l1.8 .3l1.4-1.4l-2.3 .2z" color="#229"/>
<path d="M510 101.4l-1.6-1l.2 2.8l1.4 .6z" color="#299"/>
<path d="M456.6 101.5l.2-1l-5.7-1.8l.3 1.5z" color="#6b3"/>
<path d="M528.3 104.7l1.9-.6l-.9-1.9l-1.7 1z" color="#23a"/>
<path d="M481.9 102.2l-.7-1.3l-3.1 1.7l1.1 1.1z" color="#39c"/>
<path d="M462.2 100.7l.3-.8l-5.5-1l-.1 .7z" color="#8c3"/>
<path d="M545 102.2l-1.4-.2l2 1.8l1.2 .1z" color="#239"/>
<path d="M451.1 98.7l-.2-1.2l-4.8 3.4l.3 .8z" color="#8c3"/>
<path d="M511.6 102.4l-1.6-1l0 2.4l1.6 .6z" color="#25b"/>
<path d="M488.8 104.5l.2-1.7l-3.3-.1l.5 1.8z" color="#24c"/>
<path d="M430.7 102.9l-.3 .3l3.9 0l-.3-.3z" color="#127"/>
<path d="M474.5 98.5l-.3-.5l-5 1l.6 .6z" color="#b31"/>
<path d="M562.5 103.6l1.2-.1l2.2-2.4l-1.6 .4z" color="#25a"/>
<path d="M422.5 101l-1.2-.2l4.3 1.8l.6 0z" color="#258"/>
<path d="M501.3 102.7l.8-.7l-1.9-4.2l-.9 1.2z" color="#6b3"/>
<path d="M462.8 99.5l6.2-.4l-.2 .1z" color="#372"/>
<path d="M439.1 102.4l.5-.1l3.8-1.9l-.8 .2z" color="#278"/>
<path d="M525.9 105.3l2.4-.6l-.7-1.5l-2.2 1.1z" color="#23a"/>
<path d="M513.6 103.4l-2-1l0 2l1.8 .6z" color="#23a"/>
<path d="M475 99.1l-.5-.6l-4.7 1.1l.9 .9z" color="#b62"/>
<path d="M554.8 104.3l.8 .8l2.2-.6l-1.4-.6z" color="#128"/>
<path d="M494.9 104.5l1.2-1.4l-3.3-1.1l-.7 1.4z" color="#26d"/>
<path d="M461.9 101.5l.3-.8l-5.3-1.1l-.1 .9z" color="#6b3"/>
<path d="M551.3 104l-.9 .7l2.6 .4l.1-.8z" color="#128"/>
<path d="M491.3 105l.8-1.6l-3.1-.6l-.2 1.7z" color="#24c"/>
<path d="M515.9 104.5l-2.3-1.1l-.2 1.6l2.4 .5z" color="#239"/>
<path d="M486.2 104.5l-.5-1.8l-2.9 .9l1 1.5z" color="#24b"/>
<path d="M475.6 99.8l-.6-.7l-4.3 1.4l.9 .8z" color="#7a3"/>
<path d="M404.7 104.8l1.4 .1l1.8-1.7l-1.8 .2z" color="#229"/>
<path d="M426.9 102.5l-.7 .1l4 .8l.2-.2z" color="#138"/>
<path d="M500.3 103.5l1-.8l-2-3.7l-1 1.4z" color="#5a3"/>
<path d="M563.7 103.5l1-.2l2.7-2.7l-1.5 .5z" color="#289"/>
<path d="M434.3 103.2l.3 .1l3.9-.9l-.7-.1z" color="#238"/>
<path d="M543.6 102l-1.2-.3l2.1 2l1.1 .1z" color="#259"/>
<path d="M557.8 104.5l1.2 .4l2.2-1.3l-1.6-.1z" color="#228"/>
<path d="M553.1 104.3l-.1 .8l2.6 0l-.8-.8z" color="#128"/>
<path d="M451.4 100.2l-.3-1.5l-4.7 3l.5 1z" color="#6b3"/>
<path d="M462.8 99.5l-.1-.1l6.5-.4l-.2 .1z" color="#372"/>
<path d="M456.5 102.7l.1-1.2l-5.2-1.3l.2 1.5z" color="#5b4"/>
<path d="M482.8 103.6l-.9-1.4l-2.7 1.5l1.2 1.2z" color="#25c"/>
<path d="M439.6 102.3l.5 0l4-2.1l-.7 .2z" color="#275"/>
<path d="M396.2 105.4l.2-.1l-1.2-.6z" color="#128"/>
<path d="M421.3 100.8l-1-.3l4.8 2.1l.5 0z" color="#275"/>
<path d="M476.3 100.6l-.7-.8l-4 1.5l1.2 1z" color="#5a3"/>
<path d="M548.2 103.7l-1.4 .2l2.9 1.1l.7-.3z" color="#128"/>
<path d="M461.5 102.4l.4-.9l-5.1-1l-.2 1z" color="#5b4"/>
<path d="M564.7 103.3l.9-.2l3.1-3.1l-1.3 .6z" color="#384"/>
<path d="M468.7 99.8l.5-.8l-6.5 .4l-.2 .5z" color="#d42"/>
<path d="M401.5 105.2l1.1 .6l2.1-1l-1.8-.3z" color="#228"/>
<path d="M499.2 104.4l1.1-.9l-2-3.1l-1 1.3z" color="#4a4"/>
<path d="M524.4 103.4l-1.4-.6l-1.7-.3l-1.8 0l-1.6 .4l-1.2 .7l-.8 .9l-.1 1l.5 1l1 .9l1.5 .6l1.7 .4l1.7-.1l1.6-.3l1.3-.7l.7-1l.1-1l-.5-1z" color="#229"/>
<path d="M440.1 102.3l.4-.1l4.2-2.2l-.6 .2z" color="#273"/>
<path d="M542.4 101.7l-1.1-.4l2.2 2.2l1 .2z" color="#277"/>
<path d="M406.1 104.9l1.1-.1l2.4-2l-1.7 .4z" color="#239"/>
<path d="M430.4 103.2l-.2 .2l4.4-.1l-.3-.1z" color="#138"/>
<path d="M477.1 101.6l-.8-1l-3.5 1.7l1.3 1z" color="#4a3"/>
<path d="M565.6 103.1l.1 0l3.4-3.3l-.4 .2z" color="#383"/>
<path d="M493.4 105.9l1.5-1.4l-2.8-1.1l-.8 1.6z" color="#24b"/>
<path d="M468 100.8l.7-1l-6.2 .1l-.3 .8z" color="#d72"/>
<path d="M451.6 101.7l-.2-1.5l-4.5 2.5l.5 1.1z" color="#5b4"/>
<path d="M420.3 100.5l-1-.3l5.3 2.3l.5 .1z" color="#273"/>
<path d="M426.2 102.6l-.6 0l4.4 .9l.2-.1z" color="#238"/>
<path d="M440.5 102.2l.3-.1l4.4-2.3l-.5 .2z" color="#373"/>
<path d="M396.4 105.3l-.2 .1l1.5 .8l.3-.6z" color="#128"/>
<path d="M559 104.9l.9 .1l2.6-1.4l-1.3 0z" color="#238"/>
<path d="M434.6 103.3l.3 .1l4.2-1l-.6 0z" color="#248"/>
<path d="M461 103.5l.5-1.1l-4.9-.9l-.1 1.2z" color="#5b4"/>
<path d="M488.5 106.5l.3-2l-2.6 0l.6 2z" color="#23b"/>
<path d="M456.3 104l.2-1.3l-4.9-1l.3 1.7z" color="#4b4"/>
<path d="M483.8 105.1l-1-1.5l-2.4 1.3l1.5 1.3z" color="#23b"/>
<path d="M498 105.3l1.2-.9l-1.9-2.7l-1.2 1.4z" color="#3ab"/>
<path d="M478.1 102.6l-1-1l-3 1.7l1.4 1.1z" color="#393"/>
<path d="M541.3 101.3l-.9-.3l2.2 2.3l.9 .2z" color="#373"/>
<path d="M407.2 104.8l1.1-.1l2.8-2.4l-1.5 .5z" color="#25a"/>
<path d="M555.6 105.1l.6 .5l2.8-.7l-1.2-.4z" color="#128"/>
<path d="M525.8 106.3l2.4-.1l.1-1.5l-2.4 .6z" color="#239"/>
<path d="M440.8 102.1l.2 0l4.5-2.4l-.3 .1z" color="#372"/>
<path d="M467.3 101.8l.7-1l-5.8-.1l-.3 .8z" color="#9c3"/>
<path d="M550.4 104.7l-.7 .3l3.2 .6l.1-.5z" color="#127"/>
<path d="M490.2 106.8l1.1-1.8l-2.5-.5l-.3 2z" color="#23b"/>
<path d="M546.8 103.9l-1.2-.1l3.5 1.4l.6-.2z" color="#138"/>
<path d="M399.8 105.6l.4 .8l2.4-.6l-1.1-.6z" color="#128"/>
<path d="M486.8 106.5l-.6-2l-2.4 .6l1.3 1.8z" color="#23a"/>
<path d="M419.3 100.2l-.7-.2l5.7 2.5l.3 0z" color="#372"/>
<path d="M528.2 106.2l2-.3l0-1.8l-1.9 .6z" color="#23a"/>
<path d="M445.8 100.2l-.3-.5l-4.5 2.4l.4 .4z" color="#ab3"/>
<path d="M515.8 105.5l-2.4-.5l.7 1.5l2.2 0z" color="#229"/>
<path d="M540.4 101l-.8-.3l2.1 2.3l.9 .3z" color="#372"/>
<path d="M479.2 103.7l-1.1-1.1l-2.6 1.8l1.6 1z" color="#39a"/>
<path d="M408.3 104.7l.9-.1l3.3-2.8l-1.4 .5z" color="#289"/>
<path d="M553 105.1l-.1 .5l3.3 0l-.6-.5z" color="#127"/>
<path d="M402.6 105.8l.9 .3l2.6-1.2l-1.4-.1z" color="#228"/>
<path d="M530.2 105.9l1.6-.3l-.1-2.2l-1.5 .7z" color="#24a"/>
<path d="M430.2 103.4l-.2 .1l4.9-.1l-.3-.1z" color="#238"/>
<path d="M496.5 106.2l1.5-.9l-1.9-2.2l-1.2 1.4z" color="#25c"/>
<path d="M425.6 102.6l-.5 0l4.7 .9l.2 0z" color="#258"/>
<path d="M451.9 103.4l-.3-1.7l-4.2 2.1l.7 1.2z" color="#4b4"/>
<path d="M399.8 105.6l-1.8 0l-.3 .6l.6 .2l1.9 0z" color="#128"/>
<path d="M559.9 105l.9 .1l2.9-1.6l-1.2 .1z" color="#239"/>
<path d="M446.1 100.9l-.3-.7l-4.4 2.3l.4 .6z" color="#8b3"/>
<path d="M513.4 105l-1.8-.6l.8 1.9l1.7 .2z" color="#239"/>
<path d="M460.4 104.8l.6-1.3l-4.5-.8l-.2 1.3z" color="#4b5"/>
<path d="M466.4 103.1l.9-1.3l-5.4-.3l-.4 .9z" color="#6b3"/>
<path d="M531.8 105.6l1.6-.5l-.3-2.3l-1.4 .6z" color="#27b"/>
<path d="M434.9 103.4l.2 0l4.5-1.1l-.5 .1z" color="#268"/>
<path d="M418.6 100l-.7-.3l6.1 2.7l.3 .1z" color="#372"/>
<path d="M539.6 100.7l-.7-.3l2.1 2.3l.7 .3z" color="#372"/>
<path d="M533.4 105.1l1.5-.5l-.6-2.4l-1.2 .6z" color="#395"/>
<path d="M491.7 107.4l1.7-1.5l-2.1-.9l-1.1 1.8z" color="#23b"/>
<path d="M409.2 104.6l.8-.2l3.8-3.1l-1.3 .5z" color="#384"/>
<path d="M511.6 104.4l-1.6-.6l1 2.2l1.4 .3z" color="#24a"/>
<path d="M456.1 105.4l.2-1.4l-4.4-.6l.4 1.7z" color="#3bb"/>
<path d="M480.4 104.9l-1.2-1.2l-2.1 1.7l1.7 1z" color="#25b"/>
<path d="M446.4 101.7l-.3-.8l-4.3 2.2l.6 .7z" color="#6b3"/>
<path d="M534.9 104.6l1.3-.5l-.9-2.5l-1 .6z" color="#493"/>
<path d="M545.6 103.8l-1.1-.1l4.1 1.6l.5-.1z" color="#238"/>
<path d="M485.1 106.9l-1.3-1.8l-1.9 1.1l1.9 1.4z" color="#23a"/>
<path d="M538.9 100.4l-.5-.3l2 2.3l.6 .3z" color="#472"/>
<path d="M417.9 99.7l-.6-.3l6.4 3l.3 0z" color="#472"/>
<path d="M510 103.8l-1.4-.6l1.1 2.5l1.3 .3z" color="#26a"/>
<path d="M536.2 104.1l1.2-.6l-1.2-2.4l-.9 .5z" color="#493"/>
<path d="M425.1 102.6l-.5-.1l5.1 1l.1 0z" color="#277"/>
<path d="M494.8 107.3l1.7-1.1l-1.6-1.7l-1.5 1.4z" color="#24b"/>
<path d="M537.4 103.5l1-.4l-1.5-2.4l-.7 .4z" color="#593"/>
<path d="M410 104.4l.7-.2l4.2-3.4l-1.1 .5z" color="#383"/>
<path d="M556.2 105.6l.5 .3l3.2-.9l-.9-.1z" color="#128"/>
<path d="M465.4 104.4l1-1.3l-4.9-.7l-.5 1.1z" color="#5b4"/>
<path d="M508.6 103.2l-1.2-.5l1.2 2.7l1.1 .3z" color="#385"/>
<path d="M549.7 105l-.6 .2l3.7 .7l.1-.3z" color="#127"/>
<path d="M560.8 105.1l.7 0l3.2-1.8l-1 .2z" color="#249"/>
<path d="M538.4 103.1l.9-.5l-1.8-2.4l-.6 .5z" color="#7a3"/>
<path d="M538.4 100.1l-.4-.1l1.9 2.2l.5 .2z" color="#582"/>
<path d="M446.9 102.7l-.5-1l-4 2.1l.7 .9z" color="#5a3"/>
<path d="M403.5 106.1l.8 .2l2.9-1.5l-1.1 .1z" color="#238"/>
<path d="M430 103.5l-.2 0l5.3-.1l-.2 0z" color="#258"/>
<path d="M539.3 102.6l.6-.4l-1.9-2.2l-.5 .2z" color="#a82"/>
<path d="M423.7 102.9l0-.5l-6.4-3l.1 .9z" color="#d42"/>
<path d="M507.4 102.7l-1-.6l1.3 2.9l.9 .4z" color="#383"/>
<path d="M435.1 103.4l.3 0l4.7-1.1l-.5 0z" color="#275"/>
<path d="M452.3 105.1l-.4-1.7l-3.8 1.6l.7 1.3z" color="#3ab"/>
<path d="M459.7 106.1l.7-1.3l-4.1-.8l-.2 1.4z" color="#3ad"/>
<path d="M481.9 106.2l-1.5-1.3l-1.6 1.5l1.9 1.1z" color="#23a"/>
<path d="M410.7 104.2l.5-.1l4.6-3.8l-.9 .5z" color="#483"/>
<path d="M525.1 107.3l2 .3l1.1-1.4l-2.4 .1z" color="#229"/>
<path d="M506.4 102.1l-.9-.5l1.4 3.1l.8 .3z" color="#483"/>
<path d="M400.2 106.4l.3 .5l3-.8l-.9-.3z" color="#128"/>
<path d="M505.5 101.6l-.7-.4l1.4 3.3l.7 .2z" color="#482"/>
<path d="M424.6 102.5l-.3 0l5.3 1l.1 0z" color="#274"/>
<path d="M552.9 105.6l-.1 .3l3.9 0l-.5-.3z" color="#127"/>
<path d="M516.3 106.5l-2.2 0l1.4 1.3l1.8-.4z" color="#228"/>
<path d="M504.8 101.2l-.6-.4l1.4 3.4l.6 .3z" color="#582"/>
<path d="M411.2 104.1l.5-.2l5-4.1l-.9 .5z" color="#482"/>
<path d="M544.5 103.7l-1-.2l4.6 1.9l.5-.1z" color="#258"/>
<path d="M504.2 100.8l-.5-.3l1.5 3.5l.4 .2z" color="#682"/>
<path d="M561.5 105.1l.7 0l3.4-2l-.9 .2z" color="#278"/>
<path d="M447.4 103.8l-.5-1.1l-3.8 2l.8 .9z" color="#4a3"/>
<path d="M423.5 103.7l.2-.8l-6.3-2.6l.2 1.2z" color="#d72"/>
<path d="M504.8 104.3l.4-.3l-1.5-3.5l-.4 .4z" color="#9a3"/>
<path d="M464.2 105.8l1.2-1.4l-4.4-.9l-.6 1.3z" color="#4b4"/>
<path d="M504.2 104.7l.6-.4l-1.5-3.4l-.6 .6z" color="#7a3"/>
<path d="M411.7 103.9l.4-.1l5.2-4.4l-.6 .4z" color="#582"/>
<path d="M492.6 108.3l2.2-1l-1.4-1.4l-1.7 1.5z" color="#23a"/>
<path d="M455.9 106.9l.2-1.5l-3.8-.3l.3 1.6z" color="#26d"/>
<path d="M398.3 106.4l1.6 .5l.6 0l-.3-.5z" color="#127"/>
<path d="M435.4 103.4l.1-.1l5-1.1l-.4 .1z" color="#273"/>
<path d="M503.4 105.1l.8-.4l-1.5-3.2l-.6 .5z" color="#5a3"/>
<path d="M424.3 102.5l-.3-.1l5.5 1.1l.1 0z" color="#273"/>
<path d="M404.3 106.3l.7 .1l3.3-1.7l-1.1 .1z" color="#239"/>
<path d="M429.8 103.5l-.1 0l5.7-.1l-.3 0z" color="#276"/>
<path d="M502.6 105.7l.8-.6l-1.3-3.1l-.8 .7z" color="#5a3"/>
<path d="M483.8 107.6l-1.9-1.4l-1.2 1.3l2.3 1z" color="#23a"/>
<path d="M527.1 107.6l1.5 .1l1.6-1.8l-2 .3z" color="#229"/>
<path d="M549.1 105.2l-.5 .1l4.1 .8l.1-.2z" color="#138"/>
<path d="M417.4 100.3l-.1-.9l-5.2 4.4l.2 .5z" color="#d42"/>
<path d="M562.2 105.1l.4 0l3.1-2l-.1 0z" color="#275"/>
<path d="M556.7 105.9l.5 .2l3.6-1l-.9-.1z" color="#238"/>
<path d="M501.5 106.2l1.1-.5l-1.3-3l-1 .8z" color="#4a3"/>
<path d="M469.8 99.6l-.6-.6l1.5 5.6l.4 .3z" color="#a31"/>
<path d="M470.2 105l.5-.4l-1.5-5.6l-.5 .8z" color="#c32"/>
<path d="M470.7 100.5l-.9-.9l1.3 5.3l.6 .4z" color="#a62"/>
<path d="M423.4 104.5l.1-.8l-5.9-2.2l.2 1.3z" color="#9c3"/>
<path d="M448.1 105l-.7-1.2l-3.5 1.8l1 1z" color="#3a5"/>
<path d="M459 107.5l.7-1.4l-3.6-.7l-.2 1.5z" color="#25d"/>
<path d="M500.3 106.9l1.2-.7l-1.2-2.7l-1.1 .9z" color="#3a5"/>
<path d="M424 102.4l-.3 0l5.7 1.1l.1 0z" color="#372"/>
<path d="M543.5 103.5l-.9-.2l5.1 2.1l.4 0z" color="#275"/>
<path d="M452.6 106.7l-.3-1.6l-3.5 1.2l.8 1.4z" color="#25d"/>
<path d="M471.6 101.3l-.9-.8l1 4.8l.8 .4z" color="#793"/>
<path d="M514.1 106.5l-1.7-.2l1.7 1.6l1.4-.1z" color="#228"/>
<path d="M435.5 103.3l.2-.1l5.1-1.1l-.3 .1z" color="#372"/>
<path d="M472.8 102.3l-1.2-1l.9 4.4l.8 .5z" color="#593"/>
<path d="M498.9 107.5l1.4-.6l-1.1-2.5l-1.2 .9z" color="#39b"/>
<path d="M469.7 105.5l.5-.5l-1.5-5.2l-.7 1z" color="#c72"/>
<path d="M417.6 101.5l-.2-1.2l-5.1 4l.3 .7z" color="#d72"/>
<path d="M523.8 108l1.4 .6l1.9-1l-2-.3z" color="#228"/>
<path d="M463 107.2l1.2-1.4l-3.8-1l-.7 1.3z" color="#3bb"/>
<path d="M474.1 103.3l-1.3-1l.5 3.9l1.1 .5z" color="#493"/>
<path d="M429.2 104l.2-.5l-5.7-1.1l0 .5z" color="#bc3"/>
<path d="M528.6 107.7l1.3-.1l1.9-2l-1.6 .3z" color="#239"/>
<path d="M405 106.4l.5 0l3.7-1.8l-.9 .1z" color="#249"/>
<path d="M552.8 105.9l-.1 .2l4.5 0l-.5-.2z" color="#138"/>
<path d="M429.7 103.5l-.1 0l5.9-.2l-.1 .1z" color="#274"/>
<path d="M403.5 106.1l-3 .8l.1 .2l.5 .1l3.2-.9z" color="#128"/>
<path d="M497.3 108.1l1.6-.6l-.9-2.2l-1.5 .9z" color="#25b"/>
<path d="M517.3 107.4l-1.8 .4l2.3 .9l1-.7z" color="#128"/>
<path d="M475.5 104.4l-1.4-1.1l.3 3.4l1.2 .6z" color="#393"/>
<path d="M400.6 107.1l-.1-.2l-.6 0z" color="#127"/>
<path d="M469 106.1l.7-.6l-1.7-4.7l-.7 1z" color="#8b3"/>
<path d="M435.7 103.2l.1-.1l5.2-1l-.2 0z" color="#372"/>
<path d="M477.1 105.4l-1.6-1l.1 2.9l1.4 .6z" color="#299"/>
<path d="M542.6 103.3l-.9-.3l5.6 2.3l.4 .1z" color="#273"/>
<path d="M548.6 105.3l-.5 .1l4.6 .9l0-.2z" color="#238"/>
<path d="M423.3 105.5l.1-1l-5.6-1.7l.2 1.4z" color="#6b3"/>
<path d="M495.5 108.8l1.8-.7l-.8-1.9l-1.7 1.1z" color="#23a"/>
<path d="M448.8 106.3l-.7-1.3l-3.2 1.6l1.1 1.2z" color="#39c"/>
<path d="M428.8 104.7l.4-.7l-5.5-1.1l-.2 .8z" color="#8c3"/>
<path d="M557.2 106.1l.5 .1l3.8-1.1l-.7 0z" color="#248"/>
<path d="M512.4 106.3l-1.4-.3l1.9 1.9l1.2 0z" color="#239"/>
<path d="M417.8 102.8l-.2-1.3l-5 3.5l.3 .8z" color="#8c3"/>
<path d="M478.8 106.4l-1.7-1l-.1 2.5l1.6 .6z" color="#25b"/>
<path d="M455.6 108.6l.3-1.7l-3.3-.2l.4 1.9z" color="#24c"/>
<path d="M441.4 102.5l-.4-.4l-5.2 1l.7 .6z" color="#b31"/>
<path d="M529.9 107.6l1.2-.1l2.3-2.4l-1.6 .5z" color="#25a"/>
<path d="M468.2 106.8l.8-.7l-1.7-4.3l-.9 1.3z" color="#6b3"/>
<path d="M429.6 103.5l-.1 0l6.2-.3l-.2 .1z" color="#372"/>
<path d="M405.5 106.4l.6 0l3.9-2l-.8 .2z" color="#278"/>
<path d="M493.1 109.4l2.4-.6l-.7-1.5l-2.2 1z" color="#23a"/>
<path d="M480.7 107.5l-1.9-1.1l-.2 2.1l1.9 .5z" color="#23a"/>
<path d="M441.8 103.1l-.4-.6l-4.9 1.2l.8 .8z" color="#b62"/>
<path d="M522.2 108.3l.7 .9l2.3-.6l-1.4-.6z" color="#128"/>
<path d="M461.7 108.5l1.3-1.3l-3.3-1.1l-.7 1.4z" color="#26d"/>
<path d="M428.5 105.5l.3-.8l-5.3-1l-.1 .8z" color="#6b3"/>
<path d="M518.8 108l-1 .7l2.5 .5l.2-.8z" color="#128"/>
<path d="M458.1 109.1l.9-1.6l-3.1-.6l-.3 1.7z" color="#24c"/>
<path d="M541.7 103l-.7-.3l6 2.6l.3 0z" color="#372"/>
<path d="M401.1 107.2l1 0l2.9-.8l-.7-.1z" color="#238"/>
<path d="M483 108.5l-2.3-1l-.2 1.5l2.3 .6z" color="#239"/>
<path d="M453 108.6l-.4-1.9l-3 1l1 1.5z" color="#24b"/>
<path d="M442.4 103.8l-.6-.7l-4.5 1.4l1 .9z" color="#7a3"/>
<path d="M467.2 107.6l1-.8l-1.8-3.7l-1 1.3z" color="#5a3"/>
<path d="M531.1 107.5l1-.1l2.8-2.8l-1.5 .5z" color="#289"/>
<path d="M511 106l-1.3-.3l2 2.1l1.2 .1z" color="#259"/>
<path d="M525.2 108.6l1.1 .3l2.3-1.2l-1.5-.1z" color="#228"/>
<path d="M552.7 106.1l0 .2l5-.1l-.5-.1z" color="#238"/>
<path d="M520.5 108.4l-.2 .8l2.6 0l-.7-.9z" color="#128"/>
<path d="M418 104.2l-.2-1.4l-4.9 3l.5 .9z" color="#6b3"/>
<path d="M548.1 105.4l-.4 0l4.9 .9l.1 0z" color="#258"/>
<path d="M429.5 103.5l-.1 0l6.4-.4l-.1 .1z" color="#372"/>
<path d="M423.1 106.7l.2-1.2l-5.3-1.3l.2 1.6z" color="#5b4"/>
<path d="M449.6 107.7l-.8-1.4l-2.8 1.5l1.2 1.1z" color="#25c"/>
<path d="M406.1 106.4l.4 0l4.2-2.2l-.7 .2z" color="#275"/>
<path d="M557.7 106.2l.4 0l4.1-1.1l-.7 0z" color="#268"/>
<path d="M541 102.7l-.6-.3l6.4 2.8l.2 .1z" color="#372"/>
<path d="M443.1 104.7l-.7-.9l-4.1 1.6l1.1 1z" color="#5a3"/>
<path d="M515.5 107.8l-1.4 .1l2.9 1.2l.8-.4z" color="#128"/>
<path d="M428 106.5l.5-1l-5.1-1l-.1 1z" color="#5b4"/>
<path d="M532.1 107.4l.9-.2l3.2-3.1l-1.3 .5z" color="#384"/>
<path d="M435.3 103.8l.5-.7l-6.4 .4l-.2 .5z" color="#d42"/>
<path d="M466.1 108.5l1.1-.9l-1.8-3.2l-1.2 1.4z" color="#4a4"/>
<path d="M491.7 107.4l-1.5-.6l-1.7-.3l-1.7 0l-1.7 .4l-1.3 .7l-.8 .9l-.2 1.1l.5 1l.9 .9l1.5 .6l1.7 .4l1.8 0l1.6-.4l1.3-.8l.8-.9l.2-1l-.5-1.1z" color="#229"/>
<path d="M406.5 106.4l.3-.1l4.4-2.2l-.5 .1z" color="#273"/>
<path d="M509.7 105.7l-1.1-.3l2.1 2.2l1 .2z" color="#277"/>
<path d="M540.4 102.4l-.5-.2l6.7 2.9l.2 .1z" color="#472"/>
<path d="M443.9 105.6l-.8-.9l-3.7 1.7l1.3 1z" color="#4a3"/>
<path d="M402.1 107.2l.8 0l2.6-.8l-.5 0z" color="#248"/>
<path d="M547.7 105.4l-.4-.1l5.3 1z" color="#277"/>
<path d="M460.2 110l1.5-1.5l-2.7-1l-.9 1.6z" color="#24b"/>
<path d="M533 107.2l.7-.2l3.7-3.5l-1.2 .6z" color="#383"/>
<path d="M434.6 104.9l.7-1.1l-6.1 .2l-.4 .7z" color="#d72"/>
<path d="M418.2 105.8l-.2-1.6l-4.6 2.5l.5 1.1z" color="#5b4"/>
<path d="M406.8 106.3l.3-.1l4.6-2.3l-.5 .2z" color="#373"/>
<path d="M562.2 105.1l-4.1 1.1l.3 0l3.1-.7l1.1-.4z" color="#275"/>
<path d="M526.3 108.9l1 .2l2.6-1.5l-1.3 .1z" color="#238"/>
<path d="M552.7 106.3l-.1 0l5.5-.1l-.4 0z" color="#258"/>
<path d="M546.6 105.7l0-.6l-6.7-2.9l.2 .9z" color="#d42"/>
<path d="M427.5 107.6l.5-1.1l-4.7-1l-.2 1.2z" color="#5b4"/>
<path d="M455.3 110.6l.3-2l-2.6 0l.5 2z" color="#23b"/>
<path d="M422.9 108l.2-1.3l-4.9-.9l.2 1.6z" color="#4b4"/>
<path d="M450.6 109.2l-1-1.5l-2.4 1.2l1.4 1.3z" color="#23b"/>
<path d="M464.8 109.4l1.3-.9l-1.9-2.7l-1.2 1.4z" color="#3ab"/>
<path d="M444.9 106.6l-1-1l-3.2 1.8l1.5 1.1z" color="#393"/>
<path d="M508.6 105.4l-.9-.4l2 2.4l1 .2z" color="#373"/>
<path d="M533.7 107l.6-.1l4.1-3.8l-1 .4z" color="#483"/>
<path d="M522.9 109.2l.6 .5l2.8-.8l-1.1-.3z" color="#128"/>
<path d="M492.9 110.4l2.4-.1l.2-1.5l-2.4 .6z" color="#239"/>
<path d="M407.1 106.2l.3-.1l4.7-2.3l-.4 .1z" color="#372"/>
<path d="M517.8 108.7l-.8 .4l3.1 .6l.2-.5z" color="#127"/>
<path d="M433.8 105.9l.8-1l-5.8-.2l-.3 .8z" color="#9c3"/>
<path d="M457 110.9l1.1-1.8l-2.5-.5l-.3 2z" color="#23b"/>
<path d="M547.3 105.3l-.3 0l5.6 1z" color="#274"/>
<path d="M514.1 107.9l-1.2 0l3.4 1.4l.7-.2z" color="#138"/>
<path d="M453.5 110.6l-.5-2l-2.4 .6l1.3 1.8z" color="#23a"/>
<path d="M534.3 106.9l.5-.2l4.5-4.1l-.9 .5z" color="#482"/>
<path d="M402.9 107.2l.8-.1l2.4-.7l-.6 0z" color="#268"/>
<path d="M495.3 110.3l1.9-.3l.1-1.9l-1.8 .7z" color="#23a"/>
<path d="M482.8 109.6l-2.3-.6l.6 1.5l2.2 .1z" color="#229"/>
<path d="M412.3 104.3l-.2-.5l-4.7 2.3l.3 .5z" color="#ab3"/>
<path d="M546.6 106.5l0-.8l-6.5-2.6l.3 1.2z" color="#d72"/>
<path d="M507.7 105l-.8-.3l1.9 2.4l.9 .3z" color="#372"/>
<path d="M446 107.8l-1.1-1.2l-2.7 1.9l1.5 1z" color="#39a"/>
<path d="M534.8 106.7l.4-.1l4.7-4.4l-.6 .4z" color="#582"/>
<path d="M520.3 109.2l-.2 .5l3.4 0l-.6-.5z" color="#127"/>
<path d="M497.2 110l1.7-.4l0-2.1l-1.6 .6z" color="#24a"/>
<path d="M463.3 110.3l1.5-.9l-1.8-2.2l-1.3 1.3z" color="#25c"/>
<path d="M418.4 107.4l-.2-1.6l-4.3 2l.6 1.3z" color="#4b4"/>
<path d="M547 105.3l-.2-.1l5.7 1.1l.1 0z" color="#273"/>
<path d="M527.3 109.1l.8 .1l3-1.7l-1.2 .1z" color="#239"/>
<path d="M412.6 105l-.3-.7l-4.6 2.3l.5 .6z" color="#8b3"/>
<path d="M480.5 109l-1.9-.5l.7 1.9l1.8 .1z" color="#239"/>
<path d="M552.6 106.3l5.8-.1l-.3 0z" color="#276"/>
<path d="M426.9 108.8l.6-1.2l-4.4-.9l-.2 1.3z" color="#4b5"/>
<path d="M432.9 107.2l.9-1.3l-5.3-.4l-.5 1z" color="#6b3"/>
<path d="M498.9 109.6l1.6-.4l-.2-2.3l-1.4 .6z" color="#27b"/>
<path d="M540.1 103.1l-.2-.9l-4.7 4.4l.3 .5z" color="#d42"/>
<path d="M506.9 104.7l-.7-.2l1.9 2.3l.7 .3z" color="#372"/>
<path d="M500.5 109.2l1.4-.5l-.4-2.5l-1.2 .7z" color="#395"/>
<path d="M403.7 107.1l.6-.1l2.2-.6l-.4 0z" color="#275"/>
<path d="M458.4 111.5l1.8-1.5l-2.1-.9l-1.1 1.8z" color="#23b"/>
<path d="M478.6 108.5l-1.6-.6l.9 2.2l1.4 .3z" color="#24a"/>
<path d="M546.5 107.3l.1-.8l-6.2-2.2l.3 1.2z" color="#9c3"/>
<path d="M422.6 109.5l.3-1.5l-4.5-.6l.3 1.7z" color="#3bb"/>
<path d="M447.2 108.9l-1.2-1.1l-2.3 1.7l1.7 1z" color="#25b"/>
<path d="M546.8 105.2l-.2-.1l5.9 1.2z" color="#372"/>
<path d="M412.9 105.8l-.3-.8l-4.4 2.2l.5 .7z" color="#6b3"/>
<path d="M501.9 108.7l1.4-.5l-.7-2.5l-1.1 .5z" color="#493"/>
<path d="M512.9 107.9l-1.2-.1l4 1.6l.6-.1z" color="#238"/>
<path d="M451.9 111l-1.3-1.8l-2 1l1.9 1.5z" color="#23a"/>
<path d="M506.2 104.5l-.6-.3l1.9 2.4l.6 .2z" color="#472"/>
<path d="M558.7 106.1l2.8-.6l-3.1 .7z" color="#273"/>
<path d="M477 107.9l-1.4-.6l1 2.5l1.3 .3z" color="#26a"/>
<path d="M503.3 108.2l1.1-.6l-1-2.5l-.8 .6z" color="#493"/>
<path d="M540.4 104.3l-.3-1.2l-4.6 4l.4 .7z" color="#d72"/>
<path d="M461.6 111.4l1.7-1.1l-1.6-1.8l-1.5 1.5z" color="#24b"/>
<path d="M504.4 107.6l1-.4l-1.2-2.5l-.8 .4z" color="#593"/>
<path d="M523.5 109.7l.4 .3l3.4-.9l-1-.2z" color="#128"/>
<path d="M552.3 106.8l.2-.5l-5.9-1.2l0 .6z" color="#bc3"/>
<path d="M431.9 108.5l1-1.3l-4.9-.7l-.5 1.1z" color="#5b4"/>
<path d="M475.6 107.3l-1.2-.6l1.1 2.8l1.1 .3z" color="#385"/>
<path d="M517 109.1l-.7 .2l3.7 .7l.1-.3z" color="#127"/>
<path d="M528.1 109.2l.7 0l3.3-1.8l-1 .1z" color="#249"/>
<path d="M505.4 107.2l.9-.5l-1.5-2.4l-.6 .4z" color="#7a3"/>
<path d="M404.3 107l.5-.1l2-.6l-.3 .1z" color="#273"/>
<path d="M505.6 104.2l-.4-.2l1.8 2.3l.5 .3z" color="#582"/>
<path d="M413.4 106.7l-.5-.9l-4.2 2.1l.7 .9z" color="#5a3"/>
<path d="M506.3 106.7l.7-.4l-1.8-2.3l-.4 .3z" color="#a82"/>
<path d="M474.4 106.7l-1.1-.5l1.2 2.9l1 .4z" color="#383"/>
<path d="M558.4 106.2l-5.8 .1l6-.2l.1 0z" color="#274"/>
<path d="M418.7 109.1l-.3-1.7l-3.9 1.7l.7 1.3z" color="#3ab"/>
<path d="M426.2 110.2l.7-1.4l-4-.8l-.3 1.5z" color="#3ad"/>
<path d="M448.6 110.2l-1.4-1.3l-1.8 1.6l1.9 1.1z" color="#23a"/>
<path d="M492.1 111.3l1.9 .4l1.3-1.4l-2.4 .1z" color="#229"/>
<path d="M473.3 106.2l-.8-.5l1.2 3.1l.8 .3z" color="#483"/>
<path d="M546.5 108.3l0-1l-5.8-1.8l.3 1.5z" color="#6b3"/>
<path d="M552.1 107.5l.2-.7l-5.7-1.1l0 .8z" color="#8c3"/>
<path d="M472.5 105.7l-.8-.4l1.3 3.3l.7 .2z" color="#482"/>
<path d="M540.7 105.5l-.3-1.2l-4.5 3.5l.4 .8z" color="#8c3"/>
<path d="M404.8 106.9l.4-.1l1.9-.6l-.3 .1z" color="#372"/>
<path d="M520.1 109.7l-.1 .3l3.9 0l-.4-.3z" color="#127"/>
<path d="M483.3 110.6l-2.2-.1l1.3 1.4l1.8-.4z" color="#228"/>
<path d="M471.7 105.3l-.6-.4l1.3 3.4l.6 .3z" color="#582"/>
<path d="M552.6 106.3l-.1 0l5.5-.2l.6 0z" color="#372"/>
<path d="M511.7 107.8l-1-.2l4.5 1.9l.5-.1z" color="#258"/>
<path d="M471.1 104.9l-.4-.3l1.3 3.5l.4 .2z" color="#682"/>
<path d="M528.8 109.2l.6 0l3.6-2l-.9 .2z" color="#278"/>
<path d="M413.9 107.8l-.5-1.1l-4 2.1l.8 .9z" color="#4a3"/>
<path d="M471.5 108.4l.5-.3l-1.3-3.5l-.5 .4z" color="#9a3"/>
<path d="M430.7 109.9l1.2-1.4l-4.4-.9l-.6 1.2z" color="#4b4"/>
<path d="M470.9 108.8l.6-.4l-1.3-3.4l-.5 .5z" color="#7a3"/>
<path d="M459.3 112.5l2.3-1.1l-1.4-1.4l-1.8 1.5z" color="#23a"/>
<path d="M422.3 111l.3-1.5l-3.9-.4l.3 1.7z" color="#26d"/>
<path d="M405.2 106.8l.3-.1l1.9-.6l-.3 .1z" color="#372"/>
<path d="M551.8 108.3l.3-.8l-5.5-1l-.1 .8z" color="#6b3"/>
<path d="M470.2 109.3l.7-.5l-1.2-3.3l-.7 .6z" color="#5a3"/>
<path d="M552.5 106.3l5.1-.2l.4 0z" color="#372"/>
<path d="M469.3 109.8l.9-.5l-1.2-3.2l-.8 .7z" color="#5a3"/>
<path d="M450.5 111.7l-1.9-1.5l-1.3 1.4l2.4 1z" color="#23a"/>
<path d="M494 111.7l1.6 .1l1.6-1.8l-1.9 .3z" color="#229"/>
<path d="M516.3 109.3l-.6 .1l4.2 .8l.1-.2z" color="#138"/>
<path d="M523.9 110l.5 .2l3.7-1l-.8-.1z" color="#238"/>
<path d="M407.7 106.6l-.3-.5l-1.9 .6l.3 .6z" color="#b31"/>
<path d="M541 107l-.3-1.5l-4.4 3.1l.5 1z" color="#6b3"/>
<path d="M468.2 110.4l1.1-.6l-1.1-3l-1 .8z" color="#4a3"/>
<path d="M436.5 103.7l-.7-.6l1.3 5.6l.5 .3z" color="#a31"/>
<path d="M546.4 109.5l.1-1.2l-5.5-1.3l.4 1.6z" color="#5b4"/>
<path d="M529.4 109.2l.6 0l3.7-2.2l-.7 .2z" color="#275"/>
<path d="M436.7 109.1l.4-.4l-1.3-5.6l-.5 .7z" color="#c32"/>
<path d="M437.3 104.5l-.8-.8l1.1 5.3l.6 .4z" color="#a62"/>
<path d="M414.5 109.1l-.6-1.3l-3.7 1.9l1 1.1z" color="#3a5"/>
<path d="M425.4 111.6l.8-1.4l-3.6-.7l-.3 1.5z" color="#25d"/>
<path d="M467 111l1.2-.6l-1-2.8l-1.1 .9z" color="#3a5"/>
<path d="M552.3 106.8l5 0l.3-.7l-5.1 .2z" color="#d42"/>
<path d="M510.7 107.6l-1-.2l5.1 2.1l.4 0z" color="#275"/>
<path d="M419 110.8l-.3-1.7l-3.5 1.3l.8 1.4z" color="#25d"/>
<path d="M438.3 105.4l-1-.9l.9 4.9l.7 .4z" color="#793"/>
<path d="M481.1 110.5l-1.8-.1l1.7 1.6l1.4-.1z" color="#228"/>
<path d="M408.2 107.2l-.5-.6l-1.9 .7l.5 .7z" color="#b62"/>
<path d="M551.5 109.3l.3-1l-5.3-1l0 1z" color="#5b4"/>
<path d="M439.4 106.4l-1.1-1l.6 4.4l.9 .5z" color="#593"/>
<path d="M465.6 111.6l1.4-.6l-.9-2.5l-1.3 .9z" color="#39b"/>
<path d="M436.1 109.7l.6-.6l-1.4-5.3l-.7 1.1z" color="#c72"/>
<path d="M490.8 112.1l1.4 .6l1.8-1l-1.9-.4z" color="#228"/>
<path d="M429.5 111.3l1.2-1.4l-3.8-1.1l-.7 1.4z" color="#3bb"/>
<path d="M440.7 107.4l-1.3-1l.4 3.9l1.1 .5z" color="#493"/>
<path d="M530 109.2l.4-.1l3.9-2.2l-.6 .1z" color="#273"/>
<path d="M495.6 111.8l1.3-.1l2-2.1l-1.7 .4z" color="#239"/>
<path d="M520 110l-.1 .2l4.5 0l-.5-.2z" color="#138"/>
<path d="M552.1 107.5l4.7 .3l.5-1l-5 0z" color="#d72"/>
<path d="M464 112.2l1.6-.6l-.8-2.2l-1.5 .9z" color="#25b"/>
<path d="M484.2 111.5l-1.8 .4l2.2 .9l1.1-.7z" color="#128"/>
<path d="M408.7 107.9l-.5-.7l-1.9 .8l.5 .8z" color="#7a3"/>
<path d="M442.2 108.5l-1.5-1.1l.2 3.4l1.2 .6z" color="#393"/>
<path d="M435.4 110.2l.7-.5l-1.5-4.8l-.8 1z" color="#8b3"/>
<path d="M541.4 108.6l-.4-1.6l-4.2 2.6l.7 1.1z" color="#5b4"/>
<path d="M443.7 109.5l-1.5-1l-.1 2.9l1.4 .6z" color="#299"/>
<path d="M509.7 107.4l-.9-.3l5.6 2.3l.4 .1z" color="#273"/>
<path d="M515.7 109.4l-.5 .1l4.6 .9l.1-.2z" color="#238"/>
<path d="M462.1 112.9l1.9-.7l-.7-1.9l-1.7 1.1z" color="#23a"/>
<path d="M530.4 109.1l.4-.1l4-2.3l-.5 .2z" color="#373"/>
<path d="M415.2 110.4l-.7-1.3l-3.3 1.7l1 1.1z" color="#39c"/>
<path d="M524.4 110.2l.4 .1l4-1.1l-.7 0z" color="#248"/>
<path d="M551.1 110.4l.4-1.1l-5-1l-.1 1.2z" color="#5b4"/>
<path d="M479.3 110.4l-1.4-.3l1.8 1.9l1.3 0z" color="#239"/>
<path d="M546.4 110.8l0-1.3l-5-.9l.5 1.6z" color="#4b4"/>
<path d="M445.4 110.5l-1.7-1l-.2 2.5l1.6 .6z" color="#25b"/>
<path d="M422 112.7l.3-1.7l-3.3-.2l.4 1.9z" color="#24c"/>
<path d="M551.8 108.3l4.4 .5l.6-1l-4.7-.3z" color="#9c3"/>
<path d="M496.9 111.7l1.1-.1l2.5-2.4l-1.6 .4z" color="#25a"/>
<path d="M409.4 108.8l-.7-.9l-1.9 .9l.6 1z" color="#5a3"/>
<path d="M434.6 110.9l.8-.7l-1.6-4.3l-.9 1.3z" color="#6b3"/>
<path d="M530.8 109l.2 0l4.2-2.4l-.4 .1z" color="#372"/>
<path d="M459.7 113.5l2.4-.6l-.5-1.5l-2.3 1.1z" color="#23a"/>
<path d="M447.3 111.6l-1.9-1.1l-.3 2.1l1.9 .5z" color="#23a"/>
<path d="M489.2 112.5l.6 .8l2.4-.6l-1.4-.6z" color="#128"/>
<path d="M428.1 112.6l1.4-1.3l-3.3-1.1l-.8 1.4z" color="#26d"/>
<path d="M485.7 112.1l-1.1 .7l2.5 .5l.3-.8z" color="#128"/>
<path d="M508.8 107.1l-.7-.3l6 2.6l.3 0z" color="#372"/>
<path d="M424.5 113.2l.9-1.6l-3.1-.6l-.3 1.7z" color="#24c"/>
<path d="M535.5 107.1l-.3-.5l-4.2 2.4l.4 .4z" color="#ab3"/>
<path d="M449.7 112.6l-2.4-1l-.3 1.5l2.4 .6z" color="#239"/>
<path d="M419.4 112.7l-.4-1.9l-3 1l.9 1.5z" color="#24b"/>
<path d="M551.5 109.3l4 .6l.7-1.1l-4.4-.5z" color="#6b3"/>
<path d="M498 111.6l1-.1l2.9-2.8l-1.4 .5z" color="#289"/>
<path d="M433.6 111.7l1-.8l-1.7-3.7l-1 1.3z" color="#5a3"/>
<path d="M477.9 110.1l-1.3-.3l1.9 2.1l1.2 .1z" color="#259"/>
<path d="M492.2 112.7l1 .4l2.4-1.3l-1.6-.1z" color="#228"/>
<path d="M519.9 110.2l-.1 .2l5-.1l-.4-.1z" color="#238"/>
<path d="M487.4 112.5l-.3 .8l2.7 0l-.6-.8z" color="#128"/>
<path d="M410.2 109.7l-.8-.9l-2 1l.7 1.2z" color="#4a3"/>
<path d="M515.2 109.5l-.4 0l4.9 .9l.1 0z" color="#258"/>
<path d="M541.9 110.2l-.5-1.6l-3.9 2.1l.7 1.2z" color="#4b4"/>
<path d="M416 111.8l-.8-1.4l-3 1.5l1.2 1.2z" color="#25c"/>
<path d="M535.9 107.8l-.4-.7l-4.1 2.3l.5 .6z" color="#8b3"/>
<path d="M550.6 111.7l.5-1.3l-4.7-.9l0 1.3z" color="#4b5"/>
<path d="M524.8 110.3l.4 .1l4.2-1.2l-.6 0z" color="#268"/>
<path d="M508.1 106.8l-.6-.2l6.3 2.7l.3 .1z" color="#372"/>
<path d="M482.4 111.9l-1.4 .1l2.8 1.2l.8-.4z" color="#128"/>
<path d="M499 111.5l.9-.2l3.4-3.1l-1.4 .5z" color="#384"/>
<path d="M546.3 112.3l.1-1.5l-4.5-.6l.5 1.8z" color="#3bb"/>
<path d="M432.4 112.6l1.2-.9l-1.7-3.2l-1.2 1.4z" color="#4a4"/>
<path d="M536.3 108.6l-.4-.8l-4 2.2l.6 .7z" color="#6b3"/>
<path d="M458.4 111.5l-1.4-.6l-1.7-.3l-1.8 0l-1.6 .4l-1.4 .7l-.8 .9l-.3 1.1l.4 1l.9 .9l1.4 .7l1.7 .3l1.8 0l1.7-.4l1.3-.7l.9-1l.2-1l-.4-1z" color="#229"/>
<path d="M476.6 109.8l-1.1-.3l1.9 2.3l1.1 .1z" color="#277"/>
<path d="M551.1 110.4l3.6 .8l.8-1.3l-4-.6z" color="#5b4"/>
<path d="M507.5 106.6l-.5-.3l6.6 3l.2 0z" color="#472"/>
<path d="M411.2 110.8l-1-1.1l-2.1 1.3l.9 1.2z" color="#393"/>
<path d="M514.8 109.5l-.4-.1l5.3 1.1l0-.1z" color="#277"/>
<path d="M426.6 114.1l1.5-1.5l-2.7-1l-.9 1.6z" color="#24b"/>
<path d="M499.9 111.3l.7-.1l3.8-3.6l-1.1 .6z" color="#383"/>
<path d="M536.8 109.6l-.5-1l-3.8 2.1l.8 .9z" color="#5a3"/>
<path d="M493.2 113.1l.9 .2l2.8-1.6l-1.3 .1z" color="#238"/>
<path d="M519.8 110.4l-.1 0l5.5 0l-.4-.1z" color="#258"/>
<path d="M513.6 109.8l0-.5l-6.6-3l.2 .9z" color="#d42"/>
<path d="M525.2 110.4l.3-.1l4.5-1.1l-.6 0z" color="#275"/>
<path d="M421.6 114.7l.4-2l-2.6 0l.4 2z" color="#23b"/>
<path d="M416.9 113.3l-.9-1.5l-2.6 1.3l1.5 1.3z" color="#23b"/>
<path d="M542.4 112l-.5-1.8l-3.7 1.7l.8 1.3z" color="#3ab"/>
<path d="M431.1 113.5l1.3-.9l-1.7-2.7l-1.2 1.4z" color="#3ab"/>
<path d="M550 113l.6-1.3l-4.2-.9l-.1 1.5z" color="#3ad"/>
<path d="M475.5 109.5l-1-.4l1.9 2.4l1 .3z" color="#373"/>
<path d="M500.6 111.2l.6-.2l4.2-3.8l-1 .4z" color="#483"/>
<path d="M489.8 113.3l.5 .5l2.9-.7l-1-.4z" color="#128"/>
<path d="M459.5 114.5l2.4-.1l.2-1.5l-2.4 .6z" color="#239"/>
<path d="M484.6 112.8l-.8 .4l3.1 .6l.2-.5z" color="#127"/>
<path d="M514.4 109.4l-.3 0l5.5 1l.1 .1z" color="#274"/>
<path d="M423.3 115l1.2-1.8l-2.5-.5l-.4 2z" color="#23b"/>
<path d="M481 112l-1.3 0l3.4 1.5l.7-.3z" color="#138"/>
<path d="M550.6 111.7l3.2 .8l.9-1.3l-3.6-.8z" color="#4b4"/>
<path d="M419.8 114.7l-.4-2l-2.5 .6l1.2 1.8z" color="#23a"/>
<path d="M501.2 111l.5-.2l4.6-4.1l-.9 .5z" color="#482"/>
<path d="M412.2 111.9l-1-1.1l-2.2 1.4l1 1.4z" color="#39a"/>
<path d="M461.9 114.4l1.9-.2l.2-2l-1.9 .7z" color="#23a"/>
<path d="M537.5 110.7l-.7-1.1l-3.5 2l.9 .9z" color="#4a3"/>
<path d="M449.4 113.7l-2.4-.6l.5 1.6l2.3 0z" color="#229"/>
<path d="M513.5 110.6l.1-.8l-6.4-2.6l.2 1.2z" color="#d72"/>
<path d="M474.5 109.1l-.8-.3l1.8 2.5l.9 .2z" color="#372"/>
<path d="M501.7 110.8l.4-.1l4.9-4.4l-.7 .4z" color="#582"/>
<path d="M546.2 113.8l.1-1.5l-3.9-.3l.5 1.7z" color="#26d"/>
<path d="M487.1 113.3l-.2 .5l3.4 0l-.5-.5z" color="#127"/>
<path d="M463.8 114.2l1.7-.4l.1-2.2l-1.6 .6z" color="#24a"/>
<path d="M525.5 110.3l.3-.1l4.6-1.1l-.4 .1z" color="#273"/>
<path d="M429.6 114.5l1.5-1l-1.6-2.2l-1.4 1.3z" color="#25c"/>
<path d="M514.1 109.4l-.3-.1l5.8 1.1z" color="#273"/>
<path d="M494.1 113.3l.8 .1l3.1-1.8l-1.1 .1z" color="#239"/>
<path d="M519.7 110.4l0 .1l5.8-.2l-.3 .1z" color="#276"/>
<path d="M447 113.1l-1.9-.5l.6 1.9l1.8 .2z" color="#239"/>
<path d="M465.5 113.8l1.5-.4l0-2.4l-1.4 .6z" color="#27b"/>
<path d="M507.2 107.2l-.2-.9l-4.9 4.4l.2 .5z" color="#d42"/>
<path d="M473.7 108.8l-.7-.2l1.7 2.4l.8 .3z" color="#372"/>
<path d="M467 113.4l1.5-.5l-.3-2.5l-1.2 .6z" color="#395"/>
<path d="M424.7 115.7l1.9-1.6l-2.1-.9l-1.2 1.8z" color="#23b"/>
<path d="M445.1 112.6l-1.6-.6l.8 2.3l1.4 .2z" color="#24a"/>
<path d="M513.5 111.5l0-.9l-6.1-2.2l.3 1.3z" color="#9c3"/>
<path d="M538.2 111.9l-.7-1.2l-3.3 1.8l1 1.1z" color="#3a5"/>
<path d="M549.4 114.4l.6-1.4l-3.7-.7l-.1 1.5z" color="#25d"/>
<path d="M513.8 109.3l-.2 0l5.9 1.1l.1 0z" color="#372"/>
<path d="M542.9 113.7l-.5-1.7l-3.4 1.2l1 1.4z" color="#25d"/>
<path d="M468.5 112.9l1.3-.6l-.5-2.5l-1.1 .6z" color="#493"/>
<path d="M550 113l2.8 .9l1-1.4l-3.2-.8z" color="#3bb"/>
<path d="M479.7 112l-1.2-.1l3.9 1.7l.7-.1z" color="#238"/>
<path d="M418.1 115.1l-1.2-1.8l-2 1.1l1.8 1.4z" color="#23a"/>
<path d="M525.8 110.2l.2-.1l4.8-1.1l-.4 .1z" color="#372"/>
<path d="M473 108.6l-.6-.3l1.6 2.4l.7 .3z" color="#472"/>
<path d="M443.5 112l-1.4-.6l.8 2.6l1.4 .3z" color="#26a"/>
<path d="M411.5 114.7l1.9-1.6l-1.2-1.2l-2.2 1.7l.2 .3z" color="#25b"/>
<path d="M469.8 112.3l1.2-.5l-.8-2.5l-.9 .5z" color="#493"/>
<path d="M507.4 108.4l-.2-1.2l-4.9 4l.4 .8z" color="#d72"/>
<path d="M427.8 115.5l1.8-1l-1.5-1.9l-1.5 1.5z" color="#24b"/>
<path d="M471 111.8l1-.5l-1.1-2.5l-.7 .5z" color="#593"/>
<path d="M490.3 113.8l.4 .4l3.4-.9l-.9-.2z" color="#128"/>
<path d="M519.3 110.9l.2-.5l-5.9-1.1l0 .5z" color="#bc3"/>
<path d="M442.1 111.4l-1.2-.6l.9 2.8l1.1 .4z" color="#385"/>
<path d="M483.8 113.2l-.7 .3l3.6 .7l.2-.4z" color="#127"/>
<path d="M494.9 113.4l.7 0l3.4-1.9l-1 .1z" color="#249"/>
<path d="M519.7 110.5l-.1-.1l6.2-.2l-.3 .1z" color="#274"/>
<path d="M472 111.3l.9-.4l-1.4-2.5l-.6 .4z" color="#7a3"/>
<path d="M472.4 108.3l-.4-.2l1.5 2.4l.5 .2z" color="#582"/>
<path d="M472.9 110.9l.6-.4l-1.5-2.4l-.5 .3z" color="#a82"/>
<path d="M440.9 110.8l-1.1-.5l1 3l1 .3z" color="#383"/>
<path d="M526 110.1l.2 0l4.8-1.1l-.2 0z" color="#372"/>
<path d="M414.9 114.4l-1.5-1.3l-1.9 1.6l1.9 1z" color="#23a"/>
<path d="M458.6 115.5l1.9 .3l1.4-1.4l-2.4 .1z" color="#229"/>
<path d="M439.8 110.3l-.9-.5l1 3.2l.9 .3z" color="#483"/>
<path d="M513.4 112.5l.1-1l-5.8-1.8l.3 1.4z" color="#6b3"/>
<path d="M539 113.2l-.8-1.3l-3 1.7l1.2 1.1z" color="#39c"/>
<path d="M519.1 111.7l.2-.8l-5.7-1.1l-.1 .8z" color="#8c3"/>
<path d="M438.9 109.8l-.7-.4l1.1 3.3l.6 .3z" color="#482"/>
<path d="M507.7 109.7l-.3-1.3l-4.7 3.6l.4 .8z" color="#8c3"/>
<path d="M546.1 115.5l.1-1.7l-3.3-.1l.6 1.8z" color="#24c"/>
<path d="M486.9 113.8l-.2 .4l4 0l-.4-.4z" color="#127"/>
<path d="M449.8 114.7l-2.3 0l1.3 1.3l1.9-.4z" color="#228"/>
<path d="M531.4 109.4l-.4-.4l-4.8 1.1l.7 .6z" color="#b31"/>
<path d="M438.2 109.4l-.6-.4l1.1 3.5l.6 .2z" color="#582"/>
<path d="M478.5 111.9l-1.1-.1l4.5 1.8l.5 0z" color="#258"/>
<path d="M437.6 109l-.5-.3l1.1 3.6l.5 .2z" color="#682"/>
<path d="M519.6 110.4l6.4-.3l-.2 .1z" color="#372"/>
<path d="M549.4 114.4l2.4 .9l1-1.4l-2.8-.9z" color="#26d"/>
<path d="M495.6 113.4l.6 0l3.7-2.1l-.9 .2z" color="#278"/>
<path d="M437.8 112.6l.4-.3l-1.1-3.6l-.4 .4z" color="#9a3"/>
<path d="M531.9 110l-.5-.6l-4.5 1.3l.9 .8z" color="#b62"/>
<path d="M437.1 113l.7-.4l-1.1-3.5l-.6 .6z" color="#7a3"/>
<path d="M425.5 116.6l2.3-1.1l-1.2-1.4l-1.9 1.6z" color="#23a"/>
<path d="M518.8 112.5l.3-.8l-5.6-1.1l0 .9z" color="#6b3"/>
<path d="M548.7 116l.7-1.6l-3.2-.6l-.1 1.7z" color="#24c"/>
<path d="M436.4 113.4l.7-.4l-1-3.3l-.7 .5z" color="#5a3"/>
<path d="M543.5 115.5l-.6-1.8l-2.9 .9l1.1 1.6z" color="#24b"/>
<path d="M435.5 114l.9-.6l-1-3.2l-.8 .7z" color="#5a3"/>
<path d="M532.5 110.7l-.6-.7l-4.1 1.5l1 .9z" color="#7a3"/>
<path d="M416.7 115.8l-1.8-1.4l-1.5 1.3l2.4 1.1z" color="#23a"/>
<path d="M460.5 115.8l1.5 .1l1.8-1.7l-1.9 .2z" color="#229"/>
<path d="M483.1 113.5l-.7 .1l4.2 .8l.1-.2z" color="#138"/>
<path d="M490.7 114.2l.4 .2l3.8-1l-.8-.1z" color="#238"/>
<path d="M508 111.1l-.3-1.4l-4.6 3.1l.5 .9z" color="#6b3"/>
<path d="M410.2 113.9l1.2 1.4l.1-.6z" color="#25b"/>
<path d="M519.6 110.4l-.1 0l6.7-.3l-.2 0z" color="#372"/>
<path d="M434.4 114.5l1.1-.5l-.9-3.1l-1 .8z" color="#4a3"/>
<path d="M513.3 113.7l.1-1.2l-5.4-1.4l.3 1.6z" color="#5b4"/>
<path d="M540 114.6l-1-1.4l-2.6 1.5l1.3 1.2z" color="#25c"/>
<path d="M496.2 113.4l.5-.1l3.9-2.1l-.7 .1z" color="#275"/>
<path d="M433.2 115.2l1.2-.7l-.8-2.8l-1.2 .9z" color="#3a5"/>
<path d="M477.4 111.8l-1-.3l5 2.1l.5 0z" color="#275"/>
<path d="M533.3 111.6l-.8-.9l-3.7 1.7l1.2 .9z" color="#5a3"/>
<path d="M447.5 114.7l-1.8-.2l1.6 1.7l1.5-.2z" color="#228"/>
<path d="M518.4 113.5l.4-1l-5.3-1l-.1 1z" color="#5b4"/>
<path d="M525.7 110.8l.5-.7l-6.7 .3l-.2 .5z" color="#d42"/>
<path d="M431.8 115.8l1.4-.6l-.8-2.6l-1.3 .9z" color="#39b"/>
<path d="M457.3 116.2l1.3 .7l1.9-1.1l-1.9-.3z" color="#228"/>
<path d="M496.7 113.3l.4 0l4.1-2.3l-.6 .2z" color="#273"/>
<path d="M462 115.9l1.3 0l2.2-2.1l-1.7 .4z" color="#239"/>
<path d="M486.7 114.2l-.1 .2l4.5 0l-.4-.2z" color="#138"/>
<path d="M548.7 116l1.8 .8l1.3-1.5l-2.4-.9z" color="#24b"/>
<path d="M534.2 112.5l-.9-.9l-3.3 1.7l1.3 1.1z" color="#4a3"/>
<path d="M430.2 116.4l1.6-.6l-.7-2.3l-1.5 1z" color="#25b"/>
<path d="M450.7 115.6l-1.9 .4l2.2 1l1.1-.7z" color="#128"/>
<path d="M413.4 115.7l-1.9-1l-.1 .6l1.7 1.9z" color="#23a"/>
<path d="M525.1 111.8l.6-1l-6.4 .1l-.2 .8z" color="#d72"/>
<path d="M508.3 112.7l-.3-1.6l-4.4 2.6l.6 1.1z" color="#5b4"/>
<path d="M476.4 111.5l-.9-.2l5.5 2.3l.4 0z" color="#273"/>
<path d="M482.4 113.6l-.5 0l4.5 .9l.2-.1z" color="#238"/>
<path d="M428.3 117.1l1.9-.7l-.6-1.9l-1.8 1z" color="#23a"/>
<path d="M497.1 113.3l.4-.1l4.2-2.4l-.5 .2z" color="#373"/>
<path d="M491.1 114.4l.3 .1l4.2-1.1l-.7 0z" color="#248"/>
<path d="M517.9 114.6l.5-1.1l-5-1l-.1 1.2z" color="#5b4"/>
<path d="M445.7 114.5l-1.4-.2l1.7 1.9l1.3 0z" color="#239"/>
<path d="M546 117.5l.1-2l-2.6 0l.7 2.1z" color="#23b"/>
<path d="M513.2 115l.1-1.3l-5-1l.4 1.7z" color="#4b4"/>
<path d="M541.1 116.2l-1.1-1.6l-2.3 1.3l1.6 1.3z" color="#23b"/>
<path d="M535.2 113.6l-1-1.1l-2.9 1.9l1.5 1.1z" color="#393"/>
<path d="M463.3 115.9l1.1-.1l2.6-2.4l-1.5 .4z" color="#25a"/>
<path d="M497.5 113.2l.2-.1l4.4-2.4l-.4 .1z" color="#372"/>
<path d="M425.9 117.7l2.4-.6l-.5-1.6l-2.3 1.1z" color="#23a"/>
<path d="M524.4 112.9l.7-1.1l-6-.1l-.3 .8z" color="#9c3"/>
<path d="M547.7 117.9l1-1.9l-2.6-.5l-.1 2z" color="#23b"/>
<path d="M455.6 116.6l.5 .9l2.5-.6l-1.3-.7z" color="#128"/>
<path d="M544.2 117.6l-.7-2.1l-2.4 .7l1.5 1.8z" color="#23a"/>
<path d="M452.1 116.3l-1.1 .7l2.5 .5l.3-.9z" color="#128"/>
<path d="M475.5 111.3l-.8-.3l6 2.6l.3 0z" color="#372"/>
<path d="M502.3 111.2l-.2-.5l-4.4 2.4l.4 .5z" color="#ab3"/>
<path d="M536.4 114.7l-1.2-1.1l-2.4 1.9l1.6 1z" color="#39a"/>
<path d="M464.4 115.8l1-.1l3.1-2.8l-1.5 .5z" color="#289"/>
<path d="M415.5 117.9l.3-1.1l-2.4-1.1l-.3 1.5l.2 .2z" color="#239"/>
<path d="M444.3 114.3l-1.4-.3l1.8 2.1l1.3 .1z" color="#259"/>
<path d="M458.6 116.9l1 .3l2.4-1.3l-1.5-.1z" color="#228"/>
<path d="M486.6 114.4l-.2 .1l5 0l-.3-.1z" color="#238"/>
<path d="M453.8 116.6l-.3 .9l2.6 0l-.5-.9z" color="#128"/>
<path d="M481.9 113.6l-.5 0l4.9 1l.1-.1z" color="#258"/>
<path d="M508.7 114.4l-.4-1.7l-4.1 2.1l.7 1.3z" color="#4b4"/>
<path d="M502.7 112l-.4-.8l-4.2 2.4l.5 .6z" color="#8b3"/>
<path d="M517.4 115.8l.5-1.2l-4.6-.9l-.1 1.3z" color="#4b5"/>
<path d="M523.5 114.2l.9-1.3l-5.6-.4l-.4 1z" color="#6b3"/>
<path d="M491.4 114.5l.4 0l4.4-1.1l-.6 0z" color="#268"/>
<path d="M474.7 111l-.7-.3l6.4 2.8l.3 .1z" color="#372"/>
<path d="M448.8 116l-1.5 .2l2.7 1.2l1-.4z" color="#128"/>
<path d="M547.7 117.9l1.3 .5l1.5-1.6l-1.8-.8z" color="#23b"/>
<path d="M465.4 115.7l.8-.2l3.6-3.2l-1.3 .6z" color="#384"/>
<path d="M513.1 116.5l.1-1.5l-4.5-.6l.4 1.7z" color="#3bb"/>
<path d="M537.7 115.9l-1.3-1.2l-2 1.8l1.8 1z" color="#25b"/>
<path d="M503.1 112.8l-.4-.8l-4.1 2.2l.6 .7z" color="#6b3"/>
<path d="M424.7 115.7l-1.4-.7l-1.7-.3l-1.8 0l-1.7 .4l-1.4 .7l-.9 1l-.3 1.1l.3 1l.8 .9l1.4 .7l1.7 .4l1.9-.1l1.7-.4l1.3-.7l1-1l.3-1l-.4-1.1z" color="#229"/>
<path d="M442.9 114l-1.1-.4l1.8 2.4l1.1 .1z" color="#277"/>
<path d="M542.6 118l-1.5-1.8l-1.8 1l2 1.5z" color="#23a"/>
<path d="M474 110.7l-.5-.2l6.7 3l.2 0z" color="#472"/>
<path d="M481.4 113.6l-.4 0l5.2 1l.1 0z" color="#277"/>
<path d="M466.2 115.5l.8-.1l4-3.6l-1.2 .5z" color="#383"/>
<path d="M522.5 115.5l1-1.3l-5.1-.7l-.5 1.1z" color="#5b4"/>
<path d="M503.6 113.7l-.5-.9l-3.9 2.1l.7 .9z" color="#5a3"/>
<path d="M459.6 117.2l.8 .3l2.9-1.6l-1.3 0z" color="#238"/>
<path d="M486.4 114.5l-.1 .1l5.5-.1l-.4 0z" color="#258"/>
<path d="M480.1 114l.1-.5l-6.7-3l.2 .9z" color="#d42"/>
<path d="M491.8 114.5l.3 0l4.6-1.2l-.5 .1z" color="#275"/>
<path d="M509.1 116.1l-.4-1.7l-3.8 1.7l.8 1.3z" color="#3ab"/>
<path d="M516.8 117.2l.6-1.4l-4.2-.8l-.1 1.5z" color="#3ad"/>
<path d="M539.3 117.2l-1.6-1.3l-1.5 1.6l2 1.1z" color="#23a"/>
<path d="M441.8 113.6l-1-.3l1.7 2.4l1.1 .3z" color="#373"/>
<path d="M467 115.4l.5-.2l4.5-3.9l-1 .5z" color="#483"/>
<path d="M456.1 117.5l.5 .5l3-.8l-1-.3z" color="#128"/>
<path d="M425.6 118.7l2.3-.1l.4-1.5l-2.4 .6z" color="#239"/>
<path d="M451 117l-1 .4l3.2 .6l.3-.5z" color="#127"/>
<path d="M481 113.6l-.3 0l5.4 1l.1 0z" color="#274"/>
<path d="M447.3 116.2l-1.3 0l3.3 1.5l.7-.3z" color="#138"/>
<path d="M467.5 115.2l.5-.1l4.9-4.2l-.9 .4z" color="#482"/>
<path d="M415.5 117.9l-2.2-.5l1.7 1.5l.8 0z" color="#229"/>
<path d="M427.9 118.6l2-.2l.3-2l-1.9 .7z" color="#23a"/>
<path d="M504.2 114.8l-.6-1.1l-3.7 2.1l.9 .9z" color="#4a3"/>
<path d="M480 114.8l.1-.8l-6.4-2.6l.2 1.2z" color="#d72"/>
<path d="M521.5 116.9l1-1.4l-4.6-.9l-.5 1.2z" color="#4b4"/>
<path d="M440.8 113.3l-.9-.3l1.7 2.5l.9 .2z" color="#372"/>
<path d="M468 115.1l.4-.2l5.1-4.4l-.6 .4z" color="#582"/>
<path d="M513 118l.1-1.5l-4-.4l.5 1.8z" color="#26d"/>
<path d="M453.5 117.5l-.3 .5l3.4 0l-.5-.5z" color="#127"/>
<path d="M429.9 118.4l1.6-.4l.3-2.2l-1.6 .6z" color="#24a"/>
<path d="M492.1 114.5l.2 0l4.8-1.2l-.4 0z" color="#273"/>
<path d="M480.7 113.6l-.3-.1l5.7 1.1z" color="#273"/>
<path d="M460.4 117.5l.8 .1l3.2-1.8l-1.1 .1z" color="#239"/>
<path d="M486.3 114.6l-.1 0l5.9-.1l-.3 0z" color="#276"/>
<path d="M431.5 118l1.6-.4l.1-2.4l-1.4 .6z" color="#27b"/>
<path d="M541.3 118.7l-2-1.5l-1.1 1.4l2.4 1z" color="#23a"/>
<path d="M473.7 111.4l-.2-.9l-5.1 4.4l.3 .6z" color="#d42"/>
<path d="M439.9 113l-.6-.3l1.5 2.5l.8 .3z" color="#372"/>
<path d="M526.9 110.7l-.7-.6l1.9 5.7l.5 .3z" color="#a31"/>
<path d="M433.1 117.6l1.5-.5l-.2-2.6l-1.2 .7z" color="#395"/>
<path d="M527.7 116.2l.4-.4l-1.9-5.7l-.5 .7z" color="#c32"/>
<path d="M527.8 111.5l-.9-.8l1.7 5.4l.6 .4z" color="#a62"/>
<path d="M479.9 115.7l.1-.9l-6.1-2.2l.2 1.3z" color="#9c3"/>
<path d="M504.9 116.1l-.7-1.3l-3.4 1.9l1 1.1z" color="#3a5"/>
<path d="M516.2 118.6l.6-1.4l-3.7-.7l-.1 1.5z" color="#25d"/>
<path d="M480.4 113.5l-.2 0l5.8 1.1l.1 0z" color="#372"/>
<path d="M509.6 117.9l-.5-1.8l-3.4 1.3l.9 1.4z" color="#25d"/>
<path d="M528.8 112.4l-1-.9l1.4 5l.8 .4z" color="#793"/>
<path d="M434.6 117.1l1.3-.5l-.4-2.6l-1.1 .5z" color="#493"/>
<path d="M446 116.2l-1.3-.1l3.9 1.7l.7-.1z" color="#238"/>
<path d="M492.3 114.5l.2-.1l5-1.2l-.4 .1z" color="#372"/>
<path d="M439.3 112.7l-.6-.2l1.4 2.5l.7 .2z" color="#472"/>
<path d="M530 113.3l-1.2-.9l1.2 4.5l.9 .5z" color="#593"/>
<path d="M435.9 116.6l1.1-.6l-.6-2.6l-.9 .6z" color="#493"/>
<path d="M527.1 116.7l.6-.5l-2-5.4l-.6 1z" color="#c72"/>
<path d="M473.9 112.6l-.2-1.2l-5 4.1l.3 .7z" color="#d72"/>
<path d="M520.3 118.3l1.2-1.4l-4.1-1.1l-.6 1.4z" color="#3bb"/>
<path d="M531.3 114.4l-1.3-1.1l.9 4.1l1 .5z" color="#493"/>
<path d="M437 116l1-.4l-.9-2.6l-.7 .4z" color="#593"/>
<path d="M456.6 118l.3 .4l3.5-.9l-.8-.3z" color="#128"/>
<path d="M485.8 115.2l.2-.6l-5.8-1.1l-.1 .5z" color="#bc3"/>
<path d="M450 117.4l-.7 .3l3.7 .7l.2-.4z" color="#127"/>
<path d="M461.2 117.6l.6 0l3.6-1.9l-1 .1z" color="#249"/>
<path d="M486.2 114.6l-.1 0l6.2-.1l-.2 0z" color="#274"/>
<path d="M438 115.6l.9-.5l-1.1-2.5l-.7 .4z" color="#7a3"/>
<path d="M438.7 112.5l-.5-.2l1.4 2.4l.5 .3z" color="#582"/>
<path d="M532.8 115.5l-1.5-1.1l.6 3.5l1.3 .6z" color="#393"/>
<path d="M438.9 115.1l.7-.4l-1.4-2.4l-.4 .3z" color="#a82"/>
<path d="M415.8 118.9l-.8 0l1.2 1.1l.4-.2z" color="#228"/>
<path d="M526.5 117.3l.6-.6l-2-4.9l-.7 1.1z" color="#8b3"/>
<path d="M492.5 114.4l.2-.1l5-1.2l-.2 .1z" color="#372"/>
<path d="M424.6 119.7l1.9 .3l1.4-1.4l-2.3 .1z" color="#229"/>
<path d="M534.4 116.5l-1.6-1l.4 3l1.4 .6z" color="#299"/>
<path d="M479.8 116.7l.1-1l-5.8-1.8l.3 1.4z" color="#6b3"/>
<path d="M546 117.5l-1.8 .1l-1.6 .4l-1.3 .7l-.7 .9l-.1 1.1l.5 1.1l1.1 .9l.5 .3l6.4-4.6l-1.3-.5z" color="#229"/>
<path d="M505.7 117.4l-.8-1.3l-3.1 1.7l1.2 1.1z" color="#39c"/>
<path d="M485.5 115.9l.3-.7l-5.7-1.2l-.1 .8z" color="#8c3"/>
<path d="M474.1 113.9l-.2-1.3l-4.9 3.6l.4 .8z" color="#8c3"/>
<path d="M536.2 117.5l-1.8-1l.2 2.6l1.6 .5z" color="#25b"/>
<path d="M512.8 119.7l.2-1.7l-3.4-.1l.5 1.8z" color="#24c"/>
<path d="M453.2 118l-.2 .4l3.9 0l-.3-.4z" color="#127"/>
<path d="M498.1 113.6l-.4-.5l-5 1.2l.7 .6z" color="#b31"/>
<path d="M525.7 118l.8-.7l-2.1-4.4l-.9 1.3z" color="#6b3"/>
<path d="M444.7 116.1l-1.1-.1l4.4 1.9l.6-.1z" color="#258"/>
<path d="M486.1 114.6l6.4-.2l-.2 .1z" color="#372"/>
<path d="M461.8 117.6l.6 0l3.8-2.1l-.8 .2z" color="#278"/>
<path d="M538.2 118.6l-2-1.1l0 2.1l1.9 .6z" color="#23a"/>
<path d="M498.6 114.2l-.5-.6l-4.7 1.3l.9 .8z" color="#b62"/>
<path d="M519.1 119.7l1.2-1.4l-3.5-1.1l-.6 1.4z" color="#26d"/>
<path d="M485.2 116.7l.3-.8l-5.5-1.1l-.1 .9z" color="#6b3"/>
<path d="M515.4 120.3l.8-1.7l-3.2-.6l-.2 1.7z" color="#24c"/>
<path d="M540.6 119.6l-2.4-1l-.1 1.6l2.4 .5z" color="#239"/>
<path d="M510.1 119.7l-.5-1.8l-3 .9l1.1 1.6z" color="#24b"/>
<path d="M499.2 114.9l-.6-.7l-4.3 1.5l1 .9z" color="#7a3"/>
<path d="M524.7 118.8l1-.8l-2.2-3.8l-1 1.3z" color="#5a3"/>
<path d="M426.5 120l1.5 .2l1.9-1.8l-2 .2z" color="#229"/>
<path d="M449.3 117.7l-.7 .1l4.2 .8l.2-.2z" color="#138"/>
<path d="M456.9 118.4l.4 .2l3.9-1l-.8-.1z" color="#238"/>
<path d="M474.4 115.3l-.3-1.4l-4.7 3.1l.5 1z" color="#6b3"/>
<path d="M486.1 114.6l-.1 0l6.7-.3l-.2 .1z" color="#372"/>
<path d="M479.7 117.9l.1-1.2l-5.4-1.4l.3 1.6z" color="#5b4"/>
<path d="M506.6 118.8l-.9-1.4l-2.7 1.5l1.3 1.2z" color="#25c"/>
<path d="M462.4 117.6l.5 0l4.1-2.2l-.8 .1z" color="#275"/>
<path d="M416.6 119.8l-.4 .2l1.4 .8l.4-.3z" color="#128"/>
<path d="M443.6 116l-1.1-.3l5 2.2l.5 0z" color="#275"/>
<path d="M499.9 115.8l-.7-.9l-3.9 1.7l1.2 1z" color="#5a3"/>
<path d="M484.8 117.7l.4-1l-5.3-1l-.1 1z" color="#5b4"/>
<path d="M492.2 115.1l.5-.8l-6.7 .3l-.2 .6z" color="#d42"/>
<path d="M423.3 120.4l1.2 .7l2-1.1l-1.9-.3z" color="#228"/>
<path d="M523.6 119.7l1.1-.9l-2.2-3.3l-1 1.4z" color="#4a4"/>
<path d="M462.9 117.6l.4-.1l4.2-2.3l-.5 .2z" color="#273"/>
<path d="M428 120.2l1.2 0l2.3-2.2l-1.6 .4z" color="#239"/>
<path d="M453 118.4l-.2 .2l4.5 0l-.4-.2z" color="#138"/>
<path d="M500.8 116.7l-.9-.9l-3.4 1.8l1.3 1z" color="#4a3"/>
<path d="M517.6 121.2l1.5-1.5l-2.9-1.1l-.8 1.7z" color="#24b"/>
<path d="M491.5 116.1l.7-1l-6.4 .1l-.3 .7z" color="#d72"/>
<path d="M474.7 116.9l-.3-1.6l-4.5 2.7l.6 1.1z" color="#5b4"/>
<path d="M442.5 115.7l-.9-.2l5.5 2.4l.4 0z" color="#273"/>
<path d="M448.6 117.8l-.6 .1l4.6 .9l.2-.2z" color="#238"/>
<path d="M463.3 117.5l.3 0l4.4-2.4l-.5 .1z" color="#373"/>
<path d="M457.3 118.6l.3 .2l4.2-1.2l-.6 0z" color="#248"/>
<path d="M484.3 118.8l.5-1.1l-5-1l-.1 1.2z" color="#5b4"/>
<path d="M512.6 121.8l.2-2.1l-2.7 0l.7 2.1z" color="#23b"/>
<path d="M507.7 120.4l-1.1-1.6l-2.3 1.3l1.5 1.4z" color="#23b"/>
<path d="M479.6 119.3l.1-1.4l-5-1l.3 1.7z" color="#4b4"/>
<path d="M522.3 120.6l1.3-.9l-2.1-2.8l-1.2 1.4z" color="#3ab"/>
<path d="M501.8 117.8l-1-1.1l-3 1.9l1.5 1.1z" color="#393"/>
<path d="M429.2 120.2l1.1-.1l2.8-2.5l-1.6 .4z" color="#25a"/>
<path d="M418 120.5l-.4 .3l1.7 .9l.4-.8z" color="#128"/>
<path d="M463.6 117.5l.3-.1l4.5-2.5l-.4 .2z" color="#372"/>
<path d="M490.8 117.2l.7-1.1l-6-.2l-.3 .8z" color="#9c3"/>
<path d="M514.3 122.1l1.1-1.8l-2.6-.6l-.2 2.1z" color="#23b"/>
<path d="M421.6 120.8l.4 .9l2.5-.6l-1.2-.7z" color="#128"/>
<path d="M510.8 121.8l-.7-2.1l-2.4 .7l1.4 1.8z" color="#23a"/>
<path d="M441.6 115.5l-.8-.3l5.9 2.6l.4 .1z" color="#372"/>
<path d="M540.5 120.7l-2.4-.5l.8 1.6l2.1 0z" color="#229"/>
<path d="M468.7 115.5l-.3-.6l-4.5 2.5l.3 .5z" color="#ab3"/>
<path d="M503 118.9l-1.2-1.1l-2.5 1.9l1.6 1.1z" color="#39a"/>
<path d="M430.3 120.1l1-.2l3.3-2.8l-1.5 .5z" color="#289"/>
<path d="M452.8 118.6l-.2 .2l5 0l-.3-.2z" color="#238"/>
<path d="M424.5 121.1l.9 .4l2.6-1.3l-1.5-.2z" color="#228"/>
<path d="M520.9 121.6l1.4-1l-2-2.3l-1.2 1.4z" color="#25c"/>
<path d="M448 117.9l-.5 0l4.9 1l.2-.1z" color="#258"/>
<path d="M475 118.6l-.3-1.7l-4.2 2.2l.6 1.2z" color="#4b4"/>
<path d="M469 116.2l-.3-.7l-4.5 2.4l.6 .6z" color="#8b3"/>
<path d="M538.1 120.2l-1.9-.6l.9 2l1.8 .2z" color="#239"/>
<path d="M483.8 120.1l.5-1.3l-4.6-.9l-.1 1.4z" color="#4b5"/>
<path d="M489.9 118.4l.9-1.2l-5.6-.5l-.4 1z" color="#6b3"/>
<path d="M421.6 120.8l-1.9 .1l-.4 .8l.1 .1l2.6-.1z" color="#128"/>
<path d="M457.6 118.8l.3 0l4.5-1.2l-.6 0z" color="#268"/>
<path d="M440.8 115.2l-.7-.2l6.3 2.8l.3 0z" color="#372"/>
<path d="M515.8 122.8l1.8-1.6l-2.2-.9l-1.1 1.8z" color="#23b"/>
<path d="M536.2 119.6l-1.6-.5l1.1 2.3l1.4 .2z" color="#24a"/>
<path d="M431.3 119.9l.8-.1l3.8-3.2l-1.3 .5z" color="#384"/>
<path d="M479.4 120.7l.2-1.4l-4.6-.7l.4 1.8z" color="#3bb"/>
<path d="M504.3 120.1l-1.3-1.2l-2.1 1.9l1.7 1z" color="#25b"/>
<path d="M469.4 117l-.4-.8l-4.2 2.3l.5 .7z" color="#6b3"/>
<path d="M509.1 122.2l-1.4-1.8l-1.9 1.1l2 1.4z" color="#23a"/>
<path d="M534.6 119.1l-1.4-.6l1.2 2.6l1.3 .3z" color="#26a"/>
<path d="M440.1 115l-.5-.3l6.6 3l.2 .1z" color="#472"/>
<path d="M447.5 117.9l-.4 0l5.2 1l.1 0z" color="#277"/>
<path d="M519.1 122.6l1.8-1l-1.8-1.9l-1.5 1.5z" color="#24b"/>
<path d="M432.1 119.8l.7-.2l4.2-3.6l-1.1 .6z" color="#383"/>
<path d="M488.9 119.8l1-1.4l-5.1-.7l-.5 1.1z" color="#5b4"/>
<path d="M533.2 118.5l-1.3-.6l1.4 2.9l1.1 .3z" color="#385"/>
<path d="M469.9 118l-.5-1l-4.1 2.2l.8 .8z" color="#5a3"/>
<path d="M425.4 121.5l.8 .2l3-1.5l-1.2 0z" color="#238"/>
<path d="M452.6 118.8l-.2 .1l5.5-.1l-.3 0z" color="#258"/>
<path d="M531.9 117.9l-1-.5l1.4 3l1 .4z" color="#383"/>
<path d="M446.1 118.3l.1-.6l-6.6-3l.1 .9z" color="#d42"/>
<path d="M457.9 118.8l.2 0l4.8-1.2l-.5 0z" color="#275"/>
<path d="M475.4 120.4l-.4-1.8l-3.9 1.7l.8 1.4z" color="#3ab"/>
<path d="M483.1 121.5l.7-1.4l-4.2-.8l-.2 1.4z" color="#3ad"/>
<path d="M505.8 121.5l-1.5-1.4l-1.7 1.7l2 1z" color="#23a"/>
<path d="M432.8 119.6l.6-.1l4.6-3.9l-1 .4z" color="#483"/>
<path d="M530.9 117.4l-.9-.5l1.5 3.2l.8 .3z" color="#483"/>
<path d="M422 121.7l.3 .6l3.1-.8l-.9-.4z" color="#128"/>
<path d="M530 116.9l-.8-.4l1.6 3.4l.7 .2z" color="#482"/>
<path d="M447.1 117.9l-.4-.1l5.5 1.1l.1 0z" color="#274"/>
<path d="M541 121.8l-2.1 0l1.5 1.4l1.7-.5z" color="#228"/>
<path d="M529.2 116.5l-.6-.4l1.7 3.5l.5 .3z" color="#582"/>
<path d="M433.4 119.5l.5-.2l5-4.2l-.9 .5z" color="#482"/>
<path d="M528.6 116.1l-.5-.3l1.7 3.6l.5 .2z" color="#682"/>
<path d="M470.5 119.1l-.6-1.1l-3.8 2l.8 1z" color="#4a3"/>
<path d="M446 119.1l.1-.8l-6.4-2.7l.2 1.2z" color="#d72"/>
<path d="M529.4 119.7l.4-.3l-1.7-3.6l-.4 .4z" color="#9a3"/>
<path d="M487.8 121.2l1.1-1.4l-4.6-1l-.5 1.3z" color="#4b4"/>
<path d="M528.7 120.1l.7-.4l-1.7-3.5l-.6 .5z" color="#7a3"/>
<path d="M516.9 123.7l2.2-1.1l-1.5-1.4l-1.8 1.6z" color="#23a"/>
<path d="M433.9 119.3l.3-.1l5.4-4.5l-.7 .4z" color="#582"/>
<path d="M479.2 122.3l.2-1.6l-4-.3l.4 1.7z" color="#26d"/>
<path d="M419.4 121.8l1.6 .6l1.3-.1l-.3-.6z" color="#127"/>
<path d="M528 120.6l.7-.5l-1.6-3.4l-.6 .6z" color="#5a3"/>
<path d="M458.1 118.8l.2-.1l5-1.2l-.4 .1z" color="#273"/>
<path d="M446.7 117.8l-.3 0l5.7 1.1l.1 0z" color="#273"/>
<path d="M426.2 121.7l.8 .1l3.3-1.7l-1.1 .1z" color="#239"/>
<path d="M527.1 121.1l.9-.5l-1.5-3.3l-.8 .7z" color="#5a3"/>
<path d="M452.4 118.9l-.1 0l5.8-.1l-.2 0z" color="#276"/>
<path d="M507.8 122.9l-2-1.4l-1.2 1.3l2.4 1.1z" color="#23a"/>
<path d="M439.7 115.6l-.1-.9l-5.4 4.5l.3 .5z" color="#d42"/>
<path d="M526 121.7l1.1-.6l-1.4-3.1l-1 .8z" color="#4a3"/>
<path d="M493.4 114.9l-.7-.6l1.7 5.8l.5 .3z" color="#a31"/>
<path d="M494 120.5l.4-.4l-1.7-5.8l-.5 .8z" color="#c32"/>
<path d="M494.3 115.7l-.9-.8l1.5 5.5l.6 .3z" color="#a62"/>
<path d="M445.9 119.9l.1-.8l-6.1-2.3l.2 1.3z" color="#9c3"/>
<path d="M471.1 120.3l-.6-1.2l-3.6 1.9l1 1.1z" color="#3a5"/>
<path d="M482.4 122.9l.7-1.4l-3.7-.8l-.2 1.6z" color="#25d"/>
<path d="M524.8 122.3l1.2-.6l-1.3-2.9l-1.1 .9z" color="#3a5"/>
<path d="M446.4 117.8l-.2-.1l5.8 1.2l.1 0z" color="#372"/>
<path d="M475.8 122.1l-.4-1.7l-3.5 1.3l.9 1.4z" color="#25d"/>
<path d="M495.3 116.6l-1-.9l1.2 5l.7 .5z" color="#793"/>
<path d="M538.9 121.8l-1.8-.2l1.9 1.7l1.4-.1z" color="#228"/>
<path d="M542.1 122.7l-1.7 .5l.6 .3l1.6-.5z" color="#128"/>
<path d="M458.3 118.7l.2-.1l5.1-1.1l-.3 0z" color="#372"/>
<path d="M496.5 117.6l-1.2-1l.9 4.6l1 .4z" color="#593"/>
<path d="M523.3 122.9l1.5-.6l-1.2-2.6l-1.3 .9z" color="#39b"/>
<path d="M493.4 121l.6-.5l-1.8-5.4l-.7 1z" color="#c72"/>
<path d="M439.9 116.8l-.2-1.2l-5.2 4.1l.3 .8z" color="#d72"/>
<path d="M486.6 122.6l1.2-1.4l-4-1.1l-.7 1.4z" color="#3bb"/>
<path d="M497.8 118.6l-1.3-1l.7 4l1 .6z" color="#493"/>
<path d="M422.3 122.3l.3 .4l3.6-1l-.8-.2z" color="#128"/>
<path d="M451.8 119.4l.2-.5l-5.8-1.2l-.1 .6z" color="#bc3"/>
<path d="M427 121.8l.6 .1l3.7-2l-1 .2z" color="#249"/>
<path d="M452.3 118.9l-.1 0l6.1-.2l-.2 .1z" color="#274"/>
<path d="M521.8 123.6l1.5-.7l-1-2.3l-1.4 1z" color="#25b"/>
<path d="M499.3 119.7l-1.5-1.1l.4 3.6l1.3 .6z" color="#393"/>
<path d="M492.7 121.6l.7-.6l-1.9-4.9l-.7 1.1z" color="#8b3"/>
<path d="M458.5 118.6l.2 0l5.2-1.2l-.3 .1z" color="#372"/>
<path d="M500.9 120.8l-1.6-1.1l.2 3.1l1.4 .5z" color="#299"/>
<path d="M519.8 124.2l2-.6l-.9-2l-1.8 1z" color="#23a"/>
<path d="M445.8 121l.1-1.1l-5.8-1.8l.2 1.5z" color="#6b3"/>
<path d="M471.9 121.7l-.8-1.4l-3.2 1.8l1.1 1.1z" color="#39c"/>
<path d="M451.5 120.2l.3-.8l-5.7-1.1l-.1 .8z" color="#8c3"/>
<path d="M537.1 121.6l-1.4-.2l2 2l1.3-.1z" color="#239"/>
<path d="M440.1 118.1l-.2-1.3l-5.1 3.7l.4 .8z" color="#8c3"/>
<path d="M502.6 121.8l-1.7-1l0 2.5l1.6 .6z" color="#25b"/>
<path d="M479 124l.2-1.7l-3.4-.2l.5 1.9z" color="#24c"/>
<path d="M464.2 117.9l-.3-.5l-5.2 1.2l.6 .6z" color="#b31"/>
<path d="M421 122.4l1.5 .3l.1 0l-.3-.4z" color="#127"/>
<path d="M491.9 122.3l.8-.7l-1.9-4.4l-.9 1.2z" color="#6b3"/>
<path d="M517.4 124.8l2.4-.6l-.7-1.6l-2.2 1.1z" color="#23a"/>
<path d="M452.2 118.9l-.1 0l6.4-.3l-.2 .1z" color="#372"/>
<path d="M427.6 121.9l.5 0l4-2.1l-.8 .1z" color="#278"/>
<path d="M504.6 122.8l-2-1l-.1 2.1l1.9 .6z" color="#23a"/>
<path d="M464.8 118.5l-.6-.6l-4.9 1.3l.9 .8z" color="#b62"/>
<path d="M485.3 124l1.3-1.4l-3.5-1.1l-.7 1.4z" color="#26d"/>
<path d="M451.1 121l.4-.8l-5.5-1.1l-.1 .8z" color="#6b3"/>
<path d="M481.5 124.5l.9-1.6l-3.2-.6l-.2 1.7z" color="#24c"/>
<path d="M540.4 123.2l-1.4 .1l.8 .4l1.2-.2z" color="#128"/>
<path d="M507 123.9l-2.4-1.1l-.2 1.7l2.5 .5z" color="#239"/>
<path d="M476.3 124l-.5-1.9l-3 1l1 1.6z" color="#24b"/>
<path d="M465.3 119.2l-.5-.7l-4.6 1.5l1 .9z" color="#7a3"/>
<path d="M490.9 123.1l1-.8l-2-3.9l-1 1.4z" color="#5a3"/>
<path d="M535.7 121.4l-1.3-.3l2.2 2.2l1.1 .1z" color="#259"/>
<path d="M426.2 121.7l-3.6 1l.1 0l.9 .1l3.4-1z" color="#238"/>
<path d="M440.3 119.6l-.2-1.5l-4.9 3.2l.5 .9z" color="#6b3"/>
<path d="M452.1 118.9l-.1 0l6.7-.3l-.2 0z" color="#372"/>
<path d="M445.6 122.2l.2-1.2l-5.5-1.4l.3 1.6z" color="#5b4"/>
<path d="M472.8 123.1l-.9-1.4l-2.9 1.5l1.3 1.2z" color="#25c"/>
<path d="M428.1 121.9l.5 0l4.2-2.3l-.7 .2z" color="#275"/>
<path d="M422.7 122.7l-.1 0l-.1 0z" color="#138"/>
<path d="M466.1 120l-.8-.8l-4.1 1.7l1.2 1z" color="#5a3"/>
<path d="M450.7 122l.4-1l-5.2-1.1l-.1 1.1z" color="#5b4"/>
<path d="M458.2 119.3l.5-.7l-6.7 .3l-.2 .5z" color="#d42"/>
<path d="M489.7 124l1.2-.9l-2-3.3l-1.1 1.4z" color="#4a4"/>
<path d="M515.8 122.8l-1.5-.7l-1.7-.3l-1.8 0l-1.7 .4l-1.3 .7l-.8 1l-.1 1.1l.5 1.1l1 .9l1.5 .7l1.8 .4l1.8 0l1.7-.5l1.3-.7l.7-1l.2-1.1l-.5-1.1z" color="#229"/>
<path d="M534.4 121.1l-1.1-.3l2.2 2.3l1.1 .2z" color="#277"/>
<path d="M428.6 121.9l.4-.1l4.4-2.3l-.6 .1z" color="#273"/>
<path d="M466.9 121l-.8-1l-3.7 1.9l1.4 1z" color="#4a3"/>
<path d="M539 123.3l-1.3 .1l1 .4l1.1-.1z" color="#138"/>
<path d="M483.8 125.5l1.5-1.5l-2.9-1.1l-.9 1.6z" color="#24b"/>
<path d="M423.6 122.8l.9 0l3.1-.9l-.6-.1z" color="#248"/>
<path d="M457.5 120.4l.7-1.1l-6.4 .1l-.3 .8z" color="#d72"/>
<path d="M440.6 121.2l-.3-1.6l-4.6 2.6l.5 1.2z" color="#5b4"/>
<path d="M429 121.8l.3 0l4.6-2.5l-.5 .2z" color="#373"/>
<path d="M450.2 123.1l.5-1.1l-4.9-1l-.2 1.2z" color="#5b4"/>
<path d="M478.7 126.1l.3-2.1l-2.7 0l.5 2.1z" color="#23b"/>
<path d="M473.8 124.7l-1-1.6l-2.5 1.3l1.6 1.4z" color="#23b"/>
<path d="M445.4 123.6l.2-1.4l-5-1l.3 1.7z" color="#4b4"/>
<path d="M488.4 124.9l1.3-.9l-1.9-2.8l-1.2 1.4z" color="#3ab"/>
<path d="M533.3 120.8l-1-.4l2.2 2.5l1 .2z" color="#373"/>
<path d="M467.9 122.1l-1-1.1l-3.1 1.9l1.4 1.1z" color="#393"/>
<path d="M517.2 125.9l2.5-.1l.1-1.6l-2.4 .6z" color="#239"/>
<path d="M429.3 121.8l.2-.1l4.7-2.5l-.3 .1z" color="#372"/>
<path d="M456.7 121.5l.8-1.1l-6-.2l-.4 .8z" color="#9c3"/>
<path d="M480.4 126.4l1.1-1.9l-2.5-.5l-.3 2.1z" color="#23b"/>
<path d="M476.8 126.1l-.5-2.1l-2.5 .7l1.4 1.8z" color="#23a"/>
<path d="M519.7 125.8l2-.3l.1-1.9l-2 .6z" color="#23a"/>
<path d="M506.9 125l-2.5-.5l.7 1.6l2.3 0z" color="#229"/>
<path d="M434.5 119.7l-.3-.5l-4.7 2.5l.4 .5z" color="#ab3"/>
<path d="M424.5 122.8l.8 0l2.8-.9l-.5 0z" color="#268"/>
<path d="M532.3 120.4l-.8-.3l2.2 2.6l.8 .2z" color="#372"/>
<path d="M469 123.2l-1.1-1.1l-2.7 1.9l1.6 1.1z" color="#39a"/>
<path d="M537.7 123.4l-1.1-.1l1.1 .5l1 0z" color="#238"/>
<path d="M521.7 125.5l1.7-.3l-.1-2.3l-1.5 .7z" color="#24a"/>
<path d="M487 125.9l1.4-1l-1.8-2.3l-1.3 1.4z" color="#25c"/>
<path d="M440.9 122.9l-.3-1.7l-4.4 2.2l.7 1.2z" color="#4b4"/>
<path d="M434.8 120.5l-.3-.8l-4.6 2.5l.5 .6z" color="#8b3"/>
<path d="M504.4 124.5l-1.9-.6l.9 2l1.7 .2z" color="#239"/>
<path d="M449.6 124.4l.6-1.3l-4.6-.9l-.2 1.4z" color="#4b5"/>
<path d="M455.8 122.7l.9-1.2l-5.6-.5l-.4 1z" color="#6b3"/>
<path d="M523.4 125.2l1.7-.4l-.3-2.5l-1.5 .6z" color="#27b"/>
<path d="M531.5 120.1l-.7-.2l2.1 2.5l.8 .3z" color="#372"/>
<path d="M525.1 124.8l1.5-.5l-.6-2.6l-1.2 .6z" color="#395"/>
<path d="M481.9 127.1l1.9-1.6l-2.3-1l-1.1 1.9z" color="#23b"/>
<path d="M502.5 123.9l-1.6-.6l1 2.4l1.5 .2z" color="#24a"/>
<path d="M470.3 124.4l-1.3-1.2l-2.2 1.9l1.8 1z" color="#25b"/>
<path d="M445.2 125l.2-1.4l-4.5-.7l.3 1.8z" color="#3bb"/>
<path d="M526.6 124.3l1.4-.5l-.9-2.7l-1.1 .6z" color="#493"/>
<path d="M425.3 122.8l.6-.1l2.7-.8l-.5 0z" color="#275"/>
<path d="M435.2 121.3l-.4-.8l-4.4 2.3l.6 .7z" color="#6b3"/>
<path d="M475.2 126.5l-1.4-1.8l-1.9 1.1l1.9 1.5z" color="#23a"/>
<path d="M530.8 119.9l-.5-.3l2 2.6l.6 .2z" color="#472"/>
<path d="M500.9 123.3l-1.4-.5l1.1 2.6l1.3 .3z" color="#26a"/>
<path d="M528 123.8l1.2-.5l-1.2-2.7l-.9 .5z" color="#493"/>
<path d="M485.2 126.9l1.8-1l-1.7-1.9l-1.5 1.5z" color="#24b"/>
<path d="M529.2 123.3l1-.5l-1.5-2.7l-.7 .5z" color="#593"/>
<path d="M536.6 123.3l-1.1-.2l1.3 .7l.9 0z" color="#258"/>
<path d="M454.7 124.1l1.1-1.4l-5.1-.7l-.5 1.1z" color="#5b4"/>
<path d="M499.5 122.8l-1.3-.6l1.2 2.9l1.2 .3z" color="#385"/>
<path d="M530.2 122.8l.9-.5l-1.7-2.6l-.7 .4z" color="#7a3"/>
<path d="M530.3 119.6l-.5-.2l2 2.6l.5 .2z" color="#582"/>
<path d="M435.7 122.2l-.5-.9l-4.2 2.2l.7 .9z" color="#5a3"/>
<path d="M531.1 122.3l.7-.3l-2-2.6l-.4 .3z" color="#a82"/>
<path d="M498.2 122.2l-1-.6l1.2 3.2l1 .3z" color="#383"/>
<path d="M425.9 122.7l.6-.1l2.5-.8l-.4 .1z" color="#273"/>
<path d="M441.2 124.7l-.3-1.8l-4 1.7l.7 1.4z" color="#3ab"/>
<path d="M516.5 126.9l2 .4l1.2-1.5l-2.5 .1z" color="#229"/>
<path d="M471.9 125.8l-1.6-1.4l-1.7 1.7l1.9 1.1z" color="#23a"/>
<path d="M448.9 125.8l.7-1.4l-4.2-.8l-.2 1.4z" color="#3ad"/>
<path d="M497.2 121.6l-1-.4l1.4 3.3l.8 .3z" color="#483"/>
<path d="M496.2 121.2l-.7-.5l1.4 3.5l.7 .3z" color="#482"/>
<path d="M507.4 126.1l-2.3 0l1.5 1.4l1.8-.5z" color="#228"/>
<path d="M495.5 120.7l-.6-.3l1.4 3.6l.6 .2z" color="#582"/>
<path d="M494.9 120.4l-.5-.3l1.5 3.7l.4 .2z" color="#682"/>
<path d="M426.5 122.6l.4-.1l2.4-.7l-.3 0z" color="#372"/>
<path d="M436.2 123.4l-.5-1.2l-4 2.2l.8 .9z" color="#4a3"/>
<path d="M535.5 123.1l-1-.2l1.5 .7l.8 .2z" color="#275"/>
<path d="M495.4 124.1l.5-.3l-1.5-3.7l-.4 .4z" color="#9a3"/>
<path d="M453.5 125.5l1.2-1.4l-4.5-1l-.6 1.3z" color="#4b4"/>
<path d="M494.8 124.5l.6-.4l-1.4-3.6l-.6 .5z" color="#7a3"/>
<path d="M482.9 128.1l2.3-1.2l-1.4-1.4l-1.9 1.6z" color="#23a"/>
<path d="M444.9 126.6l.3-1.6l-4-.3l.3 1.7z" color="#26d"/>
<path d="M494.1 124.9l.7-.4l-1.4-3.5l-.7 .6z" color="#5a3"/>
<path d="M426.9 122.5l.4-.1l2.2-.7l-.2 .1z" color="#372"/>
<path d="M493.1 125.4l1-.5l-1.4-3.3l-.8 .7z" color="#5a3"/>
<path d="M518.5 127.3l1.6 .1l1.6-1.9l-2 .3z" color="#229"/>
<path d="M473.8 127.3l-1.9-1.5l-1.4 1.4l2.5 1z" color="#23a"/>
<path d="M492.1 126l1-.6l-1.2-3.1l-1 .8z" color="#4a3"/>
<path d="M459.3 119.2l-.6-.6l1.5 5.8l.4 .3z" color="#a31"/>
<path d="M459.7 124.8l.5-.4l-1.5-5.8l-.5 .7z" color="#c32"/>
<path d="M429.9 122.2l-.4-.5l-2.2 .7l.3 .6z" color="#b31"/>
<path d="M460.2 120l-.9-.8l1.3 5.5l.7 .4z" color="#a62"/>
<path d="M436.9 124.6l-.7-1.2l-3.7 1.9l1 1.1z" color="#3a5"/>
<path d="M490.8 126.6l1.3-.6l-1.2-2.9l-1.2 .9z" color="#3a5"/>
<path d="M448.1 127.2l.8-1.4l-3.7-.8l-.3 1.6z" color="#25d"/>
<path d="M534.5 122.9l-.8-.2l1.5 .8l.8 .1z" color="#273"/>
<path d="M441.5 126.4l-.3-1.7l-3.6 1.3l.8 1.4z" color="#25d"/>
<path d="M461.2 120.9l-1-.9l1.1 5.1l.7 .4z" color="#793"/>
<path d="M505.1 126.1l-1.7-.2l1.7 1.8l1.5-.2z" color="#228"/>
<path d="M462.4 121.9l-1.2-1l.8 4.6l.9 .5z" color="#593"/>
<path d="M489.4 127.3l1.4-.7l-1.1-2.6l-1.3 .9z" color="#39b"/>
<path d="M459.1 125.4l.6-.6l-1.5-5.5l-.7 1.1z" color="#c72"/>
<path d="M515.2 127.6l1.4 .7l1.9-1l-2-.4z" color="#228"/>
<path d="M430.4 122.8l-.5-.6l-2.3 .8l.5 .8z" color="#b62"/>
<path d="M452.3 126.9l1.2-1.4l-3.9-1.1l-.7 1.4z" color="#3bb"/>
<path d="M463.8 122.9l-1.4-1l.5 4.1l1.1 .5z" color="#493"/>
<path d="M520.1 127.4l1.3 0l2-2.2l-1.7 .3z" color="#239"/>
<path d="M487.8 127.9l1.6-.6l-1-2.4l-1.4 1z" color="#25b"/>
<path d="M508.4 127l-1.8 .5l2.3 1l1-.8z" color="#128"/>
<path d="M465.2 124l-1.4-1.1l.2 3.6l1.3 .6z" color="#393"/>
<path d="M458.4 126l.7-.6l-1.6-5l-.8 1.1z" color="#8b3"/>
<path d="M533.7 122.7l-.8-.3l1.7 .9l.6 .2z" color="#372"/>
<path d="M431 123.5l-.6-.7l-2.3 1l.5 .8z" color="#7a3"/>
<path d="M466.8 125.1l-1.6-1.1l.1 3.1l1.4 .6z" color="#299"/>
<path d="M485.8 128.5l2-.6l-.8-2l-1.8 1z" color="#23a"/>
<path d="M437.6 126l-.7-1.4l-3.4 1.8l1.1 1.2z" color="#39c"/>
<path d="M503.4 125.9l-1.5-.2l1.9 2l1.3 0z" color="#239"/>
<path d="M468.6 126.1l-1.8-1l-.1 2.6l1.6 .6z" color="#25b"/>
<path d="M444.6 128.4l.3-1.8l-3.4-.2l.4 1.9z" color="#24c"/>
<path d="M521.4 127.4l1.2-.1l2.5-2.5l-1.7 .4z" color="#25a"/>
<path d="M457.6 126.7l.8-.7l-1.7-4.5l-.9 1.2z" color="#6b3"/>
<path d="M483.3 129.2l2.5-.7l-.6-1.6l-2.3 1.2z" color="#23a"/>
<path d="M470.5 127.2l-1.9-1.1l-.3 2.2l2 .5z" color="#23a"/>
<path d="M532.9 122.4l-.6-.2l1.8 .9l.5 .2z" color="#372"/>
<path d="M431.7 124.4l-.7-.9l-2.4 1.1l.7 1.1z" color="#5a3"/>
<path d="M513.5 128.1l.7 .9l2.4-.7l-1.4-.7z" color="#128"/>
<path d="M450.9 128.3l1.4-1.4l-3.4-1.1l-.8 1.4z" color="#26d"/>
<path d="M509.9 127.7l-1 .8l2.6 .5l.2-.9z" color="#128"/>
<path d="M447.2 128.9l.9-1.7l-3.2-.6l-.3 1.8z" color="#24c"/>
<path d="M473 128.2l-2.5-1l-.2 1.6l2.5 .6z" color="#239"/>
<path d="M441.9 128.3l-.4-1.9l-3.1 1l1 1.6z" color="#24b"/>
<path d="M522.6 127.3l1.1-.1l2.9-2.9l-1.5 .5z" color="#289"/>
<path d="M456.6 127.5l1-.8l-1.8-4l-1.1 1.4z" color="#5a3"/>
<path d="M501.9 125.7l-1.3-.3l2 2.3l1.2 0z" color="#259"/>
<path d="M516.6 128.3l1.1 .5l2.4-1.4l-1.6-.1z" color="#228"/>
<path d="M511.7 128.1l-.2 .9l2.7 0l-.7-.9z" color="#128"/>
<path d="M532.3 122.2l-.5-.2l1.9 1l.4 .1z" color="#472"/>
<path d="M438.4 127.4l-.8-1.4l-3 1.6l1.2 1.2z" color="#25c"/>
<path d="M432.5 125.3l-.8-.9l-2.4 1.3l.8 1.2z" color="#4a3"/>
<path d="M506.6 127.5l-1.5 .2l2.9 1.2l.9-.4z" color="#128"/>
<path d="M523.7 127.2l.9-.1l3.4-3.3l-1.4 .5z" color="#384"/>
<path d="M532 122.9l1.3 .6l.4-.5l-1.9-1z" color="#d42"/>
<path d="M455.4 128.4l1.2-.9l-1.9-3.4l-1.2 1.4z" color="#4a4"/>
<path d="M481.9 127.1l-1.5-.7l-1.7-.3l-1.9 0l-1.6 .4l-1.4 .8l-.8 .9l-.2 1.2l.4 1.1l1 .9l1.4 .7l1.8 .4l1.9 0l1.6-.5l1.4-.7l.8-1l.2-1.1l-.4-1.1z" color="#229"/>
<path d="M500.6 125.4l-1.2-.3l2.1 2.4l1.1 .2z" color="#277"/>
<path d="M524.6 127.1l.7-.2l3.9-3.6l-1.2 .5z" color="#383"/>
<path d="M449.4 129.8l1.5-1.5l-2.8-1.1l-.9 1.7z" color="#24b"/>
<path d="M433.5 126.4l-1-1.1l-2.4 1.6l.9 1.3z" color="#393"/>
<path d="M532.3 124.1l.4 .2l.6-.8l-1.3-.6z" color="#d72"/>
<path d="M517.7 128.8l1 .2l2.7-1.6l-1.3 0z" color="#238"/>
<path d="M444.2 130.4l.4-2l-2.7-.1l.5 2.2z" color="#23b"/>
<path d="M439.4 129l-1-1.6l-2.6 1.4l1.6 1.3z" color="#23b"/>
<path d="M454 129.3l1.4-.9l-1.9-2.9l-1.2 1.4z" color="#3ab"/>
<path d="M499.4 125.1l-1-.3l2.1 2.5l1 .2z" color="#373"/>
<path d="M525.3 126.9l.7-.1l4.2-4l-1 .5z" color="#483"/>
<path d="M514.2 129l.5 .6l3-.8l-1.1-.5z" color="#128"/>
<path d="M483.1 130.3l2.5-.1l.2-1.7l-2.5 .7z" color="#239"/>
<path d="M508.9 128.5l-.9 .4l3.3 .7l.2-.6z" color="#127"/>
<path d="M532.4 124.7l.3-.4l-.4-.2z" color="#9c3"/>
<path d="M446 130.8l1.2-1.9l-2.6-.5l-.4 2z" color="#23b"/>
<path d="M505.1 127.7l-1.3 0l3.5 1.5l.7-.3z" color="#138"/>
<path d="M526 126.8l.5-.2l4.6-4.3l-.9 .5z" color="#482"/>
<path d="M442.4 130.5l-.5-2.2l-2.5 .7l1.3 1.9z" color="#23a"/>
<path d="M485.6 130.2l2-.3l.2-2l-2 .6z" color="#23a"/>
<path d="M472.8 129.4l-2.5-.6l.6 1.7l2.3 0z" color="#229"/>
<path d="M498.4 124.8l-.8-.3l2 2.6l.9 .2z" color="#372"/>
<path d="M526.5 126.6l.4-.1l4.9-4.5l-.7 .3z" color="#582"/>
<path d="M511.5 129l-.2 .6l3.4 0l-.5-.6z" color="#127"/>
<path d="M487.6 129.9l1.7-.3l.1-2.3l-1.6 .6z" color="#24a"/>
<path d="M452.5 130.3l1.5-1l-1.7-2.4l-1.4 1.4z" color="#25c"/>
<path d="M518.7 129l.8 .1l3.1-1.8l-1.2 .1z" color="#239"/>
<path d="M432.3 129.5l2.3-1.9l-1.1-1.2l-2.5 1.8l.6 .8z" color="#39a"/>
<path d="M470.3 128.8l-2-.5l.8 2l1.8 .2z" color="#239"/>
<path d="M489.3 129.6l1.6-.4l-.1-2.6l-1.4 .7z" color="#27b"/>
<path d="M532 122.9l-.2-.9l-4.9 4.5l.3 .5z" color="#d42"/>
<path d="M497.6 124.5l-.7-.3l1.9 2.6l.8 .3z" color="#372"/>
<path d="M490.9 129.2l1.6-.5l-.4-2.7l-1.3 .6z" color="#395"/>
<path d="M447.4 131.5l2-1.7l-2.2-.9l-1.2 1.9z" color="#23b"/>
<path d="M468.3 128.3l-1.6-.6l.9 2.4l1.5 .2z" color="#24a"/>
<path d="M435.8 128.8l-1.2-1.2l-2.3 1.9l1.7 1z" color="#25b"/>
<path d="M492.5 128.7l1.3-.5l-.7-2.8l-1 .6z" color="#493"/>
<path d="M503.8 127.7l-1.2 0l4.1 1.7l.6-.2z" color="#238"/>
<path d="M440.7 130.9l-1.3-1.9l-2 1.1l1.9 1.5z" color="#23a"/>
<path d="M496.9 124.2l-.6-.2l1.9 2.6l.6 .2z" color="#472"/>
<path d="M466.7 127.7l-1.4-.6l.9 2.7l1.4 .3z" color="#26a"/>
<path d="M493.8 128.2l1.2-.5l-.9-2.8l-1 .5z" color="#493"/>
<path d="M532.3 124.1l-.3-1.2l-4.8 4.1l.3 .8z" color="#d72"/>
<path d="M450.7 131.3l1.8-1l-1.6-2l-1.5 1.5z" color="#24b"/>
<path d="M495 127.7l1-.5l-1.2-2.7l-.7 .4z" color="#593"/>
<path d="M514.7 129.6l.5 .4l3.5-1l-1-.2z" color="#128"/>
<path d="M508 128.9l-.7 .3l3.9 .8l.1-.4z" color="#127"/>
<path d="M465.3 127.1l-1.3-.6l1.1 3l1.1 .3z" color="#385"/>
<path d="M519.5 129.1l.7 .1l3.5-2l-1.1 .1z" color="#249"/>
<path d="M496 127.2l1-.5l-1.6-2.6l-.6 .4z" color="#7a3"/>
<path d="M496.3 124l-.4-.2l1.8 2.6l.5 .2z" color="#582"/>
<path d="M497 126.7l.7-.3l-1.8-2.6l-.5 .3z" color="#a82"/>
<path d="M464 126.5l-1.1-.5l1.1 3.2l1.1 .3z" color="#383"/>
<path d="M482.3 131.3l2 .3l1.3-1.4l-2.5 .1z" color="#229"/>
<path d="M437.4 130.1l-1.6-1.3l-1.8 1.7l1.9 1.1z" color="#23a"/>
<path d="M462.9 126l-.9-.5l1.2 3.4l.8 .3z" color="#483"/>
<path d="M530.4 127l2-2.3l-.1-.6l-4.8 3.7l.5 .8z" color="#8c3"/>
<path d="M462 125.5l-.7-.4l1.2 3.5l.7 .3z" color="#482"/>
<path d="M511.3 129.6l-.1 .4l4 0l-.5-.4z" color="#127"/>
<path d="M473.2 130.5l-2.3 0l1.4 1.4l1.9-.5z" color="#228"/>
<path d="M461.3 125.1l-.7-.4l1.3 3.7l.6 .2z" color="#582"/>
<path d="M502.6 127.7l-1.1-.2l4.7 2l.5-.1z" color="#258"/>
<path d="M460.6 124.7l-.4-.3l1.3 3.8l.4 .2z" color="#682"/>
<path d="M520.2 129.2l.7 0l3.7-2.1l-.9 .1z" color="#278"/>
<path d="M431.6 129l.6 .8l.1-.3z" color="#299"/>
<path d="M461 128.5l.5-.3l-1.3-3.8l-.5 .4z" color="#9a3"/>
<path d="M460.3 128.9l.7-.4l-1.3-3.7l-.6 .6z" color="#7a3"/>
<path d="M448.4 132.5l2.3-1.2l-1.3-1.5l-2 1.7z" color="#23a"/>
<path d="M459.6 129.3l.7-.4l-1.2-3.5l-.7 .6z" color="#5a3"/>
<path d="M458.7 129.8l.9-.5l-1.2-3.3l-.8 .7z" color="#5a3"/>
<path d="M507.3 129.2l-.6 .2l4.3 .8l.2-.2z" color="#138"/>
<path d="M484.3 131.6l1.6 .2l1.7-1.9l-2 .3z" color="#229"/>
<path d="M439.3 131.6l-1.9-1.5l-1.5 1.5l2.5 1z" color="#23a"/>
<path d="M515.2 130l.5 .3l3.8-1.2l-.8-.1z" color="#238"/>
<path d="M457.6 130.4l1.1-.6l-1.1-3.1l-1 .8z" color="#4a3"/>
<path d="M520.9 129.2l.5 0l3.9-2.3l-.7 .2z" color="#275"/>
<path d="M434 130.5l-1.7-1l-.1 .3l1.6 1.9z" color="#25b"/>
<path d="M501.5 127.5l-1-.2l5.2 2.2l.5 0z" color="#275"/>
<path d="M456.3 131.1l1.3-.7l-1-2.9l-1.2 .9z" color="#3a5"/>
<path d="M470.9 130.5l-1.8-.2l1.6 1.8l1.6-.2z" color="#228"/>
<path d="M454.8 131.7l1.5-.6l-.9-2.7l-1.4 .9z" color="#39b"/>
<path d="M480.9 132l1.4 .8l2-1.2l-2-.3z" color="#228"/>
<path d="M521.4 129.2l.5 0l4.1-2.4l-.7 .1z" color="#273"/>
<path d="M511.2 130l-.2 .2l4.7 .1l-.5-.3z" color="#138"/>
<path d="M485.9 131.8l1.3 0l2.1-2.2l-1.7 .3z" color="#239"/>
<path d="M528.3 129.2l2.1-2.2l-2.4 1.6z" color="#6b3"/>
<path d="M453.2 132.3l1.6-.6l-.8-2.4l-1.5 1z" color="#25b"/>
<path d="M474.2 131.4l-1.9 .5l2.2 1l1.1-.8z" color="#128"/>
<path d="M506.7 129.4l-.5 .1l4.7 .9l.1-.2z" color="#238"/>
<path d="M500.5 127.3l-.9-.2l5.7 2.4l.4 0z" color="#273"/>
<path d="M521.9 129.2l.3-.1l4.3-2.5l-.5 .2z" color="#373"/>
<path d="M451.3 133l1.9-.7l-.7-2l-1.8 1z" color="#23a"/>
<path d="M515.7 130.3l.4 .1l4.1-1.2l-.7-.1z" color="#248"/>
<path d="M469.1 130.3l-1.5-.2l1.8 2l1.3 0z" color="#239"/>
<path d="M487.2 131.8l1.1 0l2.6-2.6l-1.6 .4z" color="#25a"/>
<path d="M522.2 129.1l.3 0l4.4-2.6l-.4 .1z" color="#372"/>
<path d="M448.8 133.6l2.5-.6l-.6-1.7l-2.3 1.2z" color="#23a"/>
<path d="M435.6 133.2l.3-1.6l-1.9-1.1l-.2 1.2l1.3 1.4z" color="#23a"/>
<path d="M479.3 132.5l.5 .9l2.5-.6l-1.4-.8z" color="#128"/>
<path d="M475.6 132.1l-1.1 .8l2.6 .5l.3-.9z" color="#128"/>
<path d="M499.6 127.1l-.8-.3l6.2 2.7l.3 0z" color="#372"/>
<path d="M527.2 127l-.3-.5l-4.4 2.6l.4 .4z" color="#ab3"/>
<path d="M438.4 132.6l-2.5-1l-.3 1.6l2.5 .6z" color="#239"/>
<path d="M488.3 131.8l1.1-.2l3.1-2.9l-1.6 .5z" color="#289"/>
<path d="M467.6 130.1l-1.4-.3l1.9 2.3l1.3 0z" color="#259"/>
<path d="M511 130.2l-.1 .2l5.2 0l-.4-.1z" color="#238"/>
<path d="M482.3 132.8l1.1 .4l2.5-1.4l-1.6-.2z" color="#228"/>
<path d="M477.4 132.5l-.3 .9l2.7 0l-.5-.9z" color="#128"/>
<path d="M506.2 129.5l-.5 0l5.1 1l.1-.1z" color="#258"/>
<path d="M527.5 127.8l-.3-.8l-4.3 2.5l.5 .7z" color="#8b3"/>
<path d="M516.1 130.4l.3 .1l4.5-1.3l-.7 0z" color="#268"/>
<path d="M498.8 126.8l-.6-.2l6.5 2.8l.3 .1z" color="#372"/>
<path d="M472.3 131.9l-1.6 .2l2.9 1.3l.9-.5z" color="#128"/>
<path d="M489.4 131.6l.9-.1l3.5-3.3l-1.3 .5z" color="#384"/>
<path d="M528 128.6l-.5-.8l-4.1 2.4l.7 .7z" color="#6b3"/>
<path d="M447.4 131.5l-1.4-.7l-1.8-.4l-1.8 .1l-1.7 .4l-1.4 .7l-.9 1l-.3 1.2l.3 1.1l1 1l1.4 .7l1.8 .3l1.9 0l1.7-.4l1.4-.8l.9-1l.3-1.1l-.4-1.1z" color="#229"/>
<path d="M466.2 129.8l-1.1-.3l1.9 2.5l1.1 .1z" color="#277"/>
<path d="M498.2 126.6l-.5-.2l6.8 3l.2 0z" color="#472"/>
<path d="M505.7 129.5l-.4 0l5.4 1.1l.1-.1z" color="#277"/>
<path d="M490.3 131.5l.7-.1l4-3.7l-1.2 .5z" color="#383"/>
<path d="M435.1 133.1l.6 .6l-.1-.5z" color="#239"/>
<path d="M510.9 130.4l-.1 .1l5.6 0l-.3-.1z" color="#258"/>
<path d="M483.4 133.2l.9 .2l2.9-1.6l-1.3 0z" color="#238"/>
<path d="M504.5 130l0-.6l-6.8-3l.1 .9z" color="#d42"/>
<path d="M516.4 130.5l.4 0l4.6-1.3l-.5 0z" color="#275"/>
<path d="M465.1 129.5l-1.1-.3l1.9 2.6l1.1 .2z" color="#373"/>
<path d="M525.4 131.5l2.9-2.3l-.3-.6l-3.9 2.3l.7 .9z" color="#5a3"/>
<path d="M491 131.4l.6-.2l4.4-4l-1 .5z" color="#483"/>
<path d="M479.8 133.4l.5 .6l3.1-.8l-1.1-.4z" color="#128"/>
<path d="M448.5 134.7l2.4-.1l.4-1.6l-2.5 .6z" color="#239"/>
<path d="M474.5 132.9l-.9 .5l3.3 .6l.2-.6z" color="#127"/>
<path d="M505.3 129.5l-.3 0l5.7 1.1z" color="#274"/>
<path d="M470.7 132.1l-1.3 0l3.5 1.6l.7-.3z" color="#138"/>
<path d="M491.6 131.2l.5-.1l4.9-4.4l-1 .5z" color="#482"/>
<path d="M438.4 134.9l-.3-1.1l-2.5-.6l.1 .5l1.4 1.2z" color="#229"/>
<path d="M450.9 134.6l2-.2l.3-2.1l-1.9 .7z" color="#23a"/>
<path d="M504.4 130.8l.1-.8l-6.7-2.7l.3 1.2z" color="#d72"/>
<path d="M464 129.2l-.8-.3l1.8 2.6l.9 .3z" color="#372"/>
<path d="M492.1 131.1l.4-.1l5.2-4.6l-.7 .3z" color="#582"/>
<path d="M477.1 133.4l-.2 .6l3.4 0l-.5-.6z" color="#127"/>
<path d="M452.9 134.4l1.8-.4l.1-2.3l-1.6 .6z" color="#24a"/>
<path d="M516.8 130.5l.3 0l4.8-1.3l-.5 0z" color="#273"/>
<path d="M505 129.5l-.3-.1l5.9 1.2l.1 0z" color="#273"/>
<path d="M484.3 133.4l.8 .2l3.2-1.8l-1.1 0z" color="#239"/>
<path d="M510.8 130.5l-.1 .1l6.1-.1l-.4 0z" color="#276"/>
<path d="M454.7 134l1.6-.4l0-2.5l-1.5 .6z" color="#27b"/>
<path d="M497.8 127.3l-.1-.9l-5.2 4.6l.3 .5z" color="#d42"/>
<path d="M463.2 128.9l-.7-.3l1.7 2.7l.8 .2z" color="#372"/>
<path d="M456.3 133.6l1.5-.5l-.2-2.7l-1.3 .7z" color="#395"/>
<path d="M504.3 131.7l.1-.9l-6.3-2.3l.2 1.3z" color="#9c3"/>
<path d="M504.7 129.4l-.2 0l6.1 1.2z" color="#372"/>
<path d="M457.8 133.1l1.4-.5l-.5-2.8l-1.1 .6z" color="#493"/>
<path d="M469.4 132.1l-1.3 0l4.1 1.7l.7-.1z" color="#238"/>
<path d="M517.1 130.5l.2-.1l4.9-1.3l-.3 .1z" color="#372"/>
<path d="M462.5 128.6l-.6-.2l1.6 2.6l.7 .3z" color="#472"/>
<path d="M524.9 131.8l.5-.3l-.6 .3z" color="#4a3"/>
<path d="M459.2 132.6l1.2-.5l-.8-2.8l-.9 .5z" color="#493"/>
<path d="M498.1 128.5l-.3-1.2l-5 4.2l.4 .7z" color="#d72"/>
<path d="M460.4 132.1l1-.4l-1.1-2.8l-.7 .4z" color="#593"/>
<path d="M480.3 134l.4 .4l3.6-1l-.9-.2z" color="#128"/>
<path d="M510.4 131.2l.2-.6l-6.1-1.2l0 .6z" color="#bc3"/>
<path d="M473.6 133.4l-.7 .3l3.8 .7l.2-.4z" color="#127"/>
<path d="M485.1 133.6l.7 .1l3.6-2.1l-1.1 .2z" color="#249"/>
<path d="M510.7 130.6l6.4-.1l-.3 0z" color="#274"/>
<path d="M461.4 131.7l.9-.5l-1.3-2.7l-.7 .4z" color="#7a3"/>
<path d="M461.9 128.4l-.4-.2l1.5 2.6l.5 .2z" color="#582"/>
<path d="M462.3 131.2l.7-.4l-1.5-2.6l-.5 .3z" color="#a82"/>
<path d="M517.3 130.4l.2-.1l5-1.2l-.3 0z" color="#372"/>
<path d="M524.8 131.8l-1 .6l1.1-.6z" color="#4a3"/>
<path d="M447.6 135.7l2 .4l1.3-1.5l-2.4 .1z" color="#229"/>
<path d="M438.4 134.9l-1.3 0l1.5 1.2l.8-.2z" color="#228"/>
<path d="M504.3 132.7l0-1l-6-1.9l.3 1.5z" color="#6b3"/>
<path d="M510.1 131.9l.3-.7l-5.9-1.2l-.1 .8z" color="#8c3"/>
<path d="M498.3 129.8l-.2-1.3l-4.9 3.7l.4 .9z" color="#8c3"/>
<path d="M476.9 134l-.2 .4l4 0l-.4-.4z" color="#127"/>
<path d="M522.9 129.5l-.4-.4l-5 1.2l.7 .7z" color="#b31"/>
<path d="M468.1 132.1l-1.1-.1l4.6 1.9l.6-.1z" color="#258"/>
<path d="M510.7 130.6l-.1 0l6.7-.2l-.2 .1z" color="#372"/>
<path d="M485.8 133.7l.6 0l3.9-2.2l-.9 .1z" color="#278"/>
<path d="M523.4 130.2l-.5-.7l-4.7 1.5l.9 .8z" color="#b62"/>
<path d="M509.8 132.8l.3-.9l-5.7-1.1l-.1 .9z" color="#6b3"/>
<path d="M524.1 130.9l-.7-.7l-4.3 1.6l1.1 .9z" color="#7a3"/>
<path d="M472.9 133.7l-.7 .1l4.3 .9l.2-.3z" color="#138"/>
<path d="M449.6 136.1l1.5 .2l1.8-1.9l-2 .2z" color="#229"/>
<path d="M480.7 134.4l.4 .3l4-1.1l-.8-.2z" color="#238"/>
<path d="M498.6 131.3l-.3-1.5l-4.7 3.3l.5 1z" color="#6b3"/>
<path d="M510.6 130.6l6.9-.3l-.2 .1z" color="#372"/>
<path d="M504.2 134l.1-1.3l-5.7-1.4l.4 1.7z" color="#5b4"/>
<path d="M486.4 133.7l.5 0l4.1-2.3l-.7 .1z" color="#275"/>
<path d="M523.8 132.4l1-.6l-.7-.9l-3.9 1.8l1 .8z" color="#5a3"/>
<path d="M467 132l-1.1-.2l5.2 2.2l.5-.1z" color="#275"/>
<path d="M509.4 133.8l.4-1l-5.5-1.1l0 1z" color="#5b4"/>
<path d="M439.4 135.9l-.8 .2l1.5 1l.7-.5z" color="#128"/>
<path d="M517 131.1l.5-.8l-6.9 .3l-.2 .6z" color="#d42"/>
<path d="M446.2 136.5l1.3 .7l2.1-1.1l-2-.4z" color="#228"/>
<path d="M486.9 133.7l.4-.1l4.3-2.4l-.6 .2z" color="#273"/>
<path d="M476.7 134.4l-.2 .3l4.6 0l-.4-.3z" color="#138"/>
<path d="M451.1 136.3l1.3 0l2.3-2.3l-1.8 .4z" color="#239"/>
<path d="M516.3 132.2l.7-1.1l-6.6 .1l-.3 .7z" color="#d72"/>
<path d="M499 133l-.4-1.7l-4.5 2.8l.6 1.1z" color="#5b4"/>
<path d="M472.2 133.8l-.6 .1l4.7 1l.2-.2z" color="#238"/>
<path d="M465.9 131.8l-.9-.3l5.7 2.5l.4 0z" color="#273"/>
<path d="M487.3 133.6l.4 0l4.4-2.5l-.5 .1z" color="#373"/>
<path d="M481.1 134.7l.4 .2l4.3-1.2l-.7-.1z" color="#248"/>
<path d="M508.9 134.9l.5-1.1l-5.1-1.1l-.1 1.3z" color="#5b4"/>
<path d="M504 135.4l.2-1.4l-5.2-1l.4 1.7z" color="#4b4"/>
<path d="M452.4 136.3l1.1-.1l2.8-2.6l-1.6 .4z" color="#25a"/>
<path d="M487.7 133.6l.3 0l4.5-2.6l-.4 .1z" color="#372"/>
<path d="M515.6 133.3l.7-1.1l-6.2-.3l-.3 .9z" color="#9c3"/>
<path d="M444.5 136.9l.5 1l2.5-.7l-1.3-.7z" color="#128"/>
<path d="M465 131.5l-.8-.2l6.1 2.7l.4 0z" color="#372"/>
<path d="M492.8 131.5l-.3-.5l-4.5 2.6l.4 .4z" color="#ab3"/>
<path d="M442.6 136.9l-1.8-.3l-.7 .5l1.2 .6l.9 .2z" color="#128"/>
<path d="M453.5 136.2l1-.1l3.3-3l-1.5 .5z" color="#289"/>
<path d="M476.5 134.7l-.2 .2l5.2 0l-.4-.2z" color="#238"/>
<path d="M447.5 137.2l1 .5l2.6-1.4l-1.5-.2z" color="#228"/>
<path d="M442.6 136.9l-.4 1l2.8 0l-.5-1z" color="#128"/>
<path d="M471.6 133.9l-.5 .1l5.1 1l.1-.1z" color="#258"/>
<path d="M499.4 134.7l-.4-1.7l-4.3 2.2l.7 1.3z" color="#4b4"/>
<path d="M493.2 132.2l-.4-.7l-4.4 2.5l.5 .7z" color="#8b3"/>
<path d="M514.7 134.6l.9-1.3l-5.8-.5l-.4 1z" color="#6b3"/>
<path d="M508.4 136.2l.5-1.3l-4.7-.9l-.2 1.4z" color="#4b5"/>
<path d="M481.5 134.9l.3 .1l4.6-1.3l-.6 0z" color="#268"/>
<path d="M464.2 131.3l-.7-.3l6.5 2.9l.3 .1z" color="#372"/>
<path d="M520.2 132.7l.2 1.1l.8-.3z" color="#593"/>
<path d="M454.5 136.1l.9-.1l3.8-3.4l-1.4 .5z" color="#384"/>
<path d="M503.9 136.9l.1-1.5l-4.6-.7l.4 1.8z" color="#3bb"/>
<path d="M493.6 133.1l-.4-.9l-4.3 2.5l.6 .7z" color="#6b3"/>
<path d="M520.2 132.7l-1.1-.9l.6 2.1l.7-.1z" color="#793"/>
<path d="M463.5 131l-.5-.2l6.8 3.1l.2 0z" color="#472"/>
<path d="M519.1 131.8l-.9-.8l.8 3l.7-.1z" color="#a62"/>
<path d="M471.1 134l-.4 0l5.4 1.1l.1-.1z" color="#277"/>
<path d="M455.4 136l.7-.1l4.3-3.8l-1.2 .5z" color="#383"/>
<path d="M513.7 135.9l1-1.3l-5.3-.8l-.5 1.1z" color="#5b4"/>
<path d="M518.2 131l-.7-.7l1.1 3.8l.4-.1z" color="#a31"/>
<path d="M494.1 134.1l-.5-1l-4.1 2.3l.8 .9z" color="#5a3"/>
<path d="M476.3 134.9l-.1 .1l5.6 0l-.3-.1z" color="#258"/>
<path d="M448.5 137.7l.9 .2l3-1.6l-1.3 0z" color="#238"/>
<path d="M469.8 134.5l0-.6l-6.8-3.1l.1 1z" color="#d42"/>
<path d="M481.8 135l.3 0l4.8-1.3l-.5 0z" color="#275"/>
<path d="M442.1 138.1l.1-.2l-.9-.2z" color="#127"/>
<path d="M517 131.1l1.2 3.7l.4-.7l-1.1-3.8z" color="#c32"/>
<path d="M499.8 136.5l-.4-1.8l-4 1.8l.9 1.4z" color="#3ab"/>
<path d="M507.8 137.6l.6-1.4l-4.4-.8l-.1 1.5z" color="#3ad"/>
<path d="M456.1 135.9l.6-.2l4.7-4l-1 .4z" color="#483"/>
<path d="M445 137.9l.4 .6l3.1-.8l-1-.5z" color="#128"/>
<path d="M470.7 134l-.4 0l5.7 1.1l.1 0z" color="#274"/>
<path d="M456.7 135.7l.6-.1l5-4.4l-.9 .5z" color="#482"/>
<path d="M516.3 132.2l1.3 3.5l.6-.9l-1.2-3.7z" color="#c72"/>
<path d="M494.7 135.2l-.6-1.1l-3.8 2.2l.9 .9z" color="#4a3"/>
<path d="M469.7 135.3l.1-.8l-6.7-2.7l.2 1.2z" color="#d72"/>
<path d="M512.5 137.4l1.2-1.5l-4.8-1l-.5 1.3z" color="#4b4"/>
<path d="M457.3 135.6l.3-.1l5.4-4.7l-.7 .4z" color="#582"/>
<path d="M503.7 138.5l.2-1.6l-4.1-.4l.5 1.8z" color="#26d"/>
<path d="M445 137.9l-2.8 0l-.1 .2l1.1 .5l2.2-.1z" color="#127"/>
<path d="M482.1 135l.3 0l4.9-1.4l-.4 .1z" color="#273"/>
<path d="M470.3 134l-.3-.1l5.9 1.2l.1 0z" color="#273"/>
<path d="M449.4 137.9l.8 .2l3.3-1.9l-1.1 .1z" color="#239"/>
<path d="M476.2 135l-.1 .1l6-.1l-.3 0z" color="#276"/>
<path d="M463.1 131.8l-.1-1l-5.4 4.7l.3 .5z" color="#d42"/>
<path d="M515.6 133.3l1.4 3.3l.6-.9l-1.3-3.5z" color="#8b3"/>
<path d="M469.6 136.2l.1-.9l-6.4-2.3l.2 1.3z" color="#9c3"/>
<path d="M495.4 136.5l-.7-1.3l-3.5 2l1 1.1z" color="#3a5"/>
<path d="M507.1 139.1l.7-1.5l-3.9-.7l-.2 1.6z" color="#25d"/>
<path d="M470 133.9l-.2 0l6.1 1.2z" color="#372"/>
<path d="M500.3 138.3l-.5-1.8l-3.5 1.4l.9 1.4z" color="#25d"/>
<path d="M482.4 135l.2-.1l5.1-1.3l-.4 0z" color="#372"/>
<path d="M511.3 138.8l1.2-1.4l-4.1-1.2l-.6 1.4z" color="#3bb"/>
<path d="M463.3 133l-.2-1.2l-5.2 4.2l.3 .8z" color="#d72"/>
<path d="M445.4 138.5l.3 .5l3.7-1.1l-.9-.2z" color="#128"/>
<path d="M475.6 135.7l.3-.6l-6.1-1.2l0 .6z" color="#bc3"/>
<path d="M514.7 134.6l1.6 3.1l.7-1.1l-1.4-3.3z" color="#6b3"/>
<path d="M450.2 138.1l.6 .1l3.7-2.1l-1 .1z" color="#249"/>
<path d="M476.1 135.1l-.1 0l6.4-.1l-.3 0z" color="#274"/>
<path d="M482.6 134.9l.2 0l5.2-1.3l-.3 0z" color="#372"/>
<path d="M469.4 137.3l.2-1.1l-6.1-1.9l.3 1.5z" color="#6b3"/>
<path d="M496.3 137.9l-.9-1.4l-3.2 1.8l1.2 1.2z" color="#39c"/>
<path d="M475.3 136.4l.3-.7l-5.8-1.2l-.1 .8z" color="#8c3"/>
<path d="M463.5 134.3l-.2-1.3l-5.1 3.8l.4 .8z" color="#8c3"/>
<path d="M503.5 140.3l.2-1.8l-3.4-.2l.5 2z" color="#24c"/>
<path d="M488.4 134l-.4-.4l-5.2 1.3l.6 .6z" color="#b31"/>
<path d="M443.2 138.6l1.6 .4l.9 0l-.3-.5z" color="#127"/>
<path d="M513.7 135.9l1.8 3l.8-1.2l-1.6-3.1z" color="#5a3"/>
<path d="M476 135.1l-.1 0l6.7-.2l-.2 .1z" color="#372"/>
<path d="M450.8 138.2l.6 0l4-2.2l-.9 .1z" color="#278"/>
<path d="M488.9 134.7l-.5-.7l-5 1.5l1 .9z" color="#b62"/>
<path d="M510 140.3l1.3-1.5l-3.5-1.2l-.7 1.5z" color="#26d"/>
<path d="M475 137.3l.3-.9l-5.6-1.1l-.1 .9z" color="#6b3"/>
<path d="M506.2 140.8l.9-1.7l-3.4-.6l-.2 1.8z" color="#24c"/>
<path d="M500.8 140.3l-.5-2l-3.1 1l1.1 1.7z" color="#24b"/>
<path d="M489.5 135.4l-.6-.7l-4.5 1.7l1 .8z" color="#7a3"/>
<path d="M463.8 135.8l-.3-1.5l-4.9 3.3l.5 1z" color="#6b3"/>
<path d="M475.9 135.1l6.9-.2l-.2 0z" color="#372"/>
<path d="M497.2 139.3l-.9-1.4l-2.9 1.6l1.3 1.3z" color="#25c"/>
<path d="M469.3 138.5l.1-1.2l-5.6-1.5l.3 1.7z" color="#5b4"/>
<path d="M451.4 138.2l.5 0l4.2-2.3l-.7 .1z" color="#275"/>
<path d="M449.4 137.9l-3.7 1.1l.3 .2l.2 0l4-1.1z" color="#238"/>
<path d="M490.3 136.3l-.8-.9l-4.1 1.8l1.2 1z" color="#5a3"/>
<path d="M512.5 137.4l2 2.8l1-1.3l-1.8-3z" color="#4a4"/>
<path d="M474.6 138.3l.4-1l-5.4-1.1l-.2 1.1z" color="#5b4"/>
<path d="M482.2 135.7l.6-.8l-6.9 .2l-.3 .6z" color="#d42"/>
<path d="M446 139.2l-.3-.2l-.9 0z" color="#138"/>
<path d="M451.9 138.2l.4 0l4.4-2.5l-.6 .2z" color="#273"/>
<path d="M491.2 137.2l-.9-.9l-3.7 1.9l1.4 1.1z" color="#4a3"/>
<path d="M508.5 141.8l1.5-1.5l-2.9-1.2l-.9 1.7z" color="#24b"/>
<path d="M481.5 136.7l.7-1l-6.6 0l-.3 .7z" color="#d72"/>
<path d="M464.1 137.5l-.3-1.7l-4.7 2.8l.6 1.1z" color="#5b4"/>
<path d="M446.2 139.2l1 .1l3.6-1.1l-.6-.1z" color="#248"/>
<path d="M452.3 138.2l.3-.1l4.7-2.5l-.6 .1z" color="#373"/>
<path d="M474.1 139.5l.5-1.2l-5.2-1l-.1 1.2z" color="#5b4"/>
<path d="M503.3 142.4l.2-2.1l-2.7 0l.6 2.1z" color="#23b"/>
<path d="M498.3 141l-1.1-1.7l-2.5 1.5l1.6 1.3z" color="#23b"/>
<path d="M469.1 139.9l.2-1.4l-5.2-1l.4 1.8z" color="#4b4"/>
<path d="M492.2 138.3l-1-1.1l-3.2 2.1l1.5 1.1z" color="#393"/>
<path d="M452.6 138.1l.3 0l4.7-2.6l-.3 .1z" color="#372"/>
<path d="M480.7 137.8l.8-1.1l-6.2-.3l-.3 .9z" color="#9c3"/>
<path d="M505.1 142.8l1.1-2l-2.7-.5l-.2 2.1z" color="#23b"/>
<path d="M511.3 138.8l2 2.5l.8-.5l.4-.6l-2-2.8z" color="#3ab"/>
<path d="M501.4 142.4l-.6-2.1l-2.5 .7l1.4 1.9z" color="#23a"/>
<path d="M457.9 136l-.3-.5l-4.7 2.6l.4 .5z" color="#ab3"/>
<path d="M493.4 139.5l-1.2-1.2l-2.7 2.1l1.7 1.1z" color="#39a"/>
<path d="M447.2 139.3l.8 0l3.4-1.1l-.6 0z" color="#268"/>
<path d="M511.9 142.3l1.4-1l-2-2.5l-1.3 1.5z" color="#25c"/>
<path d="M464.5 139.3l-.4-1.8l-4.4 2.2l.7 1.3z" color="#4b4"/>
<path d="M458.2 136.8l-.3-.8l-4.6 2.6l.5 .6z" color="#8b3"/>
<path d="M479.8 139.1l.9-1.3l-5.7-.5l-.4 1z" color="#6b3"/>
<path d="M473.5 140.8l.6-1.3l-4.8-1l-.2 1.4z" color="#4b5"/>
<path d="M506.7 143.5l1.8-1.7l-2.3-1l-1.1 2z" color="#23b"/>
<path d="M494.7 140.8l-1.3-1.3l-2.2 2l1.8 1z" color="#25b"/>
<path d="M468.9 141.4l.2-1.5l-4.6-.6l.3 1.8z" color="#3bb"/>
<path d="M458.6 137.6l-.4-.8l-4.4 2.4l.6 .8z" color="#6b3"/>
<path d="M499.7 142.9l-1.4-1.9l-2 1.1l2.1 1.6z" color="#23a"/>
<path d="M448 139.3l.7-.1l3.2-1l-.5 0z" color="#275"/>
<path d="M510 143.4l1.9-1.1l-1.9-2l-1.5 1.5z" color="#24b"/>
<path d="M478.8 140.5l1-1.4l-5.2-.8l-.5 1.2z" color="#5b4"/>
<path d="M459.1 138.6l-.5-1l-4.2 2.4l.7 .8z" color="#5a3"/>
<path d="M513.4 141.6l.7-.8l-.8 .5z" color="#39b"/>
<path d="M464.8 141.1l-.3-1.8l-4.1 1.7l.8 1.4z" color="#3ab"/>
<path d="M496.3 142.1l-1.6-1.3l-1.7 1.7l2 1.1z" color="#23a"/>
<path d="M472.8 142.2l.7-1.4l-4.4-.9l-.2 1.5z" color="#3ad"/>
<path d="M448.7 139.2l.6 0l3-1l-.4 0z" color="#273"/>
<path d="M459.7 139.7l-.6-1.1l-4 2.2l.9 1z" color="#4a3"/>
<path d="M511.9 142.3l.3 .8l1.2-1.5l-.1-.3z" color="#25b"/>
<path d="M477.6 142l1.2-1.5l-4.7-1l-.6 1.3z" color="#4b4"/>
<path d="M449.3 139.2l.5-.1l2.8-1l-.3 .1z" color="#372"/>
<path d="M507.7 144.5l2.3-1.1l-1.5-1.6l-1.8 1.7z" color="#23a"/>
<path d="M468.7 143l.2-1.6l-4.1-.3l.4 1.8z" color="#26d"/>
<path d="M498.4 143.7l-2.1-1.6l-1.3 1.5l2.5 1.1z" color="#23a"/>
<path d="M449.8 139.1l.4-.1l2.7-.9l-.3 0z" color="#372"/>
<path d="M483.4 135.5l-.6-.6l1.6 6.1l.5 .3z" color="#a31"/>
<path d="M484 141.4l.4-.4l-1.6-6.1l-.6 .8z" color="#c32"/>
<path d="M484.4 136.4l-1-.9l1.5 5.8l.7 .3z" color="#a62"/>
<path d="M460.4 141l-.7-1.3l-3.7 2.1l1 1.1z" color="#3a5"/>
<path d="M472 143.7l.8-1.5l-3.9-.8l-.2 1.6z" color="#25d"/>
<path d="M465.2 142.9l-.4-1.8l-3.6 1.3l.9 1.5z" color="#25d"/>
<path d="M485.4 137.2l-1-.8l1.2 5.2l.7 .5z" color="#793"/>
<path d="M453.3 138.6l-.4-.5l-2.7 .9l.3 .6z" color="#b31"/>
<path d="M486.6 138.2l-1.2-1l.9 4.9l1 .4z" color="#593"/>
<path d="M510 143.4l.6 1.4l1.6-1.7l-.3-.8z" color="#23a"/>
<path d="M483.4 141.9l.6-.5l-1.8-5.7l-.7 1z" color="#c72"/>
<path d="M476.3 143.4l1.3-1.4l-4.1-1.2l-.7 1.4z" color="#3bb"/>
<path d="M488 139.3l-1.4-1.1l.7 4.3l1.1 .6z" color="#493"/>
<path d="M453.8 139.2l-.5-.6l-2.8 1l.5 .8z" color="#b62"/>
<path d="M489.5 140.4l-1.5-1.1l.4 3.8l1.3 .6z" color="#393"/>
<path d="M482.7 142.5l.7-.6l-1.9-5.2l-.8 1.1z" color="#8b3"/>
<path d="M491.2 141.5l-1.7-1.1l.2 3.3l1.5 .5z" color="#299"/>
<path d="M461.2 142.4l-.8-1.4l-3.4 1.9l1.2 1.2z" color="#39c"/>
<path d="M454.4 140l-.6-.8l-2.8 1.2l.6 .9z" color="#7a3"/>
<path d="M493 142.5l-1.8-1l0 2.7l1.6 .6z" color="#25b"/>
<path d="M468.5 144.9l.2-1.9l-3.5-.1l.5 2z" color="#24c"/>
<path d="M481.8 143.3l.9-.8l-2-4.7l-.9 1.3z" color="#6b3"/>
<path d="M495 143.6l-2-1.1l-.2 2.3l2 .6z" color="#23a"/>
<path d="M507.7 144.5l.5 1.2l1.9-.5l.5-.4l-.6-1.4z" color="#23a"/>
<path d="M475 144.9l1.3-1.5l-3.5-1.2l-.8 1.5z" color="#26d"/>
<path d="M471.1 145.4l.9-1.7l-3.3-.7l-.2 1.9z" color="#24c"/>
<path d="M455.1 140.8l-.7-.8l-2.8 1.3l.7 1.1z" color="#5a3"/>
<path d="M497.5 144.7l-2.5-1.1l-.2 1.8l2.6 .5z" color="#239"/>
<path d="M465.7 144.9l-.5-2l-3.1 1l1 1.7z" color="#24b"/>
<path d="M480.8 144.1l1-.8l-2-4.2l-1 1.4z" color="#5a3"/>
<path d="M462.1 143.9l-.9-1.5l-3 1.7l1.3 1.3z" color="#25c"/>
<path d="M456 141.8l-.9-1l-2.8 1.6l.9 1.3z" color="#4a3"/>
<path d="M506.7 143.5l-1.6-.7l-1.8-.4l-1.9 0l-1.7 .5l-1.3 .8l-.9 1l-.1 1.2l.4 1.1l1.1 1.1l1.5 .7l1.9 .4l1.9-.1l1.5-.3l1.9-1.4l.5-.5l.1-1.2l-.5-1.2z" color="#229"/>
<path d="M479.6 145l1.2-.9l-2-3.6l-1.2 1.5z" color="#4a4"/>
<path d="M473.4 146.4l1.6-1.5l-3-1.2l-.9 1.7z" color="#24b"/>
<path d="M468.1 147l.4-2.1l-2.8 0l.6 2.2z" color="#23b"/>
<path d="M463.1 145.6l-1-1.7l-2.6 1.5l1.6 1.3z" color="#23b"/>
<path d="M478.2 145.9l1.4-.9l-2-3l-1.3 1.4z" color="#3ab"/>
<path d="M508.1 146.9l.2 0l1.8-1.7l-1.9 .5z" color="#239"/>
<path d="M470 147.4l1.1-2l-2.6-.5l-.4 2.1z" color="#23b"/>
<path d="M454.2 145l2.8-2.1l-1-1.1l-2.8 1.9l1 1.3z" color="#393"/>
<path d="M466.3 147.1l-.6-2.2l-2.6 .7l1.4 1.9z" color="#23a"/>
<path d="M497.4 145.9l-2.6-.5l.7 1.7l2.3-.1z" color="#229"/>
<path d="M458.2 144.1l-1.2-1.2l-2.8 2.1l1.7 1.1z" color="#39a"/>
<path d="M476.7 146.9l1.5-1l-1.9-2.5l-1.3 1.5z" color="#25c"/>
<path d="M494.8 145.4l-2-.6l.9 2.1l1.8 .2z" color="#239"/>
<path d="M507.6 147.4l.7-.5l-.2 0z" color="#229"/>
<path d="M471.5 148.1l1.9-1.7l-2.3-1l-1.1 2z" color="#23b"/>
<path d="M492.8 144.8l-1.6-.6l1 2.5l1.5 .2z" color="#24a"/>
<path d="M459.5 145.4l-1.3-1.3l-2.3 2l1.7 1.1z" color="#25b"/>
<path d="M464.5 147.5l-1.4-1.9l-2 1.1l2 1.6z" color="#23a"/>
<path d="M491.2 144.2l-1.5-.5l1.1 2.8l1.4 .2z" color="#26a"/>
<path d="M474.8 148l1.9-1.1l-1.7-2l-1.6 1.5z" color="#24b"/>
<path d="M489.7 143.7l-1.3-.6l1.2 3.1l1.2 .3z" color="#385"/>
<path d="M488.4 143.1l-1.1-.6l1.3 3.4l1 .3z" color="#383"/>
<path d="M454.2 145l0 .1l0-.1z" color="#393"/>
<path d="M461.1 146.7l-1.6-1.3l-1.9 1.8l2.1 1z" color="#23a"/>
<path d="M487.3 142.5l-1-.4l1.4 3.5l.9 .3z" color="#483"/>
<path d="M486.3 142.1l-.7-.5l1.4 3.7l.7 .3z" color="#482"/>
<path d="M497.8 147l-2.3 .1l1.5 1.5l1.9-.5z" color="#228"/>
<path d="M485.6 141.6l-.7-.3l1.5 3.8l.6 .2z" color="#582"/>
<path d="M484.9 141.3l-.5-.3l1.5 3.9l.5 .2z" color="#682"/>
<path d="M455.9 146.1l-1.7-1.1l0 .1l1.6 2z" color="#299"/>
<path d="M485.5 145.2l.4-.3l-1.5-3.9l-.4 .4z" color="#9a3"/>
<path d="M484.8 145.6l.7-.4l-1.5-3.8l-.6 .5z" color="#7a3"/>
<path d="M472.5 149.2l2.3-1.2l-1.4-1.6l-1.9 1.7z" color="#23a"/>
<path d="M484 146.1l.8-.5l-1.4-3.7l-.7 .6z" color="#5a3"/>
<path d="M483.1 146.6l.9-.5l-1.3-3.6l-.9 .8z" color="#5a3"/>
<path d="M463.1 148.3l-2-1.6l-1.4 1.5l2.5 1.2z" color="#23a"/>
<path d="M481.9 147.2l1.2-.6l-1.3-3.3l-1 .8z" color="#4a3"/>
<path d="M480.6 147.8l1.3-.6l-1.1-3.1l-1.2 .9z" color="#3a5"/>
<path d="M495.5 147.1l-1.8-.2l1.8 1.9l1.5-.2z" color="#228"/>
<path d="M457.6 147.2l-1.7-1.1l-.1 1l1.6 1.8z" color="#25b"/>
<path d="M479.1 148.5l1.5-.7l-1-2.8l-1.4 .9z" color="#39b"/>
<path d="M477.5 149.1l1.6-.6l-.9-2.6l-1.5 1z" color="#25b"/>
<path d="M498.9 148.1l-1.9 .5l2.3 1.1l1.1-.9z" color="#128"/>
<path d="M504.4 149.5l1.3-.7l-1.5 .3z" color="#128"/>
<path d="M475.5 149.7l2-.6l-.8-2.2l-1.9 1.1z" color="#23a"/>
<path d="M493.7 146.9l-1.5-.2l1.9 2.2l1.4-.1z" color="#239"/>
<path d="M472.9 150.3l2.6-.6l-.7-1.7l-2.3 1.2z" color="#23a"/>
<path d="M459.4 150l.3-1.8l-2.1-1l-.2 1.7l.8 .8z" color="#23a"/>
<path d="M500.4 148.8l-1.1 .9l2.7 .5l.3-1z" color="#128"/>
<path d="M462.2 149.4l-2.5-1.2l-.3 1.8l2.6 .6z" color="#239"/>
<path d="M504.2 149.1l-1.9 .1l-.3 1l.8 0l1.6-.7z" color="#128"/>
<path d="M492.2 146.7l-1.4-.2l2.1 2.4l1.2 0z" color="#259"/>
<path d="M497 148.6l-1.5 .2l3 1.4l.8-.5z" color="#128"/>
<path d="M471.5 148.1l-1.5-.7l-1.9-.4l-1.8 .1l-1.8 .4l-1.4 .8l-.9 1.1l-.2 1.2l.4 1.1l1 1.1l1.5 .7l1.8 .4l1.9 0l1.8-.5l1.4-.8l.9-1.1l.2-1.2l-.4-1.1z" color="#229"/>
<path d="M490.8 146.5l-1.2-.3l2.1 2.6l1.2 .1z" color="#277"/>
<path d="M489.6 146.2l-1-.3l2 2.8l1.1 .1z" color="#373"/>
<path d="M501.9 150.5l.9-.3l-.8 0z" color="#127"/>
<path d="M458.2 149.7l1.6 1.5l-.4-1.2z" color="#239"/>
<path d="M472.7 151.5l2.5 0l.3-1.8l-2.6 .6z" color="#239"/>
<path d="M502 150.2l-2.7-.5l-.8 .5l2.7 .6l.7-.3z" color="#127"/>
<path d="M495.5 148.8l-1.4 .1l3.6 1.6l.8-.3z" color="#138"/>
<path d="M475.2 151.5l2.1-.3l.2-2.1l-2 .6z" color="#23a"/>
<path d="M488.6 145.9l-.9-.3l2 2.9l.9 .2z" color="#372"/>
<path d="M462.4 151.7l-.4-1.1l-2.6-.6l.4 1.2l.6 .6z" color="#229"/>
<path d="M477.3 151.2l1.8-.3l0-2.4l-1.6 .6z" color="#24a"/>
<path d="M479.1 150.9l1.6-.4l-.1-2.7l-1.5 .7z" color="#27b"/>
<path d="M487.7 145.6l-.7-.3l1.9 2.9l.8 .3z" color="#372"/>
<path d="M480.7 150.5l1.6-.4l-.4-2.9l-1.3 .6z" color="#395"/>
<path d="M482.3 150.1l1.4-.5l-.6-3l-1.2 .6z" color="#493"/>
<path d="M494.1 148.9l-1.2 0l4.2 1.8l.6-.2z" color="#238"/>
<path d="M487 145.3l-.6-.2l1.8 2.9l.7 .2z" color="#472"/>
<path d="M483.7 149.6l1.3-.5l-1-3l-.9 .5z" color="#493"/>
<path d="M498.5 150.2l-.8 .3l2.3 .5l1.2-.2z" color="#127"/>
<path d="M485 149.1l1-.5l-1.2-3l-.8 .5z" color="#593"/>
<path d="M486 148.6l1-.4l-1.5-3l-.7 .4z" color="#7a3"/>
<path d="M486.4 145.1l-.5-.2l1.8 2.9l.5 .2z" color="#582"/>
<path d="M487 148.2l.7-.4l-1.8-2.9l-.4 .3z" color="#a82"/>
<path d="M471.8 152.6l2 .4l1.4-1.5l-2.5 0z" color="#229"/>
<path d="M462.4 151.7l-2 .1l1.7 1.3l1.3-.3z" color="#228"/>
<path d="M492.9 148.9l-1.2-.1l4.8 2.1l.6-.2z" color="#258"/>
<path d="M497.7 150.5l-.6 .2l1.8 .5l1.1-.2z" color="#138"/>
<path d="M473.8 153l1.7 .2l1.8-2l-2.1 .3z" color="#229"/>
<path d="M491.7 148.8l-1.1-.1l5.4 2.3l.5-.1z" color="#275"/>
<path d="M470.4 153.4l1.4 .8l2-1.2l-2-.4z" color="#228"/>
<path d="M463.4 152.8l-1.3 .3l1.8 1.2l1-.8z" color="#128"/>
<path d="M497.1 150.7l-.6 .2l1.5 .4l.9-.1z" color="#238"/>
<path d="M475.5 153.2l1.3 .1l2.3-2.4l-1.8 .3z" color="#239"/>
<path d="M490.6 148.7l-.9-.2l5.9 2.5l.4 0z" color="#273"/>
<path d="M476.8 153.3l1.2 0l2.7-2.8l-1.6 .4z" color="#25a"/>
<path d="M496.5 150.9l-.5 .1l1.2 .3l.8 0z" color="#258"/>
<path d="M468.6 153.9l.6 1l2.6-.7l-1.4-.8z" color="#128"/>
<path d="M489.7 148.5l-.8-.3l6.4 2.8l.3 0z" color="#372"/>
<path d="M466.7 153.9l-1.8-.4l-1 .8l.4 .2l2.1 .5z" color="#128"/>
<path d="M478 153.3l1.1-.1l3.2-3.1l-1.6 .4z" color="#289"/>
<path d="M471.8 154.2l1.1 .5l2.6-1.5l-1.7-.2z" color="#228"/>
<path d="M466.7 153.9l-.3 1.1l2.8-.1l-.6-1z" color="#128"/>
<path d="M496 151l-.4 0l.9 .2l.7 .1z" color="#277"/>
<path d="M488.9 148.2l-.7-.2l6.8 3l.3 0z" color="#372"/>
<path d="M479.1 153.2l.9-.1l3.7-3.5l-1.4 .5z" color="#384"/>
<path d="M488.2 148l-.5-.2l7.1 3.2l.2 0z" color="#472"/>
<path d="M495.6 151l-.3 0l.6 .2l.6 0z" color="#274"/>
<path d="M480 153.1l.7-.1l4.3-3.9l-1.3 .5z" color="#383"/>
<path d="M472.9 154.7l.9 .3l3-1.7l-1.3-.1z" color="#238"/>
<path d="M494.7 151.6l.1-.6l-7.1-3.2l.1 1z" color="#d42"/>
<path d="M480.7 153l.7-.1l4.6-4.3l-1 .5z" color="#483"/>
<path d="M466.2 155.5l.2-.5l-2.1-.5z" color="#127"/>
<path d="M495.3 151l-.3 0l.4 .1l.5 .1z" color="#273"/>
<path d="M469.2 154.9l.5 .7l3.2-.9l-1.1-.5z" color="#128"/>
<path d="M481.4 152.9l.5-.2l5.1-4.5l-1 .4z" color="#482"/>
<path d="M495 151l-.2 0l.3 .1l.3 0z" color="#372"/>
<path d="M494.2 152.3l.5-.7l-6.9-2.8l.3 1.3z" color="#d72"/>
<path d="M481.9 152.7l.4-.1l5.4-4.8l-.7 .4z" color="#582"/>
<path d="M469.2 154.9l-2.8 .1l-.2 .5l.5 .2l3-.1z" color="#127"/>
<path d="M494.7 151.6l.4-.5l-.3-.1z" color="#bc3"/>
<path d="M473.8 155l.8 .3l3.4-2l-1.2 0z" color="#239"/>
<path d="M487.8 148.8l-.1-1l-5.4 4.8l.3 .6z" color="#d42"/>
<path d="M494.7 151.6z" color="#8c3"/>
<path d="M488.3 151.4l5.3 1.7l.6-.8l-6.1-2.2z" color="#9c3"/>
<path d="M488.1 150.1l-.3-1.3l-5.2 4.4l.3 .8z" color="#d72"/>
<path d="M469.7 155.6l.4 .5l3.7-1.1l-.9-.3z" color="#128"/>
<path d="M474.6 155.3l.7 .1l3.8-2.2l-1.1 .1z" color="#249"/>
<path d="M488.6 153l4.2 1.1l.8-1l-5.3-1.7z" color="#6b3"/>
<path d="M488.3 151.4l-.2-1.3l-5.2 3.9l.5 .8z" color="#8c3"/>
<path d="M466.7 155.7l1.6 .5l1.8-.1l-.4-.5z" color="#127"/>
<path d="M475.3 155.4l.7 0l4-2.3l-.9 .1z" color="#278"/>
<path d="M489 154.7l2.9 .6l.9-1.2l-4.2-1.1z" color="#5b4"/>
<path d="M470.1 156.1l.4 .4l4.1-1.2l-.8-.3z" color="#238"/>
<path d="M488.6 153l-.3-1.6l-4.9 3.4l.5 1z" color="#6b3"/>
<path d="M476 155.4l.5 .1l4.2-2.5l-.7 .1z" color="#275"/>
<path d="M476.5 155.5l.4 0l4.5-2.6l-.7 .1z" color="#273"/>
<path d="M468.3 156.2l1.6 .3l.6 0l-.4-.4z" color="#138"/>
<path d="M489 154.7l-.4-1.7l-4.7 2.8l.6 1.2z" color="#5b4"/>
<path d="M489.4 156.5l1.3 .2l1.2-1.4l-2.9-.6z" color="#4b4"/>
<path d="M476.9 155.5l.4-.1l4.6-2.7l-.5 .2z" color="#373"/>
<path d="M474.6 155.3l-4.1 1.2l.2 .1l.5 .1l4.1-1.3z" color="#248"/>
<path d="M477.3 155.4l.2 0l4.8-2.8l-.4 .1z" color="#372"/>
<path d="M482.6 153.2l-.3-.6l-4.8 2.8l.4 .5z" color="#ab3"/>
<path d="M470.7 156.6l-.2-.1l-.6 0z" color="#238"/>
<path d="M489.7 157.8l1-1.1l-1.3-.2z" color="#3bb"/>
<path d="M489.4 156.5l-.4-1.8l-4.5 2.3l.8 1.3z" color="#4b4"/>
<path d="M471.2 156.7l.9 0l3.9-1.3l-.7 0z" color="#268"/>
<path d="M482.9 154l-.3-.8l-4.7 2.7l.6 .7z" color="#8b3"/>
<path d="M483.4 154.8l-.5-.8l-4.4 2.6l.6 .7z" color="#6b3"/>
<path d="M472.1 156.7l.7 0l3.7-1.2l-.5-.1z" color="#275"/>
<path d="M483.9 155.8l-.5-1l-4.3 2.5l.8 .9z" color="#5a3"/>
<path d="M488.6 158.9l1.1-1.1l-.3-1.3l-4.1 1.8l.8 1.5z" color="#3ab"/>
<path d="M472.8 156.7l.7-.1l3.4-1.1l-.4 0z" color="#273"/>
<path d="M484.5 157l-.6-1.2l-4 2.4l.9 1z" color="#4a3"/>
<path d="M473.5 156.6l.5 0l3.3-1.2l-.4 .1z" color="#372"/>
<path d="M474 156.6l.4-.1l3.1-1.1l-.2 0z" color="#372"/>
<path d="M485.3 158.3l-.8-1.3l-3.7 2.2l1.1 1.2z" color="#3a5"/>
<path d="M486.6 160.7l2-1.8l-2.5 .9z" color="#25d"/>
<path d="M477.9 155.9l-.4-.5l-3.1 1.1l.4 .6z" color="#b31"/>
<path d="M478.5 156.6l-.6-.7l-3.1 1.2l.5 .9z" color="#b62"/>
<path d="M486.1 159.8l-.8-1.5l-3.4 2.1l1.2 1.2z" color="#39c"/>
<path d="M479.1 157.3l-.6-.7l-3.2 1.4l.7 .9z" color="#7a3"/>
<path d="M479.9 158.2l-.8-.9l-3.1 1.6l.7 1.2z" color="#5a3"/>
<path d="M486.6 160.7l-.5-.9l-3 1.8l1 .9z" color="#25c"/>
<path d="M480.8 159.2l-.9-1l-3.2 1.9l1 1.3z" color="#4a3"/>
<path d="M479.1 162.6l2.8-2.2l-1.1-1.2l-3.1 2.2l.2 .4z" color="#393"/>
<path d="M483.1 161.6l-1.2-1.2l-2.8 2.2l1.7 1.1z" color="#39a"/>
<path d="M484.1 162.5l-1-.9l-2.3 2.1l.6 .3z" color="#25b"/>
<path d="M477.9 161.8l1.2 1.5l0-.7z" color="#393"/>
<path d="M480.8 163.7l0 .6l.6-.3z" color="#25b"/>
<path d="M480.8 164.3l0-.6l-1.7-1.1l0 .7l1.1 1.3z" color="#299"/>
</g>
<g stroke="#fff" stroke-width="1.1" stroke-dasharray="3 2" fill="none">
<line x1="429.3" y1="93.2" x2="500.9" y2="83.3"/>
<line x1="441.3" y1="73.6" x2="487.6" y2="102.6"/>
<line x1="475" y1="70" x2="452.9" y2="111"/>
</g>
<text x="432.2" y="70.6" font-size="11.5" font-family='"Liberation Sans", sans-serif' fill="#fff">B</text>
<text x="476.0" y="68.6" font-size="11.5" font-family='"Liberation Sans", sans-serif' fill="#fff">C</text>
<text x="419.6" y="98.0" font-size="11.5" font-family='"Liberation Sans", sans-serif' fill="#fff">A</text>
<text x="501.7" y="88.0" font-size="11.5" font-family='"Liberation Sans", sans-serif' fill="#fff">A</text>
<text x="489.7" y="111.4" font-size="11.5" font-family='"Liberation Sans", sans-serif' fill="#fff">B</text>
<text x="446.6" y="120.8" font-size="11.5" font-family='"Liberation Sans", sans-serif' fill="#fff">C</text>
<text x="367.1" y="127.4" font-size="11" font-family='"Liberation Sans", sans-serif' fill="#000" textLength="38.6" lengthAdjust="spacingAndGlyphs">3.1 mm</text>
<text x="536.6" y="142.4" font-size="11" font-family='"Liberation Sans", sans-serif' fill="#000" textLength="38.6" lengthAdjust="spacingAndGlyphs">2.5 mm</text>
<linearGradient id="cba" x1="0" y1="0" x2="0" y2="1"><stop offset="0.0" stop-color="#dd3a22"/><stop offset="0.1" stop-color="#da5a2a"/><stop offset="0.2" stop-color="#c98a32"/><stop offset="0.3" stop-color="#a8c23a"/><stop offset="0.4" stop-color="#96cc3e"/><stop offset="0.47" stop-color="#88ce55"/><stop offset="0.53" stop-color="#6bcb98"/><stop offset="0.59" stop-color="#50bcd6"/><stop offset="0.66" stop-color="#4a8fd2"/><stop offset="0.76" stop-color="#3f63b8"/><stop offset="0.88" stop-color="#2f3e9c"/><stop offset="1.0" stop-color="#25287a"/></linearGradient>
<rect x="318.5" y="24.8" width="7.80" height="82.00" fill="url(#cba)"/>
<line x1="326.6" x2="328.5" y1="26.0" y2="26.0" stroke="#cfcfd4" stroke-width="0.8"/>
<line x1="326.6" x2="328.5" y1="35.6" y2="35.6" stroke="#cfcfd4" stroke-width="0.8"/>
<line x1="326.6" x2="328.5" y1="45.3" y2="45.3" stroke="#cfcfd4" stroke-width="0.8"/>
<line x1="326.6" x2="328.5" y1="55.0" y2="55.0" stroke="#cfcfd4" stroke-width="0.8"/>
<line x1="326.6" x2="328.5" y1="64.6" y2="64.6" stroke="#cfcfd4" stroke-width="0.8"/>
<line x1="326.6" x2="328.5" y1="74.2" y2="74.2" stroke="#cfcfd4" stroke-width="0.8"/>
<line x1="326.6" x2="328.5" y1="83.9" y2="83.9" stroke="#cfcfd4" stroke-width="0.8"/>
<line x1="326.6" x2="328.5" y1="93.5" y2="93.5" stroke="#cfcfd4" stroke-width="0.8"/>
<line x1="326.6" x2="328.5" y1="103.2" y2="103.2" stroke="#cfcfd4" stroke-width="0.8"/>
<text x="332.0" y="29.4" font-size="9.5" font-family='"Liberation Sans", sans-serif' fill="#000" textLength="12.8" lengthAdjust="spacingAndGlyphs">4.0</text>
<text x="332.0" y="48.7" font-size="9.5" font-family='"Liberation Sans", sans-serif' fill="#000" textLength="12.8" lengthAdjust="spacingAndGlyphs">2.0</text>
<text x="332.0" y="68.0" font-size="9.5" font-family='"Liberation Sans", sans-serif' fill="#000" textLength="12.8" lengthAdjust="spacingAndGlyphs">0.0</text>
<text x="328.7" y="87.3" font-size="9.5" font-family='"Liberation Sans", sans-serif' fill="#000" textLength="16.2" lengthAdjust="spacingAndGlyphs">-2.0</text>
<text x="328.7" y="106.3" font-size="9.5" font-family='"Liberation Sans", sans-serif' fill="#000" textLength="16.2" lengthAdjust="spacingAndGlyphs">-4.7</text>
<text x="315.7" y="23.3" font-size="10" font-family='"Liberation Serif", serif' fill="#000" textLength="13.4" lengthAdjust="spacingAndGlyphs">µm</text>
<linearGradient id="cbb" x1="0" y1="0" x2="0" y2="1"><stop offset="0.0" stop-color="#dd3a22"/><stop offset="0.1" stop-color="#da5a2a"/><stop offset="0.2" stop-color="#c98a32"/><stop offset="0.3" stop-color="#a8c23a"/><stop offset="0.4" stop-color="#96cc3e"/><stop offset="0.47" stop-color="#88ce55"/><stop offset="0.53" stop-color="#6bcb98"/><stop offset="0.59" stop-color="#50bcd6"/><stop offset="0.66" stop-color="#4a8fd2"/><stop offset="0.76" stop-color="#3f63b8"/><stop offset="0.88" stop-color="#2f3e9c"/><stop offset="1.0" stop-color="#25287a"/></linearGradient>
<rect x="582.9" y="24.0" width="7.50" height="81.30" fill="url(#cbb)"/>
<line x1="590.7" x2="592.6" y1="25.2" y2="25.2" stroke="#cfcfd4" stroke-width="0.8"/>
<line x1="590.7" x2="592.6" y1="34.9" y2="34.9" stroke="#cfcfd4" stroke-width="0.8"/>
<line x1="590.7" x2="592.6" y1="44.5" y2="44.5" stroke="#cfcfd4" stroke-width="0.8"/>
<line x1="590.7" x2="592.6" y1="54.2" y2="54.2" stroke="#cfcfd4" stroke-width="0.8"/>
<line x1="590.7" x2="592.6" y1="63.8" y2="63.8" stroke="#cfcfd4" stroke-width="0.8"/>
<line x1="590.7" x2="592.6" y1="73.5" y2="73.5" stroke="#cfcfd4" stroke-width="0.8"/>
<line x1="590.7" x2="592.6" y1="83.1" y2="83.1" stroke="#cfcfd4" stroke-width="0.8"/>
<line x1="590.7" x2="592.6" y1="92.8" y2="92.8" stroke="#cfcfd4" stroke-width="0.8"/>
<line x1="590.7" x2="592.6" y1="102.4" y2="102.4" stroke="#cfcfd4" stroke-width="0.8"/>
<text x="596.3" y="28.6" font-size="9.5" font-family='"Liberation Sans", sans-serif' fill="#000" textLength="12.8" lengthAdjust="spacingAndGlyphs">4.0</text>
<text x="596.3" y="47.9" font-size="9.5" font-family='"Liberation Sans", sans-serif' fill="#000" textLength="12.8" lengthAdjust="spacingAndGlyphs">2.0</text>
<text x="596.3" y="67.2" font-size="9.5" font-family='"Liberation Sans", sans-serif' fill="#000" textLength="12.8" lengthAdjust="spacingAndGlyphs">0.0</text>
<text x="593.0" y="86.5" font-size="9.5" font-family='"Liberation Sans", sans-serif' fill="#000" textLength="16.2" lengthAdjust="spacingAndGlyphs">-2.0</text>
<text x="593.0" y="105.5" font-size="9.5" font-family='"Liberation Sans", sans-serif' fill="#000" textLength="16.2" lengthAdjust="spacingAndGlyphs">-4.7</text>
<text x="581.0" y="21.5" font-size="10" font-family='"Liberation Serif", serif' fill="#000" textLength="13.4" lengthAdjust="spacingAndGlyphs">µm</text>
<rect x="36.3" y="214.3" width="301.4" height="110.8" fill="#fff"/>
<line x1="80.1" x2="80.1" y1="214.3" y2="325.1" stroke="#e4e4e4" stroke-width="0.8"/>
<line x1="135.4" x2="135.4" y1="214.3" y2="325.1" stroke="#e4e4e4" stroke-width="0.8"/>
<line x1="190.7" x2="190.7" y1="214.3" y2="325.1" stroke="#e4e4e4" stroke-width="0.8"/>
<line x1="246.0" x2="246.0" y1="214.3" y2="325.1" stroke="#e4e4e4" stroke-width="0.8"/>
<line x1="301.3" x2="301.3" y1="214.3" y2="325.1" stroke="#e4e4e4" stroke-width="0.8"/>
<line x1="36.3" x2="337.7" y1="242.0" y2="242.0" stroke="#e4e4e4" stroke-width="0.8"/>
<line x1="36.3" x2="337.7" y1="269.7" y2="269.7" stroke="#e4e4e4" stroke-width="0.8"/>
<line x1="36.3" x2="337.7" y1="297.4" y2="297.4" stroke="#e4e4e4" stroke-width="0.8"/>
<clipPath id="clc"><rect x="36.3" y="214.3" width="301.4" height="110.8"/></clipPath>
<g clip-path="url(#clc)">
<polyline points="36.3,252.3 36.5,250.5 36.7,248.7 36.9,246.9 37.2,245.1 37.4,243.2 37.6,242.7 37.8,244.6 38.0,246.4 38.2,248.2 38.5,250.0 38.7,251.8 38.9,253.5 39.1,255.3 39.3,257.0 39.5,258.6 39.8,260.3 40.0,261.9 40.2,263.5 40.4,265.1 40.6,266.6 40.8,268.2 41.1,269.7 41.3,271.1 41.5,272.6 41.7,274.0 41.9,275.4 42.1,276.8 42.3,278.2 42.6,279.5 42.8,280.8 43.0,282.1 43.2,283.3 43.4,284.6 43.6,285.8 43.9,286.9 44.1,288.1 44.3,289.2 44.5,290.3 44.7,291.4 44.9,292.5 45.2,293.5 45.4,294.5 45.6,295.5 45.8,296.5 46.0,297.4 46.2,298.3 46.4,299.2 46.7,300.1 46.9,300.9 47.1,301.7 47.3,302.5 47.5,303.3 47.7,304.0 48.0,304.7 48.2,305.4 48.4,306.1 48.6,306.7 48.8,307.3 49.0,307.9 49.3,308.5 49.5,309.0 49.7,309.5 49.9,310.0 50.1,310.5 50.3,310.9 50.5,311.4 50.8,311.8 51.0,312.1 51.2,312.5 51.4,312.8 51.6,313.1 51.8,313.4 52.1,313.6 52.3,313.8 52.5,314.0 52.7,314.2 52.9,314.3 53.1,314.5 53.4,314.6 53.6,314.6 53.8,314.7 54.0,314.7 54.2,314.7 54.4,314.7 54.6,314.6 54.9,314.6 55.1,314.5 55.3,314.3 55.5,314.2 55.7,314.0 55.9,313.8 56.2,313.6 56.4,313.4 56.6,313.1 56.8,312.8 57.0,312.5 57.2,312.1 57.5,311.8 57.7,311.4 57.9,310.9 58.1,310.5 58.3,310.0 58.5,309.5 58.7,309.0 59.0,308.5 59.2,307.9 59.4,307.3 59.6,306.7 59.8,306.1 60.0,305.4 60.3,304.7 60.5,304.0 60.7,303.3 60.9,302.5 61.1,301.7 61.3,300.9 61.6,300.1 61.8,299.2 62.0,298.3 62.2,297.4 62.4,296.5 62.6,295.5 62.8,294.5 63.1,293.5 63.3,292.5 63.5,291.4 63.7,290.3 63.9,289.2 64.1,288.1 64.4,287.0 64.6,285.8 64.8,284.6 65.0,283.3 65.2,282.1 65.4,280.8 65.7,279.5 65.9,278.2 66.1,276.8 66.3,275.4 66.5,274.0 66.7,272.6 66.9,271.2 67.2,269.7 67.4,268.2 67.6,266.7 67.8,265.1 68.0,263.5 68.2,261.9 68.5,260.3 68.7,258.7 68.9,257.0 69.1,255.3 69.3,253.6 69.5,251.8 69.8,250.0 70.0,248.2 70.2,246.4 70.4,244.6 70.6,242.7 70.8,243.2 71.1,245.0 71.3,246.9 71.5,248.7 71.7,250.5 71.9,252.3 72.1,254.0 72.3,255.7 72.6,257.4 72.8,259.1 73.0,260.7 73.2,262.3 73.4,263.9 73.6,265.5 73.9,267.0 74.1,268.6 74.3,270.1 74.5,271.5 74.7,273.0 74.9,274.4 75.2,275.8 75.4,277.2 75.6,278.5 75.8,279.8 76.0,281.1 76.2,282.4 76.4,283.6 76.7,284.9 76.9,286.1 77.1,287.2 77.3,288.4 77.5,289.5 77.7,290.6 78.0,291.7 78.2,292.8 78.4,293.8 78.6,294.8 78.8,295.8 79.0,296.7 79.3,297.6 79.5,298.5 79.7,299.4 79.9,300.3 80.1,301.1 80.3,301.9 80.5,302.7 80.8,303.5 81.0,304.2 81.2,304.9 81.4,305.6 81.6,306.2 81.8,306.9 82.1,307.5 82.3,308.1 82.5,308.6 82.7,309.2 82.9,309.7 83.1,310.2 83.4,310.6 83.6,311.1 83.8,311.5 84.0,311.9 84.2,312.2 84.4,312.6 84.6,312.9 84.9,313.2 85.1,313.4 85.3,313.7 85.5,313.9 85.7,314.1 85.9,314.2 86.2,314.4 86.4,314.5 86.6,314.6 86.8,314.7 87.0,314.7 87.2,314.7 87.5,314.7 87.7,314.7 87.9,314.6 88.1,314.5 88.3,314.4 88.5,314.3 88.7,314.2 89.0,314.0 89.2,313.8 89.4,313.5 89.6,313.3 89.8,313.0 90.0,312.7 90.3,312.4 90.5,312.0 90.7,311.7 90.9,311.3 91.1,310.8 91.3,310.4 91.6,309.9 91.8,309.4 92.0,308.9 92.2,308.3 92.4,307.8 92.6,307.2 92.8,306.5 93.1,305.9 93.3,305.2 93.5,304.5 93.7,303.8 93.9,303.1 94.1,302.3 94.4,301.5 94.6,300.7 94.8,299.8 95.0,299.0 95.2,298.1 95.4,297.2 95.7,296.2 95.9,295.3 96.1,294.3 96.3,293.3 96.5,292.2 96.7,291.1 96.9,290.1 97.2,288.9 97.4,287.8 97.6,286.6 97.8,285.5 98.0,284.2 98.2,283.0 98.5,281.7 98.7,280.5 98.9,279.1 99.1,277.8 99.3,276.5 99.5,275.1 99.8,273.7 100.0,272.2 100.2,270.8 100.4,269.3 100.6,267.8 100.8,266.2 101.0,264.7 101.3,263.1 101.5,261.5 101.7,259.9 101.9,258.2 102.1,256.5 102.3,254.8 102.6,253.1 102.8,251.3 103.0,249.6 103.2,247.8 103.4,245.9 103.6,244.1 103.9,242.2 104.1,243.7 104.3,245.5 104.5,247.4 104.7,249.2 104.9,251.0 105.2,252.7 105.4,254.5 105.6,256.2 105.8,257.8 106.0,259.5 106.2,261.1 106.4,262.8 106.7,264.3 106.9,265.9 107.1,267.4 107.3,269.0 107.5,270.4 107.7,271.9 108.0,273.3 108.2,274.8 108.4,276.2 108.6,277.5 108.8,278.9 109.0,280.2 109.3,281.5 109.5,282.7 109.7,284.0 109.9,285.2 110.1,286.4 110.3,287.6 110.5,288.7 110.8,289.8 111.0,290.9 111.2,292.0 111.4,293.0 111.6,294.0 111.8,295.0 112.1,296.0 112.3,297.0 112.5,297.9 112.7,298.8 112.9,299.7 113.1,300.5 113.4,301.3 113.6,302.1 113.8,302.9 114.0,303.7 114.2,304.4 114.4,305.1 114.6,305.8 114.9,306.4 115.1,307.0 115.3,307.6 115.5,308.2 115.7,308.8 115.9,309.3 116.2,309.8 116.4,310.3 116.6,310.7 116.8,311.2 117.0,311.6 117.2,312.0 117.5,312.3 117.7,312.6 117.9,312.9 118.1,313.2 118.3,313.5 118.5,313.7 118.7,313.9 119.0,314.1 119.2,314.3 119.4,314.4 119.6,314.5 119.8,314.6 120.0,314.7 120.3,314.7 120.5,314.7 120.7,314.7 120.9,314.7 121.1,314.6 121.3,314.5 121.6,314.4 121.8,314.3 122.0,314.1 122.2,313.9 122.4,313.7 122.6,313.5 122.8,313.2 123.1,312.9 123.3,312.6 123.5,312.3 123.7,311.9 123.9,311.6 124.1,311.1 124.4,310.7 124.6,310.3 124.8,309.8 125.0,309.3 125.2,308.7 125.4,308.2 125.7,307.6 125.9,307.0 126.1,306.4 126.3,305.7 126.5,305.0 126.7,304.3 126.9,303.6 127.2,302.9 127.4,302.1 127.6,301.3 127.8,300.5 128.0,299.6 128.2,298.7 128.5,297.8 128.7,296.9 128.9,296.0 129.1,295.0 129.3,294.0 129.5,293.0 129.8,291.9 130.0,290.9 130.2,289.8 130.4,288.6 130.6,287.5 130.8,286.3 131.0,285.1 131.3,283.9 131.5,282.7 131.7,281.4 131.9,280.1 132.1,278.8 132.3,277.5 132.6,276.1 132.8,274.7 133.0,273.3 133.2,271.8 133.4,270.4 133.6,268.9 133.9,267.4 134.1,265.8 134.3,264.3 134.5,262.7 134.7,261.1 134.9,259.4 135.1,257.8 135.4,256.1 135.6,254.4 135.8,252.6 136.0,250.9 136.2,249.1 136.4,247.3 136.7,245.5 136.9,243.6 137.1,242.3 137.3,244.2 137.5,246.0 137.7,247.8 138.0,249.6 138.2,251.4 138.4,253.2 138.6,254.9 138.8,256.6 139.0,258.3 139.3,259.9 139.5,261.6 139.7,263.2 139.9,264.8 140.1,266.3 140.3,267.8 140.5,269.4 140.8,270.8 141.0,272.3 141.2,273.7 141.4,275.1 141.6,276.5 141.8,277.9 142.1,279.2 142.3,280.5 142.5,281.8 142.7,283.1 142.9,284.3 143.1,285.5 143.4,286.7 143.6,287.9 143.8,289.0 144.0,290.1 144.2,291.2 144.4,292.3 144.6,293.3 144.9,294.3 145.1,295.3 145.3,296.3 145.5,297.2 145.7,298.1 145.9,299.0 146.2,299.9 146.4,300.7 146.6,301.5 146.8,302.3 147.0,303.1 147.2,303.8 147.5,304.6 147.7,305.3 147.9,305.9 148.1,306.6 148.3,307.2 148.5,307.8 148.7,308.4 149.0,308.9 149.2,309.4 149.4,309.9 149.6,310.4 149.8,310.9 150.0,311.3 150.3,311.7 150.5,312.0 150.7,312.4 150.9,312.7 151.1,313.0 151.3,313.3 151.6,313.6 151.8,313.8 152.0,314.0 152.2,314.2 152.4,314.3 152.6,314.4 152.8,314.5 153.1,314.6 153.3,314.7 153.5,314.7 153.7,314.7 153.9,314.7 154.1,314.6 154.4,314.6 154.6,314.5 154.8,314.4 155.0,314.2 155.2,314.1 155.4,313.9 155.7,313.7 155.9,313.4 156.1,313.1 156.3,312.9 156.5,312.5 156.7,312.2 156.9,311.8 157.2,311.4 157.4,311.0 157.6,310.6 157.8,310.1 158.0,309.6 158.2,309.1 158.5,308.6 158.7,308.0 158.9,307.5 159.1,306.8 159.3,306.2 159.5,305.6 159.8,304.9 160.0,304.2 160.2,303.4 160.4,302.7 160.6,301.9 160.8,301.1 161.0,300.2 161.3,299.4 161.5,298.5 161.7,297.6 161.9,296.7 162.1,295.7 162.3,294.7 162.6,293.7 162.8,292.7 163.0,291.7 163.2,290.6 163.4,289.5 163.6,288.3 163.9,287.2 164.1,286.0 164.3,284.8 164.5,283.6 164.7,282.3 164.9,281.1 165.1,279.8 165.4,278.4 165.6,277.1 165.8,275.7 166.0,274.3 166.2,272.9 166.4,271.5 166.7,270.0 166.9,268.5 167.1,267.0 167.3,265.4 167.5,263.9 167.7,262.3 168.0,260.6 168.2,259.0 168.4,257.3 168.6,255.6 168.8,253.9 169.0,252.2 169.3,250.4 169.5,248.6 169.7,246.8 169.9,245.0 170.1,243.1 170.3,242.8 170.5,244.7 170.8,246.5 171.0,248.3 171.2,250.1 171.4,251.9 171.6,253.6 171.8,255.4 172.1,257.1 172.3,258.7 172.5,260.4 172.7,262.0 172.9,263.6 173.1,265.2 173.4,266.7 173.6,268.2 173.8,269.7 174.0,271.2 174.2,272.7 174.4,274.1 174.6,275.5 174.9,276.9 175.1,278.2 175.3,279.6 175.5,280.9 175.7,282.1 175.9,283.4 176.2,284.6 176.4,285.8 176.6,287.0 176.8,288.2 177.0,289.3 177.2,290.4 177.5,291.5 177.7,292.5 177.9,293.6 178.1,294.6 178.3,295.6 178.5,296.5 178.7,297.5 179.0,298.4 179.2,299.2 179.4,300.1 179.6,300.9 179.8,301.8 180.0,302.5 180.3,303.3 180.5,304.0 180.7,304.8 180.9,305.4 181.1,306.1 181.3,306.7 181.6,307.4 181.8,307.9 182.0,308.5 182.2,309.1 182.4,309.6 182.6,310.1 182.8,310.5 183.1,311.0 183.3,311.4 183.5,311.8 183.7,312.1 183.9,312.5 184.1,312.8 184.4,313.1 184.6,313.4 184.8,313.6 185.0,313.8 185.2,314.0 185.4,314.2 185.7,314.3 185.9,314.5 186.1,314.6 186.3,314.6 186.5,314.7 186.7,314.7 186.9,314.7 187.2,314.7 187.4,314.6 187.6,314.6 187.8,314.5 188.0,314.3 188.2,314.2 188.5,314.0 188.7,313.8 188.9,313.6 189.1,313.3 189.3,313.1 189.5,312.8 189.8,312.5 190.0,312.1 190.2,311.7 190.4,311.3 190.6,310.9 190.8,310.5 191.0,310.0 191.3,309.5 191.5,309.0 191.7,308.5 191.9,307.9 192.1,307.3 192.3,306.7 192.6,306.0 192.8,305.4 193.0,304.7 193.2,304.0 193.4,303.2 193.6,302.5 193.9,301.7 194.1,300.9 194.3,300.0 194.5,299.2 194.7,298.3 194.9,297.4 195.1,296.4 195.4,295.5 195.6,294.5 195.8,293.5 196.0,292.4 196.2,291.4 196.4,290.3 196.7,289.2 196.9,288.0 197.1,286.9 197.3,285.7 197.5,284.5 197.7,283.3 198.0,282.0 198.2,280.7 198.4,279.4 198.6,278.1 198.8,276.7 199.0,275.4 199.2,274.0 199.5,272.5 199.7,271.1 199.9,269.6 200.1,268.1 200.3,266.6 200.5,265.0 200.8,263.4 201.0,261.8 201.2,260.2 201.4,258.6 201.6,256.9 201.8,255.2 202.1,253.5 202.3,251.7 202.5,249.9 202.7,248.1 202.9,247.0 203.1,247.1 203.4,247.2 203.6,247.3 203.8,247.4 204.0,247.6 204.2,248.8 204.4,250.6 204.6,252.4 204.9,254.1 205.1,255.8 205.3,257.5 205.5,259.2 205.7,260.8 205.9,262.4 206.2,264.0 206.4,265.6 206.6,267.1 206.8,268.6 207.0,270.1 207.2,271.6 207.5,273.0 207.7,274.5 207.9,275.9 208.1,277.2 208.3,278.6 208.5,279.9 208.7,281.2 209.0,282.5 209.2,283.7 209.4,284.9 209.6,286.1 209.8,287.3 210.0,288.5 210.3,289.6 210.5,290.7 210.7,291.8 210.9,292.8 211.1,293.8 211.3,294.8 211.6,295.8 211.8,296.8 212.0,297.7 212.2,298.6 212.4,299.5 212.6,300.3 212.8,301.2 213.1,302.0 213.3,302.7 213.5,303.5 213.7,304.2 213.9,304.9 214.1,305.6 214.4,306.3 214.6,306.9 214.8,307.5 215.0,308.1 215.2,308.7 215.4,309.2 215.7,309.7 215.9,310.2 216.1,310.6 216.3,311.1 216.5,311.5 216.7,311.9 216.9,312.2 217.2,312.6 217.4,312.9 217.6,313.2 217.8,313.4 218.0,313.7 218.2,313.9 218.5,314.1 218.7,314.2 218.9,314.4 219.1,314.5 219.3,314.6 219.5,314.7 219.8,314.7 220.0,314.7 220.2,314.7 220.4,314.7 220.6,314.6 220.8,314.5 221.0,314.4 221.3,314.3 221.5,314.1 221.7,314.0 221.9,313.8 222.1,313.5 222.3,313.3 222.6,313.0 222.8,312.7 223.0,312.4 223.2,312.0 223.4,311.6 223.6,311.2 223.9,310.8 224.1,310.4 224.3,309.9 224.5,309.4 224.7,308.9 224.9,308.3 225.1,307.7 225.4,307.1 225.6,306.5 225.8,305.9 226.0,305.2 226.2,304.5 226.4,303.8 226.7,303.0 226.9,302.3 227.1,301.5 227.3,300.6 227.5,299.8 227.7,298.9 228.0,298.0 228.2,297.1 228.4,296.2 228.6,295.2 228.8,294.2 229.0,293.2 229.2,292.2 229.5,291.1 229.7,290.0 229.9,288.9 230.1,287.7 230.3,286.6 230.5,285.4 230.8,284.2 231.0,282.9 231.2,281.7 231.4,280.4 231.6,279.1 231.8,277.7 232.1,276.4 232.3,275.0 232.5,273.6 232.7,272.1 232.9,270.7 233.1,269.2 233.3,267.7 233.6,266.2 233.8,264.6 234.0,263.0 234.2,261.4 234.4,259.8 234.6,258.1 234.9,256.4 235.1,254.7 235.3,253.0 235.5,251.2 235.7,249.5 235.9,247.7 236.2,245.8 236.4,244.0 236.6,242.1 236.8,243.8 237.0,245.6 237.2,247.5 237.5,249.3 237.7,251.1 237.9,252.8 238.1,254.5 238.3,256.3 238.5,257.9 238.7,259.6 239.0,261.2 239.2,262.8 239.4,264.4 239.6,266.0 239.8,267.5 240.0,269.0 240.3,270.5 240.5,272.0 240.7,273.4 240.9,274.8 241.1,276.2 241.3,277.6 241.6,278.9 241.8,280.2 242.0,281.5 242.2,282.8 242.4,284.0 242.6,285.3 242.8,286.5 243.1,287.6 243.3,288.8 243.5,289.9 243.7,291.0 243.9,292.0 244.1,293.1 244.4,294.1 244.6,295.1 244.8,296.1 245.0,297.0 245.2,297.9 245.4,298.8 245.7,299.7 245.9,300.6 246.1,301.4 246.3,302.2 246.5,302.9 246.7,303.7 246.9,304.4 247.2,305.1 247.4,305.8 247.6,306.4 247.8,307.1 248.0,307.7 248.2,308.2 248.5,308.8 248.7,309.3 248.9,309.8 249.1,310.3 249.3,310.8 249.5,311.2 249.8,311.6 250.0,312.0 250.2,312.3 250.4,312.7 250.6,313.0 250.8,313.2 251.0,313.5 251.3,313.7 251.5,313.9 251.7,314.1 251.9,314.3 252.1,314.4 252.3,314.5 252.6,314.6 252.8,314.7 253.0,314.7 253.2,314.7 253.4,314.7 253.6,314.7 253.9,314.6 254.1,314.5 254.3,314.4 254.5,314.3 254.7,314.1 254.9,313.9 255.1,313.7 255.4,313.5 255.6,313.2 255.8,312.9 256.0,312.6 256.2,312.3 256.4,311.9 256.7,311.5 256.9,311.1 257.1,310.7 257.3,310.2 257.5,309.8 257.7,309.2 258.0,308.7 258.2,308.2 258.4,307.6 258.6,307.0 258.8,306.3 259.0,305.7 259.2,305.0 259.5,304.3 259.7,303.6 259.9,302.8 260.1,302.1 260.3,301.2 260.5,300.4 260.8,299.6 261.0,298.7 261.2,297.8 261.4,296.9 261.6,295.9 261.8,294.9 262.1,293.9 262.3,292.9 262.5,291.9 262.7,290.8 262.9,289.7 263.1,288.6 263.3,287.4 263.6,286.3 263.8,285.1 264.0,283.9 264.2,282.6 264.4,281.3 264.6,280.0 264.9,278.7 265.1,277.4 265.3,276.0 265.5,274.6 265.7,273.2 265.9,271.8 266.2,270.3 266.4,268.8 266.6,267.3 266.8,265.8 267.0,264.2 267.2,262.6 267.5,261.0 267.7,259.3 267.9,257.7 268.1,256.0 268.3,254.3 268.5,252.5 268.7,250.8 269.0,249.0 269.2,247.2 269.4,245.3 269.6,243.5 269.8,242.4 270.0,244.3 270.3,246.1 270.5,247.9 270.7,249.7 270.9,251.5 271.1,253.3 271.3,255.0 271.6,256.7 271.8,258.4 272.0,260.0 272.2,261.7 272.4,263.3 272.6,264.8 272.8,266.4 273.1,267.9 273.3,269.4 273.5,270.9 273.7,272.4 273.9,273.8 274.1,275.2 274.4,276.6 274.6,277.9 274.8,279.3 275.0,280.6 275.2,281.9 275.4,283.1 275.7,284.4 275.9,285.6 276.1,286.8 276.3,287.9 276.5,289.1 276.7,290.2 276.9,291.3 277.2,292.3 277.4,293.4 277.6,294.4 277.8,295.4 278.0,296.3 278.2,297.3 278.5,298.2 278.7,299.1 278.9,299.9 279.1,300.8 279.3,301.6 279.5,302.4 279.8,303.1 280.0,303.9 280.2,304.6 280.4,305.3 280.6,306.0 280.8,306.6 281.0,307.2 281.3,307.8 281.5,308.4 281.7,308.9 281.9,309.5 282.1,310.0 282.3,310.4 282.6,310.9 282.8,311.3 283.0,311.7 283.2,312.1 283.4,312.4 283.6,312.7 283.9,313.0 284.1,313.3 284.3,313.6 284.5,313.8 284.7,314.0 284.9,314.2 285.1,314.3 285.4,314.4 285.6,314.5 285.8,314.6 286.0,314.7 286.2,314.7 286.4,314.7 286.7,314.7 286.9,314.6 287.1,314.6 287.3,314.5 287.5,314.4 287.7,314.2 288.0,314.0 288.2,313.9 288.4,313.6 288.6,313.4 288.8,313.1 289.0,312.8 289.2,312.5 289.5,312.2 289.7,311.8 289.9,311.4 290.1,311.0 290.3,310.6 290.5,310.1 290.8,309.6 291.0,309.1 291.2,308.6 291.4,308.0 291.6,307.4 291.8,306.8 292.1,306.2 292.3,305.5 292.5,304.8 292.7,304.1 292.9,303.4 293.1,302.6 293.3,301.8 293.6,301.0 293.8,300.2 294.0,299.3 294.2,298.5 294.4,297.6 294.6,296.6 294.9,295.7 295.1,294.7 295.3,293.7 295.5,292.7 295.7,291.6 295.9,290.5 296.2,289.4 296.4,288.3 296.6,287.1 296.8,286.0 297.0,284.8 297.2,283.5 297.4,282.3 297.7,281.0 297.9,279.7 298.1,278.4 298.3,277.0 298.5,275.6 298.7,274.3 299.0,272.8 299.2,271.4 299.4,269.9 299.6,268.4 299.8,266.9 300.0,265.3 300.3,263.8 300.5,262.2 300.7,260.6 300.9,258.9 301.1,257.2 301.3,255.5 301.6,253.8 301.8,252.1 302.0,250.3 302.2,248.5 302.4,246.7 302.6,244.9 302.8,243.0 303.1,242.9 303.3,244.8 303.5,246.6 303.7,248.4 303.9,250.2 304.1,252.0 304.4,253.7 304.6,255.5 304.8,257.1 305.0,258.8 305.2,260.5 305.4,262.1 305.7,263.7 305.9,265.3 306.1,266.8 306.3,268.3 306.5,269.8 306.7,271.3 306.9,272.7 307.2,274.2 307.4,275.6 307.6,276.9 307.8,278.3 308.0,279.6 308.2,280.9 308.5,282.2 308.7,283.5 308.9,284.7 309.1,285.9 309.3,287.1 309.5,288.2 309.8,289.4 310.0,290.5 310.2,291.5 310.4,292.6 310.6,293.6 310.8,294.6 311.0,295.6 311.3,296.6 311.5,297.5 311.7,298.4 311.9,299.3 312.1,300.2 312.3,301.0 312.6,301.8 312.8,302.6 313.0,303.3 313.2,304.1 313.4,304.8 313.6,305.5 313.9,306.1 314.1,306.8 314.3,307.4 314.5,308.0 314.7,308.5 314.9,309.1 315.1,309.6 315.4,310.1 315.6,310.5 315.8,311.0 316.0,311.4 316.2,311.8 316.4,312.2 316.7,312.5 316.9,312.8 317.1,313.1 317.3,313.4 317.5,313.6 317.7,313.8 318.0,314.0 318.2,314.2 318.4,314.4 318.6,314.5 318.8,314.6 319.0,314.6 319.2,314.7 319.5,314.7 319.7,314.7 319.9,314.7 320.1,314.6 320.3,314.6 320.5,314.5 320.8,314.3 321.0,314.2 321.2,314.0 321.4,313.8 321.6,313.6 321.8,313.3 322.1,313.1 322.3,312.8 322.5,312.4 322.7,312.1 322.9,311.7 323.1,311.3 323.3,310.9 323.6,310.5 323.8,310.0 324.0,309.5 324.2,309.0 324.4,308.4 324.6,307.9 324.9,307.3 325.1,306.6 325.3,306.0 325.5,305.3 325.7,304.6 325.9,303.9 326.2,303.2 326.4,302.4 326.6,301.6 326.8,300.8 327.0,300.0 327.2,299.1 327.4,298.2 327.7,297.3 327.9,296.4 328.1,295.4 328.3,294.4 328.5,293.4 328.7,292.4 329.0,291.3 329.2,290.2 329.4,289.1 329.6,288.0 329.8,286.8 330.0,285.6 330.3,284.4 330.5,283.2 330.7,281.9 330.9,280.7 331.1,279.4 331.3,278.0 331.5,276.7 331.8,275.3 332.0,273.9 332.2,272.4 332.4,271.0 332.6,269.5 332.8,268.0 333.1,266.5 333.3,264.9 333.5,263.4 333.7,261.7 333.9,260.1 334.1,258.5 334.4,256.8 334.6,255.1 334.8,253.4 335.0,251.6 335.2,249.8 335.4,248.0 335.7,246.2 335.9,244.4 336.1,242.5 336.3,243.4 336.5,245.2 336.7,247.1 336.9,248.9 337.2,250.7 337.4,252.4 337.6,254.2 337.8,255.9 338.0,257.6 338.2,259.3" fill="none" stroke="#1b6bb4" stroke-width="1.5" stroke-linejoin="round"/>
<line x1="36.3" x2="337.7" y1="315.0" y2="315.0" stroke="#2aa6e2" stroke-width="1.5"/>
<line x1="36.3" x2="337.7" y1="241.8" y2="241.8" stroke="#c9452f" stroke-width="1.6"/>
</g>
<rect x="36.3" y="214.3" width="301.4" height="110.8" fill="none" stroke="#6a6a6a" stroke-width="0.9"/>
<line x1="80.1" x2="80.1" y1="325.1" y2="322.1" stroke="#555" stroke-width="0.8"/>
<line x1="80.1" x2="80.1" y1="214.3" y2="217.3" stroke="#555" stroke-width="0.8"/>
<text x="80.1" y="339.4" font-size="10" font-family='"Liberation Sans", sans-serif' fill="#262626" text-anchor="middle">1</text>
<line x1="135.4" x2="135.4" y1="325.1" y2="322.1" stroke="#555" stroke-width="0.8"/>
<line x1="135.4" x2="135.4" y1="214.3" y2="217.3" stroke="#555" stroke-width="0.8"/>
<text x="135.4" y="339.4" font-size="10" font-family='"Liberation Sans", sans-serif' fill="#262626" text-anchor="middle">2</text>
<line x1="190.7" x2="190.7" y1="325.1" y2="322.1" stroke="#555" stroke-width="0.8"/>
<line x1="190.7" x2="190.7" y1="214.3" y2="217.3" stroke="#555" stroke-width="0.8"/>
<text x="190.7" y="339.4" font-size="10" font-family='"Liberation Sans", sans-serif' fill="#262626" text-anchor="middle">3</text>
<line x1="246.0" x2="246.0" y1="325.1" y2="322.1" stroke="#555" stroke-width="0.8"/>
<line x1="246.0" x2="246.0" y1="214.3" y2="217.3" stroke="#555" stroke-width="0.8"/>
<text x="246.0" y="339.4" font-size="10" font-family='"Liberation Sans", sans-serif' fill="#262626" text-anchor="middle">4</text>
<line x1="301.3" x2="301.3" y1="325.1" y2="322.1" stroke="#555" stroke-width="0.8"/>
<line x1="301.3" x2="301.3" y1="214.3" y2="217.3" stroke="#555" stroke-width="0.8"/>
<text x="301.3" y="339.4" font-size="10" font-family='"Liberation Sans", sans-serif' fill="#262626" text-anchor="middle">5</text>
<line x1="36.3" x2="39.3" y1="214.3" y2="214.3" stroke="#555" stroke-width="0.8"/>
<line x1="337.7" x2="334.7" y1="214.3" y2="214.3" stroke="#555" stroke-width="0.8"/>
<text x="32.9" y="217.9" font-size="10" font-family='"Liberation Sans", sans-serif' fill="#262626" text-anchor="end">2</text>
<line x1="36.3" x2="39.3" y1="242.0" y2="242.0" stroke="#555" stroke-width="0.8"/>
<line x1="337.7" x2="334.7" y1="242.0" y2="242.0" stroke="#555" stroke-width="0.8"/>
<text x="32.9" y="245.6" font-size="10" font-family='"Liberation Sans", sans-serif' fill="#262626" text-anchor="end">0</text>
<line x1="36.3" x2="39.3" y1="269.7" y2="269.7" stroke="#555" stroke-width="0.8"/>
<line x1="337.7" x2="334.7" y1="269.7" y2="269.7" stroke="#555" stroke-width="0.8"/>
<text x="32.9" y="273.3" font-size="10" font-family='"Liberation Sans", sans-serif' fill="#262626" text-anchor="end">-2</text>
<line x1="36.3" x2="39.3" y1="297.4" y2="297.4" stroke="#555" stroke-width="0.8"/>
<line x1="337.7" x2="334.7" y1="297.4" y2="297.4" stroke="#555" stroke-width="0.8"/>
<text x="32.9" y="301.0" font-size="10" font-family='"Liberation Sans", sans-serif' fill="#262626" text-anchor="end">-4</text>
<line x1="36.3" x2="39.3" y1="325.1" y2="325.1" stroke="#555" stroke-width="0.8"/>
<line x1="337.7" x2="334.7" y1="325.1" y2="325.1" stroke="#555" stroke-width="0.8"/>
<text x="32.9" y="328.7" font-size="10" font-family='"Liberation Sans", sans-serif' fill="#262626" text-anchor="end">-6</text>
<text x="190.5" y="351.5" font-size="12" font-family='"Liberation Sans", sans-serif' fill="#262626" text-anchor="middle" textLength="20.3" lengthAdjust="spacingAndGlyphs">mm</text>
<text x="15.6" y="271.5" font-size="14.5" font-family='"Liberation Serif", serif' fill="#262626" text-anchor="middle" textLength="19" lengthAdjust="spacingAndGlyphs" transform="rotate(-90 15.6 271.5)">µm</text>
<text x="7.4" y="197.0" font-size="14" font-family='"Liberation Sans", sans-serif' fill="#000" textLength="15.2" lengthAdjust="spacingAndGlyphs">(c)</text>
<rect x="403.4" y="219.3" width="168.8" height="93.3" fill="#fff"/>
<line x1="445.7" x2="445.7" y1="219.3" y2="312.6" stroke="#e4e4e4" stroke-width="0.8"/>
<line x1="487.7" x2="487.7" y1="219.3" y2="312.6" stroke="#e4e4e4" stroke-width="0.8"/>
<line x1="529.7" x2="529.7" y1="219.3" y2="312.6" stroke="#e4e4e4" stroke-width="0.8"/>
<line x1="403.4" x2="572.2" y1="232.6" y2="232.6" stroke="#e4e4e4" stroke-width="0.8"/>
<line x1="403.4" x2="572.2" y1="259.3" y2="259.3" stroke="#e4e4e4" stroke-width="0.8"/>
<line x1="403.4" x2="572.2" y1="285.9" y2="285.9" stroke="#e4e4e4" stroke-width="0.8"/>
<clipPath id="cld"><rect x="403.4" y="219.3" width="168.8" height="93.3"/></clipPath>
<g clip-path="url(#cld)" fill="none" stroke-linejoin="round">
<line x1="424.9" x2="424.9" y1="232.6" y2="302.4" stroke="#e8566a" stroke-width="1.2"/>
<line x1="424.4" x2="488.4" y1="302.3" y2="302.3" stroke="#1f5f7c" stroke-width="1.3"/>
<polyline points="403.7,270.1 404.1,269.4 404.5,268.8 405.0,268.2 405.4,267.6 405.8,266.9 406.2,266.3 406.6,265.7 407.1,265.0 407.5,264.4 407.9,263.7 408.3,263.0 408.8,262.4 409.2,261.7 409.6,261.0 410.0,260.3 410.4,259.6 410.9,258.9 411.3,258.2 411.7,257.5 412.1,256.8 412.5,256.1 413.0,255.3 413.4,254.6 413.8,253.9 414.2,253.1 414.6,252.4 415.1,251.6 415.5,250.9 415.9,250.1 416.3,249.3 416.8,248.6 417.2,247.8 417.6,247.0 418.0,246.2 418.4,245.4 418.9,244.6 419.3,243.8 419.7,243.0 420.1,242.2 420.5,241.4 421.0,240.5 421.4,239.7 421.8,238.9 422.2,238.0 422.6,237.2 423.1,236.3 423.5,235.4 423.9,234.6 424.3,233.7 424.8,232.8 425.2,232.2 425.6,233.1 426.0,233.9 426.4,234.8 426.9,235.7 427.3,236.5 427.7,237.4 428.1,238.2 428.5,239.1 429.0,239.9 429.4,240.7 429.8,241.6 430.2,242.4 430.6,243.2 431.1,244.0 431.5,244.8 431.9,245.6 432.3,246.4 432.8,247.2 433.2,248.0 433.6,248.8 434.0,249.5 434.4,250.3 434.9,251.1 435.3,251.8 435.7,252.6 436.1,253.3 436.5,254.1 437.0,254.8 437.4,255.5 437.8,256.3 438.2,257.0 438.6,257.7 439.1,258.4 439.5,259.1 439.9,259.8 440.3,260.5 440.8,261.2 441.2,261.9 441.6,262.5 442.0,263.2 442.4,263.9 442.9,264.5 443.3,265.2 443.7,265.8 444.1,266.5 444.5,267.1 445.0,267.7 445.4,268.4 445.8,269.0 446.2,269.6 446.6,270.2 447.1,270.8 447.5,271.4 447.9,272.0 448.3,272.6 448.8,273.2 449.2,273.7 449.6,274.3 450.0,274.9 450.4,275.4 450.9,276.0 451.3,276.5 451.7,277.1 452.1,277.6 452.5,278.2 453.0,278.7 453.4,279.2 453.8,279.7 454.2,280.2 454.6,280.7 455.1,281.2 455.5,281.7 455.9,282.2 456.3,282.7 456.8,283.2 457.2,283.6 457.6,284.1 458.0,284.5 458.4,285.0 458.9,285.4 459.3,285.9 459.7,286.3 460.1,286.7 460.5,287.2 461.0,287.6 461.4,288.0 461.8,288.4 462.2,288.8 462.6,289.2 463.1,289.6 463.5,290.0 463.9,290.3 464.3,290.7 464.8,291.1 465.2,291.4 465.6,291.8 466.0,292.1 466.4,292.5 466.9,292.8 467.3,293.1 467.7,293.5 468.1,293.8 468.5,294.1 469.0,294.4 469.4,294.7 469.8,295.0 470.2,295.3 470.6,295.6 471.1,295.8 471.5,296.1 471.9,296.4 472.3,296.6 472.8,296.9 473.2,297.1 473.6,297.4 474.0,297.6 474.4,297.8 474.9,298.0 475.3,298.3 475.7,298.5 476.1,298.7 476.5,298.9 477.0,299.1 477.4,299.2 477.8,299.4 478.2,299.6 478.6,299.7 479.1,299.9 479.5,300.1 479.9,300.2 480.3,300.3 480.8,300.5 481.2,300.6 481.6,300.7 482.0,300.8 482.4,300.9 482.9,301.0 483.3,301.1 483.7,301.2 484.1,301.3 484.5,301.4 485.0,301.4 485.4,301.5 485.8,301.5 486.2,301.6 486.6,301.6 487.1,301.6 487.5,301.6 487.9,301.6 488.3,301.6 488.8,301.6 489.2,301.6 489.6,301.6 490.0,301.6 490.4,301.5 490.9,301.5 491.3,301.4 491.7,301.4 492.1,301.3 492.5,301.2 493.0,301.1 493.4,301.0 493.8,300.9 494.2,300.8 494.6,300.7 495.1,300.6 495.5,300.5 495.9,300.3 496.3,300.2 496.8,300.1 497.2,299.9 497.6,299.7 498.0,299.6 498.4,299.4 498.9,299.2 499.3,299.1 499.7,298.9 500.1,298.7 500.5,298.5 501.0,298.3 501.4,298.0 501.8,297.8 502.2,297.6 502.6,297.4 503.1,297.1 503.5,296.9 503.9,296.6 504.3,296.4 504.8,296.1 505.2,295.8 505.6,295.6 506.0,295.3 506.4,295.0 506.9,294.7 507.3,294.4 507.7,294.1 508.1,293.8 508.5,293.5 509.0,293.1 509.4,292.8 509.8,292.5 510.2,292.1 510.6,291.8 511.1,291.4 511.5,291.1 511.9,290.7 512.3,290.3 512.8,290.0 513.2,289.6 513.6,289.2 514.0,288.8 514.4,288.4 514.9,288.0 515.3,287.6 515.7,287.2 516.1,286.7 516.5,286.3 517.0,285.9 517.4,285.4 517.8,285.0 518.2,284.5 518.6,284.1 519.1,283.6 519.5,283.2 519.9,282.7 520.3,282.2 520.8,281.7 521.2,281.2 521.6,280.7 522.0,280.2 522.4,279.7 522.9,279.2 523.3,278.7 523.7,278.2 524.1,277.6 524.5,277.1 525.0,276.5 525.4,276.0 525.8,275.4 526.2,274.9 526.6,274.3 527.1,273.7 527.5,273.2 527.9,272.6 528.3,272.0 528.8,271.4 529.2,270.8 529.6,270.2 530.0,269.6 530.4,269.0 530.9,268.4 531.3,267.7 531.7,267.1 532.1,266.5 532.5,265.8 533.0,265.2 533.4,264.5 533.8,263.9 534.2,263.2 534.6,262.5 535.1,261.9 535.5,261.2 535.9,260.5 536.3,259.8 536.8,259.1 537.2,258.4 537.6,257.7 538.0,257.0 538.4,256.3 538.9,255.5 539.3,254.8 539.7,254.1 540.1,253.3 540.5,252.6 541.0,251.8 541.4,251.1 541.8,250.3 542.2,249.5 542.6,248.8 543.1,248.0 543.5,247.2 543.9,246.4 544.3,245.6 544.8,244.8 545.2,244.0 545.6,243.2 546.0,242.4 546.4,241.6 546.9,240.7 547.3,239.9 547.7,239.1 548.1,238.2 548.5,237.4 549.0,236.5 549.4,235.7 549.8,234.8 550.2,233.9 550.6,233.1 551.1,232.2 551.5,232.8 551.9,233.7 552.3,234.6 552.8,235.5 553.2,236.3 553.6,237.2 554.0,238.0 554.4,238.9 554.9,239.7 555.3,240.5 555.7,241.4 556.1,242.2 556.5,243.0 557.0,243.8 557.4,244.6 557.8,245.4 558.2,246.2 558.6,247.0 559.1,247.8 559.5,248.6 559.9,249.4 560.3,250.1 560.8,250.9 561.2,251.6 561.6,252.4 562.0,253.1 562.4,253.9 562.9,254.6 563.3,255.4 563.7,256.1 564.1,256.8 564.5,257.5 565.0,258.2 565.4,258.9 565.8,259.6 566.2,260.3 566.6,261.0 567.1,261.7 567.5,262.4 567.9,263.0 568.3,263.7 568.8,264.4 569.2,265.0 569.6,265.7 570.0,266.3 570.4,266.9 570.9,267.6 571.3,268.2 571.7,268.8" stroke="#0072bd" stroke-width="1.5"/>
<polyline points="403.7,272.0 404.1,271.4 404.5,270.8 405.0,270.2 405.4,269.5 405.8,268.9 406.2,268.3 406.6,267.6 407.1,267.0 407.5,266.3 407.9,265.7 408.3,265.0 408.8,264.4 409.2,263.7 409.6,263.0 410.0,262.3 410.4,261.6 410.9,261.0 411.3,260.3 411.7,259.5 412.1,258.8 412.5,258.1 413.0,257.4 413.4,256.7 413.8,255.9 414.2,255.2 414.6,254.5 415.1,253.7 415.5,253.0 415.9,252.2 416.3,251.4 416.8,250.7 417.2,249.9 417.6,249.1 418.0,248.3 418.4,247.5 418.9,246.8 419.3,245.9 419.7,245.1 420.1,244.3 420.5,243.5 421.0,242.7 421.4,241.9 421.8,241.0 422.2,240.2 422.6,239.3 423.1,238.5 423.5,237.6 423.9,236.8 424.3,235.9 424.8,235.0 425.2,234.2 425.6,233.5 426.0,234.4 426.4,235.3 426.9,236.1 427.3,237.0 427.7,237.9 428.1,238.7 428.5,239.6 429.0,240.4 429.4,241.2 429.8,242.1 430.2,242.9 430.6,243.7 431.1,244.5 431.5,245.4 431.9,246.2 432.3,247.0 432.8,247.8 433.2,248.5 433.6,249.3 434.0,250.1 434.4,250.9 434.9,251.6 435.3,252.4 435.7,253.2 436.1,253.9 436.5,254.7 437.0,255.4 437.4,256.1 437.8,256.9 438.2,257.6 438.6,258.3 439.1,259.0 439.5,259.7 439.9,260.4 440.3,261.1 440.8,261.8 441.2,262.5 441.6,263.2 442.0,263.9 442.4,264.5 442.9,265.2 443.3,265.9 443.7,266.5 444.1,267.2 444.5,267.8 445.0,268.4 445.4,269.1 445.8,269.7 446.2,270.3 446.6,270.9 447.1,271.5 447.5,272.1 447.9,272.7 448.3,273.3 448.8,273.9 449.2,274.5 449.6,275.1 450.0,275.7 450.4,276.2 450.9,276.8 451.3,277.3 451.7,277.9 452.1,278.4 452.5,279.0 453.0,279.5 453.4,280.0 453.8,280.5 454.2,281.0 454.6,281.6 455.1,282.1 455.5,282.6 455.9,283.0 456.3,283.5 456.8,284.0 457.2,284.5 457.6,285.0 458.0,285.4 458.4,285.9 458.9,286.3 459.3,286.8 459.7,287.2 460.1,287.7 460.5,288.1 461.0,288.5 461.4,288.9 461.8,289.3 462.2,289.7 462.6,290.1 463.1,290.5 463.5,290.9 463.9,291.3 464.3,291.7 464.8,292.0 465.2,292.4 465.6,292.8 466.0,293.1 466.4,293.5 466.9,293.8 467.3,294.1 467.7,294.5 468.1,294.8 468.5,295.1 469.0,295.4 469.4,295.7 469.8,296.0 470.2,296.3 470.6,296.6 471.1,296.9 471.5,297.2 471.9,297.4 472.3,297.7 472.8,298.0 473.2,298.2 473.6,298.5 474.0,298.7 474.4,298.9 474.9,299.2 475.3,299.4 475.7,299.6 476.1,299.8 476.5,300.0 477.0,300.2 477.4,300.4 477.8,300.6 478.2,300.7 478.6,300.9 479.1,301.1 479.5,301.2 479.9,301.4 480.3,301.5 480.8,301.7 481.2,301.8 481.6,301.9 482.0,302.0 482.4,302.2 482.9,302.3 483.3,302.4 483.7,302.5 484.1,302.5 484.5,302.6 485.0,302.7 485.4,302.7 485.8,302.8 486.2,302.9 486.6,302.9 487.1,302.9 487.5,303.0 487.9,303.0 488.3,303.0 488.8,303.0 489.2,303.0 489.6,303.0 490.0,302.9 490.4,302.9 490.9,302.9 491.3,302.8 491.7,302.7 492.1,302.7 492.5,302.6 493.0,302.5 493.4,302.5 493.8,302.4 494.2,302.3 494.6,302.2 495.1,302.0 495.5,301.9 495.9,301.8 496.3,301.7 496.8,301.5 497.2,301.4 497.6,301.2 498.0,301.1 498.4,300.9 498.9,300.7 499.3,300.6 499.7,300.4 500.1,300.2 500.5,300.0 501.0,299.8 501.4,299.6 501.8,299.4 502.2,299.2 502.6,298.9 503.1,298.7 503.5,298.5 503.9,298.2 504.3,298.0 504.8,297.7 505.2,297.4 505.6,297.2 506.0,296.9 506.4,296.6 506.9,296.3 507.3,296.0 507.7,295.7 508.1,295.4 508.5,295.1 509.0,294.8 509.4,294.5 509.8,294.1 510.2,293.8 510.6,293.5 511.1,293.1 511.5,292.8 511.9,292.4 512.3,292.0 512.8,291.7 513.2,291.3 513.6,290.9 514.0,290.5 514.4,290.1 514.9,289.7 515.3,289.3 515.7,288.9 516.1,288.5 516.5,288.1 517.0,287.6 517.4,287.2 517.8,286.8 518.2,286.3 518.6,285.9 519.1,285.4 519.5,285.0 519.9,284.5 520.3,284.0 520.8,283.5 521.2,283.0 521.6,282.6 522.0,282.1 522.4,281.6 522.9,281.0 523.3,280.5 523.7,280.0 524.1,279.5 524.5,279.0 525.0,278.4 525.4,277.9 525.8,277.3 526.2,276.8 526.6,276.2 527.1,275.6 527.5,275.1 527.9,274.5 528.3,273.9 528.8,273.3 529.2,272.7 529.6,272.1 530.0,271.5 530.4,270.9 530.9,270.3 531.3,269.7 531.7,269.1 532.1,268.4 532.5,267.8 533.0,267.2 533.4,266.5 533.8,265.9 534.2,265.2 534.6,264.5 535.1,263.9 535.5,263.2 535.9,262.5 536.3,261.8 536.8,261.1 537.2,260.4 537.6,259.7 538.0,259.0 538.4,258.3 538.9,257.6 539.3,256.9 539.7,256.1 540.1,255.4 540.5,254.7 541.0,253.9 541.4,253.2 541.8,252.4 542.2,251.6 542.6,250.9 543.1,250.1 543.5,249.3 543.9,248.5 544.3,247.7 544.8,247.0 545.2,246.2 545.6,245.3 546.0,244.5 546.4,243.7 546.9,242.9 547.3,242.1 547.7,241.2 548.1,240.4 548.5,239.6 549.0,238.7 549.4,237.9 549.8,237.0 550.2,236.1 550.6,235.3 551.1,234.4 551.5,233.5 551.9,234.2 552.3,235.1 552.8,235.9 553.2,236.8 553.6,237.6 554.0,238.5 554.4,239.4 554.9,240.2 555.3,241.0 555.7,241.9 556.1,242.7 556.5,243.5 557.0,244.3 557.4,245.2 557.8,246.0 558.2,246.8 558.6,247.6 559.1,248.3 559.5,249.1 559.9,249.9 560.3,250.7 560.8,251.5 561.2,252.2 561.6,253.0 562.0,253.7 562.4,254.5 562.9,255.2 563.3,256.0 563.7,256.7 564.1,257.4 564.5,258.1 565.0,258.8 565.4,259.6 565.8,260.3 566.2,261.0 566.6,261.7 567.1,262.3 567.5,263.0 567.9,263.7 568.3,264.4 568.8,265.0 569.2,265.7 569.6,266.4 570.0,267.0 570.4,267.6 570.9,268.3 571.3,268.9 571.7,269.5" stroke="#d95319" stroke-width="2.3"/>
<polyline points="403.7,271.8 404.1,271.2 404.5,270.6 405.0,270.0 405.4,269.4 405.8,268.7 406.2,268.1 406.6,267.5 407.1,266.8 407.5,266.2 407.9,265.5 408.3,264.9 408.8,264.2 409.2,263.6 409.6,262.9 410.0,262.2 410.4,261.5 410.9,260.8 411.3,260.2 411.7,259.5 412.1,258.7 412.5,258.0 413.0,257.3 413.4,256.6 413.8,255.9 414.2,255.1 414.6,254.4 415.1,253.7 415.5,252.9 415.9,252.2 416.3,251.4 416.8,250.6 417.2,249.9 417.6,249.1 418.0,248.3 418.4,247.5 418.9,246.7 419.3,245.9 419.7,245.1 420.1,244.3 420.5,243.5 421.0,242.7 421.4,241.9 421.8,241.1 422.2,240.2 422.6,239.4 423.1,238.5 423.5,237.7 423.9,236.8 424.3,236.0 424.8,235.1 425.2,234.2 425.6,233.4 426.0,232.7 426.4,233.6 426.9,234.5 427.3,235.3 427.7,236.2 428.1,237.1 428.5,237.9 429.0,238.8 429.4,239.6 429.8,240.4 430.2,241.3 430.6,242.1 431.1,242.9 431.5,243.7 431.9,244.6 432.3,245.4 432.8,246.2 433.2,247.0 433.6,247.7 434.0,248.5 434.4,249.3 434.9,250.1 435.3,250.8 435.7,251.6 436.1,252.4 436.5,253.1 437.0,253.9 437.4,254.6 437.8,255.3 438.2,256.1 438.6,256.8 439.1,257.5 439.5,258.2 439.9,258.9 440.3,259.6 440.8,260.3 441.2,261.0 441.6,261.7 442.0,262.4 442.4,263.1 442.9,263.7 443.3,264.4 443.7,265.1 444.1,265.7 444.5,266.4 445.0,267.0 445.4,267.6 445.8,268.3 446.2,268.9 446.6,269.5 447.1,270.1 447.5,270.7 447.9,271.3 448.3,271.9 448.8,272.5 449.2,273.1 449.6,273.7 450.0,274.3 450.4,274.9 450.9,275.4 451.3,276.0 451.7,276.5 452.1,277.1 452.5,277.6 453.0,278.2 453.4,278.7 453.8,279.2 454.2,279.7 454.6,280.2 455.1,280.8 455.5,281.3 455.9,281.8 456.3,282.2 456.8,282.7 457.2,283.2 457.6,283.7 458.0,284.2 458.4,284.6 458.9,285.1 459.3,285.5 459.7,286.0 460.1,286.4 460.5,286.9 461.0,287.3 461.4,287.7 461.8,288.1 462.2,288.5 462.6,288.9 463.1,289.3 463.5,289.7 463.9,290.1 464.3,290.5 464.8,290.9 465.2,291.2 465.6,291.6 466.0,292.0 466.4,292.3 466.9,292.7 467.3,293.0 467.7,293.3 468.1,293.7 468.5,294.0 469.0,294.3 469.4,294.6 469.8,294.9 470.2,295.2 470.6,295.5 471.1,295.8 471.5,296.1 471.9,296.4 472.3,296.6 472.8,296.9 473.2,297.2 473.6,297.4 474.0,297.7 474.4,297.9 474.9,298.1 475.3,298.4 475.7,298.6 476.1,298.8 476.5,299.0 477.0,299.2 477.4,299.4 477.8,299.6 478.2,299.8 478.6,299.9 479.1,300.1 479.5,300.3 479.9,300.4 480.3,300.6 480.8,300.7 481.2,300.9 481.6,301.0 482.0,301.1 482.4,301.2 482.9,301.4 483.3,301.5 483.7,301.6 484.1,301.7 484.5,301.7 485.0,301.8 485.4,301.9 485.8,301.9 486.2,302.0 486.6,302.1 487.1,302.1 487.5,302.1 487.9,302.2 488.3,302.2 488.8,302.2 489.2,302.2 489.6,302.2 490.0,302.2 490.4,302.1 490.9,302.1 491.3,302.1 491.7,302.0 492.1,301.9 492.5,301.9 493.0,301.8 493.4,301.7 493.8,301.7 494.2,301.6 494.6,301.5 495.1,301.4 495.5,301.2 495.9,301.1 496.3,301.0 496.8,300.9 497.2,300.7 497.6,300.6 498.0,300.4 498.4,300.3 498.9,300.1 499.3,299.9 499.7,299.8 500.1,299.6 500.5,299.4 501.0,299.2 501.4,299.0 501.8,298.8 502.2,298.6 502.6,298.4 503.1,298.1 503.5,297.9 503.9,297.7 504.3,297.4 504.8,297.2 505.2,296.9 505.6,296.6 506.0,296.4 506.4,296.1 506.9,295.8 507.3,295.5 507.7,295.2 508.1,294.9 508.5,294.6 509.0,294.3 509.4,294.0 509.8,293.7 510.2,293.3 510.6,293.0 511.1,292.7 511.5,292.3 511.9,292.0 512.3,291.6 512.8,291.2 513.2,290.9 513.6,290.5 514.0,290.1 514.4,289.7 514.9,289.3 515.3,288.9 515.7,288.5 516.1,288.1 516.5,287.7 517.0,287.3 517.4,286.8 517.8,286.4 518.2,286.0 518.6,285.5 519.1,285.1 519.5,284.6 519.9,284.2 520.3,283.7 520.8,283.2 521.2,282.7 521.6,282.2 522.0,281.7 522.4,281.3 522.9,280.7 523.3,280.2 523.7,279.7 524.1,279.2 524.5,278.7 525.0,278.2 525.4,277.6 525.8,277.1 526.2,276.5 526.6,276.0 527.1,275.4 527.5,274.8 527.9,274.3 528.3,273.7 528.8,273.1 529.2,272.5 529.6,271.9 530.0,271.3 530.4,270.7 530.9,270.1 531.3,269.5 531.7,268.9 532.1,268.3 532.5,267.6 533.0,267.0 533.4,266.4 533.8,265.7 534.2,265.1 534.6,264.4 535.1,263.7 535.5,263.1 535.9,262.4 536.3,261.7 536.8,261.0 537.2,260.3 537.6,259.6 538.0,258.9 538.4,258.2 538.9,257.5 539.3,256.8 539.7,256.1 540.1,255.3 540.5,254.6 541.0,253.9 541.4,253.1 541.8,252.4 542.2,251.6 542.6,250.8 543.1,250.1 543.5,249.3 543.9,248.5 544.3,247.7 544.8,246.9 545.2,246.1 545.6,245.3 546.0,244.5 546.4,243.7 546.9,242.9 547.3,242.1 547.7,241.3 548.1,240.4 548.5,239.6 549.0,238.8 549.4,237.9 549.8,237.1 550.2,236.2 550.6,235.3 551.1,234.5 551.5,233.6 551.9,232.7 552.3,233.4 552.8,234.3 553.2,235.1 553.6,236.0 554.0,236.9 554.4,237.7 554.9,238.6 555.3,239.4 555.7,240.2 556.1,241.1 556.5,241.9 557.0,242.7 557.4,243.5 557.8,244.4 558.2,245.2 558.6,246.0 559.1,246.8 559.5,247.5 559.9,248.3 560.3,249.1 560.8,249.9 561.2,250.7 561.6,251.4 562.0,252.2 562.4,252.9 562.9,253.7 563.3,254.4 563.7,255.2 564.1,255.9 564.5,256.6 565.0,257.3 565.4,258.0 565.8,258.8 566.2,259.5 566.6,260.2 567.1,260.9 567.5,261.5 567.9,262.2 568.3,262.9 568.8,263.6 569.2,264.2 569.6,264.9 570.0,265.6 570.4,266.2 570.9,266.8 571.3,267.5 571.7,268.1" stroke="#eda820" stroke-width="2.0"/>
</g>
<rect x="403.4" y="219.3" width="168.8" height="93.3" fill="none" stroke="#6a6a6a" stroke-width="0.9"/>
<line x1="403.7" x2="403.7" y1="312.6" y2="310.1" stroke="#555" stroke-width="0.8"/>
<line x1="403.7" x2="403.7" y1="219.3" y2="221.8" stroke="#555" stroke-width="0.8"/>
<text x="403.7" y="327.4" font-size="11" font-family='"Liberation Sans", sans-serif' fill="#262626" text-anchor="middle">-0.4</text>
<line x1="445.7" x2="445.7" y1="312.6" y2="310.1" stroke="#555" stroke-width="0.8"/>
<line x1="445.7" x2="445.7" y1="219.3" y2="221.8" stroke="#555" stroke-width="0.8"/>
<text x="445.7" y="327.4" font-size="11" font-family='"Liberation Sans", sans-serif' fill="#262626" text-anchor="middle">-0.2</text>
<line x1="487.7" x2="487.7" y1="312.6" y2="310.1" stroke="#555" stroke-width="0.8"/>
<line x1="487.7" x2="487.7" y1="219.3" y2="221.8" stroke="#555" stroke-width="0.8"/>
<text x="487.7" y="327.4" font-size="11" font-family='"Liberation Sans", sans-serif' fill="#262626" text-anchor="middle">0</text>
<line x1="529.7" x2="529.7" y1="312.6" y2="310.1" stroke="#555" stroke-width="0.8"/>
<line x1="529.7" x2="529.7" y1="219.3" y2="221.8" stroke="#555" stroke-width="0.8"/>
<text x="529.7" y="327.4" font-size="11" font-family='"Liberation Sans", sans-serif' fill="#262626" text-anchor="middle">0.2</text>
<line x1="571.7" x2="571.7" y1="312.6" y2="310.1" stroke="#555" stroke-width="0.8"/>
<line x1="571.7" x2="571.7" y1="219.3" y2="221.8" stroke="#555" stroke-width="0.8"/>
<text x="571.7" y="327.4" font-size="11" font-family='"Liberation Sans", sans-serif' fill="#262626" text-anchor="middle">0.4</text>
<line x1="403.4" x2="405.9" y1="232.6" y2="232.6" stroke="#555" stroke-width="0.8"/>
<line x1="572.2" x2="569.7" y1="232.6" y2="232.6" stroke="#555" stroke-width="0.8"/>
<text x="400.6" y="236.5" font-size="11" font-family='"Liberation Sans", sans-serif' fill="#262626" text-anchor="end">0</text>
<line x1="403.4" x2="405.9" y1="259.3" y2="259.3" stroke="#555" stroke-width="0.8"/>
<line x1="572.2" x2="569.7" y1="259.3" y2="259.3" stroke="#555" stroke-width="0.8"/>
<text x="400.6" y="263.2" font-size="11" font-family='"Liberation Sans", sans-serif' fill="#262626" text-anchor="end">-2</text>
<line x1="403.4" x2="405.9" y1="285.9" y2="285.9" stroke="#555" stroke-width="0.8"/>
<line x1="572.2" x2="569.7" y1="285.9" y2="285.9" stroke="#555" stroke-width="0.8"/>
<text x="400.6" y="289.8" font-size="11" font-family='"Liberation Sans", sans-serif' fill="#262626" text-anchor="end">-4</text>
<line x1="403.4" x2="405.9" y1="312.6" y2="312.6" stroke="#555" stroke-width="0.8"/>
<line x1="572.2" x2="569.7" y1="312.6" y2="312.6" stroke="#555" stroke-width="0.8"/>
<text x="400.6" y="316.5" font-size="11" font-family='"Liberation Sans", sans-serif' fill="#262626" text-anchor="end">-6</text>
<text x="488.2" y="342" font-size="12" font-family='"Liberation Sans", sans-serif' fill="#262626" text-anchor="middle" textLength="20.4" lengthAdjust="spacingAndGlyphs">mm</text>
<text x="383.8" y="271.5" font-size="14.5" font-family='"Liberation Serif", serif' fill="#262626" text-anchor="middle" textLength="19" lengthAdjust="spacingAndGlyphs" transform="rotate(-90 383.8 271.5)">µm</text>
<text x="368.3" y="197.4" font-size="14" font-family='"Liberation Sans", sans-serif' fill="#000" textLength="16.2" lengthAdjust="spacingAndGlyphs">(d)</text>
<text x="426.9" y="300.3" font-size="11.5" font-family='"Liberation Serif", serif' fill="#000" textLength="43" lengthAdjust="spacingAndGlyphs">300.7µm</text>
<text x="421.4" y="293.2" font-size="11.5" font-family='"Liberation Serif", serif' fill="#000" textLength="35.4" lengthAdjust="spacingAndGlyphs" transform="rotate(-90 421.4 293.2)">5.22µm</text>
<rect x="455.6" y="223.4" width="64.4" height="43.5" fill="#fff" stroke="#7a7a7a" stroke-width="0.8"/>
<line x1="457.1" x2="466" y1="231.5" y2="231.5" stroke="#0072bd" stroke-width="1.5"/>
<text x="466.9" y="235.3" font-size="11" font-family='"Liberation Sans", sans-serif' fill="#000" textLength="51.5" lengthAdjust="spacingAndGlyphs">A-A profile</text>
<line x1="457.1" x2="466" y1="245.6" y2="245.6" stroke="#d95319" stroke-width="1.5"/>
<text x="466.9" y="249.4" font-size="11" font-family='"Liberation Sans", sans-serif' fill="#000" textLength="51.5" lengthAdjust="spacingAndGlyphs">B-B profile</text>
<line x1="457.1" x2="466" y1="259.7" y2="259.7" stroke="#edb120" stroke-width="1.5"/>
<text x="466.9" y="263.5" font-size="11" font-family='"Liberation Sans", sans-serif' fill="#000" textLength="51.5" lengthAdjust="spacingAndGlyphs">C-C profile</text>
<text x="7.0" y="15.2" font-size="14" font-family='"Liberation Sans", sans-serif' fill="#000" textLength="15.5" lengthAdjust="spacingAndGlyphs">(a)</text>
<text x="362.4" y="15.2" font-size="14" font-family='"Liberation Sans", sans-serif' fill="#000" textLength="15.8" lengthAdjust="spacingAndGlyphs">(b)</text>
</svg></body></html>
